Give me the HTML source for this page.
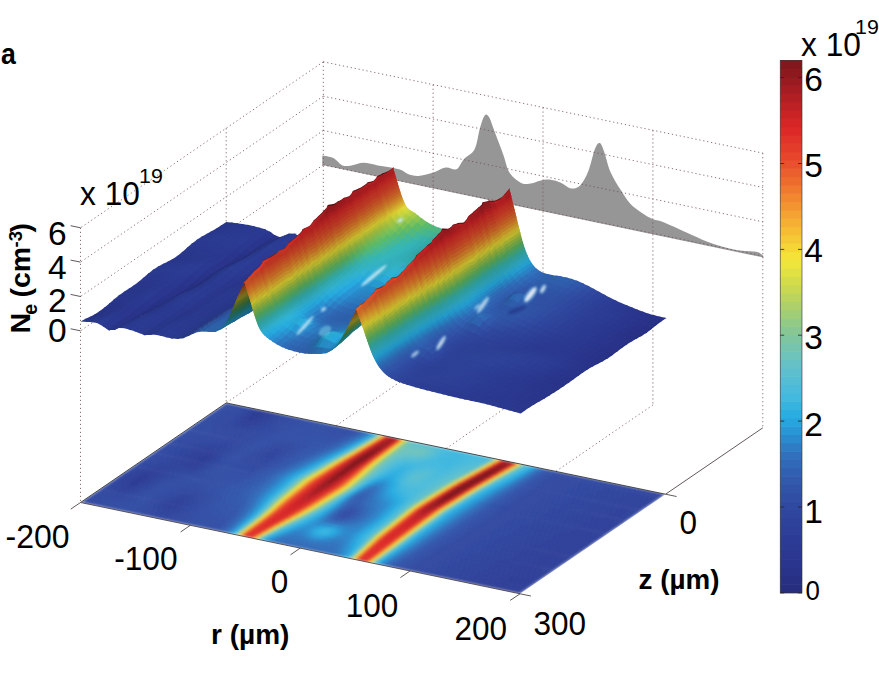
<!DOCTYPE html><html><head><meta charset="utf-8"><style>html,body{margin:0;padding:0;background:#fff;overflow:hidden}svg{display:block}text{font-family:"Liberation Sans",sans-serif}</style></head><body><svg width="879" height="673" viewBox="0 0 879 673"><rect width="879" height="673" fill="#fff"/><path d="M322.3 155.5C324.1 155.9 329.9 156.4 333.3 158.1C336.7 159.8 339.4 164.2 342.5 165.4C345.6 166.6 348.1 165.8 351.6 165.4C355.1 165.0 359.0 162.8 363.4 162.8C367.8 162.8 373.2 164.6 377.8 165.4C382.4 166.2 387.0 166.7 390.9 167.5C394.8 168.3 398.5 169.0 401.3 170.1C404.1 171.2 405.1 173.0 407.9 174.0C410.7 175.0 414.2 176.1 418.3 175.9C422.4 175.7 428.1 174.1 432.7 172.7C437.3 171.3 441.9 168.1 445.8 167.5C449.7 166.9 453.2 170.7 456.3 169.3C459.4 167.9 461.1 162.2 464.1 158.9C467.2 155.6 472.0 154.2 474.6 149.2C477.2 144.2 478.2 134.4 479.8 128.8C481.4 123.2 483.0 117.7 484.5 115.7C486.0 113.7 487.2 114.0 489.0 117.0C490.8 120.0 493.1 127.7 495.5 134.0C497.9 140.3 501.0 148.3 503.4 154.9C505.8 161.5 506.8 168.6 509.9 173.3C513.0 178.0 518.0 181.5 521.7 183.2C525.4 184.8 529.2 183.6 532.2 183.2C535.2 182.8 537.0 181.3 540.0 180.7C543.0 180.1 547.0 179.3 550.5 179.7C554.0 180.0 557.4 181.3 560.9 182.8C564.4 184.3 568.1 188.2 571.4 188.5C574.7 188.8 577.8 187.8 580.6 184.9C583.4 182.0 586.0 177.0 588.4 171.0C590.8 165.0 593.1 153.5 595.0 148.8C596.9 144.1 598.2 142.6 599.7 143.0C601.2 143.4 602.3 146.5 604.1 151.4C605.9 156.3 607.8 165.8 610.6 172.3C613.4 178.8 617.8 185.4 621.1 190.6C624.4 195.8 626.8 200.0 630.3 203.7C633.8 207.4 638.3 210.4 642.0 212.9C645.7 215.4 649.0 217.4 652.5 218.9C656.0 220.4 657.3 219.7 663.0 222.0C668.7 224.3 679.1 229.2 686.5 232.5C693.9 235.8 700.5 239.1 707.5 241.7C714.5 244.3 722.5 246.7 728.4 248.2C734.3 249.7 738.0 250.2 742.8 250.8C747.6 251.5 753.8 251.2 757.2 252.1C760.6 253.0 762.2 255.4 763.2 256.1L763.7 257.6L322.3 165.1Z" fill="#969696"/><path d="M323.3 61.8L323.3 336.6M433.1 84.7L433.1 359.4M543.0 107.5L543.0 382.2M652.9 130.3L652.9 405.0M762.8 153.1L762.8 427.8M323.3 164.9L762.8 256.1M323.3 130.5L762.8 221.8M323.3 96.2L762.8 187.4M323.3 61.8L762.8 153.1M80.5 227.8L80.5 502.5M226.2 128.2L226.2 402.9M323.3 164.9L80.5 330.8M323.3 130.5L80.5 296.5M323.3 96.2L80.5 262.1M323.3 61.8L80.5 227.8M323.3 336.6L226.2 402.9M433.1 359.4L336.0 425.8M543.0 382.2L445.9 448.6M652.9 405.0L555.8 471.4" fill="none" stroke="#6e4c4c" stroke-width="1" stroke-dasharray="1.2 2.8" opacity="0.8"/><defs><linearGradient id="f0" gradientUnits="userSpaceOnUse" x1="-200" x2="200"><stop offset="0" stop-color="#304ca3"/><stop offset="0.0462" stop-color="#304aa1"/><stop offset="0.0838" stop-color="#2c3a93"/><stop offset="0.1475" stop-color="#304aa1"/><stop offset="0.21" stop-color="#3150a6"/><stop offset="0.2875" stop-color="#304ca3"/><stop offset="0.31" stop-color="#3258ac"/><stop offset="0.325" stop-color="#2f74bf"/><stop offset="0.3362" stop-color="#28a0db"/><stop offset="0.3387" stop-color="#28ade2"/><stop offset="0.3425" stop-color="#43b9de"/><stop offset="0.3463" stop-color="#60c0cb"/><stop offset="0.3475" stop-color="#6cc3bf"/><stop offset="0.35" stop-color="#88c793"/><stop offset="0.3525" stop-color="#b8d360"/><stop offset="0.3538" stop-color="#d2db4c"/><stop offset="0.355" stop-color="#ece53d"/><stop offset="0.3563" stop-color="#f5d637"/><stop offset="0.36" stop-color="#f1872f"/><stop offset="0.3625" stop-color="#ea582d"/><stop offset="0.3638" stop-color="#e7452c"/><stop offset="0.3675" stop-color="#da2628"/><stop offset="0.3713" stop-color="#be2126"/><stop offset="0.3762" stop-color="#aa1e24"/><stop offset="0.3837" stop-color="#a01c22"/><stop offset="0.3875" stop-color="#a71d23"/><stop offset="0.3912" stop-color="#bc2125"/><stop offset="0.395" stop-color="#dd2928"/><stop offset="0.3975" stop-color="#e6412b"/><stop offset="0.3987" stop-color="#ea532c"/><stop offset="0.405" stop-color="#f5c935"/><stop offset="0.4062" stop-color="#f4df37"/><stop offset="0.4075" stop-color="#e8e33f"/><stop offset="0.41" stop-color="#c1d557"/><stop offset="0.4138" stop-color="#90c988"/><stop offset="0.4175" stop-color="#7bc5a7"/><stop offset="0.4225" stop-color="#6dc3bd"/><stop offset="0.43" stop-color="#65c1c7"/><stop offset="0.45" stop-color="#5cbfce"/><stop offset="0.475" stop-color="#59bed0"/><stop offset="0.51" stop-color="#42b8de"/><stop offset="0.55" stop-color="#40b7df"/><stop offset="0.5875" stop-color="#49bbdc"/><stop offset="0.6012" stop-color="#49bbdc"/><stop offset="0.6062" stop-color="#56bed2"/><stop offset="0.6088" stop-color="#64c1c8"/><stop offset="0.61" stop-color="#6dc3be"/><stop offset="0.6125" stop-color="#84c799"/><stop offset="0.6138" stop-color="#96ca82"/><stop offset="0.6162" stop-color="#c8d752"/><stop offset="0.6175" stop-color="#e0e143"/><stop offset="0.6188" stop-color="#f4e237"/><stop offset="0.6225" stop-color="#f29130"/><stop offset="0.6262" stop-color="#e8472c"/><stop offset="0.6288" stop-color="#de2c29"/><stop offset="0.63" stop-color="#d52527"/><stop offset="0.6338" stop-color="#b11f24"/><stop offset="0.6375" stop-color="#9c1b21"/><stop offset="0.6425" stop-color="#91191f"/><stop offset="0.6475" stop-color="#951a20"/><stop offset="0.6512" stop-color="#a41d23"/><stop offset="0.655" stop-color="#c02126"/><stop offset="0.6575" stop-color="#dc2628"/><stop offset="0.66" stop-color="#e5402b"/><stop offset="0.6613" stop-color="#e9522c"/><stop offset="0.6663" stop-color="#f6bb34"/><stop offset="0.6675" stop-color="#f5d436"/><stop offset="0.6687" stop-color="#eee63b"/><stop offset="0.6713" stop-color="#bfd559"/><stop offset="0.6737" stop-color="#92ca86"/><stop offset="0.6763" stop-color="#79c5ab"/><stop offset="0.6787" stop-color="#67c2c5"/><stop offset="0.685" stop-color="#4ebcd8"/><stop offset="0.6925" stop-color="#39b4e0"/><stop offset="0.6987" stop-color="#26abe1"/><stop offset="0.7163" stop-color="#306dba"/><stop offset="0.7312" stop-color="#3256aa"/><stop offset="0.76" stop-color="#304aa1"/><stop offset="0.9725" stop-color="#2e429c"/><stop offset="1" stop-color="#2f449c"/></linearGradient><linearGradient id="f1" gradientUnits="userSpaceOnUse" x1="-200" x2="200"><stop offset="0" stop-color="#314ca3"/><stop offset="0.045" stop-color="#304aa1"/><stop offset="0.0838" stop-color="#2b3992"/><stop offset="0.14" stop-color="#3049a1"/><stop offset="0.2062" stop-color="#3150a6"/><stop offset="0.285" stop-color="#314da4"/><stop offset="0.3075" stop-color="#3259ad"/><stop offset="0.3225" stop-color="#2f75bf"/><stop offset="0.3337" stop-color="#289eda"/><stop offset="0.3362" stop-color="#26abe1"/><stop offset="0.3412" stop-color="#47badd"/><stop offset="0.345" stop-color="#64c1c8"/><stop offset="0.3463" stop-color="#6fc3ba"/><stop offset="0.3488" stop-color="#8bc88e"/><stop offset="0.3513" stop-color="#bcd45c"/><stop offset="0.3538" stop-color="#ede53c"/><stop offset="0.355" stop-color="#f5d636"/><stop offset="0.3588" stop-color="#f1892f"/><stop offset="0.3625" stop-color="#e8472c"/><stop offset="0.3663" stop-color="#dc2628"/><stop offset="0.3713" stop-color="#b72025"/><stop offset="0.3762" stop-color="#a31c22"/><stop offset="0.3825" stop-color="#981b21"/><stop offset="0.3862" stop-color="#9d1c22"/><stop offset="0.39" stop-color="#ae1e24"/><stop offset="0.3937" stop-color="#cd2427"/><stop offset="0.395" stop-color="#db2628"/><stop offset="0.3987" stop-color="#e8492c"/><stop offset="0.405" stop-color="#f6ba34"/><stop offset="0.4075" stop-color="#f4e538"/><stop offset="0.4113" stop-color="#bfd559"/><stop offset="0.415" stop-color="#92c986"/><stop offset="0.4175" stop-color="#83c69b"/><stop offset="0.4225" stop-color="#74c4b3"/><stop offset="0.4313" stop-color="#6bc2c1"/><stop offset="0.4487" stop-color="#69c2c3"/><stop offset="0.4662" stop-color="#6cc2bf"/><stop offset="0.485" stop-color="#5bbfce"/><stop offset="0.5088" stop-color="#44b9de"/><stop offset="0.5363" stop-color="#3db6df"/><stop offset="0.565" stop-color="#45bade"/><stop offset="0.5887" stop-color="#4cbbda"/><stop offset="0.6" stop-color="#4ebcd8"/><stop offset="0.605" stop-color="#5dbfcd"/><stop offset="0.6075" stop-color="#6cc3bf"/><stop offset="0.6112" stop-color="#90c988"/><stop offset="0.6138" stop-color="#c0d558"/><stop offset="0.6162" stop-color="#f1e73a"/><stop offset="0.6188" stop-color="#f6b734"/><stop offset="0.6225" stop-color="#ec672d"/><stop offset="0.6238" stop-color="#e94f2c"/><stop offset="0.6262" stop-color="#e03129"/><stop offset="0.6275" stop-color="#da2628"/><stop offset="0.6312" stop-color="#b21f24"/><stop offset="0.635" stop-color="#991b21"/><stop offset="0.64" stop-color="#89181e"/><stop offset="0.645" stop-color="#8c191f"/><stop offset="0.6488" stop-color="#9b1b21"/><stop offset="0.6525" stop-color="#b62025"/><stop offset="0.6562" stop-color="#dd2928"/><stop offset="0.6587" stop-color="#e7442c"/><stop offset="0.6613" stop-color="#ee732e"/><stop offset="0.665" stop-color="#f6c335"/><stop offset="0.6663" stop-color="#f4dd37"/><stop offset="0.6675" stop-color="#e6e340"/><stop offset="0.6687" stop-color="#cfda4e"/><stop offset="0.6725" stop-color="#8bc88e"/><stop offset="0.6763" stop-color="#6bc2c0"/><stop offset="0.68" stop-color="#57bed1"/><stop offset="0.6875" stop-color="#41b8df"/><stop offset="0.6963" stop-color="#27ace2"/><stop offset="0.715" stop-color="#306eba"/><stop offset="0.7312" stop-color="#3255aa"/><stop offset="0.76" stop-color="#304aa1"/><stop offset="0.9712" stop-color="#2e429b"/><stop offset="1" stop-color="#2f439c"/></linearGradient><linearGradient id="f2" gradientUnits="userSpaceOnUse" x1="-200" x2="200"><stop offset="0" stop-color="#314ca3"/><stop offset="0.0462" stop-color="#3049a1"/><stop offset="0.0838" stop-color="#2c3a93"/><stop offset="0.155" stop-color="#314da4"/><stop offset="0.2213" stop-color="#3150a6"/><stop offset="0.285" stop-color="#314fa5"/><stop offset="0.305" stop-color="#325bae"/><stop offset="0.32" stop-color="#2f75bf"/><stop offset="0.3325" stop-color="#27a2dc"/><stop offset="0.335" stop-color="#29ade2"/><stop offset="0.34" stop-color="#4bbbdb"/><stop offset="0.3438" stop-color="#67c2c5"/><stop offset="0.3463" stop-color="#80c6a0"/><stop offset="0.3475" stop-color="#8ec98a"/><stop offset="0.35" stop-color="#bfd559"/><stop offset="0.3525" stop-color="#eee63b"/><stop offset="0.3538" stop-color="#f5d536"/><stop offset="0.3575" stop-color="#f18b2f"/><stop offset="0.3613" stop-color="#e8492c"/><stop offset="0.365" stop-color="#dd2828"/><stop offset="0.3713" stop-color="#b01f24"/><stop offset="0.3775" stop-color="#981b21"/><stop offset="0.3825" stop-color="#91191f"/><stop offset="0.3862" stop-color="#971b21"/><stop offset="0.39" stop-color="#a91e24"/><stop offset="0.3937" stop-color="#c82326"/><stop offset="0.3962" stop-color="#de2c29"/><stop offset="0.3987" stop-color="#e6432b"/><stop offset="0.4012" stop-color="#ed6a2d"/><stop offset="0.4062" stop-color="#f6c235"/><stop offset="0.4088" stop-color="#f1e73a"/><stop offset="0.4125" stop-color="#bdd45b"/><stop offset="0.4163" stop-color="#93ca85"/><stop offset="0.4188" stop-color="#84c799"/><stop offset="0.4238" stop-color="#76c4b0"/><stop offset="0.4325" stop-color="#6ec3bd"/><stop offset="0.4475" stop-color="#6dc3be"/><stop offset="0.465" stop-color="#6fc3ba"/><stop offset="0.4825" stop-color="#5fc0cb"/><stop offset="0.5075" stop-color="#44b9de"/><stop offset="0.5337" stop-color="#3cb5df"/><stop offset="0.56" stop-color="#42b8de"/><stop offset="0.5875" stop-color="#4fbcd7"/><stop offset="0.5988" stop-color="#53bdd4"/><stop offset="0.6038" stop-color="#64c1c8"/><stop offset="0.605" stop-color="#6cc2c0"/><stop offset="0.6088" stop-color="#8bc88d"/><stop offset="0.6125" stop-color="#d0db4d"/><stop offset="0.6138" stop-color="#e8e43f"/><stop offset="0.615" stop-color="#f5da37"/><stop offset="0.6188" stop-color="#f18a2f"/><stop offset="0.6212" stop-color="#ea572d"/><stop offset="0.6225" stop-color="#e6432b"/><stop offset="0.625" stop-color="#dd2828"/><stop offset="0.63" stop-color="#a81d23"/><stop offset="0.6338" stop-color="#8f191f"/><stop offset="0.6375" stop-color="#82171d"/><stop offset="0.6425" stop-color="#83171d"/><stop offset="0.6462" stop-color="#911a20"/><stop offset="0.65" stop-color="#ac1e24"/><stop offset="0.6538" stop-color="#d52527"/><stop offset="0.655" stop-color="#de2d29"/><stop offset="0.6575" stop-color="#e8492c"/><stop offset="0.6625" stop-color="#f5b133"/><stop offset="0.665" stop-color="#f4e538"/><stop offset="0.6675" stop-color="#c7d752"/><stop offset="0.67" stop-color="#98cb80"/><stop offset="0.6713" stop-color="#86c795"/><stop offset="0.6737" stop-color="#70c3b8"/><stop offset="0.675" stop-color="#68c2c5"/><stop offset="0.68" stop-color="#50bcd7"/><stop offset="0.6863" stop-color="#3eb6df"/><stop offset="0.695" stop-color="#26abe1"/><stop offset="0.7137" stop-color="#306ebb"/><stop offset="0.73" stop-color="#3256aa"/><stop offset="0.7588" stop-color="#304aa1"/><stop offset="0.97" stop-color="#2e429b"/><stop offset="1" stop-color="#2f439c"/></linearGradient><linearGradient id="f3" gradientUnits="userSpaceOnUse" x1="-200" x2="200"><stop offset="0" stop-color="#314ca3"/><stop offset="0.0488" stop-color="#3049a1"/><stop offset="0.0862" stop-color="#2d3d97"/><stop offset="0.1812" stop-color="#3150a6"/><stop offset="0.2838" stop-color="#3151a7"/><stop offset="0.3025" stop-color="#325caf"/><stop offset="0.3162" stop-color="#3072bd"/><stop offset="0.33" stop-color="#28a1db"/><stop offset="0.3325" stop-color="#27ace2"/><stop offset="0.3375" stop-color="#46bade"/><stop offset="0.3425" stop-color="#6ac2c2"/><stop offset="0.345" stop-color="#83c69b"/><stop offset="0.3463" stop-color="#93ca85"/><stop offset="0.3488" stop-color="#c2d656"/><stop offset="0.3513" stop-color="#f0e63a"/><stop offset="0.3525" stop-color="#f5d536"/><stop offset="0.3563" stop-color="#f18c2f"/><stop offset="0.36" stop-color="#e94c2c"/><stop offset="0.3638" stop-color="#dd2a28"/><stop offset="0.3675" stop-color="#c12126"/><stop offset="0.3738" stop-color="#9d1c22"/><stop offset="0.38" stop-color="#8a181e"/><stop offset="0.3837" stop-color="#8a181e"/><stop offset="0.3875" stop-color="#971a20"/><stop offset="0.3925" stop-color="#b92025"/><stop offset="0.3962" stop-color="#dd2828"/><stop offset="0.4" stop-color="#e94c2c"/><stop offset="0.4062" stop-color="#f6b634"/><stop offset="0.4088" stop-color="#f4de37"/><stop offset="0.41" stop-color="#ebe53d"/><stop offset="0.4125" stop-color="#cad851"/><stop offset="0.4163" stop-color="#9dcc7b"/><stop offset="0.4188" stop-color="#89c791"/><stop offset="0.4238" stop-color="#78c5ac"/><stop offset="0.4313" stop-color="#6dc3be"/><stop offset="0.4425" stop-color="#66c1c6"/><stop offset="0.4738" stop-color="#5cbfcd"/><stop offset="0.5062" stop-color="#43b9de"/><stop offset="0.5463" stop-color="#3db6df"/><stop offset="0.5713" stop-color="#4bbbda"/><stop offset="0.5962" stop-color="#57bed2"/><stop offset="0.6012" stop-color="#65c1c7"/><stop offset="0.6025" stop-color="#6cc3bf"/><stop offset="0.6062" stop-color="#89c791"/><stop offset="0.6088" stop-color="#b2d166"/><stop offset="0.61" stop-color="#cad851"/><stop offset="0.6112" stop-color="#e1e143"/><stop offset="0.6125" stop-color="#f4e338"/><stop offset="0.6162" stop-color="#f29430"/><stop offset="0.62" stop-color="#e8482c"/><stop offset="0.6225" stop-color="#de2c29"/><stop offset="0.6238" stop-color="#d32527"/><stop offset="0.6275" stop-color="#a91e24"/><stop offset="0.6312" stop-color="#8c191f"/><stop offset="0.635" stop-color="#7c161c"/><stop offset="0.6412" stop-color="#7d161c"/><stop offset="0.645" stop-color="#8f191f"/><stop offset="0.6488" stop-color="#ad1e24"/><stop offset="0.6525" stop-color="#d82528"/><stop offset="0.655" stop-color="#e53e2b"/><stop offset="0.6562" stop-color="#e9502c"/><stop offset="0.6613" stop-color="#f6b934"/><stop offset="0.6625" stop-color="#f5d336"/><stop offset="0.6637" stop-color="#efe63b"/><stop offset="0.6663" stop-color="#bfd559"/><stop offset="0.6687" stop-color="#90c988"/><stop offset="0.6725" stop-color="#6cc3be"/><stop offset="0.675" stop-color="#5dbfcd"/><stop offset="0.6813" stop-color="#46bade"/><stop offset="0.6925" stop-color="#26ace2"/><stop offset="0.7125" stop-color="#306ebb"/><stop offset="0.73" stop-color="#3255aa"/><stop offset="0.76" stop-color="#304aa1"/><stop offset="0.97" stop-color="#2e429b"/><stop offset="1" stop-color="#2f439c"/></linearGradient><linearGradient id="f4" gradientUnits="userSpaceOnUse" x1="-200" x2="200"><stop offset="0" stop-color="#314da3"/><stop offset="0.0525" stop-color="#3048a0"/><stop offset="0.0925" stop-color="#2e429b"/><stop offset="0.1837" stop-color="#3150a6"/><stop offset="0.2812" stop-color="#3152a8"/><stop offset="0.3" stop-color="#325eb0"/><stop offset="0.3137" stop-color="#2f73be"/><stop offset="0.3275" stop-color="#289fda"/><stop offset="0.33" stop-color="#26aae1"/><stop offset="0.3337" stop-color="#39b4e0"/><stop offset="0.3375" stop-color="#51bdd6"/><stop offset="0.34" stop-color="#63c1c8"/><stop offset="0.3412" stop-color="#6dc3bd"/><stop offset="0.3438" stop-color="#85c797"/><stop offset="0.345" stop-color="#97cb81"/><stop offset="0.3475" stop-color="#c5d653"/><stop offset="0.35" stop-color="#f1e73a"/><stop offset="0.3525" stop-color="#f6bd34"/><stop offset="0.3575" stop-color="#ec622d"/><stop offset="0.3588" stop-color="#e94f2c"/><stop offset="0.3613" stop-color="#e2362a"/><stop offset="0.3638" stop-color="#d82528"/><stop offset="0.3688" stop-color="#b11f24"/><stop offset="0.3762" stop-color="#8c191f"/><stop offset="0.3812" stop-color="#81171d"/><stop offset="0.385" stop-color="#87181e"/><stop offset="0.39" stop-color="#a11c22"/><stop offset="0.395" stop-color="#cd2327"/><stop offset="0.3962" stop-color="#da2628"/><stop offset="0.4" stop-color="#e7462c"/><stop offset="0.405" stop-color="#f29430"/><stop offset="0.4088" stop-color="#f5d236"/><stop offset="0.41" stop-color="#f4e538"/><stop offset="0.4125" stop-color="#d5dc4a"/><stop offset="0.4138" stop-color="#c5d753"/><stop offset="0.4175" stop-color="#9acc7e"/><stop offset="0.42" stop-color="#87c793"/><stop offset="0.425" stop-color="#76c4b0"/><stop offset="0.4325" stop-color="#68c2c5"/><stop offset="0.4562" stop-color="#53bdd4"/><stop offset="0.5012" stop-color="#44b9de"/><stop offset="0.5537" stop-color="#41b8df"/><stop offset="0.595" stop-color="#5cbfce"/><stop offset="0.5988" stop-color="#67c2c5"/><stop offset="0.6012" stop-color="#74c4b2"/><stop offset="0.6038" stop-color="#87c793"/><stop offset="0.6062" stop-color="#add06b"/><stop offset="0.6075" stop-color="#c4d654"/><stop offset="0.61" stop-color="#f2e739"/><stop offset="0.6125" stop-color="#f6b834"/><stop offset="0.6175" stop-color="#e9512c"/><stop offset="0.62" stop-color="#e03129"/><stop offset="0.6212" stop-color="#d92628"/><stop offset="0.625" stop-color="#ac1e24"/><stop offset="0.63" stop-color="#85181e"/><stop offset="0.6325" stop-color="#7c161c"/><stop offset="0.64" stop-color="#7c161c"/><stop offset="0.6425" stop-color="#87181e"/><stop offset="0.6462" stop-color="#a31d23"/><stop offset="0.65" stop-color="#cc2327"/><stop offset="0.6512" stop-color="#dc2728"/><stop offset="0.6538" stop-color="#e6422b"/><stop offset="0.6562" stop-color="#ee702d"/><stop offset="0.66" stop-color="#f6c135"/><stop offset="0.6613" stop-color="#f5db37"/><stop offset="0.6625" stop-color="#e7e33f"/><stop offset="0.6637" stop-color="#cfda4d"/><stop offset="0.6675" stop-color="#8ac88f"/><stop offset="0.6713" stop-color="#69c2c4"/><stop offset="0.6763" stop-color="#4ebcd8"/><stop offset="0.6813" stop-color="#3eb6df"/><stop offset="0.69" stop-color="#26ace2"/><stop offset="0.7125" stop-color="#306cb9"/><stop offset="0.73" stop-color="#3255a9"/><stop offset="0.7612" stop-color="#3049a1"/><stop offset="0.97" stop-color="#2e429b"/><stop offset="1" stop-color="#2e439c"/></linearGradient><linearGradient id="f5" gradientUnits="userSpaceOnUse" x1="-200" x2="200"><stop offset="0" stop-color="#314da3"/><stop offset="0.0663" stop-color="#30469f"/><stop offset="0.1163" stop-color="#3047a0"/><stop offset="0.1812" stop-color="#3150a6"/><stop offset="0.2313" stop-color="#314fa5"/><stop offset="0.285" stop-color="#3255aa"/><stop offset="0.3038" stop-color="#3167b6"/><stop offset="0.3125" stop-color="#2f78c1"/><stop offset="0.3262" stop-color="#27a3dd"/><stop offset="0.3287" stop-color="#28ade2"/><stop offset="0.3337" stop-color="#46bade"/><stop offset="0.3387" stop-color="#66c1c6"/><stop offset="0.3412" stop-color="#7cc5a6"/><stop offset="0.3425" stop-color="#88c792"/><stop offset="0.3463" stop-color="#c7d752"/><stop offset="0.3488" stop-color="#f2e739"/><stop offset="0.3525" stop-color="#f4a632"/><stop offset="0.3575" stop-color="#e9512c"/><stop offset="0.36" stop-color="#e2372a"/><stop offset="0.3625" stop-color="#da2628"/><stop offset="0.3688" stop-color="#ab1e24"/><stop offset="0.3762" stop-color="#84171d"/><stop offset="0.3787" stop-color="#7c161c"/><stop offset="0.3837" stop-color="#7d161c"/><stop offset="0.3887" stop-color="#951a20"/><stop offset="0.3937" stop-color="#bd2125"/><stop offset="0.3962" stop-color="#d62527"/><stop offset="0.3987" stop-color="#e2362a"/><stop offset="0.4012" stop-color="#e94f2c"/><stop offset="0.4088" stop-color="#f5c635"/><stop offset="0.4113" stop-color="#f1e73a"/><stop offset="0.415" stop-color="#c1d557"/><stop offset="0.4188" stop-color="#97cb81"/><stop offset="0.4213" stop-color="#86c796"/><stop offset="0.4263" stop-color="#73c4b3"/><stop offset="0.4313" stop-color="#68c2c4"/><stop offset="0.455" stop-color="#49bbdb"/><stop offset="0.4763" stop-color="#3db6df"/><stop offset="0.4988" stop-color="#44b9de"/><stop offset="0.5238" stop-color="#4bbbda"/><stop offset="0.555" stop-color="#44b9de"/><stop offset="0.5925" stop-color="#5fc0cc"/><stop offset="0.5962" stop-color="#69c2c4"/><stop offset="0.6" stop-color="#7dc5a4"/><stop offset="0.6025" stop-color="#94ca84"/><stop offset="0.605" stop-color="#bed55a"/><stop offset="0.6075" stop-color="#ebe53d"/><stop offset="0.6088" stop-color="#f5d937"/><stop offset="0.6125" stop-color="#f18b2f"/><stop offset="0.615" stop-color="#ea592d"/><stop offset="0.6162" stop-color="#e7442c"/><stop offset="0.6188" stop-color="#dd2828"/><stop offset="0.6238" stop-color="#a51d23"/><stop offset="0.6288" stop-color="#80171d"/><stop offset="0.6312" stop-color="#7c161c"/><stop offset="0.6388" stop-color="#7c161c"/><stop offset="0.6425" stop-color="#911a20"/><stop offset="0.6462" stop-color="#b31f25"/><stop offset="0.6488" stop-color="#d12427"/><stop offset="0.65" stop-color="#de2a29"/><stop offset="0.6525" stop-color="#e8472c"/><stop offset="0.6562" stop-color="#f29330"/><stop offset="0.66" stop-color="#f4e338"/><stop offset="0.6613" stop-color="#e0e144"/><stop offset="0.6625" stop-color="#c8d852"/><stop offset="0.665" stop-color="#97cb81"/><stop offset="0.6663" stop-color="#86c796"/><stop offset="0.6687" stop-color="#6ec3bb"/><stop offset="0.67" stop-color="#65c1c7"/><stop offset="0.675" stop-color="#4bbbda"/><stop offset="0.685" stop-color="#2dafe1"/><stop offset="0.6887" stop-color="#26a9e0"/><stop offset="0.7113" stop-color="#306cb9"/><stop offset="0.7288" stop-color="#3255aa"/><stop offset="0.7612" stop-color="#3049a1"/><stop offset="0.9688" stop-color="#2e419b"/><stop offset="1" stop-color="#2e439c"/></linearGradient><linearGradient id="f6" gradientUnits="userSpaceOnUse" x1="-200" x2="200"><stop offset="0" stop-color="#314da3"/><stop offset="0.1075" stop-color="#30479f"/><stop offset="0.1762" stop-color="#314fa6"/><stop offset="0.215" stop-color="#304aa2"/><stop offset="0.2838" stop-color="#3257ac"/><stop offset="0.3063" stop-color="#3071bc"/><stop offset="0.3225" stop-color="#289fda"/><stop offset="0.3262" stop-color="#28ade2"/><stop offset="0.3325" stop-color="#4bbbda"/><stop offset="0.3362" stop-color="#63c1c9"/><stop offset="0.3375" stop-color="#6cc3bf"/><stop offset="0.3412" stop-color="#90c988"/><stop offset="0.3438" stop-color="#bad35e"/><stop offset="0.3463" stop-color="#e3e242"/><stop offset="0.3475" stop-color="#f4e438"/><stop offset="0.3513" stop-color="#f4a332"/><stop offset="0.3563" stop-color="#e9522c"/><stop offset="0.3588" stop-color="#e3392a"/><stop offset="0.3613" stop-color="#dc2728"/><stop offset="0.3688" stop-color="#a81d23"/><stop offset="0.3762" stop-color="#81171d"/><stop offset="0.3787" stop-color="#7c161c"/><stop offset="0.3837" stop-color="#7c161c"/><stop offset="0.3887" stop-color="#951a20"/><stop offset="0.395" stop-color="#c72226"/><stop offset="0.3975" stop-color="#dd2828"/><stop offset="0.4012" stop-color="#e8472c"/><stop offset="0.4075" stop-color="#f4a332"/><stop offset="0.4113" stop-color="#f5db37"/><stop offset="0.4125" stop-color="#f0e63b"/><stop offset="0.4163" stop-color="#c1d557"/><stop offset="0.4213" stop-color="#8dc88b"/><stop offset="0.4263" stop-color="#77c4ad"/><stop offset="0.4325" stop-color="#67c2c5"/><stop offset="0.4562" stop-color="#43b9de"/><stop offset="0.4713" stop-color="#36b3e0"/><stop offset="0.4875" stop-color="#3bb5df"/><stop offset="0.51" stop-color="#50bcd7"/><stop offset="0.5275" stop-color="#52bdd5"/><stop offset="0.555" stop-color="#47badd"/><stop offset="0.5875" stop-color="#5dbfcd"/><stop offset="0.5938" stop-color="#6ac2c3"/><stop offset="0.5975" stop-color="#7cc5a5"/><stop offset="0.6" stop-color="#92c986"/><stop offset="0.6038" stop-color="#cfda4e"/><stop offset="0.605" stop-color="#e5e241"/><stop offset="0.6062" stop-color="#f4e037"/><stop offset="0.61" stop-color="#f29430"/><stop offset="0.6138" stop-color="#e84a2c"/><stop offset="0.6162" stop-color="#de2d29"/><stop offset="0.6175" stop-color="#d42527"/><stop offset="0.6212" stop-color="#a91d23"/><stop offset="0.6262" stop-color="#82171d"/><stop offset="0.6275" stop-color="#7c161c"/><stop offset="0.6375" stop-color="#7c161c"/><stop offset="0.6412" stop-color="#931a20"/><stop offset="0.645" stop-color="#b72025"/><stop offset="0.6475" stop-color="#d52527"/><stop offset="0.65" stop-color="#e43c2b"/><stop offset="0.6512" stop-color="#e94d2c"/><stop offset="0.6562" stop-color="#f6b634"/><stop offset="0.6587" stop-color="#f2e739"/><stop offset="0.6613" stop-color="#c1d557"/><stop offset="0.6637" stop-color="#90c988"/><stop offset="0.6675" stop-color="#6bc2c1"/><stop offset="0.6725" stop-color="#4dbcd9"/><stop offset="0.6775" stop-color="#3ab5e0"/><stop offset="0.685" stop-color="#26ace2"/><stop offset="0.71" stop-color="#306cb9"/><stop offset="0.7288" stop-color="#3254a9"/><stop offset="0.7625" stop-color="#3049a1"/><stop offset="0.9688" stop-color="#2e419b"/><stop offset="1" stop-color="#2e439c"/></linearGradient><linearGradient id="f7" gradientUnits="userSpaceOnUse" x1="-200" x2="200"><stop offset="0" stop-color="#314da3"/><stop offset="0.11" stop-color="#30479f"/><stop offset="0.1713" stop-color="#3150a6"/><stop offset="0.2112" stop-color="#30479f"/><stop offset="0.2812" stop-color="#3259ad"/><stop offset="0.3025" stop-color="#3072bd"/><stop offset="0.32" stop-color="#27a2dc"/><stop offset="0.3225" stop-color="#26ace2"/><stop offset="0.3287" stop-color="#46bade"/><stop offset="0.3337" stop-color="#63c1c9"/><stop offset="0.335" stop-color="#6cc2c0"/><stop offset="0.3387" stop-color="#8bc88d"/><stop offset="0.3425" stop-color="#c7d753"/><stop offset="0.345" stop-color="#ede63c"/><stop offset="0.3463" stop-color="#f5db37"/><stop offset="0.35" stop-color="#f39d31"/><stop offset="0.355" stop-color="#e9522c"/><stop offset="0.3575" stop-color="#e33b2a"/><stop offset="0.36" stop-color="#dd2a28"/><stop offset="0.365" stop-color="#be2125"/><stop offset="0.375" stop-color="#88181e"/><stop offset="0.3787" stop-color="#7c161c"/><stop offset="0.3837" stop-color="#80171d"/><stop offset="0.3887" stop-color="#991b21"/><stop offset="0.3962" stop-color="#d12427"/><stop offset="0.3975" stop-color="#dc2628"/><stop offset="0.4025" stop-color="#e94d2c"/><stop offset="0.4113" stop-color="#f5c735"/><stop offset="0.4138" stop-color="#f3e838"/><stop offset="0.4175" stop-color="#c7d752"/><stop offset="0.4225" stop-color="#93ca85"/><stop offset="0.4263" stop-color="#7fc6a2"/><stop offset="0.4325" stop-color="#6bc2c1"/><stop offset="0.4512" stop-color="#49bbdc"/><stop offset="0.4675" stop-color="#33b2e0"/><stop offset="0.4813" stop-color="#33b1e0"/><stop offset="0.5012" stop-color="#4bbbda"/><stop offset="0.5188" stop-color="#59bed0"/><stop offset="0.5363" stop-color="#52bdd5"/><stop offset="0.5563" stop-color="#49bbdc"/><stop offset="0.5825" stop-color="#5cbfce"/><stop offset="0.59" stop-color="#67c2c6"/><stop offset="0.5925" stop-color="#6fc3ba"/><stop offset="0.5962" stop-color="#84c798"/><stop offset="0.5975" stop-color="#8fc989"/><stop offset="0.6012" stop-color="#cad851"/><stop offset="0.6038" stop-color="#f4e738"/><stop offset="0.6075" stop-color="#f39c31"/><stop offset="0.6112" stop-color="#e9512c"/><stop offset="0.6138" stop-color="#e03129"/><stop offset="0.615" stop-color="#da2628"/><stop offset="0.6188" stop-color="#ad1e24"/><stop offset="0.6238" stop-color="#85171d"/><stop offset="0.625" stop-color="#7e161c"/><stop offset="0.6362" stop-color="#7d161c"/><stop offset="0.6412" stop-color="#a11c22"/><stop offset="0.645" stop-color="#c92326"/><stop offset="0.6462" stop-color="#da2628"/><stop offset="0.6488" stop-color="#e5402b"/><stop offset="0.65" stop-color="#ea532c"/><stop offset="0.655" stop-color="#f6bd34"/><stop offset="0.6562" stop-color="#f5d837"/><stop offset="0.6575" stop-color="#ebe53d"/><stop offset="0.66" stop-color="#b9d35f"/><stop offset="0.6625" stop-color="#8ac88f"/><stop offset="0.665" stop-color="#71c3b7"/><stop offset="0.6663" stop-color="#67c2c6"/><stop offset="0.6713" stop-color="#4abbdb"/><stop offset="0.6787" stop-color="#2fb0e1"/><stop offset="0.6825" stop-color="#26ace2"/><stop offset="0.7087" stop-color="#306cb9"/><stop offset="0.7275" stop-color="#3255aa"/><stop offset="0.7612" stop-color="#3049a1"/><stop offset="0.9675" stop-color="#2e419a"/><stop offset="1" stop-color="#2e429c"/></linearGradient><linearGradient id="f8" gradientUnits="userSpaceOnUse" x1="-200" x2="200"><stop offset="0" stop-color="#314da3"/><stop offset="0.1087" stop-color="#30479f"/><stop offset="0.1675" stop-color="#3150a6"/><stop offset="0.21" stop-color="#2f449d"/><stop offset="0.2775" stop-color="#325aad"/><stop offset="0.2988" stop-color="#3072bd"/><stop offset="0.3175" stop-color="#27a3dd"/><stop offset="0.32" stop-color="#27ace2"/><stop offset="0.3262" stop-color="#45bade"/><stop offset="0.3325" stop-color="#68c2c4"/><stop offset="0.3362" stop-color="#86c796"/><stop offset="0.3387" stop-color="#a6cf72"/><stop offset="0.3412" stop-color="#ccd94f"/><stop offset="0.3438" stop-color="#f1e73a"/><stop offset="0.3463" stop-color="#f5c535"/><stop offset="0.3525" stop-color="#ec672d"/><stop offset="0.355" stop-color="#e8482c"/><stop offset="0.36" stop-color="#dc2728"/><stop offset="0.3738" stop-color="#90191f"/><stop offset="0.3787" stop-color="#7f161c"/><stop offset="0.3825" stop-color="#7f171d"/><stop offset="0.3875" stop-color="#931a20"/><stop offset="0.3962" stop-color="#cc2327"/><stop offset="0.3987" stop-color="#dd2928"/><stop offset="0.4037" stop-color="#e94d2c"/><stop offset="0.4125" stop-color="#f6c135"/><stop offset="0.415" stop-color="#f4e137"/><stop offset="0.4163" stop-color="#ece53d"/><stop offset="0.42" stop-color="#c2d656"/><stop offset="0.425" stop-color="#91c987"/><stop offset="0.43" stop-color="#79c5ab"/><stop offset="0.435" stop-color="#69c2c4"/><stop offset="0.4537" stop-color="#45b9de"/><stop offset="0.4675" stop-color="#2eafe1"/><stop offset="0.48" stop-color="#2baee1"/><stop offset="0.495" stop-color="#3eb6df"/><stop offset="0.5138" stop-color="#56bed2"/><stop offset="0.5288" stop-color="#58bed1"/><stop offset="0.555" stop-color="#4abbdb"/><stop offset="0.575" stop-color="#56bed2"/><stop offset="0.5875" stop-color="#66c1c6"/><stop offset="0.59" stop-color="#6dc3be"/><stop offset="0.5938" stop-color="#7fc6a0"/><stop offset="0.5962" stop-color="#95ca83"/><stop offset="0.6" stop-color="#d0db4d"/><stop offset="0.6012" stop-color="#e5e241"/><stop offset="0.6025" stop-color="#f4e037"/><stop offset="0.6062" stop-color="#f29630"/><stop offset="0.61" stop-color="#e94d2c"/><stop offset="0.6125" stop-color="#df2f29"/><stop offset="0.6138" stop-color="#d82528"/><stop offset="0.6175" stop-color="#ac1e24"/><stop offset="0.6225" stop-color="#85181e"/><stop offset="0.625" stop-color="#7c161c"/><stop offset="0.635" stop-color="#7f161c"/><stop offset="0.64" stop-color="#a21c22"/><stop offset="0.6438" stop-color="#cb2327"/><stop offset="0.645" stop-color="#db2628"/><stop offset="0.6475" stop-color="#e5412b"/><stop offset="0.6488" stop-color="#ea542c"/><stop offset="0.6538" stop-color="#f6bd34"/><stop offset="0.655" stop-color="#f5d737"/><stop offset="0.6562" stop-color="#ebe53d"/><stop offset="0.6587" stop-color="#bad35e"/><stop offset="0.6613" stop-color="#8bc88e"/><stop offset="0.6637" stop-color="#71c3b7"/><stop offset="0.665" stop-color="#67c1c6"/><stop offset="0.67" stop-color="#49bbdc"/><stop offset="0.6763" stop-color="#30b0e1"/><stop offset="0.6813" stop-color="#26aae1"/><stop offset="0.7075" stop-color="#306cb9"/><stop offset="0.7275" stop-color="#3254a9"/><stop offset="0.7625" stop-color="#3049a1"/><stop offset="0.9675" stop-color="#2e419a"/><stop offset="1" stop-color="#2e429b"/></linearGradient><linearGradient id="f9" gradientUnits="userSpaceOnUse" x1="-200" x2="200"><stop offset="0" stop-color="#314ca3"/><stop offset="0.1075" stop-color="#2f459e"/><stop offset="0.1625" stop-color="#3150a6"/><stop offset="0.21" stop-color="#2f439c"/><stop offset="0.275" stop-color="#325aad"/><stop offset="0.2963" stop-color="#2f73be"/><stop offset="0.315" stop-color="#27a3dd"/><stop offset="0.3175" stop-color="#26ace2"/><stop offset="0.325" stop-color="#49bbdc"/><stop offset="0.33" stop-color="#64c1c8"/><stop offset="0.3312" stop-color="#6cc2c0"/><stop offset="0.335" stop-color="#88c792"/><stop offset="0.3387" stop-color="#bbd45d"/><stop offset="0.3412" stop-color="#dee045"/><stop offset="0.3425" stop-color="#f0e63a"/><stop offset="0.3438" stop-color="#f5da37"/><stop offset="0.3475" stop-color="#f4a332"/><stop offset="0.3525" stop-color="#eb5f2d"/><stop offset="0.355" stop-color="#e7452c"/><stop offset="0.36" stop-color="#dc2728"/><stop offset="0.3762" stop-color="#8a181e"/><stop offset="0.38" stop-color="#80171d"/><stop offset="0.3837" stop-color="#84171d"/><stop offset="0.39" stop-color="#a11c22"/><stop offset="0.3987" stop-color="#d82528"/><stop offset="0.4037" stop-color="#e5402b"/><stop offset="0.4062" stop-color="#ea572d"/><stop offset="0.415" stop-color="#f5c535"/><stop offset="0.4175" stop-color="#f4e438"/><stop offset="0.4188" stop-color="#eae43e"/><stop offset="0.4225" stop-color="#c1d557"/><stop offset="0.4275" stop-color="#90c988"/><stop offset="0.4338" stop-color="#73c4b4"/><stop offset="0.4375" stop-color="#67c2c5"/><stop offset="0.4537" stop-color="#41b8df"/><stop offset="0.4662" stop-color="#27ace2"/><stop offset="0.4775" stop-color="#27a6de"/><stop offset="0.4875" stop-color="#28ade2"/><stop offset="0.51" stop-color="#4bbbda"/><stop offset="0.5262" stop-color="#54bdd4"/><stop offset="0.5575" stop-color="#4bbbdb"/><stop offset="0.5813" stop-color="#5dbfcd"/><stop offset="0.5875" stop-color="#69c2c4"/><stop offset="0.5913" stop-color="#78c5ac"/><stop offset="0.5938" stop-color="#87c793"/><stop offset="0.5962" stop-color="#a6ce72"/><stop offset="0.5988" stop-color="#cdda4e"/><stop offset="0.6012" stop-color="#f4e438"/><stop offset="0.605" stop-color="#f39c31"/><stop offset="0.6088" stop-color="#ea542c"/><stop offset="0.6112" stop-color="#e1342a"/><stop offset="0.6125" stop-color="#dd2728"/><stop offset="0.6175" stop-color="#a71d23"/><stop offset="0.6225" stop-color="#84171d"/><stop offset="0.625" stop-color="#7c161c"/><stop offset="0.6325" stop-color="#7c161c"/><stop offset="0.6375" stop-color="#991b21"/><stop offset="0.6412" stop-color="#bc2125"/><stop offset="0.6438" stop-color="#da2628"/><stop offset="0.6462" stop-color="#e53e2b"/><stop offset="0.6475" stop-color="#e9502c"/><stop offset="0.6525" stop-color="#f6b634"/><stop offset="0.655" stop-color="#f3e839"/><stop offset="0.6575" stop-color="#c2d656"/><stop offset="0.66" stop-color="#91c987"/><stop offset="0.6625" stop-color="#75c4b1"/><stop offset="0.6637" stop-color="#6ac2c2"/><stop offset="0.6687" stop-color="#4abbdb"/><stop offset="0.675" stop-color="#30b0e1"/><stop offset="0.6787" stop-color="#26ace2"/><stop offset="0.7063" stop-color="#306cba"/><stop offset="0.7262" stop-color="#3255aa"/><stop offset="0.7612" stop-color="#3049a1"/><stop offset="0.9663" stop-color="#2e409a"/><stop offset="1" stop-color="#2e429b"/></linearGradient><linearGradient id="f10" gradientUnits="userSpaceOnUse" x1="-200" x2="200"><stop offset="0" stop-color="#314ca3"/><stop offset="0.1062" stop-color="#2e439c"/><stop offset="0.1575" stop-color="#3150a6"/><stop offset="0.1925" stop-color="#2f469e"/><stop offset="0.2188" stop-color="#2f459e"/><stop offset="0.2725" stop-color="#325bae"/><stop offset="0.2938" stop-color="#2f75bf"/><stop offset="0.3125" stop-color="#27a3dd"/><stop offset="0.315" stop-color="#26abe2"/><stop offset="0.3225" stop-color="#47badd"/><stop offset="0.3287" stop-color="#67c1c6"/><stop offset="0.3325" stop-color="#80c69e"/><stop offset="0.3337" stop-color="#8ac88f"/><stop offset="0.3375" stop-color="#bcd45c"/><stop offset="0.3412" stop-color="#eee63b"/><stop offset="0.3425" stop-color="#f4dd37"/><stop offset="0.3475" stop-color="#f39731"/><stop offset="0.3525" stop-color="#ea592d"/><stop offset="0.355" stop-color="#e6422b"/><stop offset="0.36" stop-color="#dd2828"/><stop offset="0.3775" stop-color="#8a181e"/><stop offset="0.3812" stop-color="#83171d"/><stop offset="0.385" stop-color="#8a181e"/><stop offset="0.395" stop-color="#bc2125"/><stop offset="0.4" stop-color="#da2628"/><stop offset="0.4062" stop-color="#e8472c"/><stop offset="0.4125" stop-color="#f18d2f"/><stop offset="0.4175" stop-color="#f5cb36"/><stop offset="0.42" stop-color="#f3e838"/><stop offset="0.425" stop-color="#bdd45b"/><stop offset="0.43" stop-color="#8cc88c"/><stop offset="0.4363" stop-color="#6fc3ba"/><stop offset="0.44" stop-color="#62c0c9"/><stop offset="0.4512" stop-color="#42b8df"/><stop offset="0.46" stop-color="#26ace2"/><stop offset="0.47" stop-color="#2999d7"/><stop offset="0.48" stop-color="#2997d6"/><stop offset="0.4963" stop-color="#27ace2"/><stop offset="0.5175" stop-color="#48badd"/><stop offset="0.5363" stop-color="#4cbbd9"/><stop offset="0.56" stop-color="#4bbbda"/><stop offset="0.5825" stop-color="#60c0cb"/><stop offset="0.5863" stop-color="#68c2c5"/><stop offset="0.59" stop-color="#77c4ae"/><stop offset="0.5925" stop-color="#86c795"/><stop offset="0.5938" stop-color="#92c986"/><stop offset="0.5975" stop-color="#cad850"/><stop offset="0.6" stop-color="#f4e838"/><stop offset="0.6038" stop-color="#f4a232"/><stop offset="0.6075" stop-color="#eb5a2d"/><stop offset="0.6088" stop-color="#e7462c"/><stop offset="0.6112" stop-color="#de2c29"/><stop offset="0.6125" stop-color="#d52527"/><stop offset="0.6162" stop-color="#ae1e24"/><stop offset="0.6212" stop-color="#8b181e"/><stop offset="0.625" stop-color="#7c161c"/><stop offset="0.63" stop-color="#7c161c"/><stop offset="0.6338" stop-color="#8b191f"/><stop offset="0.6388" stop-color="#b01f24"/><stop offset="0.6425" stop-color="#d92528"/><stop offset="0.645" stop-color="#e43c2b"/><stop offset="0.6462" stop-color="#e84b2c"/><stop offset="0.6512" stop-color="#f5af33"/><stop offset="0.6538" stop-color="#f4e237"/><stop offset="0.655" stop-color="#e2e143"/><stop offset="0.6562" stop-color="#cad851"/><stop offset="0.6587" stop-color="#99cb7f"/><stop offset="0.66" stop-color="#86c795"/><stop offset="0.6625" stop-color="#6ec3bd"/><stop offset="0.665" stop-color="#5abfcf"/><stop offset="0.6687" stop-color="#46bade"/><stop offset="0.675" stop-color="#2cafe1"/><stop offset="0.6787" stop-color="#27a8e0"/><stop offset="0.705" stop-color="#306dba"/><stop offset="0.7262" stop-color="#3254a9"/><stop offset="0.7612" stop-color="#3049a1"/><stop offset="0.965" stop-color="#2e409a"/><stop offset="1" stop-color="#2e429b"/></linearGradient><linearGradient id="f11" gradientUnits="userSpaceOnUse" x1="-200" x2="200"><stop offset="0" stop-color="#314ca3"/><stop offset="0.0838" stop-color="#2e419a"/><stop offset="0.1113" stop-color="#2e429b"/><stop offset="0.1537" stop-color="#3150a6"/><stop offset="0.1875" stop-color="#3048a0"/><stop offset="0.2175" stop-color="#2f469e"/><stop offset="0.2687" stop-color="#325aae"/><stop offset="0.2913" stop-color="#2f76c0"/><stop offset="0.3113" stop-color="#27a7df"/><stop offset="0.3137" stop-color="#29ade2"/><stop offset="0.3212" stop-color="#4abbdb"/><stop offset="0.3275" stop-color="#6ac2c3"/><stop offset="0.3325" stop-color="#8cc88c"/><stop offset="0.3362" stop-color="#bdd45b"/><stop offset="0.34" stop-color="#ede53c"/><stop offset="0.3412" stop-color="#f4df37"/><stop offset="0.3463" stop-color="#f39d31"/><stop offset="0.3525" stop-color="#ea542c"/><stop offset="0.355" stop-color="#e5402b"/><stop offset="0.36" stop-color="#dd2828"/><stop offset="0.3787" stop-color="#8a181e"/><stop offset="0.3825" stop-color="#86181e"/><stop offset="0.3875" stop-color="#951a20"/><stop offset="0.4012" stop-color="#dc2628"/><stop offset="0.4075" stop-color="#e7462c"/><stop offset="0.4125" stop-color="#ef792e"/><stop offset="0.4188" stop-color="#f5c535"/><stop offset="0.4213" stop-color="#f4e237"/><stop offset="0.4225" stop-color="#ece53d"/><stop offset="0.4263" stop-color="#c4d654"/><stop offset="0.4313" stop-color="#8fc989"/><stop offset="0.4375" stop-color="#6dc3bd"/><stop offset="0.44" stop-color="#63c1c9"/><stop offset="0.4487" stop-color="#43b8de"/><stop offset="0.455" stop-color="#28ade2"/><stop offset="0.465" stop-color="#2b8dcf"/><stop offset="0.4738" stop-color="#2d82c8"/><stop offset="0.485" stop-color="#2b89cd"/><stop offset="0.5062" stop-color="#28ade2"/><stop offset="0.5262" stop-color="#41b8df"/><stop offset="0.5637" stop-color="#4bbbda"/><stop offset="0.5825" stop-color="#60c0cb"/><stop offset="0.5863" stop-color="#6ac2c2"/><stop offset="0.59" stop-color="#7cc5a6"/><stop offset="0.5925" stop-color="#8ec98a"/><stop offset="0.5962" stop-color="#c6d753"/><stop offset="0.5988" stop-color="#efe63b"/><stop offset="0.6" stop-color="#f5d737"/><stop offset="0.6038" stop-color="#f29030"/><stop offset="0.6075" stop-color="#e94c2c"/><stop offset="0.6112" stop-color="#dc2628"/><stop offset="0.6162" stop-color="#aa1e24"/><stop offset="0.6212" stop-color="#8b181e"/><stop offset="0.625" stop-color="#7f171d"/><stop offset="0.6288" stop-color="#80171d"/><stop offset="0.6325" stop-color="#8e191f"/><stop offset="0.6375" stop-color="#b11f24"/><stop offset="0.6412" stop-color="#d82528"/><stop offset="0.6438" stop-color="#e33b2a"/><stop offset="0.645" stop-color="#e8482c"/><stop offset="0.6488" stop-color="#f18e2f"/><stop offset="0.6525" stop-color="#f5da37"/><stop offset="0.6538" stop-color="#e9e43e"/><stop offset="0.6562" stop-color="#b9d35f"/><stop offset="0.6587" stop-color="#8bc88e"/><stop offset="0.6613" stop-color="#72c3b6"/><stop offset="0.6625" stop-color="#67c2c6"/><stop offset="0.6675" stop-color="#48badd"/><stop offset="0.6737" stop-color="#2cafe1"/><stop offset="0.6775" stop-color="#27a8e0"/><stop offset="0.7037" stop-color="#306dba"/><stop offset="0.725" stop-color="#3255aa"/><stop offset="0.76" stop-color="#3049a1"/><stop offset="0.965" stop-color="#2e409a"/><stop offset="1" stop-color="#2e429b"/></linearGradient><linearGradient id="f12" gradientUnits="userSpaceOnUse" x1="-200" x2="200"><stop offset="0" stop-color="#304ca3"/><stop offset="0.0762" stop-color="#2e419a"/><stop offset="0.105" stop-color="#2d3d97"/><stop offset="0.1512" stop-color="#3150a6"/><stop offset="0.1925" stop-color="#3048a0"/><stop offset="0.2263" stop-color="#3049a1"/><stop offset="0.2662" stop-color="#325bae"/><stop offset="0.2875" stop-color="#2f75bf"/><stop offset="0.3088" stop-color="#27a7df"/><stop offset="0.3113" stop-color="#29ade2"/><stop offset="0.3187" stop-color="#48badd"/><stop offset="0.325" stop-color="#65c1c7"/><stop offset="0.3275" stop-color="#74c4b3"/><stop offset="0.3312" stop-color="#8fc989"/><stop offset="0.335" stop-color="#bed45a"/><stop offset="0.3387" stop-color="#ebe53d"/><stop offset="0.34" stop-color="#f4e137"/><stop offset="0.3463" stop-color="#f29330"/><stop offset="0.3525" stop-color="#e9502c"/><stop offset="0.3563" stop-color="#e3392a"/><stop offset="0.3613" stop-color="#da2628"/><stop offset="0.3787" stop-color="#8e191f"/><stop offset="0.3825" stop-color="#89181e"/><stop offset="0.3875" stop-color="#961a20"/><stop offset="0.4025" stop-color="#dd2828"/><stop offset="0.4088" stop-color="#e7462c"/><stop offset="0.4138" stop-color="#ef762e"/><stop offset="0.4213" stop-color="#f5ce36"/><stop offset="0.4238" stop-color="#f1e73a"/><stop offset="0.4275" stop-color="#c8d852"/><stop offset="0.4325" stop-color="#91c987"/><stop offset="0.4387" stop-color="#6bc2c1"/><stop offset="0.4462" stop-color="#48bbdc"/><stop offset="0.4525" stop-color="#27ace2"/><stop offset="0.4612" stop-color="#2c85ca"/><stop offset="0.4688" stop-color="#3072bd"/><stop offset="0.4788" stop-color="#3070bc"/><stop offset="0.515" stop-color="#26ace2"/><stop offset="0.5363" stop-color="#39b4e0"/><stop offset="0.5613" stop-color="#46bade"/><stop offset="0.58" stop-color="#5abfcf"/><stop offset="0.585" stop-color="#68c2c5"/><stop offset="0.5887" stop-color="#7ac5aa"/><stop offset="0.5913" stop-color="#8bc88e"/><stop offset="0.595" stop-color="#c2d556"/><stop offset="0.5975" stop-color="#eae43e"/><stop offset="0.5988" stop-color="#f4dc37"/><stop offset="0.6025" stop-color="#f29730"/><stop offset="0.6062" stop-color="#ea542c"/><stop offset="0.6088" stop-color="#e2362a"/><stop offset="0.61" stop-color="#de2b29"/><stop offset="0.6125" stop-color="#c82326"/><stop offset="0.6175" stop-color="#9f1c22"/><stop offset="0.6225" stop-color="#88181e"/><stop offset="0.6262" stop-color="#83171d"/><stop offset="0.63" stop-color="#8b191f"/><stop offset="0.635" stop-color="#a81d23"/><stop offset="0.64" stop-color="#d72528"/><stop offset="0.6425" stop-color="#e3392a"/><stop offset="0.6438" stop-color="#e7462c"/><stop offset="0.6475" stop-color="#f1882f"/><stop offset="0.6512" stop-color="#f5d336"/><stop offset="0.6525" stop-color="#f1e73a"/><stop offset="0.655" stop-color="#c2d556"/><stop offset="0.6575" stop-color="#92c986"/><stop offset="0.66" stop-color="#76c4b0"/><stop offset="0.6613" stop-color="#6ac2c2"/><stop offset="0.6663" stop-color="#4abbdb"/><stop offset="0.6725" stop-color="#2dafe1"/><stop offset="0.675" stop-color="#26ace2"/><stop offset="0.7037" stop-color="#306cb9"/><stop offset="0.725" stop-color="#3254a9"/><stop offset="0.7612" stop-color="#3049a1"/><stop offset="0.9637" stop-color="#2e4099"/><stop offset="1" stop-color="#2e429b"/></linearGradient><linearGradient id="f13" gradientUnits="userSpaceOnUse" x1="-200" x2="200"><stop offset="0" stop-color="#304ca3"/><stop offset="0.0737" stop-color="#2e419a"/><stop offset="0.1037" stop-color="#2c3b95"/><stop offset="0.1512" stop-color="#314fa6"/><stop offset="0.2162" stop-color="#3049a1"/><stop offset="0.2612" stop-color="#325bae"/><stop offset="0.2838" stop-color="#2f74bf"/><stop offset="0.3063" stop-color="#27a6df"/><stop offset="0.31" stop-color="#2cafe1"/><stop offset="0.3175" stop-color="#4bbbda"/><stop offset="0.3237" stop-color="#68c2c5"/><stop offset="0.3287" stop-color="#87c795"/><stop offset="0.3312" stop-color="#a0cd78"/><stop offset="0.3337" stop-color="#bed55a"/><stop offset="0.3375" stop-color="#eae43e"/><stop offset="0.3387" stop-color="#f4e438"/><stop offset="0.3438" stop-color="#f4a832"/><stop offset="0.35" stop-color="#ec632d"/><stop offset="0.3538" stop-color="#e7442c"/><stop offset="0.3613" stop-color="#dc2628"/><stop offset="0.3738" stop-color="#a71d23"/><stop offset="0.38" stop-color="#8f191f"/><stop offset="0.3837" stop-color="#8d191f"/><stop offset="0.3887" stop-color="#9d1b21"/><stop offset="0.4025" stop-color="#db2628"/><stop offset="0.41" stop-color="#e7462c"/><stop offset="0.415" stop-color="#ee752e"/><stop offset="0.4225" stop-color="#f5ca36"/><stop offset="0.425" stop-color="#f4e738"/><stop offset="0.43" stop-color="#bdd45b"/><stop offset="0.4338" stop-color="#92ca86"/><stop offset="0.44" stop-color="#68c2c5"/><stop offset="0.4462" stop-color="#47badd"/><stop offset="0.4512" stop-color="#26ace2"/><stop offset="0.46" stop-color="#2e7dc4"/><stop offset="0.465" stop-color="#306dba"/><stop offset="0.475" stop-color="#3165b5"/><stop offset="0.4888" stop-color="#3072be"/><stop offset="0.5088" stop-color="#2994d4"/><stop offset="0.535" stop-color="#27ade2"/><stop offset="0.5587" stop-color="#3ab5df"/><stop offset="0.5725" stop-color="#4dbcd9"/><stop offset="0.5825" stop-color="#60c0cb"/><stop offset="0.585" stop-color="#6ac2c3"/><stop offset="0.5887" stop-color="#7fc6a1"/><stop offset="0.5913" stop-color="#96ca82"/><stop offset="0.5938" stop-color="#bcd45c"/><stop offset="0.5962" stop-color="#e5e241"/><stop offset="0.5975" stop-color="#f4e238"/><stop offset="0.6012" stop-color="#f39e31"/><stop offset="0.6062" stop-color="#e8482c"/><stop offset="0.61" stop-color="#dc2628"/><stop offset="0.615" stop-color="#b01f24"/><stop offset="0.62" stop-color="#951a20"/><stop offset="0.6238" stop-color="#8d191f"/><stop offset="0.6288" stop-color="#931a20"/><stop offset="0.6338" stop-color="#ac1e24"/><stop offset="0.6388" stop-color="#d82528"/><stop offset="0.6412" stop-color="#e2382a"/><stop offset="0.6425" stop-color="#e7442c"/><stop offset="0.645" stop-color="#ed6c2d"/><stop offset="0.65" stop-color="#f5cc36"/><stop offset="0.6512" stop-color="#f4e438"/><stop offset="0.6525" stop-color="#e1e143"/><stop offset="0.6538" stop-color="#c9d851"/><stop offset="0.6562" stop-color="#9acb7e"/><stop offset="0.6575" stop-color="#87c794"/><stop offset="0.66" stop-color="#6ec3bb"/><stop offset="0.6613" stop-color="#64c1c8"/><stop offset="0.6663" stop-color="#45bade"/><stop offset="0.6713" stop-color="#2eafe1"/><stop offset="0.6737" stop-color="#26ace2"/><stop offset="0.7025" stop-color="#306dba"/><stop offset="0.725" stop-color="#3254a9"/><stop offset="0.7625" stop-color="#3049a1"/><stop offset="0.9637" stop-color="#2d4099"/><stop offset="1" stop-color="#2e419b"/></linearGradient><linearGradient id="f14" gradientUnits="userSpaceOnUse" x1="-200" x2="200"><stop offset="0" stop-color="#304ba3"/><stop offset="0.0737" stop-color="#2e419a"/><stop offset="0.1025" stop-color="#2c3b94"/><stop offset="0.1512" stop-color="#314fa5"/><stop offset="0.22" stop-color="#314ca3"/><stop offset="0.26" stop-color="#325cae"/><stop offset="0.2838" stop-color="#2f76c0"/><stop offset="0.3063" stop-color="#27a7df"/><stop offset="0.3088" stop-color="#29ade2"/><stop offset="0.3175" stop-color="#4bbbda"/><stop offset="0.3237" stop-color="#68c2c5"/><stop offset="0.3287" stop-color="#86c795"/><stop offset="0.3312" stop-color="#9fcd79"/><stop offset="0.335" stop-color="#cbd950"/><stop offset="0.3387" stop-color="#f4e638"/><stop offset="0.345" stop-color="#f39d31"/><stop offset="0.3513" stop-color="#eb5c2d"/><stop offset="0.3538" stop-color="#e8472c"/><stop offset="0.3613" stop-color="#dd2928"/><stop offset="0.3725" stop-color="#b41f25"/><stop offset="0.38" stop-color="#961a20"/><stop offset="0.3837" stop-color="#931a20"/><stop offset="0.3887" stop-color="#a11c22"/><stop offset="0.4025" stop-color="#dc2628"/><stop offset="0.41" stop-color="#e7462c"/><stop offset="0.415" stop-color="#ee742e"/><stop offset="0.4225" stop-color="#f5c935"/><stop offset="0.425" stop-color="#f4e638"/><stop offset="0.4288" stop-color="#ccd950"/><stop offset="0.4325" stop-color="#9fcd79"/><stop offset="0.435" stop-color="#86c795"/><stop offset="0.4387" stop-color="#6dc3bd"/><stop offset="0.4412" stop-color="#5ec0cc"/><stop offset="0.4462" stop-color="#41b8df"/><stop offset="0.45" stop-color="#26ace2"/><stop offset="0.4587" stop-color="#2f78c1"/><stop offset="0.4637" stop-color="#3168b7"/><stop offset="0.4725" stop-color="#315eb0"/><stop offset="0.485" stop-color="#3166b5"/><stop offset="0.5125" stop-color="#2b89cd"/><stop offset="0.55" stop-color="#26a9e0"/><stop offset="0.5575" stop-color="#2eafe1"/><stop offset="0.5737" stop-color="#4bbbda"/><stop offset="0.5825" stop-color="#61c0ca"/><stop offset="0.585" stop-color="#6cc3bf"/><stop offset="0.5887" stop-color="#84c798"/><stop offset="0.59" stop-color="#90c988"/><stop offset="0.5938" stop-color="#cbd850"/><stop offset="0.5962" stop-color="#f3e838"/><stop offset="0.6" stop-color="#f4a632"/><stop offset="0.605" stop-color="#e9502c"/><stop offset="0.6075" stop-color="#e2362a"/><stop offset="0.61" stop-color="#d82528"/><stop offset="0.615" stop-color="#b21f25"/><stop offset="0.62" stop-color="#9e1c22"/><stop offset="0.625" stop-color="#9a1b21"/><stop offset="0.63" stop-color="#a61d23"/><stop offset="0.635" stop-color="#c42226"/><stop offset="0.6375" stop-color="#da2628"/><stop offset="0.6412" stop-color="#e6432b"/><stop offset="0.6438" stop-color="#ed682d"/><stop offset="0.6488" stop-color="#f5c535"/><stop offset="0.65" stop-color="#f4dd37"/><stop offset="0.6512" stop-color="#e8e33f"/><stop offset="0.6538" stop-color="#b9d35f"/><stop offset="0.6562" stop-color="#8bc88d"/><stop offset="0.6587" stop-color="#72c4b5"/><stop offset="0.66" stop-color="#67c2c5"/><stop offset="0.665" stop-color="#47badd"/><stop offset="0.6713" stop-color="#2aaee1"/><stop offset="0.6737" stop-color="#27a9e0"/><stop offset="0.7013" stop-color="#306dba"/><stop offset="0.7238" stop-color="#3255a9"/><stop offset="0.76" stop-color="#3049a1"/><stop offset="0.9625" stop-color="#2d3f99"/><stop offset="1" stop-color="#2e419b"/></linearGradient><linearGradient id="f15" gradientUnits="userSpaceOnUse" x1="-200" x2="200"><stop offset="0" stop-color="#304ba2"/><stop offset="0.0775" stop-color="#2e409a"/><stop offset="0.105" stop-color="#2d3c96"/><stop offset="0.15" stop-color="#314fa5"/><stop offset="0.2225" stop-color="#314ea5"/><stop offset="0.2612" stop-color="#325caf"/><stop offset="0.285" stop-color="#2f74bf"/><stop offset="0.3075" stop-color="#27a5de"/><stop offset="0.31" stop-color="#27ace2"/><stop offset="0.3187" stop-color="#49bbdc"/><stop offset="0.325" stop-color="#65c1c7"/><stop offset="0.3275" stop-color="#74c4b3"/><stop offset="0.3312" stop-color="#8dc88b"/><stop offset="0.3362" stop-color="#c9d851"/><stop offset="0.34" stop-color="#f4e838"/><stop offset="0.3463" stop-color="#f39e31"/><stop offset="0.3525" stop-color="#eb5c2d"/><stop offset="0.355" stop-color="#e8472c"/><stop offset="0.3625" stop-color="#dd2928"/><stop offset="0.3688" stop-color="#ca2326"/><stop offset="0.38" stop-color="#a01c22"/><stop offset="0.385" stop-color="#9e1c22"/><stop offset="0.3912" stop-color="#b21f24"/><stop offset="0.4012" stop-color="#dc2628"/><stop offset="0.4088" stop-color="#e7452c"/><stop offset="0.4138" stop-color="#ee722d"/><stop offset="0.4213" stop-color="#f5c835"/><stop offset="0.4238" stop-color="#f4e538"/><stop offset="0.4263" stop-color="#dbde47"/><stop offset="0.4288" stop-color="#bed45a"/><stop offset="0.4325" stop-color="#91c987"/><stop offset="0.4375" stop-color="#6ec3bd"/><stop offset="0.44" stop-color="#5fc0cc"/><stop offset="0.445" stop-color="#42b8de"/><stop offset="0.4487" stop-color="#28ade2"/><stop offset="0.4587" stop-color="#2f73be"/><stop offset="0.4675" stop-color="#315fb1"/><stop offset="0.4775" stop-color="#325bae"/><stop offset="0.5238" stop-color="#2d83c8"/><stop offset="0.5475" stop-color="#2999d7"/><stop offset="0.5587" stop-color="#27ace2"/><stop offset="0.575" stop-color="#4abbdb"/><stop offset="0.5825" stop-color="#5fc0cb"/><stop offset="0.585" stop-color="#6bc2c1"/><stop offset="0.5887" stop-color="#84c799"/><stop offset="0.59" stop-color="#90c988"/><stop offset="0.5938" stop-color="#cbd950"/><stop offset="0.5962" stop-color="#f4e838"/><stop offset="0.6" stop-color="#f4a632"/><stop offset="0.605" stop-color="#e9522c"/><stop offset="0.6075" stop-color="#e3392a"/><stop offset="0.61" stop-color="#dc2728"/><stop offset="0.615" stop-color="#bb2025"/><stop offset="0.62" stop-color="#a91e24"/><stop offset="0.6262" stop-color="#a81d23"/><stop offset="0.6312" stop-color="#b62025"/><stop offset="0.6375" stop-color="#dd2928"/><stop offset="0.6412" stop-color="#e7462c"/><stop offset="0.645" stop-color="#f0802e"/><stop offset="0.6488" stop-color="#f5c635"/><stop offset="0.65" stop-color="#f4dd37"/><stop offset="0.6512" stop-color="#e8e33f"/><stop offset="0.6538" stop-color="#bad45e"/><stop offset="0.6562" stop-color="#8cc88c"/><stop offset="0.66" stop-color="#68c2c5"/><stop offset="0.665" stop-color="#48badd"/><stop offset="0.6713" stop-color="#2aaee1"/><stop offset="0.6737" stop-color="#27a9e0"/><stop offset="0.7013" stop-color="#306dba"/><stop offset="0.7238" stop-color="#3254a9"/><stop offset="0.7612" stop-color="#3049a1"/><stop offset="0.9625" stop-color="#2d3f99"/><stop offset="1" stop-color="#2e419b"/></linearGradient><linearGradient id="f16" gradientUnits="userSpaceOnUse" x1="-200" x2="200"><stop offset="0" stop-color="#304ba2"/><stop offset="0.105" stop-color="#2d3f99"/><stop offset="0.1487" stop-color="#314fa5"/><stop offset="0.2238" stop-color="#3150a6"/><stop offset="0.2625" stop-color="#325caf"/><stop offset="0.2863" stop-color="#2f73be"/><stop offset="0.3088" stop-color="#27a3dd"/><stop offset="0.3125" stop-color="#28ade2"/><stop offset="0.3212" stop-color="#4bbbda"/><stop offset="0.3275" stop-color="#6ac2c3"/><stop offset="0.3325" stop-color="#8ac88f"/><stop offset="0.3375" stop-color="#c6d753"/><stop offset="0.3412" stop-color="#f2e739"/><stop offset="0.3463" stop-color="#f5ad33"/><stop offset="0.3525" stop-color="#ed682d"/><stop offset="0.3563" stop-color="#e8472c"/><stop offset="0.3638" stop-color="#dd2a28"/><stop offset="0.3713" stop-color="#c72326"/><stop offset="0.38" stop-color="#aa1e24"/><stop offset="0.385" stop-color="#a71d23"/><stop offset="0.3912" stop-color="#b82025"/><stop offset="0.4012" stop-color="#dd2928"/><stop offset="0.4075" stop-color="#e6432b"/><stop offset="0.4113" stop-color="#ec622d"/><stop offset="0.4175" stop-color="#f4a632"/><stop offset="0.4225" stop-color="#f4e137"/><stop offset="0.4238" stop-color="#ece53d"/><stop offset="0.4275" stop-color="#c1d557"/><stop offset="0.4325" stop-color="#89c791"/><stop offset="0.4375" stop-color="#69c2c4"/><stop offset="0.445" stop-color="#40b7df"/><stop offset="0.4487" stop-color="#28ade2"/><stop offset="0.46" stop-color="#3072be"/><stop offset="0.47" stop-color="#315fb1"/><stop offset="0.4825" stop-color="#325cae"/><stop offset="0.5413" stop-color="#2c87cc"/><stop offset="0.5587" stop-color="#27a5de"/><stop offset="0.5625" stop-color="#28ade2"/><stop offset="0.5775" stop-color="#4bbbda"/><stop offset="0.5837" stop-color="#5fc0cc"/><stop offset="0.5863" stop-color="#6bc2c1"/><stop offset="0.59" stop-color="#85c797"/><stop offset="0.5913" stop-color="#92ca86"/><stop offset="0.595" stop-color="#ceda4e"/><stop offset="0.5975" stop-color="#f4e538"/><stop offset="0.6012" stop-color="#f4a332"/><stop offset="0.605" stop-color="#ec642d"/><stop offset="0.6075" stop-color="#e6442b"/><stop offset="0.6112" stop-color="#dd2928"/><stop offset="0.6175" stop-color="#be2125"/><stop offset="0.6238" stop-color="#b41f25"/><stop offset="0.63" stop-color="#ba2025"/><stop offset="0.635" stop-color="#cf2427"/><stop offset="0.6375" stop-color="#dd2828"/><stop offset="0.6412" stop-color="#e6422b"/><stop offset="0.6438" stop-color="#ec622d"/><stop offset="0.6488" stop-color="#f6ba34"/><stop offset="0.6512" stop-color="#f4e838"/><stop offset="0.6538" stop-color="#c7d752"/><stop offset="0.6562" stop-color="#99cb7f"/><stop offset="0.6575" stop-color="#87c795"/><stop offset="0.66" stop-color="#6ec3bb"/><stop offset="0.6613" stop-color="#64c1c8"/><stop offset="0.6663" stop-color="#45bade"/><stop offset="0.6713" stop-color="#2dafe1"/><stop offset="0.6737" stop-color="#26abe1"/><stop offset="0.7013" stop-color="#306dba"/><stop offset="0.7238" stop-color="#3254a9"/><stop offset="0.7612" stop-color="#3049a1"/><stop offset="0.9613" stop-color="#2d3f99"/><stop offset="1" stop-color="#2e419a"/></linearGradient><linearGradient id="f17" gradientUnits="userSpaceOnUse" x1="-200" x2="200"><stop offset="0" stop-color="#304aa1"/><stop offset="0.0575" stop-color="#2f439c"/><stop offset="0.1113" stop-color="#2f449d"/><stop offset="0.15" stop-color="#314fa5"/><stop offset="0.22" stop-color="#3150a6"/><stop offset="0.2637" stop-color="#325daf"/><stop offset="0.2888" stop-color="#2f74bf"/><stop offset="0.31" stop-color="#28a0db"/><stop offset="0.3137" stop-color="#26ace2"/><stop offset="0.3225" stop-color="#49bbdc"/><stop offset="0.3287" stop-color="#67c2c5"/><stop offset="0.3337" stop-color="#88c792"/><stop offset="0.3375" stop-color="#b4d264"/><stop offset="0.3387" stop-color="#c4d654"/><stop offset="0.3425" stop-color="#f1e73a"/><stop offset="0.345" stop-color="#f5cc36"/><stop offset="0.3525" stop-color="#ee742e"/><stop offset="0.3575" stop-color="#e8472c"/><stop offset="0.365" stop-color="#de2a29"/><stop offset="0.3725" stop-color="#c92326"/><stop offset="0.3812" stop-color="#b31f25"/><stop offset="0.3862" stop-color="#b21f25"/><stop offset="0.395" stop-color="#cb2327"/><stop offset="0.4" stop-color="#dd2828"/><stop offset="0.4075" stop-color="#e8482c"/><stop offset="0.4138" stop-color="#f0842e"/><stop offset="0.42" stop-color="#f5cf36"/><stop offset="0.4213" stop-color="#f4dd37"/><stop offset="0.4225" stop-color="#f0e63a"/><stop offset="0.4263" stop-color="#c5d653"/><stop offset="0.4313" stop-color="#8bc88e"/><stop offset="0.4363" stop-color="#6cc2c0"/><stop offset="0.4425" stop-color="#4dbbd9"/><stop offset="0.4487" stop-color="#2baee1"/><stop offset="0.45" stop-color="#26aae1"/><stop offset="0.4612" stop-color="#2f75c0"/><stop offset="0.47" stop-color="#3162b3"/><stop offset="0.4825" stop-color="#3258ac"/><stop offset="0.5012" stop-color="#315eb0"/><stop offset="0.5413" stop-color="#2d80c7"/><stop offset="0.5587" stop-color="#289eda"/><stop offset="0.565" stop-color="#27ace2"/><stop offset="0.5787" stop-color="#49bbdc"/><stop offset="0.585" stop-color="#5dbfcd"/><stop offset="0.5875" stop-color="#6ac2c3"/><stop offset="0.5913" stop-color="#84c798"/><stop offset="0.5925" stop-color="#91c987"/><stop offset="0.5962" stop-color="#ceda4e"/><stop offset="0.5988" stop-color="#f4e538"/><stop offset="0.6025" stop-color="#f4a332"/><stop offset="0.6062" stop-color="#ec652d"/><stop offset="0.6088" stop-color="#e7452c"/><stop offset="0.6138" stop-color="#dc2628"/><stop offset="0.6188" stop-color="#c72326"/><stop offset="0.625" stop-color="#c22226"/><stop offset="0.6312" stop-color="#c72326"/><stop offset="0.6362" stop-color="#d92628"/><stop offset="0.64" stop-color="#e2382a"/><stop offset="0.6425" stop-color="#e94c2c"/><stop offset="0.6462" stop-color="#f0842e"/><stop offset="0.65" stop-color="#f5c835"/><stop offset="0.6512" stop-color="#f4df37"/><stop offset="0.6525" stop-color="#e6e340"/><stop offset="0.655" stop-color="#b9d35f"/><stop offset="0.6575" stop-color="#8cc88c"/><stop offset="0.6613" stop-color="#68c2c5"/><stop offset="0.6663" stop-color="#48badd"/><stop offset="0.6725" stop-color="#29aee2"/><stop offset="0.675" stop-color="#27a8df"/><stop offset="0.7" stop-color="#306eba"/><stop offset="0.7225" stop-color="#3255a9"/><stop offset="0.7588" stop-color="#3049a1"/><stop offset="0.96" stop-color="#2d3f99"/><stop offset="1" stop-color="#2e419a"/></linearGradient><linearGradient id="f18" gradientUnits="userSpaceOnUse" x1="-200" x2="200"><stop offset="0" stop-color="#3049a1"/><stop offset="0.05" stop-color="#2e409a"/><stop offset="0.1237" stop-color="#304ca3"/><stop offset="0.17" stop-color="#314da4"/><stop offset="0.2487" stop-color="#3256ab"/><stop offset="0.2787" stop-color="#3166b5"/><stop offset="0.2925" stop-color="#2f76c0"/><stop offset="0.3125" stop-color="#28a1dc"/><stop offset="0.3162" stop-color="#27ace2"/><stop offset="0.3237" stop-color="#47badd"/><stop offset="0.33" stop-color="#65c1c7"/><stop offset="0.3325" stop-color="#74c4b2"/><stop offset="0.3362" stop-color="#91c987"/><stop offset="0.34" stop-color="#c1d557"/><stop offset="0.3438" stop-color="#efe63b"/><stop offset="0.345" stop-color="#f4dd37"/><stop offset="0.3513" stop-color="#f29030"/><stop offset="0.3563" stop-color="#eb5c2d"/><stop offset="0.3588" stop-color="#e8472c"/><stop offset="0.3663" stop-color="#de2b29"/><stop offset="0.3725" stop-color="#d02427"/><stop offset="0.3825" stop-color="#bc2125"/><stop offset="0.3887" stop-color="#bf2126"/><stop offset="0.3987" stop-color="#dc2728"/><stop offset="0.4062" stop-color="#e7452c"/><stop offset="0.4113" stop-color="#ee722e"/><stop offset="0.4188" stop-color="#f5cb36"/><stop offset="0.4213" stop-color="#f3e838"/><stop offset="0.425" stop-color="#c8d752"/><stop offset="0.43" stop-color="#8dc88b"/><stop offset="0.435" stop-color="#6ec3bc"/><stop offset="0.4375" stop-color="#61c0ca"/><stop offset="0.445" stop-color="#40b7df"/><stop offset="0.45" stop-color="#27ade2"/><stop offset="0.465" stop-color="#306ebb"/><stop offset="0.4788" stop-color="#3256ab"/><stop offset="0.495" stop-color="#3151a7"/><stop offset="0.5125" stop-color="#315eb0"/><stop offset="0.5463" stop-color="#2d81c7"/><stop offset="0.5637" stop-color="#27a3dd"/><stop offset="0.5687" stop-color="#2aaee2"/><stop offset="0.5813" stop-color="#4abbdb"/><stop offset="0.5875" stop-color="#61c0ca"/><stop offset="0.5887" stop-color="#68c2c4"/><stop offset="0.5925" stop-color="#84c799"/><stop offset="0.5938" stop-color="#91c987"/><stop offset="0.5975" stop-color="#ceda4e"/><stop offset="0.5988" stop-color="#e3e142"/><stop offset="0.6" stop-color="#f4e438"/><stop offset="0.6038" stop-color="#f4a232"/><stop offset="0.6075" stop-color="#ec652d"/><stop offset="0.61" stop-color="#e7452c"/><stop offset="0.615" stop-color="#dd2828"/><stop offset="0.6212" stop-color="#cc2327"/><stop offset="0.6312" stop-color="#cd2327"/><stop offset="0.6362" stop-color="#db2628"/><stop offset="0.64" stop-color="#e2362a"/><stop offset="0.6425" stop-color="#e8472c"/><stop offset="0.6462" stop-color="#ef7c2e"/><stop offset="0.6512" stop-color="#f5d636"/><stop offset="0.6525" stop-color="#f0e63b"/><stop offset="0.655" stop-color="#c3d655"/><stop offset="0.6575" stop-color="#94ca84"/><stop offset="0.66" stop-color="#77c4ad"/><stop offset="0.6613" stop-color="#6cc3bf"/><stop offset="0.6637" stop-color="#59bed0"/><stop offset="0.6675" stop-color="#43b9de"/><stop offset="0.6725" stop-color="#2baee1"/><stop offset="0.675" stop-color="#27a8e0"/><stop offset="0.7" stop-color="#306dba"/><stop offset="0.7225" stop-color="#3254a9"/><stop offset="0.76" stop-color="#3049a1"/><stop offset="0.96" stop-color="#2d3e98"/><stop offset="1" stop-color="#2e419a"/></linearGradient><linearGradient id="f19" gradientUnits="userSpaceOnUse" x1="-200" x2="200"><stop offset="0" stop-color="#3048a0"/><stop offset="0.0462" stop-color="#2d3d97"/><stop offset="0.1338" stop-color="#314fa5"/><stop offset="0.2037" stop-color="#314fa5"/><stop offset="0.2675" stop-color="#325daf"/><stop offset="0.2925" stop-color="#3071bd"/><stop offset="0.3137" stop-color="#289eda"/><stop offset="0.3187" stop-color="#28ade2"/><stop offset="0.3262" stop-color="#49bbdc"/><stop offset="0.3325" stop-color="#6ac2c3"/><stop offset="0.3375" stop-color="#8dc88b"/><stop offset="0.3412" stop-color="#bed55a"/><stop offset="0.345" stop-color="#eee63c"/><stop offset="0.3463" stop-color="#f4de37"/><stop offset="0.3525" stop-color="#f29030"/><stop offset="0.3575" stop-color="#eb5c2d"/><stop offset="0.36" stop-color="#e8472c"/><stop offset="0.3675" stop-color="#de2c29"/><stop offset="0.3725" stop-color="#d62528"/><stop offset="0.3837" stop-color="#c52226"/><stop offset="0.3912" stop-color="#cc2327"/><stop offset="0.3975" stop-color="#dc2728"/><stop offset="0.405" stop-color="#e6432b"/><stop offset="0.4075" stop-color="#ea562c"/><stop offset="0.4138" stop-color="#f39831"/><stop offset="0.4188" stop-color="#f5d636"/><stop offset="0.42" stop-color="#f4e538"/><stop offset="0.4225" stop-color="#d9de48"/><stop offset="0.425" stop-color="#bcd45c"/><stop offset="0.4288" stop-color="#8fc989"/><stop offset="0.435" stop-color="#68c2c4"/><stop offset="0.4437" stop-color="#44b9de"/><stop offset="0.45" stop-color="#28ade2"/><stop offset="0.46" stop-color="#2c85ca"/><stop offset="0.4675" stop-color="#306ab8"/><stop offset="0.4788" stop-color="#3154a9"/><stop offset="0.4938" stop-color="#304ba2"/><stop offset="0.5125" stop-color="#3258ac"/><stop offset="0.535" stop-color="#306fbb"/><stop offset="0.555" stop-color="#2b8ace"/><stop offset="0.57" stop-color="#27ace2"/><stop offset="0.5825" stop-color="#48bbdc"/><stop offset="0.5887" stop-color="#60c0cb"/><stop offset="0.59" stop-color="#67c2c5"/><stop offset="0.5925" stop-color="#79c5aa"/><stop offset="0.595" stop-color="#91c987"/><stop offset="0.5975" stop-color="#bad35e"/><stop offset="0.6" stop-color="#e4e241"/><stop offset="0.6012" stop-color="#f4e338"/><stop offset="0.605" stop-color="#f3a031"/><stop offset="0.6088" stop-color="#ec642d"/><stop offset="0.6112" stop-color="#e7452c"/><stop offset="0.6162" stop-color="#dd2928"/><stop offset="0.6225" stop-color="#ce2427"/><stop offset="0.6325" stop-color="#d02427"/><stop offset="0.6375" stop-color="#dd2928"/><stop offset="0.6425" stop-color="#e6442b"/><stop offset="0.645" stop-color="#ec612d"/><stop offset="0.6488" stop-color="#f39e31"/><stop offset="0.6525" stop-color="#f4e238"/><stop offset="0.6538" stop-color="#e3e242"/><stop offset="0.655" stop-color="#cdd94f"/><stop offset="0.6587" stop-color="#89c890"/><stop offset="0.6613" stop-color="#71c3b8"/><stop offset="0.6625" stop-color="#66c1c6"/><stop offset="0.6675" stop-color="#46bade"/><stop offset="0.6725" stop-color="#2cafe1"/><stop offset="0.675" stop-color="#26a9e0"/><stop offset="0.6987" stop-color="#306ebb"/><stop offset="0.7212" stop-color="#3255aa"/><stop offset="0.7588" stop-color="#3049a1"/><stop offset="0.9587" stop-color="#2d3e98"/><stop offset="1" stop-color="#2e409a"/></linearGradient><linearGradient id="f20" gradientUnits="userSpaceOnUse" x1="-200" x2="200"><stop offset="0" stop-color="#3048a0"/><stop offset="0.045" stop-color="#2c3b94"/><stop offset="0.1062" stop-color="#314da3"/><stop offset="0.1613" stop-color="#304ca3"/><stop offset="0.2512" stop-color="#3256ab"/><stop offset="0.28" stop-color="#3161b2"/><stop offset="0.2988" stop-color="#2f75bf"/><stop offset="0.3175" stop-color="#28a0db"/><stop offset="0.3212" stop-color="#26ace2"/><stop offset="0.3287" stop-color="#49bbdc"/><stop offset="0.335" stop-color="#6bc2c1"/><stop offset="0.34" stop-color="#92c986"/><stop offset="0.3438" stop-color="#c5d653"/><stop offset="0.3475" stop-color="#f4e638"/><stop offset="0.3525" stop-color="#f4a532"/><stop offset="0.3575" stop-color="#ed6b2d"/><stop offset="0.3613" stop-color="#e8492c"/><stop offset="0.3675" stop-color="#e03029"/><stop offset="0.3738" stop-color="#d92528"/><stop offset="0.385" stop-color="#cc2327"/><stop offset="0.3925" stop-color="#d32527"/><stop offset="0.3975" stop-color="#dd2a28"/><stop offset="0.4037" stop-color="#e6422b"/><stop offset="0.4062" stop-color="#ea542c"/><stop offset="0.4113" stop-color="#f1892f"/><stop offset="0.4163" stop-color="#f5c835"/><stop offset="0.4188" stop-color="#f4e738"/><stop offset="0.4225" stop-color="#c8d752"/><stop offset="0.4275" stop-color="#8cc88d"/><stop offset="0.4325" stop-color="#6dc3be"/><stop offset="0.435" stop-color="#60c0ca"/><stop offset="0.4425" stop-color="#44b9de"/><stop offset="0.45" stop-color="#27ace2"/><stop offset="0.4675" stop-color="#306dba"/><stop offset="0.48" stop-color="#3254a9"/><stop offset="0.4938" stop-color="#304ba3"/><stop offset="0.5125" stop-color="#3258ac"/><stop offset="0.535" stop-color="#306ebb"/><stop offset="0.555" stop-color="#2c88cc"/><stop offset="0.5713" stop-color="#27ace2"/><stop offset="0.5837" stop-color="#48badd"/><stop offset="0.59" stop-color="#60c0cb"/><stop offset="0.5913" stop-color="#67c2c5"/><stop offset="0.5938" stop-color="#79c5aa"/><stop offset="0.5962" stop-color="#92ca86"/><stop offset="0.5988" stop-color="#bcd45c"/><stop offset="0.6012" stop-color="#e7e340"/><stop offset="0.6025" stop-color="#f4e037"/><stop offset="0.6062" stop-color="#f39d31"/><stop offset="0.61" stop-color="#ec622d"/><stop offset="0.6125" stop-color="#e7442c"/><stop offset="0.6175" stop-color="#dd2928"/><stop offset="0.6238" stop-color="#d12427"/><stop offset="0.6338" stop-color="#d42527"/><stop offset="0.6375" stop-color="#dd2828"/><stop offset="0.6425" stop-color="#e5402b"/><stop offset="0.6438" stop-color="#e84a2c"/><stop offset="0.6475" stop-color="#f07f2e"/><stop offset="0.6525" stop-color="#f5d837"/><stop offset="0.6538" stop-color="#ede53c"/><stop offset="0.6562" stop-color="#c0d558"/><stop offset="0.6587" stop-color="#91c987"/><stop offset="0.6625" stop-color="#6ac2c2"/><stop offset="0.6675" stop-color="#48badc"/><stop offset="0.6737" stop-color="#28ade2"/><stop offset="0.6975" stop-color="#3070bc"/><stop offset="0.72" stop-color="#3255aa"/><stop offset="0.7562" stop-color="#3049a1"/><stop offset="0.9575" stop-color="#2d3e98"/><stop offset="1" stop-color="#2e409a"/></linearGradient><linearGradient id="f21" gradientUnits="userSpaceOnUse" x1="-200" x2="200"><stop offset="0" stop-color="#3047a0"/><stop offset="0.0437" stop-color="#2c3992"/><stop offset="0.1025" stop-color="#314ea4"/><stop offset="0.1512" stop-color="#304ba2"/><stop offset="0.1925" stop-color="#304ca3"/><stop offset="0.2787" stop-color="#325bae"/><stop offset="0.3025" stop-color="#3070bc"/><stop offset="0.3212" stop-color="#289eda"/><stop offset="0.325" stop-color="#26abe2"/><stop offset="0.3325" stop-color="#4abbdb"/><stop offset="0.3375" stop-color="#67c2c5"/><stop offset="0.3412" stop-color="#83c69a"/><stop offset="0.3425" stop-color="#8fc989"/><stop offset="0.3463" stop-color="#c5d654"/><stop offset="0.3488" stop-color="#e7e340"/><stop offset="0.35" stop-color="#f4e438"/><stop offset="0.355" stop-color="#f39f31"/><stop offset="0.36" stop-color="#ec642d"/><stop offset="0.3638" stop-color="#e7452c"/><stop offset="0.37" stop-color="#df2e29"/><stop offset="0.3762" stop-color="#d82528"/><stop offset="0.3862" stop-color="#cf2427"/><stop offset="0.3937" stop-color="#d92628"/><stop offset="0.4" stop-color="#e2372a"/><stop offset="0.4037" stop-color="#e84a2c"/><stop offset="0.4088" stop-color="#f07d2e"/><stop offset="0.415" stop-color="#f5ce36"/><stop offset="0.4163" stop-color="#f4df37"/><stop offset="0.4175" stop-color="#ede53c"/><stop offset="0.4213" stop-color="#bed45a"/><stop offset="0.425" stop-color="#8fc989"/><stop offset="0.43" stop-color="#6ec3bc"/><stop offset="0.4325" stop-color="#61c0ca"/><stop offset="0.4412" stop-color="#42b8df"/><stop offset="0.45" stop-color="#26aae1"/><stop offset="0.47" stop-color="#306dba"/><stop offset="0.485" stop-color="#3257ab"/><stop offset="0.5012" stop-color="#3257ab"/><stop offset="0.55" stop-color="#2d81c7"/><stop offset="0.5675" stop-color="#27a2dc"/><stop offset="0.5725" stop-color="#29ade2"/><stop offset="0.585" stop-color="#49bbdc"/><stop offset="0.5913" stop-color="#61c0ca"/><stop offset="0.5925" stop-color="#69c2c4"/><stop offset="0.5962" stop-color="#86c796"/><stop offset="0.5975" stop-color="#95ca83"/><stop offset="0.6" stop-color="#c0d558"/><stop offset="0.6025" stop-color="#eae43e"/><stop offset="0.6038" stop-color="#f4dc37"/><stop offset="0.6075" stop-color="#f39a31"/><stop offset="0.6112" stop-color="#eb5f2d"/><stop offset="0.6138" stop-color="#e6432b"/><stop offset="0.6188" stop-color="#dd2a28"/><stop offset="0.6238" stop-color="#d42527"/><stop offset="0.6338" stop-color="#d52527"/><stop offset="0.6388" stop-color="#de2b29"/><stop offset="0.6438" stop-color="#e7452c"/><stop offset="0.6462" stop-color="#ec642d"/><stop offset="0.65" stop-color="#f3a131"/><stop offset="0.6538" stop-color="#f4e538"/><stop offset="0.6562" stop-color="#cad851"/><stop offset="0.6587" stop-color="#9bcc7d"/><stop offset="0.66" stop-color="#87c794"/><stop offset="0.6625" stop-color="#6fc3bb"/><stop offset="0.6637" stop-color="#64c1c8"/><stop offset="0.6687" stop-color="#43b9de"/><stop offset="0.6737" stop-color="#29aee2"/><stop offset="0.6763" stop-color="#27a6df"/><stop offset="0.6987" stop-color="#306dba"/><stop offset="0.72" stop-color="#3255aa"/><stop offset="0.7575" stop-color="#3049a1"/><stop offset="0.9575" stop-color="#2d3e98"/><stop offset="1" stop-color="#2e409a"/></linearGradient><linearGradient id="f22" gradientUnits="userSpaceOnUse" x1="-200" x2="200"><stop offset="0" stop-color="#30479f"/><stop offset="0.0437" stop-color="#2c3992"/><stop offset="0.1013" stop-color="#314fa5"/><stop offset="0.1425" stop-color="#304aa1"/><stop offset="0.1787" stop-color="#30479f"/><stop offset="0.25" stop-color="#3154a9"/><stop offset="0.2863" stop-color="#325aad"/><stop offset="0.3088" stop-color="#3071bd"/><stop offset="0.325" stop-color="#289cd9"/><stop offset="0.3287" stop-color="#26aae1"/><stop offset="0.3337" stop-color="#3eb7df"/><stop offset="0.3375" stop-color="#53bdd4"/><stop offset="0.34" stop-color="#63c1c8"/><stop offset="0.3412" stop-color="#6dc3be"/><stop offset="0.345" stop-color="#8cc88c"/><stop offset="0.3488" stop-color="#c5d653"/><stop offset="0.3513" stop-color="#e9e43e"/><stop offset="0.3525" stop-color="#f4e137"/><stop offset="0.3575" stop-color="#f39931"/><stop offset="0.3625" stop-color="#eb5d2d"/><stop offset="0.365" stop-color="#e8472c"/><stop offset="0.3713" stop-color="#df2f29"/><stop offset="0.3775" stop-color="#d92628"/><stop offset="0.3875" stop-color="#d32427"/><stop offset="0.395" stop-color="#dd2928"/><stop offset="0.4012" stop-color="#e6422b"/><stop offset="0.4037" stop-color="#ea552c"/><stop offset="0.4088" stop-color="#f29030"/><stop offset="0.4138" stop-color="#f5d536"/><stop offset="0.415" stop-color="#f4e738"/><stop offset="0.4188" stop-color="#c3d655"/><stop offset="0.4225" stop-color="#92c986"/><stop offset="0.4263" stop-color="#76c4b0"/><stop offset="0.4288" stop-color="#67c2c5"/><stop offset="0.4363" stop-color="#4abbdb"/><stop offset="0.4475" stop-color="#27ace2"/><stop offset="0.4675" stop-color="#2e7dc5"/><stop offset="0.48" stop-color="#306dba"/><stop offset="0.4988" stop-color="#306bb9"/><stop offset="0.5475" stop-color="#2d80c7"/><stop offset="0.5637" stop-color="#2999d7"/><stop offset="0.5725" stop-color="#28ade2"/><stop offset="0.5863" stop-color="#49bbdb"/><stop offset="0.5925" stop-color="#62c0c9"/><stop offset="0.5938" stop-color="#6ac2c3"/><stop offset="0.5975" stop-color="#87c793"/><stop offset="0.6" stop-color="#add06b"/><stop offset="0.6012" stop-color="#c3d655"/><stop offset="0.6038" stop-color="#ede63c"/><stop offset="0.605" stop-color="#f5d937"/><stop offset="0.61" stop-color="#f0822e"/><stop offset="0.6138" stop-color="#e94d2c"/><stop offset="0.6175" stop-color="#e1342a"/><stop offset="0.6212" stop-color="#dc2728"/><stop offset="0.6275" stop-color="#d52527"/><stop offset="0.6362" stop-color="#da2628"/><stop offset="0.6412" stop-color="#e1342a"/><stop offset="0.645" stop-color="#e94d2c"/><stop offset="0.6488" stop-color="#f0822e"/><stop offset="0.6525" stop-color="#f5c435"/><stop offset="0.6538" stop-color="#f5db37"/><stop offset="0.655" stop-color="#eae43e"/><stop offset="0.6575" stop-color="#bcd45c"/><stop offset="0.66" stop-color="#8ec88a"/><stop offset="0.6637" stop-color="#68c2c5"/><stop offset="0.6687" stop-color="#46bade"/><stop offset="0.6737" stop-color="#2baee1"/><stop offset="0.675" stop-color="#26ace2"/><stop offset="0.695" stop-color="#2f74bf"/><stop offset="0.7163" stop-color="#3257ab"/><stop offset="0.7512" stop-color="#304aa1"/><stop offset="0.9537" stop-color="#2d3e98"/><stop offset="1" stop-color="#2e409a"/></linearGradient><linearGradient id="f23" gradientUnits="userSpaceOnUse" x1="-200" x2="200"><stop offset="0" stop-color="#3047a0"/><stop offset="0.045" stop-color="#2c3b95"/><stop offset="0.1013" stop-color="#314fa5"/><stop offset="0.1375" stop-color="#3049a1"/><stop offset="0.1713" stop-color="#2f439c"/><stop offset="0.2437" stop-color="#3153a8"/><stop offset="0.29" stop-color="#3257ab"/><stop offset="0.3113" stop-color="#306dba"/><stop offset="0.325" stop-color="#2a8fd1"/><stop offset="0.3325" stop-color="#26ace2"/><stop offset="0.3387" stop-color="#4bbbdb"/><stop offset="0.3425" stop-color="#63c1c9"/><stop offset="0.3438" stop-color="#6dc3be"/><stop offset="0.3475" stop-color="#8fc989"/><stop offset="0.3513" stop-color="#ccd94f"/><stop offset="0.3538" stop-color="#f3e739"/><stop offset="0.3575" stop-color="#f5b033"/><stop offset="0.3625" stop-color="#ed6b2d"/><stop offset="0.3663" stop-color="#e7462c"/><stop offset="0.3725" stop-color="#df2e29"/><stop offset="0.3787" stop-color="#da2628"/><stop offset="0.3875" stop-color="#d52527"/><stop offset="0.3937" stop-color="#dd2a28"/><stop offset="0.4" stop-color="#e6442b"/><stop offset="0.4025" stop-color="#eb5a2d"/><stop offset="0.4075" stop-color="#f39b31"/><stop offset="0.4125" stop-color="#f4e438"/><stop offset="0.415" stop-color="#d4dc4b"/><stop offset="0.4163" stop-color="#c3d655"/><stop offset="0.42" stop-color="#8ec98a"/><stop offset="0.425" stop-color="#6bc2c0"/><stop offset="0.4313" stop-color="#50bcd7"/><stop offset="0.4375" stop-color="#3bb5df"/><stop offset="0.445" stop-color="#26ace2"/><stop offset="0.4587" stop-color="#2a91d2"/><stop offset="0.4725" stop-color="#2c88cc"/><stop offset="0.505" stop-color="#2998d6"/><stop offset="0.5262" stop-color="#2b89cd"/><stop offset="0.5425" stop-color="#2d81c7"/><stop offset="0.5563" stop-color="#2b8cce"/><stop offset="0.5737" stop-color="#28ade2"/><stop offset="0.5875" stop-color="#49bbdc"/><stop offset="0.5938" stop-color="#60c0ca"/><stop offset="0.595" stop-color="#68c2c5"/><stop offset="0.5988" stop-color="#85c796"/><stop offset="0.6" stop-color="#95ca83"/><stop offset="0.6025" stop-color="#c0d558"/><stop offset="0.605" stop-color="#ebe43d"/><stop offset="0.6062" stop-color="#f5db37"/><stop offset="0.61" stop-color="#f39931"/><stop offset="0.6138" stop-color="#eb5f2d"/><stop offset="0.6162" stop-color="#e7442c"/><stop offset="0.6212" stop-color="#de2c29"/><stop offset="0.6262" stop-color="#d92528"/><stop offset="0.6362" stop-color="#db2628"/><stop offset="0.6412" stop-color="#e03129"/><stop offset="0.645" stop-color="#e7452c"/><stop offset="0.6475" stop-color="#ec622d"/><stop offset="0.6512" stop-color="#f39d31"/><stop offset="0.655" stop-color="#f4e237"/><stop offset="0.6562" stop-color="#e3e242"/><stop offset="0.6575" stop-color="#cdd94f"/><stop offset="0.6613" stop-color="#89c791"/><stop offset="0.6637" stop-color="#6fc3ba"/><stop offset="0.665" stop-color="#65c1c7"/><stop offset="0.67" stop-color="#43b9de"/><stop offset="0.675" stop-color="#28ade2"/><stop offset="0.6963" stop-color="#3071bd"/><stop offset="0.7175" stop-color="#3256aa"/><stop offset="0.7525" stop-color="#3049a1"/><stop offset="0.9537" stop-color="#2d3d97"/><stop offset="1" stop-color="#2e4099"/></linearGradient><linearGradient id="f24" gradientUnits="userSpaceOnUse" x1="-200" x2="200"><stop offset="0" stop-color="#3048a0"/><stop offset="0.0462" stop-color="#2d3e98"/><stop offset="0.1" stop-color="#314fa5"/><stop offset="0.1338" stop-color="#3049a1"/><stop offset="0.1675" stop-color="#2d4099"/><stop offset="0.2387" stop-color="#3151a7"/><stop offset="0.2925" stop-color="#3255aa"/><stop offset="0.3088" stop-color="#3162b3"/><stop offset="0.32" stop-color="#2f75c0"/><stop offset="0.3325" stop-color="#289eda"/><stop offset="0.335" stop-color="#26aae1"/><stop offset="0.3387" stop-color="#3ab5df"/><stop offset="0.3412" stop-color="#4bbbda"/><stop offset="0.345" stop-color="#66c1c6"/><stop offset="0.3475" stop-color="#7cc5a6"/><stop offset="0.3488" stop-color="#88c792"/><stop offset="0.3525" stop-color="#c7d752"/><stop offset="0.355" stop-color="#f0e73a"/><stop offset="0.3563" stop-color="#f5d737"/><stop offset="0.3613" stop-color="#f1872f"/><stop offset="0.365" stop-color="#ea582d"/><stop offset="0.3675" stop-color="#e6432b"/><stop offset="0.3725" stop-color="#df2f29"/><stop offset="0.38" stop-color="#db2628"/><stop offset="0.3875" stop-color="#d92528"/><stop offset="0.3925" stop-color="#de2c29"/><stop offset="0.3975" stop-color="#e6412b"/><stop offset="0.3987" stop-color="#e8492c"/><stop offset="0.4025" stop-color="#ef762e"/><stop offset="0.4075" stop-color="#f6c235"/><stop offset="0.41" stop-color="#f3e839"/><stop offset="0.4125" stop-color="#cdd94f"/><stop offset="0.4163" stop-color="#95ca83"/><stop offset="0.4188" stop-color="#7dc5a4"/><stop offset="0.4213" stop-color="#6cc3bf"/><stop offset="0.425" stop-color="#59bed0"/><stop offset="0.4313" stop-color="#43b9de"/><stop offset="0.4412" stop-color="#26abe2"/><stop offset="0.4537" stop-color="#2a94d4"/><stop offset="0.465" stop-color="#2a90d1"/><stop offset="0.4788" stop-color="#28a1dc"/><stop offset="0.4863" stop-color="#28ade2"/><stop offset="0.4988" stop-color="#35b3e0"/><stop offset="0.51" stop-color="#30b0e1"/><stop offset="0.5175" stop-color="#26aae1"/><stop offset="0.5363" stop-color="#2b8acd"/><stop offset="0.5487" stop-color="#2c85ca"/><stop offset="0.5625" stop-color="#2a93d3"/><stop offset="0.575" stop-color="#26ace2"/><stop offset="0.59" stop-color="#48badd"/><stop offset="0.595" stop-color="#5abecf"/><stop offset="0.5975" stop-color="#68c2c4"/><stop offset="0.6012" stop-color="#87c793"/><stop offset="0.6038" stop-color="#afd169"/><stop offset="0.605" stop-color="#c6d753"/><stop offset="0.6075" stop-color="#f1e739"/><stop offset="0.6112" stop-color="#f4a732"/><stop offset="0.615" stop-color="#ed692d"/><stop offset="0.6175" stop-color="#e84a2c"/><stop offset="0.6212" stop-color="#e1342a"/><stop offset="0.6262" stop-color="#dc2728"/><stop offset="0.6388" stop-color="#dd2928"/><stop offset="0.6438" stop-color="#e2382a"/><stop offset="0.6462" stop-color="#e8472c"/><stop offset="0.65" stop-color="#ef782e"/><stop offset="0.655" stop-color="#f5d136"/><stop offset="0.6562" stop-color="#f3e838"/><stop offset="0.6587" stop-color="#c5d653"/><stop offset="0.6613" stop-color="#95ca83"/><stop offset="0.6637" stop-color="#77c4ae"/><stop offset="0.665" stop-color="#6bc2c1"/><stop offset="0.67" stop-color="#47badd"/><stop offset="0.675" stop-color="#2aaee1"/><stop offset="0.6775" stop-color="#27a6de"/><stop offset="0.6963" stop-color="#3070bc"/><stop offset="0.7175" stop-color="#3255aa"/><stop offset="0.7538" stop-color="#3049a1"/><stop offset="0.9525" stop-color="#2d3d97"/><stop offset="1" stop-color="#2d4099"/></linearGradient><linearGradient id="f25" gradientUnits="userSpaceOnUse" x1="-200" x2="200"><stop offset="0" stop-color="#3048a0"/><stop offset="0.0488" stop-color="#2e429b"/><stop offset="0.1013" stop-color="#314fa5"/><stop offset="0.1363" stop-color="#30479f"/><stop offset="0.1675" stop-color="#2d3e98"/><stop offset="0.2362" stop-color="#3150a6"/><stop offset="0.2963" stop-color="#3153a9"/><stop offset="0.3113" stop-color="#3160b1"/><stop offset="0.3225" stop-color="#3073be"/><stop offset="0.335" stop-color="#289fda"/><stop offset="0.3375" stop-color="#26abe2"/><stop offset="0.3425" stop-color="#47badd"/><stop offset="0.3463" stop-color="#62c0c9"/><stop offset="0.3475" stop-color="#6dc3bd"/><stop offset="0.35" stop-color="#86c795"/><stop offset="0.3525" stop-color="#b0d168"/><stop offset="0.3538" stop-color="#c7d752"/><stop offset="0.3563" stop-color="#f3e839"/><stop offset="0.36" stop-color="#f4a832"/><stop offset="0.3638" stop-color="#ed6e2d"/><stop offset="0.3663" stop-color="#e9512c"/><stop offset="0.3688" stop-color="#e53f2b"/><stop offset="0.3738" stop-color="#df2e29"/><stop offset="0.3837" stop-color="#db2628"/><stop offset="0.39" stop-color="#de2a29"/><stop offset="0.395" stop-color="#e43d2b"/><stop offset="0.3975" stop-color="#e9502c"/><stop offset="0.4012" stop-color="#f0822e"/><stop offset="0.4062" stop-color="#f5d436"/><stop offset="0.4075" stop-color="#f3e839"/><stop offset="0.41" stop-color="#cad850"/><stop offset="0.4138" stop-color="#8ec88a"/><stop offset="0.4175" stop-color="#6fc3bb"/><stop offset="0.4188" stop-color="#66c1c6"/><stop offset="0.425" stop-color="#4abbdb"/><stop offset="0.4363" stop-color="#26abe2"/><stop offset="0.4487" stop-color="#2a90d2"/><stop offset="0.46" stop-color="#2b8acd"/><stop offset="0.4725" stop-color="#2996d5"/><stop offset="0.485" stop-color="#29ade2"/><stop offset="0.4975" stop-color="#38b4e0"/><stop offset="0.5088" stop-color="#33b2e0"/><stop offset="0.5175" stop-color="#26aae1"/><stop offset="0.5363" stop-color="#2c88cc"/><stop offset="0.55" stop-color="#2d81c7"/><stop offset="0.5637" stop-color="#2b8dcf"/><stop offset="0.5813" stop-color="#28ade2"/><stop offset="0.5925" stop-color="#42b8df"/><stop offset="0.5975" stop-color="#55bdd3"/><stop offset="0.6" stop-color="#64c1c8"/><stop offset="0.6012" stop-color="#6ec3bd"/><stop offset="0.6038" stop-color="#84c798"/><stop offset="0.605" stop-color="#95ca83"/><stop offset="0.6075" stop-color="#c4d654"/><stop offset="0.61" stop-color="#f2e739"/><stop offset="0.6125" stop-color="#f6bc34"/><stop offset="0.6162" stop-color="#ef792e"/><stop offset="0.62" stop-color="#e8472c"/><stop offset="0.6238" stop-color="#e1332a"/><stop offset="0.6288" stop-color="#dd2828"/><stop offset="0.6388" stop-color="#dd2928"/><stop offset="0.6438" stop-color="#e1352a"/><stop offset="0.6475" stop-color="#e94c2c"/><stop offset="0.6512" stop-color="#f0812e"/><stop offset="0.655" stop-color="#f5c635"/><stop offset="0.6562" stop-color="#f4de37"/><stop offset="0.6575" stop-color="#e6e340"/><stop offset="0.6587" stop-color="#ceda4e"/><stop offset="0.6613" stop-color="#9ccc7c"/><stop offset="0.6625" stop-color="#87c793"/><stop offset="0.665" stop-color="#6dc3bd"/><stop offset="0.6675" stop-color="#58bed1"/><stop offset="0.67" stop-color="#47badd"/><stop offset="0.675" stop-color="#29ade2"/><stop offset="0.6813" stop-color="#2997d6"/><stop offset="0.6963" stop-color="#306ebb"/><stop offset="0.7163" stop-color="#3255aa"/><stop offset="0.7538" stop-color="#3049a1"/><stop offset="0.9525" stop-color="#2d3d97"/><stop offset="1" stop-color="#2d3f99"/></linearGradient><linearGradient id="f26" gradientUnits="userSpaceOnUse" x1="-200" x2="200"><stop offset="0" stop-color="#3048a0"/><stop offset="0.0537" stop-color="#2f469e"/><stop offset="0.1025" stop-color="#314fa5"/><stop offset="0.1437" stop-color="#2f449d"/><stop offset="0.1713" stop-color="#2d3f99"/><stop offset="0.2387" stop-color="#3150a6"/><stop offset="0.2988" stop-color="#3152a8"/><stop offset="0.3137" stop-color="#315eb0"/><stop offset="0.325" stop-color="#3072be"/><stop offset="0.3362" stop-color="#289cd8"/><stop offset="0.3387" stop-color="#26a9e0"/><stop offset="0.3412" stop-color="#32b1e0"/><stop offset="0.3438" stop-color="#46bade"/><stop offset="0.3475" stop-color="#62c1c9"/><stop offset="0.3488" stop-color="#6ec3bc"/><stop offset="0.3513" stop-color="#89c791"/><stop offset="0.3538" stop-color="#b7d361"/><stop offset="0.355" stop-color="#ceda4e"/><stop offset="0.3563" stop-color="#e5e341"/><stop offset="0.3575" stop-color="#f4e037"/><stop offset="0.3613" stop-color="#f39c31"/><stop offset="0.365" stop-color="#ec632d"/><stop offset="0.3675" stop-color="#e8482c"/><stop offset="0.3725" stop-color="#e03229"/><stop offset="0.38" stop-color="#dd2828"/><stop offset="0.3875" stop-color="#dd2a28"/><stop offset="0.3925" stop-color="#e3392a"/><stop offset="0.395" stop-color="#e8482c"/><stop offset="0.3987" stop-color="#ef782e"/><stop offset="0.4037" stop-color="#f5cd36"/><stop offset="0.405" stop-color="#f4e338"/><stop offset="0.4062" stop-color="#e3e242"/><stop offset="0.4075" stop-color="#cdda4f"/><stop offset="0.4113" stop-color="#8cc88c"/><stop offset="0.415" stop-color="#6bc2c0"/><stop offset="0.4188" stop-color="#54bdd4"/><stop offset="0.4238" stop-color="#3eb7df"/><stop offset="0.4313" stop-color="#26aae1"/><stop offset="0.445" stop-color="#2b89cd"/><stop offset="0.4575" stop-color="#2d7ec6"/><stop offset="0.4725" stop-color="#2c87cb"/><stop offset="0.495" stop-color="#28a1dc"/><stop offset="0.5075" stop-color="#289fdb"/><stop offset="0.5387" stop-color="#2e7bc3"/><stop offset="0.555" stop-color="#2e7ac3"/><stop offset="0.5713" stop-color="#2b8dcf"/><stop offset="0.5875" stop-color="#26ace2"/><stop offset="0.5962" stop-color="#3eb6df"/><stop offset="0.6" stop-color="#4fbcd7"/><stop offset="0.6038" stop-color="#69c2c4"/><stop offset="0.6062" stop-color="#81c69d"/><stop offset="0.6075" stop-color="#91c987"/><stop offset="0.61" stop-color="#c3d655"/><stop offset="0.6125" stop-color="#f3e839"/><stop offset="0.615" stop-color="#f6b934"/><stop offset="0.6188" stop-color="#ee752e"/><stop offset="0.6212" stop-color="#e9522c"/><stop offset="0.6238" stop-color="#e43d2b"/><stop offset="0.6288" stop-color="#de2c29"/><stop offset="0.6388" stop-color="#dd2928"/><stop offset="0.6438" stop-color="#e03229"/><stop offset="0.6475" stop-color="#e7452c"/><stop offset="0.65" stop-color="#ec632d"/><stop offset="0.6538" stop-color="#f4a232"/><stop offset="0.6562" stop-color="#f5d336"/><stop offset="0.6575" stop-color="#f0e73a"/><stop offset="0.66" stop-color="#bfd559"/><stop offset="0.6625" stop-color="#8cc88c"/><stop offset="0.665" stop-color="#70c3b9"/><stop offset="0.6663" stop-color="#64c1c8"/><stop offset="0.67" stop-color="#47badd"/><stop offset="0.675" stop-color="#28ade2"/><stop offset="0.6887" stop-color="#2d7ec5"/><stop offset="0.6963" stop-color="#306cb9"/><stop offset="0.715" stop-color="#3255aa"/><stop offset="0.7525" stop-color="#3049a1"/><stop offset="0.9513" stop-color="#2d3d97"/><stop offset="1" stop-color="#2d3f99"/></linearGradient><linearGradient id="f27" gradientUnits="userSpaceOnUse" x1="-200" x2="200"><stop offset="0" stop-color="#3048a0"/><stop offset="0.0587" stop-color="#3049a1"/><stop offset="0.1062" stop-color="#314fa5"/><stop offset="0.1688" stop-color="#2e419a"/><stop offset="0.2462" stop-color="#314fa6"/><stop offset="0.3" stop-color="#3150a6"/><stop offset="0.3162" stop-color="#325daf"/><stop offset="0.3275" stop-color="#3072bd"/><stop offset="0.3387" stop-color="#289fda"/><stop offset="0.3412" stop-color="#28ade2"/><stop offset="0.345" stop-color="#45b9de"/><stop offset="0.3488" stop-color="#63c1c9"/><stop offset="0.35" stop-color="#6fc3ba"/><stop offset="0.3525" stop-color="#8bc88d"/><stop offset="0.355" stop-color="#bed45a"/><stop offset="0.3575" stop-color="#efe63b"/><stop offset="0.3588" stop-color="#f5d536"/><stop offset="0.3638" stop-color="#ef7b2e"/><stop offset="0.3675" stop-color="#e84a2c"/><stop offset="0.3713" stop-color="#e2372a"/><stop offset="0.3775" stop-color="#de2b29"/><stop offset="0.3862" stop-color="#de2c29"/><stop offset="0.3912" stop-color="#e33b2a"/><stop offset="0.3937" stop-color="#e94c2c"/><stop offset="0.3975" stop-color="#f0802e"/><stop offset="0.4025" stop-color="#f5db37"/><stop offset="0.4037" stop-color="#e9e43e"/><stop offset="0.4062" stop-color="#bbd45d"/><stop offset="0.4088" stop-color="#8cc88c"/><stop offset="0.4125" stop-color="#68c2c5"/><stop offset="0.4175" stop-color="#49bbdb"/><stop offset="0.425" stop-color="#28ade2"/><stop offset="0.44" stop-color="#2c85ca"/><stop offset="0.4537" stop-color="#2f75bf"/><stop offset="0.4725" stop-color="#2f76c0"/><stop offset="0.5012" stop-color="#2d82c8"/><stop offset="0.5463" stop-color="#3070bc"/><stop offset="0.565" stop-color="#2e79c2"/><stop offset="0.5837" stop-color="#2997d5"/><stop offset="0.5938" stop-color="#26ace2"/><stop offset="0.6" stop-color="#3cb6df"/><stop offset="0.6038" stop-color="#52bdd5"/><stop offset="0.6062" stop-color="#65c1c7"/><stop offset="0.6075" stop-color="#71c3b7"/><stop offset="0.61" stop-color="#8ec98a"/><stop offset="0.6125" stop-color="#c2d656"/><stop offset="0.615" stop-color="#f4e838"/><stop offset="0.6188" stop-color="#f39c31"/><stop offset="0.6225" stop-color="#eb5e2d"/><stop offset="0.6238" stop-color="#e94e2c"/><stop offset="0.6262" stop-color="#e43c2b"/><stop offset="0.6312" stop-color="#de2d29"/><stop offset="0.6412" stop-color="#de2c29"/><stop offset="0.6462" stop-color="#e33a2a"/><stop offset="0.6488" stop-color="#e8492c"/><stop offset="0.6512" stop-color="#ed6a2d"/><stop offset="0.655" stop-color="#f5ae33"/><stop offset="0.6575" stop-color="#f4e037"/><stop offset="0.6587" stop-color="#e2e143"/><stop offset="0.66" stop-color="#c9d851"/><stop offset="0.6625" stop-color="#93ca85"/><stop offset="0.665" stop-color="#73c4b4"/><stop offset="0.6663" stop-color="#66c1c6"/><stop offset="0.67" stop-color="#48badd"/><stop offset="0.675" stop-color="#26ace2"/><stop offset="0.6863" stop-color="#2d83c8"/><stop offset="0.695" stop-color="#306cb9"/><stop offset="0.7125" stop-color="#3256aa"/><stop offset="0.75" stop-color="#3049a1"/><stop offset="0.9487" stop-color="#2d3d96"/><stop offset="1" stop-color="#2d3f99"/></linearGradient><linearGradient id="f28" gradientUnits="userSpaceOnUse" x1="-200" x2="200"><stop offset="0" stop-color="#3049a0"/><stop offset="0.0638" stop-color="#314ca3"/><stop offset="0.115" stop-color="#314da4"/><stop offset="0.1713" stop-color="#2f439c"/><stop offset="0.2525" stop-color="#314fa5"/><stop offset="0.3025" stop-color="#314fa5"/><stop offset="0.3187" stop-color="#325cae"/><stop offset="0.33" stop-color="#3072be"/><stop offset="0.34" stop-color="#289cd9"/><stop offset="0.3425" stop-color="#26abe2"/><stop offset="0.3463" stop-color="#43b9de"/><stop offset="0.35" stop-color="#63c1c8"/><stop offset="0.3513" stop-color="#71c3b8"/><stop offset="0.3538" stop-color="#90c988"/><stop offset="0.3563" stop-color="#c6d753"/><stop offset="0.3575" stop-color="#dfe044"/><stop offset="0.3588" stop-color="#f4e338"/><stop offset="0.3625" stop-color="#f39931"/><stop offset="0.3663" stop-color="#eb5d2d"/><stop offset="0.3688" stop-color="#e6442b"/><stop offset="0.3725" stop-color="#e1342a"/><stop offset="0.38" stop-color="#de2c29"/><stop offset="0.3862" stop-color="#df2f29"/><stop offset="0.39" stop-color="#e43d2b"/><stop offset="0.3925" stop-color="#e9502c"/><stop offset="0.3962" stop-color="#f1882f"/><stop offset="0.4" stop-color="#f5d136"/><stop offset="0.4012" stop-color="#f2e739"/><stop offset="0.4037" stop-color="#c0d558"/><stop offset="0.4062" stop-color="#8dc88b"/><stop offset="0.4088" stop-color="#71c3b6"/><stop offset="0.41" stop-color="#66c1c6"/><stop offset="0.415" stop-color="#44b9de"/><stop offset="0.42" stop-color="#2aaee2"/><stop offset="0.4225" stop-color="#27a6de"/><stop offset="0.435" stop-color="#2d82c8"/><stop offset="0.4475" stop-color="#3070bc"/><stop offset="0.4825" stop-color="#306ebb"/><stop offset="0.5613" stop-color="#306fbb"/><stop offset="0.5763" stop-color="#2e7cc4"/><stop offset="0.5962" stop-color="#27a3dd"/><stop offset="0.6" stop-color="#29ade2"/><stop offset="0.6038" stop-color="#3cb6df"/><stop offset="0.6062" stop-color="#4ebcd8"/><stop offset="0.6088" stop-color="#62c0c9"/><stop offset="0.61" stop-color="#6ec3bb"/><stop offset="0.6125" stop-color="#8cc88c"/><stop offset="0.615" stop-color="#c3d655"/><stop offset="0.6175" stop-color="#f4e538"/><stop offset="0.6212" stop-color="#f39731"/><stop offset="0.6238" stop-color="#ed6b2d"/><stop offset="0.6262" stop-color="#e84a2c"/><stop offset="0.63" stop-color="#e1352a"/><stop offset="0.635" stop-color="#de2d29"/><stop offset="0.6438" stop-color="#df3029"/><stop offset="0.6475" stop-color="#e43c2b"/><stop offset="0.65" stop-color="#e94f2c"/><stop offset="0.6525" stop-color="#ee722e"/><stop offset="0.6562" stop-color="#f6bb34"/><stop offset="0.6575" stop-color="#f5d436"/><stop offset="0.6587" stop-color="#ede53c"/><stop offset="0.66" stop-color="#d3dc4b"/><stop offset="0.6613" stop-color="#b8d360"/><stop offset="0.6625" stop-color="#9ccc7c"/><stop offset="0.6637" stop-color="#85c797"/><stop offset="0.6663" stop-color="#68c2c4"/><stop offset="0.67" stop-color="#48bbdc"/><stop offset="0.6737" stop-color="#2cafe1"/><stop offset="0.675" stop-color="#26abe2"/><stop offset="0.685" stop-color="#2c84c9"/><stop offset="0.6937" stop-color="#306cb9"/><stop offset="0.7113" stop-color="#3256aa"/><stop offset="0.7512" stop-color="#3049a1"/><stop offset="0.95" stop-color="#2d3d96"/><stop offset="1" stop-color="#2d3f99"/></linearGradient><linearGradient id="f29" gradientUnits="userSpaceOnUse" x1="-200" x2="200"><stop offset="0" stop-color="#3049a0"/><stop offset="0.1062" stop-color="#314ea4"/><stop offset="0.1737" stop-color="#2f459e"/><stop offset="0.255" stop-color="#314fa5"/><stop offset="0.305" stop-color="#314ea5"/><stop offset="0.3212" stop-color="#325aae"/><stop offset="0.3325" stop-color="#3073be"/><stop offset="0.3425" stop-color="#28a1db"/><stop offset="0.3438" stop-color="#26a9e0"/><stop offset="0.3463" stop-color="#36b3e0"/><stop offset="0.3488" stop-color="#4cbbd9"/><stop offset="0.3513" stop-color="#64c1c8"/><stop offset="0.3525" stop-color="#72c4b6"/><stop offset="0.3538" stop-color="#82c69d"/><stop offset="0.355" stop-color="#96cb82"/><stop offset="0.3575" stop-color="#cfda4e"/><stop offset="0.3588" stop-color="#eae43e"/><stop offset="0.36" stop-color="#f5d737"/><stop offset="0.3638" stop-color="#f18b2f"/><stop offset="0.3663" stop-color="#ec612d"/><stop offset="0.3688" stop-color="#e7452c"/><stop offset="0.3725" stop-color="#e1352a"/><stop offset="0.38" stop-color="#df2e29"/><stop offset="0.3862" stop-color="#e1342a"/><stop offset="0.39" stop-color="#e7462c"/><stop offset="0.3925" stop-color="#ec652d"/><stop offset="0.395" stop-color="#f29130"/><stop offset="0.3987" stop-color="#f4df37"/><stop offset="0.4" stop-color="#e2e142"/><stop offset="0.4012" stop-color="#c8d752"/><stop offset="0.4037" stop-color="#91c987"/><stop offset="0.4062" stop-color="#71c3b8"/><stop offset="0.4075" stop-color="#64c1c8"/><stop offset="0.4113" stop-color="#47badd"/><stop offset="0.4163" stop-color="#27ace2"/><stop offset="0.4263" stop-color="#2b89cd"/><stop offset="0.4387" stop-color="#3070bc"/><stop offset="0.465" stop-color="#3169b8"/><stop offset="0.5675" stop-color="#306cb9"/><stop offset="0.5813" stop-color="#2f77c1"/><stop offset="0.5975" stop-color="#2997d6"/><stop offset="0.6038" stop-color="#27ade2"/><stop offset="0.6075" stop-color="#40b7df"/><stop offset="0.61" stop-color="#54bdd4"/><stop offset="0.6125" stop-color="#6cc3bf"/><stop offset="0.615" stop-color="#8bc88d"/><stop offset="0.6175" stop-color="#c4d654"/><stop offset="0.6188" stop-color="#dfe044"/><stop offset="0.62" stop-color="#f4e137"/><stop offset="0.6238" stop-color="#f29230"/><stop offset="0.6262" stop-color="#ec662d"/><stop offset="0.6288" stop-color="#e8472c"/><stop offset="0.6325" stop-color="#e1352a"/><stop offset="0.6388" stop-color="#df2f29"/><stop offset="0.645" stop-color="#e03229"/><stop offset="0.6488" stop-color="#e53f2b"/><stop offset="0.65" stop-color="#e8472c"/><stop offset="0.6525" stop-color="#ec662d"/><stop offset="0.655" stop-color="#f29330"/><stop offset="0.6587" stop-color="#f4e338"/><stop offset="0.66" stop-color="#dee045"/><stop offset="0.6613" stop-color="#c2d656"/><stop offset="0.6637" stop-color="#8ac88f"/><stop offset="0.6663" stop-color="#6bc2c1"/><stop offset="0.67" stop-color="#49bbdc"/><stop offset="0.6737" stop-color="#2baee1"/><stop offset="0.675" stop-color="#26aae1"/><stop offset="0.6837" stop-color="#2c85ca"/><stop offset="0.6913" stop-color="#306ebb"/><stop offset="0.7087" stop-color="#3256ab"/><stop offset="0.7475" stop-color="#3049a1"/><stop offset="0.9475" stop-color="#2d3c96"/><stop offset="1" stop-color="#2d3f99"/></linearGradient><clipPath id="fc"><path d="M226.2 402.9L665.6 494.2L520.0 593.8L80.5 502.5Z"/></clipPath><filter id="fb" x="-5%" y="-5%" width="110%" height="110%"><feGaussianBlur stdDeviation="1.6"/></filter></defs><g clip-path="url(#fc)"><g filter="url(#fb)"><g transform="matrix(1.0987 0.2281 -0.4856 0.3319 445.90 448.56)"><rect x="-200" y="-0.3" width="400" height="10.6" fill="url(#f0)"/><rect x="-200" y="9.7" width="400" height="10.6" fill="url(#f1)"/><rect x="-200" y="19.7" width="400" height="10.6" fill="url(#f2)"/><rect x="-200" y="29.7" width="400" height="10.6" fill="url(#f3)"/><rect x="-200" y="39.7" width="400" height="10.6" fill="url(#f4)"/><rect x="-200" y="49.7" width="400" height="10.6" fill="url(#f5)"/><rect x="-200" y="59.7" width="400" height="10.6" fill="url(#f6)"/><rect x="-200" y="69.7" width="400" height="10.6" fill="url(#f7)"/><rect x="-200" y="79.7" width="400" height="10.6" fill="url(#f8)"/><rect x="-200" y="89.7" width="400" height="10.6" fill="url(#f9)"/><rect x="-200" y="99.7" width="400" height="10.6" fill="url(#f10)"/><rect x="-200" y="109.7" width="400" height="10.6" fill="url(#f11)"/><rect x="-200" y="119.7" width="400" height="10.6" fill="url(#f12)"/><rect x="-200" y="129.7" width="400" height="10.6" fill="url(#f13)"/><rect x="-200" y="139.7" width="400" height="10.6" fill="url(#f14)"/><rect x="-200" y="149.7" width="400" height="10.6" fill="url(#f15)"/><rect x="-200" y="159.7" width="400" height="10.6" fill="url(#f16)"/><rect x="-200" y="169.7" width="400" height="10.6" fill="url(#f17)"/><rect x="-200" y="179.7" width="400" height="10.6" fill="url(#f18)"/><rect x="-200" y="189.7" width="400" height="10.6" fill="url(#f19)"/><rect x="-200" y="199.7" width="400" height="10.6" fill="url(#f20)"/><rect x="-200" y="209.7" width="400" height="10.6" fill="url(#f21)"/><rect x="-200" y="219.7" width="400" height="10.6" fill="url(#f22)"/><rect x="-200" y="229.7" width="400" height="10.6" fill="url(#f23)"/><rect x="-200" y="239.7" width="400" height="10.6" fill="url(#f24)"/><rect x="-200" y="249.7" width="400" height="10.6" fill="url(#f25)"/><rect x="-200" y="259.7" width="400" height="10.6" fill="url(#f26)"/><rect x="-200" y="269.7" width="400" height="10.6" fill="url(#f27)"/><rect x="-200" y="279.7" width="400" height="10.6" fill="url(#f28)"/><rect x="-200" y="289.7" width="400" height="10.6" fill="url(#f29)"/></g></g></g><path d="M226.2 402.9L665.6 494.2M226.2 402.9L80.5 502.5" stroke="#222" stroke-width="0.8" fill="none"/><path d="M665.6 494.2L762.8 427.8M80.5 502.5L520.0 593.8M80.5 502.5L70.8 509.1M190.3 525.3L180.6 532.0M300.2 548.1L290.5 554.8M410.1 570.9L400.4 577.6M520.0 593.8L510.2 600.4M665.6 494.2L676.6 496.5M520.0 593.8L530.9 596.0M80.5 330.8L70.6 328.8M80.5 296.5L70.6 294.4M80.5 262.1L70.6 260.1M80.5 227.8L70.6 225.7" stroke="#3a3030" stroke-width="0.8" fill="none"/><g><path d="M226.2 221.9l7 .9-6.1 4.2-7.1-.8z" fill="#29378a"/><path d="M221.7 225.1l7.1.8-6.6 4.2-7.1-.8z" fill="#29378a"/><path d="M216.8 228.2l7.1.8-6.6 3.8-7.1-.7z" fill="#29378b"/><path d="M212 231.1l7.1.7-6.7 3.6-7.1-.8z" fill="#29388c"/><path d="M207.1 233.7l7.1.7-6.6 3.9-7.1-1z" fill="#2a398d"/><path d="M202.3 236.3l7 .9-6.5 4.5-7.1-1.2z" fill="#2a3a8e"/><path d="M197.4 239.4l7 1.1-6.4 5.2-7.1-1.4z" fill="#2a3a8f"/><path d="M192.5 243l7.1 1.4-6.4 5.7-7.1-1.5z" fill="#2a398e"/><path d="M187.6 247.2l7.1 1.5-6.4 5.6-7-1.4z" fill="#2a388c"/><path d="M182.8 251.5l7.1 1.5-6.5 4.9-7-1.1z" fill="#29378b"/><path d="M178 255.5l7.1 1.2-6.6 4-7.1-.8z" fill="#29368a"/><path d="M173.1 258.8l7.1.8-6.7 3.3-7-.6z" fill="#293689"/><path d="M168.3 261.4l7.1.6-6.7 3.3-7.1-.7z" fill="#29378b"/><path d="M163.4 263.7l7.1.6-6.6 3.9-7.1-1z" fill="#2a398d"/><path d="M158.6 266.2l7 .9-6.5 4.7-7.1-1.3z" fill="#2a3a8e"/><path d="M153.7 269.3l7 1.3-6.4 5.4-7.1-1.6z" fill="#2a3a8f"/><path d="M148.8 273.1l7.1 1.6-6.4 5.6-7.1-1.6z" fill="#2a398e"/><path d="M144 277.3l7 1.7-6.4 5.3-7.1-1.6z" fill="#2a388d"/><path d="M139.1 281.4l7.1 1.6-6.5 4.7-7.1-1.4z" fill="#2a378b"/><path d="M134.3 285.1l7 1.5-6.5 4.2-7.1-1.3z" fill="#29378b"/><path d="M129.4 288.3l7.1 1.4-6.6 4.2-7.1-1.3z" fill="#29378b"/><path d="M124.6 291.5l7 1.3-6.5 4.7-7.1-1.5z" fill="#29378b"/><path d="M119.7 294.8l7 1.5-6.4 5.1-7.1-1.4z" fill="#29368b"/><path d="M114.8 298.7l7.1 1.4-6.4 5.4-7.1-1.3z" fill="#293589"/><path d="M110 302.9l7 1.3-6.4 5.2-7.1-1.1z" fill="#283487"/><path d="M105.1 307l7.1 1.1-6.5 4.5-7.1-.6z" fill="#283386"/><path d="M100.3 310.8l7.1.7-6.6 3.8-7.1-.3z" fill="#283385"/><path d="M95.4 313.9l7.1.4-6.6 3.3-7.1-.2z" fill="#283385"/><path d="M90.6 316.4l7.1.3-6.7 3.3-7.1-.4z" fill="#283486"/><path d="M85.7 318.7l7.1.4-5.2 2.9-7.1-.6z" fill="#283688"/><path d="M231.2 222.6l7.5.8-6.1 4.2-7.6-.8z" fill="#29378b"/><path d="M226.7 225.7l7.6.8-6.6 4.1-7.6-.7z" fill="#29378b"/><path d="M221.9 228.8l7.5.8-6.6 3.8-7.5-.8z" fill="#29388c"/><path d="M217 231.6l7.6.7-6.7 3.8-7.5-.9z" fill="#2a398d"/><path d="M212.2 234.2l7.5.8-6.6 4.1-7.6-1.1z" fill="#2a3a8e"/><path d="M207.3 236.9l7.5 1.1-6.5 4.7-7.6-1.3z" fill="#2a3a8f"/><path d="M202.4 240.2l7.5 1.3-6.4 5.4-7.5-1.6z" fill="#2a3a8f"/><path d="M197.6 244l7.5 1.6-6.4 5.6-7.5-1.5z" fill="#2a398e"/><path d="M192.7 248.3l7.5 1.6-6.4 5.3-7.5-1.3z" fill="#2a388c"/><path d="M187.9 252.6l7.5 1.3-6.5 4.6-7.5-.9z" fill="#29378b"/><path d="M183 256.3l7.6 1.1-6.7 3.7-7.5-.7z" fill="#29368a"/><path d="M178.2 259.4l7.5.7-6.7 3.2-7.5-.5z" fill="#29378a"/><path d="M173.3 261.8l7.6.6-6.7 3.4-7.6-.7z" fill="#29388c"/><path d="M168.5 264.1l7.5.7-6.6 4.2-7.6-1.1z" fill="#2a3a8e"/><path d="M163.6 266.8l7.5 1.1-6.5 5-7.5-1.4z" fill="#2a3a8f"/><path d="M158.7 270.2l7.5 1.4-6.4 5.6-7.5-1.6z" fill="#2a3a8f"/><path d="M153.9 274.3l7.5 1.5-6.4 5.6-7.5-1.5z" fill="#2a398e"/><path d="M149 278.5l7.5 1.6-6.4 5.1-7.5-1.3z" fill="#2a378c"/><path d="M144.2 282.6l7.5 1.4-6.5 4.5-7.5-1.2z" fill="#29378b"/><path d="M139.3 286.2l7.5 1.1-6.5 4.1-7.6-.9z" fill="#29378b"/><path d="M134.5 289.3l7.5 1.1-6.6 4.2-7.5-1z" fill="#29378b"/><path d="M129.6 292.5l7.5.9-6.5 4.7-7.5-1z" fill="#29378b"/><path d="M124.7 295.9l7.6 1-6.5 5.1-7.5-1z" fill="#29368a"/><path d="M119.9 299.7l7.5 1-6.4 5.2-7.6-.7z" fill="#293589"/><path d="M115 303.8l7.6.8-6.5 5-7.5-.5z" fill="#283487"/><path d="M110.2 307.8l7.5.5-6.5 4.3-7.6-.1z" fill="#283486"/><path d="M105.3 311.3l7.6.2-6.7 3.7-7.5 0z" fill="#283485"/><path d="M100.5 314.2l7.5 0-6.7 3.3-7.5.1z" fill="#283486"/><path d="M95.6 316.6l7.6 0-6.7 3.5-7.6-.2z" fill="#283688"/><path d="M90.8 319l7.5.1-5.2 3.1-7.6-.4z" fill="#29378a"/><path d="M236.7 223.2l7.5 1-6.1 4.2-7.6-1z" fill="#2a388c"/><path d="M232.2 226.3l7.6 1-6.6 4.1-7.6-1z" fill="#2a388d"/><path d="M227.4 229.3l7.5 1-6.6 3.9-7.6-1.1z" fill="#2a398d"/><path d="M222.5 232.1l7.5 1-6.6 3.9-7.5-1.2z" fill="#2a3a8e"/><path d="M217.7 234.8l7.5 1.1-6.6 4.3-7.5-1.4z" fill="#2b3b90"/><path d="M212.8 237.7l7.5 1.4-6.5 4.9-7.5-1.6z" fill="#2b3b90"/><path d="M207.9 241.1l7.5 1.7-6.4 5.4-7.5-1.7z" fill="#2b3a90"/><path d="M203.1 245.1l7.4 1.8-6.4 5.6-7.4-1.7z" fill="#2a398f"/><path d="M198.2 249.4l7.5 1.8-6.4 5.1-7.5-1.4z" fill="#2a388d"/><path d="M193.4 253.6l7.5 1.4-6.6 4.3-7.5-1z" fill="#29378c"/><path d="M188.5 257.1l7.6 1.1-6.7 3.5-7.5-.8z" fill="#29378b"/><path d="M183.7 259.9l7.5.8-6.7 3.2-7.5-.8z" fill="#29388c"/><path d="M178.8 262.2l7.6.8-6.7 3.6-7.6-1z" fill="#2a398e"/><path d="M174 264.6l7.5 1-6.6 4.5-7.5-1.4z" fill="#2a3b8f"/><path d="M169.1 267.6l7.5 1.3-6.5 5.2-7.5-1.6z" fill="#2b3b90"/><path d="M164.2 271.2l7.5 1.6-6.4 5.7-7.5-1.7z" fill="#2b3a8f"/><path d="M159.4 275.4l7.4 1.7-6.4 5.5-7.4-1.6z" fill="#2a398e"/><path d="M154.5 279.7l7.5 1.6-6.5 4.9-7.5-1.3z" fill="#2a388c"/><path d="M149.7 283.6l7.5 1.3-6.6 4.3-7.5-1z" fill="#29378b"/><path d="M144.8 287l7.5 1.1-6.6 4-7.5-.9z" fill="#29378b"/><path d="M140 290.1l7.5.9-6.6 4.2-7.5-.9z" fill="#29378b"/><path d="M135.1 293.2l7.5.9-6.5 4.7-7.5-1z" fill="#29378b"/><path d="M130.2 296.6l7.6.9-6.5 5.1-7.5-.9z" fill="#29378b"/><path d="M125.4 300.4l7.5.9-6.5 5.1-7.5-.7z" fill="#29368a"/><path d="M120.5 304.4l7.6.7-6.6 4.7-7.5-.4z" fill="#293589"/><path d="M115.7 308.2l7.5.5-6.6 4.1-7.5-.2z" fill="#293588"/><path d="M110.8 311.5l7.6.2-6.7 3.7-7.5-.2z" fill="#293688"/><path d="M106 314.2l7.5.2-6.6 3.5-7.6-.4z" fill="#29378a"/><path d="M101.1 316.6l7.6.4-6.7 3.8-7.5-.8z" fill="#2a388c"/><path d="M96.3 319l7.5.8-5.3 3.5-7.5-1.2z" fill="#2a398e"/><path d="M242.2 223.9l7.5 1.3-6.2 4.3-7.5-1.4z" fill="#2a398e"/><path d="M237.7 227l7.5 1.3-6.6 4.2-7.5-1.4z" fill="#2a398e"/><path d="M232.9 230l7.5 1.4-6.6 3.9-7.6-1.4z" fill="#2a3a8f"/><path d="M228 232.8l7.5 1.5-6.6 4-7.5-1.7z" fill="#2b3a90"/><path d="M223.2 235.6l7.4 1.6-6.5 4.5-7.5-1.9z" fill="#2b3b91"/><path d="M218.3 238.7l7.5 1.8-6.5 5.1-7.5-2z" fill="#2b3b91"/><path d="M213.4 242.3l7.5 2-6.4 5.5-7.5-2z" fill="#2b3a91"/><path d="M208.6 246.4l7.4 2.1-6.4 5.4-7.4-1.9z" fill="#2a398f"/><path d="M203.7 250.7l7.5 1.9-6.5 4.9-7.5-1.6z" fill="#2a388d"/><path d="M198.9 254.6l7.5 1.7-6.6 4-7.5-1.3z" fill="#2a388c"/><path d="M194 257.9l7.6 1.3-6.7 3.4-7.5-1.2z" fill="#2a388c"/><path d="M189.2 260.5l7.5 1.1-6.7 3.3-7.5-1.2z" fill="#2a398e"/><path d="M184.3 262.8l7.5 1.2-6.6 3.9-7.5-1.6z" fill="#2b3a90"/><path d="M179.4 265.3l7.5 1.5-6.5 4.8-7.5-1.9z" fill="#2b3b91"/><path d="M174.6 268.5l7.4 1.8-6.4 5.5-7.5-2.1z" fill="#2b3b92"/><path d="M169.7 272.4l7.5 2-6.4 5.7-7.5-2.1z" fill="#2b3a91"/><path d="M164.9 276.7l7.4 2-6.4 5.3-7.5-1.8z" fill="#2b398f"/><path d="M160 280.8l7.5 1.9-6.5 4.6-7.5-1.5z" fill="#2a388e"/><path d="M155.2 284.6l7.5 1.6-6.6 4-7.5-1.3z" fill="#2a388d"/><path d="M150.3 287.8l7.5 1.4-6.6 3.9-7.5-1.3z" fill="#2a388d"/><path d="M145.5 290.7l7.5 1.4-6.6 4.2-7.5-1.4z" fill="#2a398e"/><path d="M140.6 293.8l7.5 1.4-6.5 4.8-7.5-1.5z" fill="#2a398f"/><path d="M135.7 297.3l7.5 1.5-6.4 5.1-7.5-1.6z" fill="#2a398f"/><path d="M130.9 301.1l7.5 1.5-6.5 5.2-7.5-1.6z" fill="#2a388e"/><path d="M126 304.9l7.5 1.6-6.5 4.8-7.5-1.6z" fill="#2a378d"/><path d="M121.2 308.5l7.5 1.6-6.6 4.3-7.5-1.8z" fill="#2a378d"/><path d="M116.3 311.6l7.5 1.7-6.6 4.1-7.5-2.2z" fill="#2a388e"/><path d="M111.5 314.2l7.4 2.1-6.6 4.1-7.5-2.7z" fill="#2b3990"/><path d="M106.6 316.7l7.4 2.6-6.6 4.5-7.4-3.3z" fill="#2b3a92"/><path d="M101.8 319.4l7.3 3.3-5.2 4-7.3-3.9z" fill="#2c3b93"/><path d="M247.7 224.8l7.5 1.7-6.2 4.3-7.5-1.7z" fill="#2a398f"/><path d="M243.2 228l7.5 1.7-6.6 4.1-7.5-1.7z" fill="#2a3a8f"/><path d="M238.4 231l7.5 1.8-6.7 3.9-7.5-1.8z" fill="#2b3a90"/><path d="M233.5 233.9l7.5 1.8-6.6 4.1-7.5-2z" fill="#2b3b91"/><path d="M228.6 236.7l7.5 2-6.5 4.6-7.5-2.1z" fill="#2b3b92"/><path d="M223.8 240l7.4 2.1-6.4 5.3-7.5-2.4z" fill="#2b3b92"/><path d="M218.9 243.8l7.5 2.3-6.4 5.5-7.5-2.3z" fill="#2b3a91"/><path d="M214.1 247.9l7.4 2.3-6.4 5.3-7.5-2.1z" fill="#2b398f"/><path d="M209.2 252.1l7.5 2.1-6.5 4.6-7.5-1.8z" fill="#2a388e"/><path d="M204.4 255.8l7.5 1.8-6.7 3.8-7.4-1.5z" fill="#2a388d"/><path d="M199.5 258.9l7.5 1.5-6.7 3.3-7.5-1.5z" fill="#2a398e"/><path d="M194.7 261.3l7.5 1.5-6.7 3.5-7.5-1.7z" fill="#2b3a90"/><path d="M189.8 263.6l7.5 1.8-6.6 4.2-7.5-2.2z" fill="#2b3c92"/><path d="M184.9 266.4l7.5 2.1-6.5 5.1-7.5-2.6z" fill="#2c3c94"/><path d="M180.1 269.8l7.4 2.5-6.4 5.6-7.5-2.7z" fill="#2c3c94"/><path d="M175.2 273.9l7.4 2.7-6.4 5.7-7.4-2.8z" fill="#2b3a92"/><path d="M170.4 278.1l7.4 2.8-6.5 5.2-7.4-2.6z" fill="#2b3991"/><path d="M165.5 282.2l7.4 2.7-6.5 4.5-7.4-2.5z" fill="#2b3990"/><path d="M160.7 285.7l7.4 2.6-6.6 4.2-7.4-2.7z" fill="#2b3990"/><path d="M155.8 288.7l7.4 2.7-6.6 4.2-7.4-2.9z" fill="#2b3991"/><path d="M151 291.6l7.4 2.9-6.6 4.7-7.4-3.3z" fill="#2b3a92"/><path d="M146.1 294.7l7.4 3.3-6.5 5.2-7.4-3.7z" fill="#2b3a92"/><path d="M141.3 298.3l7.3 3.6-6.5 5.5-7.3-4z" fill="#2b3991"/><path d="M136.4 302.1l7.3 4-6.5 5.4-7.3-4.3z" fill="#2b3890"/><path d="M131.6 305.9l7.2 4.3-6.5 5-7.2-4.5z" fill="#2b378f"/><path d="M126.7 309.5l7.3 4.5-6.6 4.5-7.2-4.7z" fill="#2b378f"/><path d="M121.9 312.7l7.2 4.6-6.6 4.3-7.2-4.9z" fill="#2b378f"/><path d="M117 315.6l7.2 4.9-6.6 4.2-7.2-5.1z" fill="#2b3890"/><path d="M112.2 318.5l7.1 5.1-6.5 4.5-7.2-5.2z" fill="#2b3890"/><path d="M107.3 321.8l7.2 5.1-5.2 3.9-7.2-5.1z" fill="#2b3890"/><path d="M253.2 226.1l7.5 1.9-6.2 4.3-7.5-1.9z" fill="#2b3a90"/><path d="M248.7 229.2l7.5 2-6.6 4.1-7.5-1.9z" fill="#2b3a90"/><path d="M243.9 232.3l7.4 1.9-6.6 4.1-7.4-2.1z" fill="#2b3a91"/><path d="M239 235.2l7.5 2-6.6 4.3-7.5-2.2z" fill="#2b3b92"/><path d="M234.1 238.2l7.5 2.1-6.5 4.8-7.5-2.3z" fill="#2b3b92"/><path d="M229.3 241.6l7.4 2.3-6.4 5.3-7.5-2.5z" fill="#2b3b92"/><path d="M224.4 245.4l7.4 2.5-6.4 5.5-7.4-2.5z" fill="#2b3a91"/><path d="M219.6 249.6l7.4 2.5-6.4 5.1-7.5-2.3z" fill="#2b3990"/><path d="M214.7 253.7l7.5 2.3-6.6 4.4-7.4-2.1z" fill="#2b388f"/><path d="M209.9 257.1l7.4 2.2-6.6 3.8-7.5-2.1z" fill="#2b3990"/><path d="M205 260l7.5 2.1-6.7 3.6-7.4-2.4z" fill="#2b3a91"/><path d="M200.2 262.4l7.4 2.3-6.6 4.1-7.5-3z" fill="#2c3b93"/><path d="M195.3 264.8l7.4 2.9-6.6 4.9-7.4-3.6z" fill="#2c3c95"/><path d="M190.4 267.8l7.4 3.6-6.5 5.7-7.3-4.3z" fill="#2c3c94"/><path d="M185.6 271.6l7.3 4.1-6.4 6.1-7.3-4.6z" fill="#2c3a93"/><path d="M180.7 275.8l7.3 4.5-6.4 5.9-7.2-4.7z" fill="#2b3991"/><path d="M175.9 280.1l7.2 4.8-6.4 5.3-7.2-4.9z" fill="#2b3890"/><path d="M171.1 284.1l7.2 4.8-6.6 4.7-7.2-4.9z" fill="#2b378f"/><path d="M166.2 287.5l7.2 4.9-6.6 4.4-7.2-5.1z" fill="#2b378f"/><path d="M161.4 290.6l7.1 5.1-6.5 4.4-7.2-5.3z" fill="#2b378f"/><path d="M156.5 293.7l7.2 5.2-6.6 4.8-7.1-5.4z" fill="#2b378f"/><path d="M151.6 297.1l7.2 5.4-6.5 5.1-7.1-5.4z" fill="#2b378e"/><path d="M146.8 301l7.1 5.3-6.4 5.2-7.1-5.1z" fill="#2a368d"/><path d="M141.9 305.1l7.2 5.1-6.5 4.7-7.1-4.5z" fill="#2a348b"/><path d="M137.1 309.2l7.2 4.5-6.5 4.2-7.2-3.8z" fill="#29348a"/><path d="M132.2 312.9l7.3 3.9-6.6 3.7-7.3-3.1z" fill="#293389"/><path d="M127.3 316.3l7.4 3.2-6.6 3.3-7.4-2.3z" fill="#293388"/><path d="M122.5 319.4l7.4 2.5-6.6 3.3-7.4-1.5z" fill="#293488"/><path d="M117.6 322.6l7.5 1.7-6.6 3.6-7.5-.8z" fill="#283487"/><path d="M112.7 326l7.6.8-5.3 3.1-7.5 0z" fill="#283487"/><path d="M258.7 227.5l7.5 2.1-6.2 4.4-7.5-2.2z" fill="#2b3a91"/><path d="M254.2 230.6l7.5 2.2-6.6 4.3-7.5-2.3z" fill="#2b3a91"/><path d="M249.4 233.7l7.4 2.3-6.6 4.2-7.4-2.5z" fill="#2b3b92"/><path d="M244.5 236.6l7.4 2.5-6.5 4.6-7.5-2.8z" fill="#2c3b93"/><path d="M239.6 239.7l7.4 2.8-6.4 5.1-7.5-3.1z" fill="#2c3b93"/><path d="M234.8 243.2l7.3 3.2-6.4 5.6-7.4-3.5z" fill="#2c3a93"/><path d="M229.9 247.2l7.4 3.4-6.4 5.7-7.4-3.6z" fill="#2b3991"/><path d="M225.1 251.4l7.3 3.6-6.4 5.3-7.4-3.8z" fill="#2b3890"/><path d="M220.2 255.3l7.4 3.7-6.6 4.6-7.3-3.8z" fill="#2b3890"/><path d="M215.4 258.6l7.3 3.9-6.6 4.1-7.3-4.1z" fill="#2b3890"/><path d="M210.6 261.4l7.2 4.2-6.6 4.1-7.3-4.7z" fill="#2b3991"/><path d="M205.7 264l7.2 4.6-6.6 4.6-7.2-5.2z" fill="#2b3992"/><path d="M200.8 266.9l7.2 5.1-6.5 5.4-7.1-5.8z" fill="#2b3992"/><path d="M196 270.4l7.1 5.7-6.4 5.8-7.1-5.9z" fill="#2b3890"/><path d="M191.1 274.6l7.1 6-6.4 5.9-7-5.9z" fill="#2a368e"/><path d="M186.3 279.2l7 5.9-6.3 5.4-7.1-5.4z" fill="#2a358c"/><path d="M181.4 283.7l7.2 5.5-6.5 4.6-7.1-4.7z" fill="#2a338a"/><path d="M176.6 287.8l7.2 4.8-6.6 3.9-7.2-4z" fill="#293389"/><path d="M171.7 291.3l7.3 4.1-6.6 3.5-7.3-3.2z" fill="#293388"/><path d="M166.8 294.5l7.4 3.4-6.6 3.6-7.4-2.5z" fill="#293388"/><path d="M161.9 297.8l7.5 2.7-6.6 3.8-7.4-1.6z" fill="#283387"/><path d="M157.1 301.4l7.5 1.9-6.6 4.1-7.4-.8z" fill="#283285"/><path d="M152.2 305.3l7.5.9-6.5 4.1-7.5.2z" fill="#273184"/><path d="M147.3 309.3l7.6-.1-6.6 3.8-7.5 1.2z" fill="#273082"/><path d="M142.5 313l7.6-1.1-6.7 3.4-7.5 2z" fill="#263080"/><path d="M137.7 316.2l7.5-1.8-6.8 3.1-7.4 2.5z" fill="#26307f"/><path d="M132.8 319l7.5-2.4-6.7 3.2-7.4 2.7z" fill="#26317f"/><path d="M128 321.5l7.4-2.6-6.7 3.4-7.4 2.7z" fill="#263280"/><path d="M123.1 324.1l7.4-2.7-6.6 3.8-7.4 2.6z" fill="#263281"/><path d="M118.3 326.8l7.4-2.6-5.2 3.3-7.5 2.5z" fill="#273381"/><path d="M264.2 229l7.4 3.4-6.2 4.6-7.4-3.6z" fill="#2b3992"/><path d="M259.7 232.2l7.4 3.6-6.6 4.6-7.3-4z" fill="#2b3992"/><path d="M254.9 235.3l7.3 4-6.6 4.6-7.3-4.4z" fill="#2b3992"/><path d="M250 238.4l7.3 4.3-6.6 5-7.2-4.8z" fill="#2b3992"/><path d="M245.2 241.7l7.2 4.7-6.5 5.5-7.2-5.1z" fill="#2b3991"/><path d="M240.3 245.5l7.2 5-6.4 5.8-7.2-5.3z" fill="#2b3890"/><path d="M235.5 249.7l7.1 5.2-6.4 5.6-7.1-5.2z" fill="#2a368e"/><path d="M230.6 254l7.2 5.2-6.5 5-7.1-4.9z" fill="#2a358c"/><path d="M225.8 258l7.2 4.9-6.6 4.3-7.2-4.5z" fill="#2a348b"/><path d="M220.9 261.5l7.2 4.6-6.6 3.7-7.2-4.2z" fill="#2a348b"/><path d="M216 264.5l7.3 4.3-6.6 3.7-7.3-3.9z" fill="#2a358b"/><path d="M211.2 267.5l7.3 3.9-6.6 4.2-7.3-3.5z" fill="#2a358b"/><path d="M206.3 270.9l7.3 3.5-6.4 4.7-7.4-2.9z" fill="#29348a"/><path d="M201.4 274.9l7.4 3-6.4 5-7.4-2.1z" fill="#293388"/><path d="M196.5 279.4l7.5 2.2-6.4 4.8-7.4-1z" fill="#283185"/><path d="M191.7 284l7.5 1.1-6.5 4.2-7.5.2z" fill="#273081"/><path d="M186.8 288.2l7.6 0-6.7 3.3-7.4 1.5z" fill="#262f7f"/><path d="M182 291.8l7.5-1.2-6.7 2.9-7.4 2.3z" fill="#262f7d"/><path d="M177.2 294.8l7.4-2.2-6.7 3-7.4 2.8z" fill="#252f7d"/><path d="M172.3 297.4l7.4-2.7-6.6 3.4-7.4 3z" fill="#25307d"/><path d="M167.5 300.1l7.4-2.9-6.7 3.9-7.3 3z" fill="#25307e"/><path d="M162.6 303.1l7.4-3.1-6.6 4.3-7.4 3z" fill="#26307e"/><path d="M157.7 306.2l7.4-3-6.5 4.3-7.4 3z" fill="#25307d"/><path d="M152.9 309.4l7.4-3-6.6 4.1-7.4 2.9z" fill="#25317d"/><path d="M148 312.3l7.4-2.8-6.6 3.8-7.4 2.5z" fill="#26317e"/><path d="M143.2 314.9l7.4-2.6-6.6 3.8-7.5 2z" fill="#263280"/><path d="M138.3 317.2l7.5-2.1-6.6 3.9-7.6 1.4z" fill="#273482"/><path d="M133.5 319.5l7.4-1.5-6.5 4.1-7.6.8z" fill="#273585"/><path d="M128.6 322l7.5-.9-6.5 4.5-7.6.2z" fill="#283787"/><path d="M123.7 324.7l7.5-.3-5.2 3.8-7.5-.2z" fill="#293789"/><path d="M269.7 231.4l6.6 4.8-6.1 4.6-6.6-4.7z" fill="#2b378f"/><path d="M265.3 234.8l6.6 4.8-6.6 4.4-6.6-4.6z" fill="#2a368e"/><path d="M260.4 238.2l6.6 4.6-6.5 4.3-6.6-4.3z" fill="#2a368e"/><path d="M255.5 241.6l6.7 4.4-6.5 4.5-6.7-4z" fill="#2a368d"/><path d="M250.6 245.3l6.8 4-6.5 4.8-6.7-3.4z" fill="#2a358b"/><path d="M245.8 249.4l6.8 3.5-6.5 4.8-6.7-2.5z" fill="#293389"/><path d="M240.9 253.8l6.9 2.7-6.5 4.5-6.8-1.5z" fill="#283285"/><path d="M236 258.1l7 1.7-6.6 3.8-6.9-.4z" fill="#273082"/><path d="M231.2 262l7 .6-6.7 3.1-6.9.6z" fill="#273080"/><path d="M226.3 265.3l7.1-.5-6.8 2.8-6.9 1.5z" fill="#26307f"/><path d="M221.5 268.1l7-1.4-6.8 3.2-6.8 1.9z" fill="#26307f"/><path d="M216.6 270.8l7-1.9-6.7 3.8-6.8 2.3z" fill="#26317f"/><path d="M211.8 273.9l6.9-2.2-6.6 4.4-6.8 2.6z" fill="#26307e"/><path d="M206.9 277.5l6.9-2.5-6.5 4.7-6.8 2.9z" fill="#25307d"/><path d="M202.1 281.3l6.8-2.8-6.5 4.6-6.8 3.2z" fill="#252f7b"/><path d="M197.2 285.1l6.8-3.1-6.6 4-6.7 3.5z" fill="#242e79"/><path d="M192.4 288.4l6.8-3.4-6.7 3.6-6.8 3.4z" fill="#242e78"/><path d="M187.6 291l6.7-3.4-6.6 3.4-6.9 3.1z" fill="#242f79"/><path d="M182.7 293.3l6.8-3.3-6.6 3.6-6.9 2.7z" fill="#25307b"/><path d="M177.8 295.4l6.9-2.7-6.6 4.1-7 2.1z" fill="#25327e"/><path d="M172.9 297.9l6.9-2.2-6.5 4.7-7 1.4z" fill="#263381"/><path d="M168.1 300.7l6.9-1.5-6.5 4.9-7 .9z" fill="#273483"/><path d="M163.2 303.9l7-1-6.5 4.8-7.1.5z" fill="#273585"/><path d="M158.4 307l6.9-.5-6.5 4.6-7 0z" fill="#283686"/><path d="M153.5 310l7 0-6.6 4.3-7-.5z" fill="#283688"/><path d="M148.7 312.8l6.9.4-6.6 4.2-7-.9z" fill="#29388a"/><path d="M143.8 315.5l7 .8-6.6 4.3-7-1.4z" fill="#2a398c"/><path d="M138.9 318.2l7 1.3-6.6 4.5-7-1.8z" fill="#2a3a8e"/><path d="M134.1 321.1l6.9 1.7-6.5 4.7-7-2z" fill="#2a3a8f"/><path d="M129.2 324.3l6.9 2-5.2 3.9-6.9-2.1z" fill="#2b3a90"/><path d="M274.6 235.1l6.7 2.7-6.2 3.5-6.6-1.5z" fill="#283287"/><path d="M270.1 238.6l6.8 1.7-6.7 3.3-6.6-.6z" fill="#283285"/><path d="M265.3 241.9l6.7.8-6.6 3.3-6.7.3z" fill="#273283"/><path d="M260.4 245.1l6.8-.1-6.7 3.6-6.6 1.1z" fill="#273182"/><path d="M255.5 248.6l6.8-1-6.6 4-6.6 1.9z" fill="#263180"/><path d="M250.7 252.3l6.7-1.8-6.6 4.2-6.6 2.6z" fill="#252f7d"/><path d="M245.9 256.1l6.6-2.5-6.6 4-6.5 3.2z" fill="#242e7a"/><path d="M241 259.6l6.6-3.1-6.7 3.6-6.5 3.6z" fill="#242e78"/><path d="M236.2 262.7l6.5-3.6-6.7 3.1-6.5 3.8z" fill="#232e77"/><path d="M231.4 265.1l6.5-3.7-6.8 3.1-6.5 3.6z" fill="#242f78"/><path d="M226.5 267.3l6.5-3.7-6.6 3.7-6.6 3.2z" fill="#24307a"/><path d="M221.6 269.6l6.6-3.3-6.6 4.4-6.6 2.7z" fill="#25327c"/><path d="M216.7 272.3l6.6-2.8-6.4 5-6.7 2.3z" fill="#25327e"/><path d="M211.9 275.7l6.6-2.4-6.4 5.1-6.7 2.1z" fill="#26327f"/><path d="M207 279.3l6.7-2.1-6.5 4.9-6.7 1.8z" fill="#26327f"/><path d="M202.2 282.7l6.6-1.8-6.5 4.4-6.7 1.6z" fill="#26327f"/><path d="M197.3 285.8l6.7-1.6-6.6 3.9-6.7 1.3z" fill="#263380"/><path d="M192.5 288.4l6.7-1.3-6.6 3.9-6.8.7z" fill="#273583"/><path d="M187.6 290.8l6.7-.8-6.6 4.2-6.8 0z" fill="#283686"/><path d="M182.7 293.3l6.8-.2-6.6 4.7-6.8-.6z" fill="#29388a"/><path d="M177.9 296.2l6.7.4-6.5 5.1-6.8-1.1z" fill="#29398c"/><path d="M173 299.5l6.7 1-6.5 5.1-6.7-1.4z" fill="#2a398d"/><path d="M168.1 303l6.8 1.4-6.5 5-6.8-1.7z" fill="#2a398d"/><path d="M163.3 306.5l6.7 1.6-6.5 4.7-6.7-1.8z" fill="#2a398e"/><path d="M158.5 309.9l6.6 1.7-6.5 4.4-6.7-1.9z" fill="#2a398f"/><path d="M153.6 313l6.7 1.8-6.6 4.3-6.7-2z" fill="#2b3a90"/><path d="M148.7 316l6.7 2-6.6 4.3-6.6-2.1z" fill="#2b3b91"/><path d="M143.9 319.1l6.7 2.1-6.6 4.4-6.7-2.1z" fill="#2b3b92"/><path d="M139 322.3l6.7 2.1-6.5 4.6-6.7-2.1z" fill="#2b3b92"/><path d="M134.2 325.7l6.6 2.1-5.2 3.8-6.7-2z" fill="#2b3b92"/><path d="M279.3 237.3l6.7-2.2-6.4 3.1-6.5 2.9z" fill="#252f7c"/><path d="M274.9 240.1l6.6-2.8-6.8 3.1-6.5 3.2z" fill="#252f7a"/><path d="M270 242.7l6.6-3.2-6.7 3.3-6.5 3.4z" fill="#24307a"/><path d="M265.2 245.2l6.5-3.3-6.6 3.8-6.5 3.4z" fill="#24307a"/><path d="M260.3 248l6.5-3.3-6.5 4.3-6.6 3.2z" fill="#24307b"/><path d="M255.5 251.1l6.5-3.2-6.6 4.5-6.5 3.1z" fill="#24307b"/><path d="M250.6 254.4l6.5-3.2-6.5 4.4-6.6 2.9z" fill="#25317b"/><path d="M245.8 257.4l6.5-2.9-6.6 3.9-6.6 2.6z" fill="#25317c"/><path d="M240.9 260l6.6-2.6-6.7 3.6-6.6 2.2z" fill="#25327e"/><path d="M236 262.3l6.6-2.2-6.6 3.8-6.7 1.5z" fill="#263481"/><path d="M231.2 264.5l6.6-1.6-6.5 4.4-6.8.7z" fill="#273785"/><path d="M226.3 267l6.7-.9-6.5 5.1-6.8.1z" fill="#283889"/><path d="M221.4 270.1l6.7-.2-6.4 5.4-6.8-.3z" fill="#29398a"/><path d="M216.5 273.8l6.8.2-6.5 5.4-6.7-.5z" fill="#29388b"/><path d="M211.7 277.6l6.7.5-6.5 5-6.7-.6z" fill="#29388b"/><path d="M206.9 281.3l6.7.6-6.6 4.5-6.7-.8z" fill="#29388b"/><path d="M202 284.5l6.7.7-6.6 4.2-6.7-1z" fill="#29388c"/><path d="M197.2 287.3l6.7 1-6.7 4.1-6.7-1.3z" fill="#2a398e"/><path d="M192.3 290.1l6.7 1.2-6.6 4.5-6.7-1.7z" fill="#2a3a8f"/><path d="M187.4 293l6.7 1.7-6.5 4.9-6.7-2z" fill="#2b3b91"/><path d="M182.6 296.4l6.6 2-6.5 5.1-6.6-2.1z" fill="#2b3b92"/><path d="M177.7 300.1l6.6 2.1-6.4 5.2-6.7-2.2z" fill="#2b3b92"/><path d="M172.9 303.9l6.6 2.2-6.5 4.9-6.6-2.2z" fill="#2b3a91"/><path d="M168 307.6l6.6 2.2-6.5 4.5-6.6-2.1z" fill="#2b3a91"/><path d="M163.2 311.1l6.6 2.1-6.6 4.3-6.6-2.1z" fill="#2b3a91"/><path d="M158.3 314.3l6.6 2.1-6.5 4.3-6.7-2.2z" fill="#2b3a92"/><path d="M153.5 317.4l6.6 2.1-6.6 4.4-6.6-2.2z" fill="#2b3b92"/><path d="M148.6 320.5l6.6 2.3-6.5 4.5-6.7-2.3z" fill="#2b3b92"/><path d="M143.7 323.8l6.6 2.3-6.5 4.6-6.6-2.3z" fill="#2b3b92"/><path d="M138.9 327.2l6.6 2.4-5.2 3.8-6.6-2.4z" fill="#2b3a92"/><path d="M284 235.8l6.8-3-6.2 3.4-6.9 2.8z" fill="#25317d"/><path d="M279.6 238.1l6.8-2.8-6.7 3.6-6.8 2.3z" fill="#26337f"/><path d="M274.7 240.3l6.8-2.4-6.6 3.9-6.9 1.9z" fill="#263481"/><path d="M269.8 242.7l6.9-1.9-6.5 4.5-7 1.2z" fill="#273684"/><path d="M264.9 245.5l7-1.4-6.5 4.9-7 .8z" fill="#283786"/><path d="M260.1 248.6l6.9-.8-6.5 5-7 .3z" fill="#283788"/><path d="M255.2 252l7-.4-6.5 4.7-7-.1z" fill="#293889"/><path d="M250.4 255.1l6.9 0-6.5 4.3-7-.4z" fill="#29398b"/><path d="M245.5 257.9l7 .4-6.6 4.2-7-1z" fill="#2a3a8d"/><path d="M240.7 260.5l6.9.9-6.6 4.3-7-1.5z" fill="#2b3c90"/><path d="M235.8 263.2l6.9 1.4-6.5 4.8-7-2z" fill="#2b3d92"/><path d="M230.9 266.2l6.9 2-6.4 5.3-6.9-2.4z" fill="#2c3d93"/><path d="M226.1 269.8l6.8 2.4-6.4 5.4-6.8-2.5z" fill="#2c3c93"/><path d="M221.2 273.8l6.9 2.5-6.5 5.3-6.8-2.4z" fill="#2b3b93"/><path d="M216.4 277.9l6.8 2.4-6.5 4.8-6.8-2.3z" fill="#2b3b92"/><path d="M211.5 281.6l6.9 2.3-6.6 4.3-6.8-2.1z" fill="#2b3a91"/><path d="M206.7 284.9l6.9 2.2-6.6 4.1-6.9-2.2z" fill="#2b3b92"/><path d="M201.8 287.9l6.9 2.2-6.6 4.3-6.9-2.4z" fill="#2b3b93"/><path d="M197 290.9l6.8 2.4-6.5 4.7-6.9-2.7z" fill="#2c3c93"/><path d="M192.1 294.1l6.8 2.7-6.5 5.1-6.8-2.9z" fill="#2c3c94"/><path d="M187.3 297.7l6.8 2.9-6.5 5.3-6.8-3.1z" fill="#2c3b93"/><path d="M182.4 301.6l6.8 3-6.5 5.1-6.8-3z" fill="#2b3a92"/><path d="M177.6 305.4l6.7 3.1-6.5 4.8-6.7-3z" fill="#2b3a91"/><path d="M172.7 309.1l6.8 3-6.5 4.5-6.8-2.9z" fill="#2b3991"/><path d="M167.9 312.5l6.7 3-6.5 4.4-6.8-3.1z" fill="#2b3990"/><path d="M163 315.7l6.8 3-6.6 4.4-6.8-3.1z" fill="#2b3990"/><path d="M158.1 318.9l6.8 3.1-6.5 4.4-6.8-3.2z" fill="#2b3990"/><path d="M153.3 322.1l6.8 3.1-6.6 4.5-6.8-3.1z" fill="#2b3990"/><path d="M148.4 325.4l6.8 3.1-6.5 4.5-6.8-3z" fill="#2b3990"/><path d="M143.6 328.8l6.8 3.1-5.3 3.7-6.8-3z" fill="#2b398f"/><path d="M288.9 233.4l7.5.3-6.2 3.9-7.6-.8z" fill="#29398c"/><path d="M284.4 235.8l7.6.7-6.7 4.1-7.5-1.3z" fill="#2a3a8e"/><path d="M279.6 238.4l7.5 1.2-6.6 4.4-7.5-1.9z" fill="#2b3c90"/><path d="M274.7 241.1l7.5 1.8-6.5 4.9-7.5-2.4z" fill="#2b3c92"/><path d="M269.9 244.3l7.4 2.3-6.5 5.2-7.4-2.8z" fill="#2c3d93"/><path d="M265 247.8l7.4 2.7-6.5 5.2-7.4-3z" fill="#2c3c94"/><path d="M260.2 251.5l7.4 2.9-6.6 4.9-7.4-3.2z" fill="#2c3c94"/><path d="M255.3 254.9l7.4 3.2-6.6 4.5-7.3-3.5z" fill="#2c3c94"/><path d="M250.5 258l7.3 3.4-6.6 4.4-7.3-3.7z" fill="#2c3d95"/><path d="M245.6 261l7.3 3.7-6.5 4.6-7.3-4.1z" fill="#2c3d96"/><path d="M240.8 264.1l7.2 4-6.5 5-7.2-4.4z" fill="#2c3d96"/><path d="M235.9 267.5l7.3 4.3-6.5 5.3-7.2-4.4z" fill="#2c3d96"/><path d="M231 271.4l7.3 4.4-6.4 5.4-7.3-4.3z" fill="#2c3c94"/><path d="M226.2 275.5l7.3 4.4-6.5 5-7.3-4.1z" fill="#2c3a93"/><path d="M221.3 279.6l7.3 4-6.5 4.6-7.3-3.8z" fill="#2b3a92"/><path d="M216.5 283.2l7.3 3.8-6.6 4.2-7.3-3.7z" fill="#2b3a91"/><path d="M211.6 286.4l7.4 3.7-6.6 4.1-7.4-3.7z" fill="#2b3a91"/><path d="M206.8 289.5l7.3 3.6-6.6 4.4-7.3-3.8z" fill="#2b3a91"/><path d="M201.9 292.6l7.3 3.7-6.5 4.8-7.3-3.9z" fill="#2b3a92"/><path d="M197 296l7.4 3.8-6.5 5-7.3-3.7z" fill="#2b3a91"/><path d="M192.2 299.8l7.3 3.8-6.5 4.9-7.3-3.5z" fill="#2b3990"/><path d="M187.3 303.7l7.4 3.6-6.5 4.7-7.3-3.1z" fill="#2a388e"/><path d="M182.5 307.6l7.4 3.2-6.6 4.3-7.3-2.6z" fill="#2a378d"/><path d="M177.6 311.3l7.4 2.7-6.5 4.1-7.4-2.2z" fill="#2a378c"/><path d="M172.8 314.7l7.4 2.3-6.6 3.9-7.4-1.8z" fill="#29378b"/><path d="M167.9 318l7.5 1.9-6.6 3.9-7.5-1.5z" fill="#29378b"/><path d="M163 321.2l7.5 1.5-6.5 4-7.5-1.1z" fill="#29378b"/><path d="M158.2 324.5l7.5 1.1-6.6 4-7.5-.6z" fill="#29378b"/><path d="M153.3 327.8l7.6.7-6.6 4.1-7.5-.2z" fill="#29378b"/><path d="M148.4 331.2l7.6.3-5.2 3.4-7.6 0z" fill="#29378a"/><path d="M294.5 233.4l7.2 4-6.2 4-7.3-4.2z" fill="#2c3c94"/><path d="M290 236.1l7.2 4.2-6.5 4.3-7.3-4.5z" fill="#2c3c95"/><path d="M285.1 239.1l7.3 4.4-6.6 4.6-7.2-4.7z" fill="#2c3d95"/><path d="M280.3 242.3l7.2 4.6-6.5 5-7.2-4.8z" fill="#2c3c95"/><path d="M275.4 245.8l7.2 4.9-6.5 5.2-7.2-4.9z" fill="#2c3c94"/><path d="M270.5 249.7l7.2 4.9-6.4 5.1-7.2-4.8z" fill="#2c3b94"/><path d="M265.7 253.6l7.2 4.8-6.5 4.7-7.2-4.7z" fill="#2c3a93"/><path d="M260.9 257.2l7.2 4.7-6.6 4.4-7.2-4.6z" fill="#2c3a93"/><path d="M256 260.5l7.2 4.7-6.6 4.3-7.2-4.7z" fill="#2c3a93"/><path d="M251.1 263.7l7.3 4.7-6.6 4.5-7.2-4.7z" fill="#2c3a93"/><path d="M246.3 267.1l7.2 4.6-6.5 4.8-7.2-4.5z" fill="#2c3a92"/><path d="M241.4 270.8l7.2 4.4-6.4 4.9-7.3-4z" fill="#2b3991"/><path d="M236.5 274.8l7.3 4.1-6.4 4.7-7.3-3.4z" fill="#2b3890"/><path d="M231.7 278.9l7.3 3.5-6.5 4.4-7.3-2.9z" fill="#2a378e"/><path d="M226.8 282.7l7.4 2.9-6.5 3.9-7.4-2.2z" fill="#2a378d"/><path d="M222 286.2l7.4 2.2-6.6 3.7-7.4-1.7z" fill="#2a378c"/><path d="M217.1 289.3l7.5 1.8-6.6 3.7-7.5-1.4z" fill="#2a378c"/><path d="M212.2 292.3l7.5 1.5-6.5 4.1-7.5-1.2z" fill="#2a378c"/><path d="M207.4 295.5l7.5 1.3-6.6 4.4-7.5-.9z" fill="#2a378c"/><path d="M202.5 299l7.5 1-6.5 4.6-7.5-.5z" fill="#2a378c"/><path d="M197.6 302.8l7.6.7-6.5 4.5-7.5-.2z" fill="#29368b"/><path d="M192.8 306.6l7.5.2-6.5 4.2-7.5.4z" fill="#293689"/><path d="M187.9 310.2l7.6-.3-6.6 4-7.5.7z" fill="#293588"/><path d="M183.1 313.5l7.5-.6-6.6 3.8-7.5 1z" fill="#283588"/><path d="M178.2 316.6l7.6-.9-6.6 3.9-7.6 1z" fill="#283688"/><path d="M173.4 319.5l7.5-.9-6.6 4-7.5.9z" fill="#283688"/><path d="M168.5 322.5l7.6-1-6.6 4.1-7.6.9z" fill="#293789"/><path d="M163.7 325.4l7.5-.9-6.6 4.2-7.5.8z" fill="#293789"/><path d="M158.8 328.4l7.5-.8-6.5 4.3-7.6.7z" fill="#293789"/><path d="M154 331.5l7.5-.7-5.2 3.7-7.6.4z" fill="#29378a"/><path d="M290.6 242.4l7.3 3.9-6.5 4.3-7.3-3.6z" fill="#2b3991"/><path d="M285.7 245.8l7.4 3.6-6.5 4.7-7.4-3.2z" fill="#2b3990"/><path d="M280.9 249.6l7.3 3.3-6.4 4.7-7.4-2.8z" fill="#2b388f"/><path d="M261.4 264.2l7.5 1.6-6.6 4-7.4-1.3z" fill="#2a378d"/><path d="M256.6 267.4l7.5 1.3-6.6 4.3-7.5-1.1z" fill="#2a378d"/><path d="M251.7 270.8l7.5 1.1-6.5 4.5-7.5-.8z" fill="#2a378c"/><path d="M246.8 274.3l7.6.9-6.5 4.6-7.5-.5z" fill="#29368b"/><path d="M242 278.1l7.5.5-6.5 4.3-7.5 0z" fill="#29368a"/><path d="M237.1 281.7l7.6.1-6.6 4-7.5.4z" fill="#293589"/><path d="M232.3 285.1l7.5-.3-6.6 3.7-7.5.5z" fill="#293589"/><path d="M227.4 288l7.6-.5-6.7 3.8-7.5.4z" fill="#293689"/><path d="M222.6 290.7l7.5-.4-6.6 4-7.5.2z" fill="#29378a"/><path d="M217.7 293.5l7.6-.3-6.6 4.5-7.6-.1z" fill="#29378b"/><path d="M212.9 296.5l7.5.1-6.5 4.7-7.6-.3z" fill="#29388b"/><path d="M208 299.8l7.5.3-6.5 4.8-7.5-.4z" fill="#29378b"/><path d="M203.1 303.3l7.6.4-6.6 4.6-7.5-.4z" fill="#29378b"/><path d="M198.3 306.7l7.5.4-6.5 4.3-7.6-.3z" fill="#29378a"/><path d="M193.4 310l7.6.3-6.6 4.1-7.6-.4z" fill="#29378a"/><path d="M188.6 313l7.5.3-6.6 4.1-7.5-.5z" fill="#29378a"/><path d="M183.7 315.9l7.6.4-6.6 4.2-7.6-.7z" fill="#29388b"/><path d="M178.9 318.7l7.5.7-6.6 4.2-7.5-.9z" fill="#29388c"/><path d="M174 321.6l7.5.9-6.5 4.3-7.6-1.1z" fill="#2a398d"/><path d="M169.2 324.6l7.5 1.1-6.6 4.3-7.5-1.2z" fill="#2a398d"/><path d="M164.3 327.7l7.5 1.2-6.5 4.5-7.6-1.4z" fill="#2a3a8e"/><path d="M159.4 330.9l7.6 1.3-5.3 3.8-7.5-1.5z" fill="#2a3a8e"/><path d="M252.3 275l7.6.7-6.6 4.7-7.5-.8z" fill="#29368a"/><path d="M247.5 278.4l7.5.8-6.5 4.4-7.6-.7z" fill="#29368a"/><path d="M242.6 281.7l7.6.8-6.6 4.1-7.6-.8z" fill="#293689"/><path d="M237.8 284.8l7.5.7-6.6 4-7.5-.9z" fill="#29378a"/><path d="M232.9 287.5l7.6 1-6.7 4.1-7.5-1.3z" fill="#29388b"/><path d="M228.1 290.3l7.5 1.2-6.6 4.5-7.5-1.7z" fill="#2a388d"/><path d="M223.2 293.2l7.5 1.6-6.5 4.8-7.5-2z" fill="#2a398e"/><path d="M218.4 296.4l7.4 2-6.5 4.8-7.5-2.1z" fill="#2a398e"/><path d="M213.5 299.9l7.5 2.1-6.5 4.7-7.5-2z" fill="#2a388e"/><path d="M208.6 303.5l7.5 2-6.5 4.5-7.5-1.9z" fill="#2a388d"/><path d="M203.8 306.9l7.5 1.9-6.6 4.2-7.5-1.7z" fill="#2a388d"/><path d="M198.9 310.1l7.5 1.8-6.6 4-7.5-1.7z" fill="#2a388d"/><path d="M194.1 313.2l7.5 1.6-6.6 4-7.5-1.6z" fill="#2a398d"/><path d="M189.2 316.1l7.5 1.7-6.6 4.1-7.5-1.7z" fill="#2a398e"/><path d="M184.4 319.1l7.5 1.7-6.6 4.3-7.5-1.8z" fill="#2a3a8f"/><path d="M179.5 322.2l7.5 1.8-6.6 4.3-7.5-1.8z" fill="#2a3a8f"/><path d="M174.7 325.4l7.4 1.8-6.5 4.3-7.5-1.8z" fill="#2b3a90"/><path d="M169.8 328.5l7.5 1.9-6.6 4.5-7.4-1.9z" fill="#2b3b90"/><path d="M164.9 331.8l7.5 1.9-5.2 3.9-7.5-2z" fill="#2b3b90"/><path d="M243.3 285.3l7.5 1.4-6.6 4.1-7.5-1.6z" fill="#2a388c"/><path d="M238.4 288.2l7.5 1.5-6.6 4.4-7.5-1.9z" fill="#2a388d"/><path d="M233.6 291.2l7.5 1.7-6.6 4.7-7.5-2.1z" fill="#2a398e"/><path d="M228.7 294.4l7.5 2-6.5 4.9-7.5-2.2z" fill="#2a398f"/><path d="M223.9 297.8l7.4 2.2-6.5 4.8-7.5-2.1z" fill="#2a398e"/><path d="M219 301.5l7.5 2.1-6.6 4.5-7.4-1.9z" fill="#2a388e"/><path d="M214.1 305l7.5 2-6.5 4.1-7.5-1.6z" fill="#2a388d"/><path d="M209.3 308.3l7.5 1.7-6.6 4-7.5-1.5z" fill="#2a388d"/><path d="M204.4 311.4l7.5 1.5-6.6 4-7.5-1.5z" fill="#2a388d"/><path d="M199.6 314.4l7.5 1.4-6.6 4.1-7.5-1.5z" fill="#2a398e"/><path d="M194.7 317.3l7.5 1.5-6.6 4.2-7.5-1.5z" fill="#2a398e"/><path d="M189.9 320.4l7.5 1.5-6.6 4.3-7.5-1.6z" fill="#2a3a8f"/><path d="M185 323.5l7.5 1.6-6.6 4.3-7.5-1.6z" fill="#2a3a8f"/><path d="M180.2 326.7l7.5 1.5-6.6 4.4-7.5-1.6z" fill="#2a3a8f"/><path d="M175.3 329.9l7.5 1.6-6.6 4.5-7.5-1.6z" fill="#2a3a8f"/><path d="M170.4 333.2l7.5 1.6-5.2 3.9-7.5-1.7z" fill="#2a3a8f"/><path d="M243.9 289.3l7.5 1-6.5 4.5-7.6-1.2z" fill="#2a388c"/><path d="M239 292.5l7.6 1.2-6.6 4.8-7.5-1.4z" fill="#2a388c"/><path d="M234.2 295.9l7.5 1.4-6.5 4.8-7.5-1.4z" fill="#2a388c"/><path d="M229.3 299.5l7.5 1.4-6.5 4.7-7.5-1.3z" fill="#2a388c"/><path d="M224.5 303.1l7.5 1.3-6.6 4.2-7.5-.9z" fill="#29378b"/><path d="M219.6 306.5l7.6 1-6.6 4-7.5-.8z" fill="#29378a"/><path d="M214.8 309.6l7.5.8-6.6 3.8-7.5-.6z" fill="#29378a"/><path d="M209.9 312.6l7.6.6-6.7 3.9-7.5-.6z" fill="#29388b"/><path d="M205.1 315.5l7.5.5-6.6 4.1-7.5-.6z" fill="#29388b"/><path d="M200.2 318.4l7.5.7-6.5 4.2-7.6-.7z" fill="#29398c"/><path d="M195.4 321.5l7.5.7-6.6 4.3-7.5-.7z" fill="#2a398c"/><path d="M190.5 324.7l7.5.7-6.5 4.3-7.6-.7z" fill="#2a398d"/><path d="M185.6 327.9l7.6.7-6.6 4.4-7.5-.8z" fill="#2a398d"/><path d="M180.8 331.1l7.5.7-6.5 4.6-7.6-.8z" fill="#2a398d"/><path d="M175.9 334.5l7.5.7-5.2 3.9-7.5-.8z" fill="#2a398d"/><path d="M239.7 297l7.5.1-6.5 4.8-7.5-.1z" fill="#293789"/><path d="M234.8 300.6l7.6.1-6.6 4.4-7.5.2z" fill="#283688"/><path d="M230 304.1l7.5-.2-6.6 4-7.5.6z" fill="#283687"/><path d="M225.1 307.4l7.6-.6-6.7 3.7-7.5.8z" fill="#283686"/><path d="M220.3 310.3l7.5-.8-6.6 3.7-7.5.9z" fill="#283686"/><path d="M215.4 313.1l7.6-.9-6.7 3.9-7.5.9z" fill="#283787"/><path d="M210.6 316l7.5-.9-6.6 4.2-7.5.8z" fill="#283887"/><path d="M205.7 319l7.5-.8-6.5 4.3-7.6.7z" fill="#283888"/><path d="M200.8 322.1l7.6-.7-6.6 4.3-7.5.7z" fill="#283888"/><path d="M196 325.3l7.5-.7-6.5 4.3-7.6.7z" fill="#283988"/><path d="M191.1 328.5l7.6-.8-6.6 4.4-7.5.7z" fill="#283988"/><path d="M186.3 331.7l7.5-.8-6.5 4.6-7.6.8z" fill="#283988"/><path d="M181.4 335.1l7.5-.8-5.2 3.9-7.5.8z" fill="#283888"/><path d="M235.5 304.1l7.5-1.9-6.7 3.7-7.4 2.2z" fill="#273682"/><path d="M230.7 307.1l7.4-2.2-6.7 3.4-7.4 2.5z" fill="#273682"/><path d="M225.8 309.8l7.4-2.4-6.6 3.6-7.4 2.6z" fill="#273782"/><path d="M220.9 312.6l7.5-2.6-6.6 4-7.5 2.5z" fill="#273882"/><path d="M216.1 315.4l7.4-2.5-6.6 4.3-7.4 2.4z" fill="#273983"/><path d="M211.2 318.5l7.5-2.4-6.6 4.3-7.5 2.4z" fill="#273984"/><path d="M206.4 321.7l7.4-2.4-6.6 4.2-7.4 2.5z" fill="#273984"/><path d="M201.5 324.9l7.4-2.5-6.5 4.3-7.5 2.5z" fill="#273984"/><path d="M196.6 328l7.5-2.4-6.6 4.2-7.4 2.6z" fill="#273984"/><path d="M191.8 331.2l7.4-2.5-6.5 4.5-7.5 2.6z" fill="#273983"/><path d="M186.9 334.6l7.5-2.6-5.3 3.8-7.4 2.7z" fill="#273983"/><path d="M236.2 305.5l6.9-2.8-6.7 3.3-6.9 3z" fill="#273a82"/><path d="M231.3 308.1l6.9-3-6.7 3.6-6.8 3z" fill="#273b83"/><path d="M226.4 310.7l6.9-3-6.6 4-6.9 3z" fill="#273d84"/><path d="M221.6 313.6l6.9-2.9-6.6 4.3-6.9 2.8z" fill="#283d85"/><path d="M216.7 316.7l6.9-2.9-6.6 4.4-6.8 2.9z" fill="#283e85"/><path d="M211.9 319.9l6.9-2.9-6.6 4.2-6.9 3z" fill="#283e85"/><path d="M207 323.1l6.9-3-6.6 4.2-6.9 3.1z" fill="#283f85"/><path d="M202.2 326.2l6.8-3-6.6 4.2-6.8 3.1z" fill="#283f85"/><path d="M197.3 329.4l6.9-3.1-6.6 4.4-6.8 3.2z" fill="#273f85"/><path d="M192.4 332.8l6.9-3.3-5.2 3.8-6.9 3.3z" fill="#273e84"/><path d="M236.3 305.8l6.9-2.2-6.7 3.8-6.9 2.1z" fill="#2a458d"/><path d="M231.4 308.5l6.9-2.2-6.6 4.1-6.9 2.1z" fill="#2a478f"/><path d="M226.6 311.4l6.8-2.1-6.5 4.4-6.9 2z" fill="#2a4890"/><path d="M221.7 314.6l6.9-2.1-6.6 4.3-6.9 2.1z" fill="#2a4890"/><path d="M216.8 317.8l6.9-2.1-6.6 4.1-6.8 2.2z" fill="#2a4890"/><path d="M212 320.9l6.9-2.2-6.6 4.1-6.9 2.3z" fill="#2a4990"/><path d="M207.1 324l6.9-2.3-6.6 4.1-6.8 2.4z" fill="#2a4990"/><path d="M202.3 327.1l6.8-2.4-6.5 4.4-6.9 2.4z" fill="#2a4a90"/><path d="M197.4 330.4l6.9-2.5-5.3 3.7-6.8 2.5z" fill="#2a498f"/><path d="M236.3 306.8l7.6-.3-6.6 4.1-7.6.3z" fill="#2d539d"/><path d="M231.5 309.8l7.5-.3-6.6 4.4-7.5.2z" fill="#2d549e"/><path d="M226.6 313l7.5-.2-6.5 4.2-7.6.3z" fill="#2d549e"/><path d="M221.7 316.2l7.6-.3-6.6 4-7.5.4z" fill="#2c559e"/><path d="M216.9 319.2l7.5-.4-6.6 4.1-7.5.5z" fill="#2c569f"/><path d="M212 322.3l7.6-.5-6.6 4-7.6.6z" fill="#2c589f"/><path d="M207.2 325.3l7.5-.6-6.6 4.3-7.5.7z" fill="#2c58a0"/><path d="M202.3 328.5l7.5-.7-5.2 3.5-7.5.9z" fill="#2b589f"/><path d="M232.1 312.8l7.5 1.2-6.6 4.1-7.5-1.1z" fill="#2e5ba6"/><path d="M227.2 315.9l7.6 1.1-6.7 3.8-7.5-.9z" fill="#2d5ca7"/><path d="M222.4 318.8l7.5 1-6.6 4.1-7.5-1z" fill="#2d5ea8"/><path d="M217.5 321.8l7.6 1-6.7 3.9-7.5-.8z" fill="#2d60a8"/><path d="M212.7 324.8l7.5.8-6.6 4.2-7.5-.7z" fill="#2d61a9"/><path d="M207.8 327.9l7.5.8-5.2 3.4-7.5-.6z" fill="#2d61a9"/><path d="M227.9 319.6l7.5.3-6.6 4.2-7.5-.5z" fill="#2c5fa6"/><path d="M223 322.6l7.6.4-6.7 3.7-7.5-.2z" fill="#2c61a7"/><path d="M218.2 325.4l7.5.3-6.6 4.1-7.5-.2z" fill="#2c63a8"/><path d="M213.3 328.5l7.5.2-5.2 3.4-7.5-.1z" fill="#2b63a8"/><path d="M247.9 311.2l7.5-1.9-6.6 4.1-7.4 2.1z" fill="#285999"/><path d="M243.1 314.4l7.5-2.1-6.7 3.8-7.4 2.3z" fill="#285a99"/><path d="M238.3 317.4l7.4-2.3-6.7 3.3-7.4 2.6z" fill="#275b99"/><path d="M233.4 320l7.4-2.6-6.5 4.3-7.5 2.4z" fill="#265f9b"/><path d="M228.5 323l7.5-2.4-6.7 3.6-7.4 2.6z" fill="#25629d"/><path d="M223.7 325.8l7.4-2.6-6.6 4-7.4 2.7z" fill="#25659e"/><path d="M218.8 328.8l7.4-2.7-5.2 3.4-7.4 2.7z" fill="#24669f"/><path d="M253.5 310l4.7-3.5-6.6 3.9-4.7 3.7z" fill="#205c8e"/><path d="M248.7 313l4.6-3.6-6.7 3.6-4.5 3.8z" fill="#1f5d8e"/><path d="M243.8 315.8l4.7-3.8-6.8 3.1-4.5 4.1z" fill="#1e618f"/><path d="M239 318.2l4.5-4-6.5 4.4-4.6 3.9z" fill="#1d6491"/><path d="M234.1 321.4l4.6-3.9-6.7 3.5-4.5 4z" fill="#1d6793"/><path d="M229.3 324l4.5-4-6.6 4-4.5 4.1z" fill="#1c6a95"/><path d="M224.4 327l4.6-4-5.3 3.3-4.5 4z" fill="#1c6c96"/><path d="M256.6 307.8l3.5-4-6.7 3.8-3.4 4.2z" fill="#1a6289"/><path d="M251.8 310.7l3.4-4.1-6.7 3.5-3.4 4.2z" fill="#196589"/><path d="M246.9 313.4l3.4-4.3-6.7 3-3.4 4.4z" fill="#18698b"/><path d="M242.1 315.6l3.3-4.4-6.5 4.6-3.4 4.2z" fill="#186b8c"/><path d="M237.2 318.9l3.4-4.2-6.7 3.4-3.3 4.3z" fill="#196c8c"/><path d="M232.4 321.4l3.3-4.3-6.6 4-3.4 4.3z" fill="#1a6d8a"/><path d="M227.5 324.4l3.4-4.3-5.3 3.4-3.3 4.2z" fill="#1b6e8a"/><path d="M253.9 308.2l2.8-4.3-6.7 3.4-2.7 4.4z" fill="#196680"/><path d="M249.1 310.8l2.8-4.5-6.8 3-2.7 4.5z" fill="#1b677d"/><path d="M244.2 312.9l2.8-4.5-6.5 4.7-2.8 4.3z" fill="#1c687d"/><path d="M239.4 316.3l2.8-4.4-6.7 3.4-2.8 4.4z" fill="#1d697d"/><path d="M234.5 318.8l2.8-4.4-6.6 4-2.8 4.4z" fill="#1d697b"/><path d="M229.6 321.7l2.8-4.4-5.2 3.5-2.8 4.3z" fill="#1d6a7a"/><path d="M255.7 305.6l2.4-4.5-6.7 3.3-2.4 4.6z" fill="#1c6372"/><path d="M250.8 308.1l2.5-4.6-6.8 2.8-2.4 4.7z" fill="#1c636e"/><path d="M245.9 310.1l2.4-4.7-6.4 4.9-2.5 4.5z" fill="#1c646d"/><path d="M241.1 313.7l2.5-4.6-6.7 3.4-2.5 4.6z" fill="#1d646c"/><path d="M236.2 316.1l2.5-4.5-6.6 4-2.5 4.5z" fill="#1d656b"/><path d="M231.4 319.1l2.4-4.6-5.2 3.6-2.5 4.4z" fill="#1d656b"/><path d="M257.2 302.9l2.1-4.6-6.7 3.2-2.1 4.7z" fill="#1c6064"/><path d="M252.3 305.3l2.2-4.6-6.8 2.8-2.1 4.7z" fill="#1c5f60"/><path d="M247.4 307.3l2.2-4.7-6.5 5-2.2 4.5z" fill="#1d6060"/><path d="M242.6 310.9l2.2-4.5-6.7 3.4-2.2 4.5z" fill="#1d6160"/><path d="M237.7 313.4l2.2-4.5-6.6 4.1-2.2 4.4z" fill="#1e615e"/><path d="M232.9 316.4l2.1-4.5-5.2 3.5-2.2 4.5z" fill="#1f625e"/><path d="M253.6 302.5l2-4.6-6.8 2.7-1.9 4.7z" fill="#225d4f"/><path d="M248.7 304.4l2-4.7-6.4 5.3-2.1 4.5z" fill="#235e4e"/><path d="M243.9 308.3l2-4.6-6.7 3.5-2 4.5z" fill="#245f4e"/><path d="M239 310.7l2-4.5-6.5 4.2-2.1 4.4z" fill="#26604b"/><path d="M234.2 313.7l2-4.4-5.2 3.6-2.1 4.4z" fill="#26614b"/><path d="M254.8 299.8l1.9-4.8-6.8 2.8-1.8 4.7z" fill="#2a5c3d"/><path d="M249.9 301.6l1.8-4.7-6.4 5.4-1.9 4.5z" fill="#2b5d3c"/><path d="M245.1 305.6l1.9-4.5-6.7 3.4-1.9 4.5z" fill="#2c5f3c"/><path d="M240.2 308.1l1.9-4.6-6.6 4.3-1.9 4.4z" fill="#2d5f3a"/><path d="M235.3 311.1l1.9-4.4-5.2 3.7-1.9 4.4z" fill="#2e603a"/><path d="M251 298.8l1.7-4.7-6.4 5.6-1.7 4.5z" fill="#365e2f"/><path d="M246.2 303l1.7-4.5-6.6 3.5-1.8 4.4z" fill="#375f30"/><path d="M241.3 305.4l1.8-4.4-6.6 4.3-1.8 4.4z" fill="#3a602f"/><path d="M236.4 308.6l1.8-4.4-5.2 3.8-1.8 4.3z" fill="#3a6130"/><path d="M252 296l1.7-4.7-6.4 5.9-1.7 4.4z" fill="#456027"/><path d="M247.2 300.4l1.7-4.5-6.7 3.5-1.7 4.5z" fill="#456128"/><path d="M242.3 302.9l1.7-4.5-6.5 4.5-1.7 4.3z" fill="#486228"/><path d="M237.5 306.1l1.7-4.4-5.2 4-1.8 4.2z" fill="#486428"/><path d="M253 293.3l1.5-4.6-6.3 6-1.6 4.4z" fill="#546321"/><path d="M248.2 297.8l1.6-4.4-6.6 3.6-1.7 4.4z" fill="#546422"/><path d="M243.3 300.3l1.6-4.3-6.5 4.6-1.7 4.2z" fill="#576621"/><path d="M238.4 303.6l1.7-4.2-5.2 4-1.7 4.2z" fill="#576622"/><path d="M253.9 290.6l1.5-4.4-6.3 6.3-1.6 4.1z" fill="#63681e"/><path d="M249.1 295.3l1.5-4.2-6.6 3.7-1.6 4.2z" fill="#63691f"/><path d="M244.2 297.9l1.5-4.1-6.5 4.6-1.5 4.1z" fill="#666b1f"/><path d="M239.3 301.3l1.6-4.1-5.2 4.2-1.6 3.9z" fill="#656c1f"/><path d="M249.9 293l1.5-4-6.6 3.8-1.5 4z" fill="#716e1c"/><path d="M245 295.7l1.5-3.9-6.5 4.7-1.5 3.9z" fill="#74701c"/><path d="M240.2 299.1l1.5-3.8-5.2 4.3-1.6 3.7z" fill="#73711d"/><path d="M250.7 290.9l1.4-3.9-6.6 3.9-1.5 3.8z" fill="#766a1b"/><path d="M245.8 293.7l1.4-3.9-6.4 4.9-1.5 3.7z" fill="#786b1b"/><path d="M240.9 297.2l1.5-3.7-5.2 4.3-1.5 3.7z" fill="#7a6f1c"/><path d="M251.4 288.9l1.4-3.8-6.6 4-1.4 3.7z" fill="#77621a"/><path d="M246.5 291.8l1.5-3.8-6.5 5-1.5 3.6z" fill="#79631a"/><path d="M241.6 295.4l1.5-3.7-5.1 4.5-1.6 3.5z" fill="#7b671b"/><path d="M252.1 287l1.4-3.7-6.6 4.1-1.4 3.6z" fill="#795a19"/><path d="M247.2 289.9l1.5-3.6-6.5 5.1-1.5 3.5z" fill="#7a5b1a"/><path d="M242.3 293.6l1.5-3.5-5.2 4.5-1.5 3.5z" fill="#7d601b"/><path d="M247.9 288.2l1.4-3.5-6.4 5.2-1.5 3.3z" fill="#7b5419"/><path d="M243 292l1.5-3.4-5.2 4.6-1.5 3.3z" fill="#7d591a"/><path d="M248.5 286.6l1.5-3.4-6.4 5.2-1.5 3.4z" fill="#7b4e19"/><path d="M243.7 290.5l1.4-3.4-5.1 4.8-1.5 3.2z" fill="#7e531a"/><path d="M249.2 285.1l1.4-3.4-6.4 5.4-1.5 3.2z" fill="#7b4818"/><path d="M244.3 289l1.5-3.3-5.2 4.9-1.5 3.1z" fill="#7e4d19"/><path d="M249.8 283.6l1.5-3.3-6.4 5.4-1.5 3.2z" fill="#7c4218"/><path d="M244.9 287.6l1.5-3.2-5.1 4.9-1.6 3.1z" fill="#7e4719"/><path d="M245.6 286.2l1.5-3.2-5.2 5-1.5 3.1z" fill="#7d4118"/><path d="M246.2 284.9l1.5-3.3-5.2 5-1.5 3.2z" fill="#7b3b18"/><path d="M246.8 283.5l1.5-3.4-5.2 5-1.4 3.4z" fill="#783517"/><path d="M247.5 282l1.4-3.6-5.2 5.1-1.4 3.5z" fill="#732e16"/><path d="M248.1 280.3l1.4-4-5.2 5.1-1.3 4z" fill="#792c17"/><path d="M282.9 254.9l1.5-4.3-6.9 1.1-1.4 4.6z" fill="#6e1f15"/><path d="M278 255.7l1.4-4.5-6.6 3.8-1.4 4.7z" fill="#701d15"/><path d="M273.2 258.6l1.4-4.6-6.7 4-1.3 4.8z" fill="#751d16"/><path d="M268.3 261.7l1.4-4.7-6.7 3.5-1.3 4.8z" fill="#7a1e17"/><path d="M263.4 264.2l1.3-4.8-6.1 8.2-1.3 4.8z" fill="#812218"/><path d="M258.6 270.9l1.3-4.9-6.2 5.5-1.7 3.8z" fill="#8d291b"/><path d="M253.7 274.1l1.5-3.9-5.8 7.1-2.3 2.2z" fill="#a5321f"/><path d="M248.7 278.2l2.1-2.5-4.6 7.7-2.8-.6z" fill="#c94326"/><path d="M308 232.6l1.4-4.8-6.9 1.1-1.3 4.9z" fill="#691313"/><path d="M303 233.2l1.4-4.9-6.2 6.7-1.4 4.8z" fill="#6e1314"/><path d="M298.2 238.3l1.4-4.8-6.4 5.9-1.3 4.9z" fill="#761816"/><path d="M293.4 242.9l1.4-4.9-6.5 5.1-1.4 5.1z" fill="#7f1b17"/><path d="M288.5 246.8l1.3-5-6.1 7.5-1.5 4.5z" fill="#892119"/><path d="M283.7 252.5l1.5-4.6-6.5 2.7-1.9 3z" fill="#9b251d"/><path d="M278.8 253.1l1.7-3.4-5.7 6.1-2.9.9z" fill="#b82922"/><path d="M273.7 255.7l2.7-1.2-6.8 7.2-2.4-2.4z" fill="#d73128"/><path d="M268.9 258.2l2.3 2.1-7 5.3-1.8-4z" fill="#de3329"/><path d="M264.1 260.5l1.6 3.8-6.1 9.4-1.5-5z" fill="#d53728"/><path d="M259.4 267.1l1.4 5-6.5 5.6-1.3-5.1z" fill="#d13d27"/><path d="M254.5 271.2l1.3 5.1-6.2 6.7-1.4-5z" fill="#ce4027"/><path d="M249.6 276.5l1.4 5-5.1 5.9-1.4-4.8z" fill="#cb4827"/><path d="M347.7 202.9l1.3-5-6.9 1.2-1.3 5.1z" fill="#5b1011"/><path d="M342.8 203.7l1.3-5.1-6.7 3.1-1.3 5.1z" fill="#570f11"/><path d="M338 205.9l1.2-5.1-6.6 3.9-1.3 5.1z" fill="#560f11"/><path d="M333.2 208.9l1.2-5.1-6.8 1.3-1.3 5.3z" fill="#530e11"/><path d="M328.2 209.7l1.2-5.2-6.2 7.1-1.3 5.2z" fill="#540f12"/><path d="M323.3 215.3l1.3-5.3-6.3 6.3-1.3 5.2z" fill="#5e1013"/><path d="M318.5 220.1l1.3-5.2-6.4 5.9-1.3 5.2z" fill="#6a1215"/><path d="M313.6 224.6l1.2-5.3-5.9 7.7-1.6 4z" fill="#791517"/><path d="M308.8 229.8l1.5-4.3-6.3 3.1-2.2 2.2z" fill="#951a1c"/><path d="M303.7 230.2l2.1-2.6-5.6 9.9-2.9-1.2z" fill="#bc2023"/><path d="M298.7 234.9l2.7.9-6.9 8.2-1.9-3.5z" fill="#da2728"/><path d="M294.1 239.2l1.7 3.2-6.6 6.7-1.5-4.8z" fill="#d02a26"/><path d="M289.3 242.9l1.3 4.7-6.1 8.1-1.4-5.3z" fill="#c93025"/><path d="M284.6 249l1.2 5.3-6.7 2.5-1.3-5.2z" fill="#c53125"/><path d="M279.7 250.7l1.2 5.2-6.4 5.1-1.3-5z" fill="#c12e24"/><path d="M274.8 254.7l1.3 5.1-6.4 5.2-1.3-4.9z" fill="#bf3023"/><path d="M269.9 258.8l1.4 5-6.5 4.8-1.4-4.9z" fill="#bc3123"/><path d="M265 262.4l1.3 4.9-6 9.1-1.3-4.7z" fill="#bc3723"/><path d="M260.2 270.1l1.4 4.7-6.4 5.5-1.4-4.6z" fill="#bc4024"/><path d="M255.3 274.4l1.4 4.6-6.3 6.5-1.4-4.5z" fill="#bd4624"/><path d="M250.4 279.5l1.4 4.5-5.1 5.9-1.4-4.4z" fill="#c04f25"/><path d="M391.8 173.7l1.2-5.4-6.2 3.7-1.3 5.2z" fill="#5c1011"/><path d="M387.3 176.3l1.3-5.3-6.8 2.8-1.2 5.1z" fill="#5c1012"/><path d="M382.5 178.1l1.2-5.1-6.7 3.3-1.2 5.2z" fill="#5b1012"/><path d="M377.5 180.4l1.2-5.1-6.2 6.8-1.2 5.1z" fill="#601112"/><path d="M372.8 185.9l1.2-5.1-6.8 1.6-1.3 5.2z" fill="#631113"/><path d="M367.9 187l1.2-5.2-6.5 4.8-1.2 5.2z" fill="#621113"/><path d="M363 190.6l1.3-5.2-6.7 3.9-1.2 5.2z" fill="#651114"/><path d="M358.2 193.6l1.2-5.3-6.7 2.7-1.3 4.7z" fill="#641114"/><path d="M353.2 194.9l1.3-4.8-6.1 7.1-1.5 3.9z" fill="#6c1316"/><path d="M348.5 199.9l1.4-4-6.6 2.1-1.8 3z" fill="#791519"/><path d="M343.5 200.6l1.7-3.3-6.2 4.2-2.3 2.1z" fill="#82171b"/><path d="M333.6 205.4l2.8-.4-7.2 3.5-2.4-2.1z" fill="#9c1b21"/><path d="M328.7 205.8l2.3 1.8-6.5 8.2-1.9-3.1z" fill="#a11c22"/><path d="M324 211.2l1.8 3-6.5 7-1.6-3.8z" fill="#ac1e23"/><path d="M319.2 216l1.5 3.7-6.4 7.4-1.4-5.2z" fill="#af1e22"/><path d="M314.4 220.4l1.2 5.1-6.1 7.7-1.3-5.2z" fill="#b72022"/><path d="M309.6 226.6l1.3 5.2-6.8 2.8-1.2-5.2z" fill="#b51f22"/><path d="M304.6 228.4l1.3 5.2-6.1 7.9-1.3-5z" fill="#b51f21"/><path d="M299.8 234.8l1.2 5.1-6.1 7.2-1.3-5z" fill="#b72622"/><path d="M295 240.6l1.2 4.9-6.3 6.5-1.2-4.9z" fill="#b72c22"/><path d="M290.1 245.6l1.2 4.9-6.1 7.9-1.2-4.7z" fill="#b73322"/><path d="M285.4 252.3l1.2 4.7-6.7 2.5-1.3-4.7z" fill="#b73523"/><path d="M280.4 253.9l1.3 4.8-6.4 5-1.3-4.7z" fill="#b73422"/><path d="M275.6 257.8l1.3 4.6-6.5 5.2-1.3-4.5z" fill="#b93623"/><path d="M270.7 261.8l1.3 4.6-6.5 4.7-1.3-4.5z" fill="#ba3723"/><path d="M265.7 265.3l1.4 4.5-6 9-1.3-4.4z" fill="#bc3f24"/><path d="M261 272.8l1.3 4.4-6.4 5.5-1.3-4.3z" fill="#bf4a24"/><path d="M256.1 277l1.4 4.3-6.3 6.5-1.4-4.3z" fill="#c15125"/><path d="M251.2 282.1l1.4 4.2-5.1 5.8-1.4-4.2z" fill="#c35a25"/><path d="M392.4 170.3l1.7-3.5-5.8 4.9-2.2 2.2z" fill="#811619"/><path d="M382.9 174.6l2.7-.5-6.9 5.4-2.4-1.9z" fill="#a91d22"/><path d="M378 176.5l2.4 1.8-6.6 8-1.9-3z" fill="#bb2025"/><path d="M373.4 182l1.8 2.9-7 2.7-1.6-4z" fill="#bb2025"/><path d="M368.6 182.9l1.4 3.8-6.5 5.7-1.4-4.7z" fill="#af1e23"/><path d="M363.8 186.6l1.3 4.5-6.6 4.6-1.3-5.3z" fill="#a91d22"/><path d="M359 189.4l1.2 5.2-6.8 2.9-1.2-5.4z" fill="#a11c21"/><path d="M354 191.2l1.2 5.3-6.2 7-1.2-5.2z" fill="#a21c20"/><path d="M349.3 197l1.2 5.2-6.8 2-1.3-5.2z" fill="#a01c20"/><path d="M344.4 198.3l1.2 5.2-6.6 4-1.3-5.3z" fill="#961a1f"/><path d="M339.5 201.1l1.2 5.3-6.5 4.8-1.2-5.3z" fill="#931a1e"/><path d="M334.7 204.8l1.2 5.3-6.8 2.3-1.2-5.4z" fill="#8d191d"/><path d="M329.7 206.2l1.2 5.3-6.1 7.7-1.2-5.2z" fill="#8e191d"/><path d="M324.8 212.4l1.3 5.2-6.3 6.8-1.2-5.1z" fill="#9c1b1e"/><path d="M320 217.8l1.2 5.1-6.2 7.1-1.2-4.9z" fill="#a71d1f"/><path d="M315.1 223.5l1.3 5-6.2 7.5-1.2-4.8z" fill="#af2020"/><path d="M310.4 229.8l1.3 4.8-6.8 2.8-1.3-4.8z" fill="#b02320"/><path d="M305.4 231.6l1.3 4.9-6.2 7.8-1.2-4.8z" fill="#b12521"/><path d="M300.5 237.9l1.3 4.8-6.2 7.1-1.2-4.7z" fill="#b42e22"/><path d="M295.7 243.6l1.3 4.7-6.3 6.4-1.3-4.7z" fill="#b73422"/><path d="M290.8 248.5l1.3 4.7-6.1 7.8-1.3-4.5z" fill="#ba3b23"/><path d="M286.1 255l1.3 4.6-6.8 2.6-1.3-4.7z" fill="#bb3e24"/><path d="M281.2 256.7l1.3 4.6-6.5 5-1.3-4.6z" fill="#bb3c23"/><path d="M276.3 260.5l1.3 4.5-6.4 5.1-1.3-4.4z" fill="#bc3e24"/><path d="M271.5 264.4l1.3 4.5-6.5 4.7-1.3-4.4z" fill="#bd4024"/><path d="M266.5 267.8l1.3 4.5-5.9 8.8-1.4-4.3z" fill="#bf4924"/><path d="M261.7 275.2l1.4 4.3-6.4 5.6-1.4-4.4z" fill="#c15525"/><path d="M256.8 279.4l1.4 4.3-6.3 6.4-1.3-4.2z" fill="#c35c25"/><path d="M252 284.4l1.4 4.3-5.2 5.7-1.4-4.2z" fill="#c56626"/><path d="M393.3 167.8l1.2 4.9-6.1 4.6-1.3-4.8z" fill="#ab1e21"/><path d="M388.8 171.3l1.3 4.8-6.7 3.8-1.2-5z" fill="#a61d20"/><path d="M383.9 173.9l1.3 4.9-6.6 4.3-1.2-5z" fill="#a11c20"/><path d="M379 176.9l1.2 5-6.1 7.5-1.3-4.9z" fill="#a61d20"/><path d="M374.3 183.1l1.2 4.9-6.7 2.6-1.3-4.9z" fill="#a71d20"/><path d="M369.3 184.8l1.3 4.9-6.4 5.6-1.3-4.9z" fill="#a41c1f"/><path d="M364.5 189.1l1.3 4.9-6.6 4.6-1.2-4.9z" fill="#a51d1f"/><path d="M359.7 192.6l1.3 4.9-6.8 2.9-1.2-4.9z" fill="#a11c1f"/><path d="M354.7 194.5l1.3 4.9-6.2 6.9-1.3-4.8z" fill="#a31c1f"/><path d="M350 200.2l1.3 4.8-6.8 2.1-1.3-4.9z" fill="#a41c1f"/><path d="M345.1 201.5l1.3 4.9-6.7 4-1.2-4.9z" fill="#9d1b1e"/><path d="M340.2 204.4l1.3 4.9-6.5 4.8-1.3-4.9z" fill="#9d1b1e"/><path d="M335.4 208.1l1.3 4.9-6.8 2.5-1.3-5.1z" fill="#981a1e"/><path d="M330.4 209.5l1.3 5.1-6.2 7.6-1.2-5z" fill="#9b1b1e"/><path d="M325.6 215.6l1.2 5-6.2 6.7-1.2-4.9z" fill="#a81d1f"/><path d="M320.7 220.9l1.3 4.9-6.2 7-1.3-4.8z" fill="#af2120"/><path d="M315.9 226.5l1.2 4.8-6.1 7.4-1.3-4.6z" fill="#b32921"/><path d="M311.1 232.6l1.3 4.7-6.7 2.9-1.3-4.8z" fill="#b42c21"/><path d="M306.1 234.5l1.3 4.7-6.1 7.8-1.3-4.7z" fill="#b52e22"/><path d="M301.3 240.7l1.3 4.7-6.2 7.1-1.3-4.6z" fill="#b83623"/><path d="M296.5 246.3l1.3 4.7-6.3 6.4-1.3-4.7z" fill="#ba3c23"/><path d="M291.6 251.2l1.3 4.7-6.1 7.7-1.4-4.5z" fill="#bc4624"/><path d="M286.8 257.7l1.4 4.5-6.8 2.6-1.3-4.6z" fill="#bd4924"/><path d="M281.9 259.4l1.3 4.6-6.4 4.8-1.4-4.5z" fill="#bd4724"/><path d="M277.1 263l1.3 4.6-6.5 5.1-1.3-4.5z" fill="#bd4924"/><path d="M272.2 266.9l1.4 4.5-6.6 4.8-1.3-4.5z" fill="#be4a24"/><path d="M267.3 270.3l1.3 4.5-6 8.8-1.4-4.4z" fill="#c05425"/><path d="M262.5 277.6l1.3 4.4-6.4 5.5-1.3-4.4z" fill="#c26025"/><path d="M257.6 281.7l1.4 4.4-6.3 6.4-1.4-4.3z" fill="#c46726"/><path d="M252.7 286.7l1.4 4.3-5.2 5.7-1.3-4.3z" fill="#c67327"/><path d="M394 170.7l1.3 4.6-6.1 4.6-1.3-4.5z" fill="#ac1e20"/><path d="M389.5 174.2l1.4 4.5-6.7 3.8-1.3-4.6z" fill="#ac1e20"/><path d="M384.7 176.9l1.3 4.5-6.6 4.3-1.3-4.6z" fill="#a91d20"/><path d="M379.7 179.9l1.3 4.6-6.1 7.4-1.3-4.5z" fill="#af1e20"/><path d="M375 186l1.3 4.5-6.7 2.8-1.4-4.7z" fill="#b11f20"/><path d="M370.1 187.8l1.3 4.6-6.4 5.6-1.3-4.7z" fill="#b01f20"/><path d="M365.2 192l1.3 4.7-6.5 4.6-1.3-4.7z" fill="#b12020"/><path d="M360.4 195.5l1.3 4.7-6.7 2.9-1.3-4.7z" fill="#b01e20"/><path d="M355.5 197.5l1.3 4.7-6.3 6.7-1.3-4.6z" fill="#b12020"/><path d="M350.7 203l1.3 4.6-6.8 2.3-1.3-4.7z" fill="#b12020"/><path d="M345.8 204.4l1.3 4.8-6.6 4.1-1.3-4.8z" fill="#ad1e20"/><path d="M341 207.4l1.2 4.8-6.5 4.8-1.2-4.8z" fill="#ac1e20"/><path d="M336.2 211.1l1.2 4.8-6.7 2.6-1.3-5z" fill="#a81d1f"/><path d="M331.2 212.6l1.2 5-6.1 7.5-1.3-4.9z" fill="#ab1e1f"/><path d="M326.3 218.6l1.3 4.9-6.2 6.7-1.3-4.8z" fill="#b02420"/><path d="M321.5 223.9l1.3 4.8-6.3 6.9-1.2-4.8z" fill="#b32a21"/><path d="M316.6 229.3l1.3 4.8-6.2 7.3-1.3-4.6z" fill="#b63122"/><path d="M311.9 235.3l1.3 4.7-6.8 3-1.3-4.8z" fill="#b73322"/><path d="M306.9 237.3l1.3 4.7-6.2 7.8-1.2-4.8z" fill="#b83623"/><path d="M302 243.4l1.3 4.8-6.2 7.1-1.3-4.7z" fill="#ba3f23"/><path d="M297.2 249l1.3 4.8-6.3 6.3-1.3-4.7z" fill="#bb4724"/><path d="M292.3 253.9l1.3 4.7-6.1 7.7-1.3-4.6z" fill="#bd5124"/><path d="M287.6 260.3l1.3 4.6-6.8 2.6-1.3-4.7z" fill="#be5424"/><path d="M282.7 262l1.3 4.7-6.5 4.8-1.3-4.6z" fill="#be5224"/><path d="M277.8 265.6l1.3 4.7-6.4 5-1.3-4.6z" fill="#be5424"/><path d="M273 269.5l1.3 4.6-6.5 4.7-1.3-4.6z" fill="#bf5524"/><path d="M268 272.9l1.3 4.6-6 8.6-1.3-4.5z" fill="#c16025"/><path d="M263.2 280l1.4 4.5-6.4 5.5-1.4-4.5z" fill="#c36d26"/><path d="M258.4 284.2l1.3 4.4-6.3 6.4-1.3-4.4z" fill="#c47527"/><path d="M253.5 289.1l1.3 4.4-5.1 5.6-1.4-4.3z" fill="#c68228"/><path d="M394.8 173.3l1.5 5-6.2 4.5-1.5-4.9z" fill="#b52421"/><path d="M390.3 176.7l1.5 4.9-6.6 3.8-1.6-4.9z" fill="#b52421"/><path d="M385.4 179.5l1.5 4.8-6.5 4.4-1.6-5z" fill="#b42321"/><path d="M380.5 182.5l1.5 5-6.2 7.4-1.5-4.9z" fill="#b52721"/><path d="M375.7 188.6l1.5 4.9-6.7 3-1.5-5.1z" fill="#b52922"/><path d="M370.8 190.5l1.5 5-6.4 5.6-1.5-5.1z" fill="#b52821"/><path d="M366 194.7l1.5 5.1-6.6 4.6-1.4-5.1z" fill="#b52a21"/><path d="M361.2 198.2l1.5 5.1-6.8 3.1-1.4-5.2z" fill="#b42821"/><path d="M356.2 200.2l1.5 5.2-6.3 6.7-1.4-5.2z" fill="#b42921"/><path d="M351.5 205.6l1.5 5.2-6.8 2.5-1.5-5.4z" fill="#b42921"/><path d="M346.6 207.2l1.4 5.3-6.6 4.2-1.4-5.4z" fill="#b22621"/><path d="M341.7 210.2l1.4 5.4-6.4 5-1.5-5.5z" fill="#b12621"/><path d="M336.9 213.9l1.4 5.5-6.7 2.8-1.4-5.7z" fill="#b02520"/><path d="M331.9 215.6l1.4 5.7-6.1 7.4-1.4-5.6z" fill="#b02620"/><path d="M327.1 221.6l1.4 5.6-6.3 6.6-1.4-5.6z" fill="#b32d21"/><path d="M322.2 226.7l1.5 5.6-6.3 6.8-1.4-5.5z" fill="#b63322"/><path d="M317.4 232.1l1.4 5.4-6.2 7.3-1.4-5.3z" fill="#b93a23"/><path d="M312.6 238l1.5 5.4-6.8 3.1-1.4-5.4z" fill="#b93d23"/><path d="M307.6 240l1.5 5.5-6.2 7.7-1.4-5.4z" fill="#b94023"/><path d="M302.8 246.2l1.4 5.4-6.2 7.1-1.4-5.4z" fill="#bb4b24"/><path d="M298 251.8l1.4 5.4-6.3 6.4-1.4-5.4z" fill="#bc5424"/><path d="M293.1 256.7l1.4 5.4-6.1 7.5-1.5-5.3z" fill="#be5f24"/><path d="M288.4 262.9l1.4 5.3-6.8 2.7-1.4-5.4z" fill="#bf6325"/><path d="M283.4 264.7l1.5 5.3-6.5 4.8-1.5-5.3z" fill="#bf5f24"/><path d="M278.6 268.3l1.4 5.3-6.4 5-1.5-5.3z" fill="#bf6225"/><path d="M273.7 272.1l1.5 5.2-6.5 4.8-1.5-5.3z" fill="#c06325"/><path d="M268.8 275.5l1.4 5.2-6 8.5-1.5-5.1z" fill="#c26f26"/><path d="M264 282.5l1.5 5.1-6.4 5.5-1.5-5.1z" fill="#c47e28"/><path d="M259.1 286.6l1.5 5.1-6.3 6.4-1.5-5.1z" fill="#c58729"/><path d="M254.2 291.6l1.5 5-5.1 5.5-1.5-4.9z" fill="#c7942a"/><path d="M395.7 176.3l1.4 5-6.1 4.2-1.5-4.7z" fill="#b82d22"/><path d="M391.2 179.6l1.5 4.8-6.6 3.8-1.5-4.8z" fill="#b92d22"/><path d="M386.3 182.4l1.5 4.7-6.5 4.5-1.5-4.8z" fill="#b82c22"/><path d="M381.4 185.5l1.5 4.9-6.2 7.4-1.5-4.8z" fill="#b93022"/><path d="M376.7 191.5l1.4 4.9-6.7 3.1-1.5-5z" fill="#b93223"/><path d="M371.7 193.6l1.5 5-6.4 5.6-1.5-5.1z" fill="#b83122"/><path d="M366.9 197.8l1.4 5.1-6.5 4.6-1.4-5z" fill="#b83323"/><path d="M362.1 201.4l1.4 5-6.7 3.2-1.4-5.2z" fill="#b73122"/><path d="M357.1 203.4l1.5 5.2-6.3 6.6-1.4-5.1z" fill="#b73222"/><path d="M352.4 208.8l1.4 5.1-6.8 2.7-1.4-5.3z" fill="#b73322"/><path d="M347.5 210.5l1.4 5.2-6.6 4.4-1.4-5.4z" fill="#b53022"/><path d="M342.6 213.6l1.4 5.4-6.5 5.1-1.4-5.5z" fill="#b43022"/><path d="M337.8 217.4l1.4 5.5-6.7 3.1-1.4-5.7z" fill="#b32f21"/><path d="M332.8 219.3l1.4 5.7-6.2 7.3-1.3-5.6z" fill="#b33122"/><path d="M328 225.2l1.4 5.6-6.3 6.6-1.4-5.6z" fill="#b63722"/><path d="M323.2 230.3l1.3 5.6-6.2 6.6-1.4-5.4z" fill="#b73e23"/><path d="M318.3 235.6l1.4 5.4-6.2 7.2-1.4-5.4z" fill="#ba4723"/><path d="M313.5 241.4l1.4 5.4-6.7 3.3-1.4-5.5z" fill="#ba4a23"/><path d="M308.6 243.5l1.3 5.5-6.1 7.7-1.4-5.5z" fill="#ba4e23"/><path d="M303.7 249.6l1.4 5.5-6.2 7.1-1.4-5.5z" fill="#bc5a24"/><path d="M298.9 255.2l1.4 5.4-6.3 6.4-1.4-5.4z" fill="#be6424"/><path d="M294 260.1l1.4 5.4-6.2 7.4-1.4-5.3z" fill="#c07126"/><path d="M289.3 266.2l1.4 5.3-6.8 2.8-1.4-5.4z" fill="#c07526"/><path d="M284.4 268.1l1.4 5.3-6.6 4.8-1.4-5.4z" fill="#c07226"/><path d="M279.5 271.6l1.4 5.4-6.5 4.9-1.4-5.3z" fill="#c17426"/><path d="M274.6 275.4l1.5 5.2-6.6 4.7-1.4-5.2z" fill="#c17626"/><path d="M269.7 278.8l1.4 5.2-6 8.3-1.5-5.1z" fill="#c38228"/><path d="M264.9 285.6l1.4 5.1-6.4 5.5-1.4-5.1z" fill="#c5932a"/><path d="M260 289.8l1.5 5.1-6.3 6.2-1.5-5z" fill="#c69b2a"/><path d="M255.2 294.6l1.4 5.1-5.2 5.4-1.4-4.9z" fill="#c6a82c"/><path d="M396.5 179.3l1.5 4.8-6.2 4.1-1.4-4.6z" fill="#bb3523"/><path d="M392.1 182.5l1.4 4.6-6.6 3.8-1.5-4.7z" fill="#bb3523"/><path d="M387.2 185.2l1.4 4.6-6.5 4.6-1.4-4.7z" fill="#ba3423"/><path d="M382.3 188.4l1.4 4.8-6.2 7.4-1.4-4.8z" fill="#bb3723"/><path d="M377.5 194.4l1.5 4.8-6.8 3.3-1.4-4.9z" fill="#bb3923"/><path d="M372.6 196.6l1.4 4.9-6.4 5.7-1.4-5z" fill="#ba3923"/><path d="M367.8 200.9l1.4 5-6.5 4.7-1.4-5z" fill="#ba3b23"/><path d="M363 204.4l1.4 5-6.8 3.3-1.3-5.1z" fill="#b93923"/><path d="M358 206.6l1.4 5.1-6.3 6.6-1.3-5z" fill="#b93b23"/><path d="M353.3 211.9l1.3 5.1-6.7 2.9-1.4-5.3z" fill="#b93c23"/><path d="M348.4 213.8l1.3 5.2-6.5 4.5-1.4-5.3z" fill="#b73923"/><path d="M343.5 217l1.3 5.3-6.4 5.3-1.4-5.5z" fill="#b73a23"/><path d="M338.7 220.9l1.3 5.5-6.7 3.3-1.3-5.7z" fill="#b63822"/><path d="M333.7 223l1.3 5.6-6.1 7.3-1.3-5.5z" fill="#b53b22"/><path d="M328.9 228.8l1.3 5.6-6.3 6.5-1.3-5.5z" fill="#b74423"/><path d="M324 233.9l1.4 5.5-6.3 6.6-1.3-5.4z" fill="#b94c23"/><path d="M319.2 239l1.3 5.5-6.2 7-1.3-5.3z" fill="#bb5624"/><path d="M314.4 244.8l1.4 5.3-6.7 3.5-1.4-5.5z" fill="#bb5924"/><path d="M309.4 247l1.4 5.5-6.2 7.6-1.3-5.4z" fill="#bc5e24"/><path d="M304.6 253.1l1.3 5.4-6.2 7.1-1.3-5.4z" fill="#be6c25"/><path d="M299.8 258.7l1.3 5.3-6.3 6.4-1.3-5.4z" fill="#bf7826"/><path d="M294.9 263.5l1.3 5.4-6.2 7.3-1.3-5.3z" fill="#c18628"/><path d="M290.1 269.5l1.4 5.3-6.8 2.8-1.3-5.3z" fill="#c28b28"/><path d="M285.2 271.5l1.4 5.3-6.5 4.6-1.4-5.2z" fill="#c28728"/><path d="M280.4 275l1.3 5.2-6.5 4.9-1.3-5.2z" fill="#c28928"/><path d="M275.5 278.7l1.4 5.2-6.5 4.6-1.4-5.1z" fill="#c38b29"/><path d="M270.6 282.1l1.3 5.1-6 8.1-1.4-5z" fill="#c4982a"/><path d="M265.8 288.7l1.4 5-6.4 5.6-1.4-5z" fill="#c4a72b"/><path d="M260.9 292.9l1.4 5-6.3 6.2-1.4-4.9z" fill="#c4b02c"/><path d="M256 297.7l1.4 5-5.1 5.3-1.4-4.8z" fill="#c3ba2d"/><path d="M397.4 182.1l1.4 4.7-6.2 4.1-1.4-4.6z" fill="#bd3e24"/><path d="M392.9 185.1l1.4 4.7-6.6 3.8-1.4-4.7z" fill="#bd3c24"/><path d="M388 187.8l1.5 4.7-6.6 4.8-1.4-4.8z" fill="#bc3b24"/><path d="M383.1 191.2l1.4 4.8-6.2 7.4-1.4-4.7z" fill="#bc4124"/><path d="M378.4 197.2l1.4 4.8-6.7 3.5-1.4-4.9z" fill="#bc4424"/><path d="M373.5 199.6l1.3 4.9-6.4 5.7-1.3-5z" fill="#bb4524"/><path d="M368.6 203.9l1.4 5-6.5 4.7-1.4-5z" fill="#bb4724"/><path d="M363.8 207.5l1.4 5-6.7 3.4-1.4-5.2z" fill="#ba4523"/><path d="M358.9 209.7l1.3 5.1-6.3 6.6-1.3-5.1z" fill="#bb4723"/><path d="M354.1 215l1.4 5.1-6.8 3.1-1.3-5.3z" fill="#ba4823"/><path d="M349.2 217l1.3 5.2-6.5 4.7-1.3-5.4z" fill="#b94623"/><path d="M344.3 220.3l1.3 5.4-6.4 5.4-1.3-5.5z" fill="#b84723"/><path d="M339.5 224.4l1.3 5.4-6.7 3.5-1.2-5.6z" fill="#b74623"/><path d="M334.6 226.6l1.3 5.7-6.2 7.2-1.3-5.6z" fill="#b74923"/><path d="M329.7 232.4l1.3 5.6-6.3 6.4-1.2-5.5z" fill="#b95323"/><path d="M324.9 237.4l1.3 5.6-6.3 6.4-1.3-5.4z" fill="#ba5b24"/><path d="M320 242.5l1.3 5.4-6.2 7-1.3-5.4z" fill="#bd6624"/><path d="M315.3 248.1l1.3 5.4-6.7 3.5-1.3-5.4z" fill="#bd6a25"/><path d="M310.3 250.5l1.3 5.4-6.2 7.6-1.3-5.4z" fill="#bd7025"/><path d="M305.4 256.5l1.3 5.4-6.2 7-1.3-5.3z" fill="#bf8027"/><path d="M300.6 262l1.3 5.4-6.3 6.3-1.3-5.3z" fill="#c18e29"/><path d="M295.7 266.9l1.3 5.3-6.1 7.2-1.4-5.2z" fill="#c29c2a"/><path d="M291 272.8l1.3 5.2-6.7 2.9-1.4-5.2z" fill="#c2a02a"/><path d="M286.1 274.8l1.3 5.2-6.5 4.6-1.3-5.2z" fill="#c29d2a"/><path d="M281.2 278.2l1.4 5.2-6.5 4.8-1.4-5.1z" fill="#c39e2a"/><path d="M276.4 281.9l1.3 5.1-6.5 4.6-1.4-5.1z" fill="#c3a02a"/><path d="M271.4 285.2l1.4 5.2-6.1 7.9-1.4-5z" fill="#c3ac2c"/><path d="M266.6 291.8l1.4 4.9-6.4 5.5-1.4-4.9z" fill="#c2b92d"/><path d="M261.7 295.9l1.4 5-6.3 6.1-1.4-4.9z" fill="#b6b530"/><path d="M256.9 300.7l1.4 4.9-5.2 5.3-1.4-4.8z" fill="#a7b033"/><path d="M398.2 184.9l1.4 4.6-6.2 4-1.4-4.6z" fill="#bf4924"/><path d="M393.7 187.8l1.5 4.6-6.7 3.9-1.4-4.7z" fill="#be4724"/><path d="M388.9 190.5l1.4 4.7-6.5 4.9-1.4-4.8z" fill="#bd4624"/><path d="M383.9 194l1.4 4.8-6.1 7.5-1.4-4.8z" fill="#be4c24"/><path d="M379.2 200l1.4 4.8-6.7 3.8-1.4-5z" fill="#bd5024"/><path d="M374.3 202.5l1.3 5-6.4 5.7-1.3-5z" fill="#bd5124"/><path d="M369.4 206.9l1.4 5-6.5 4.8-1.4-5z" fill="#bd5424"/><path d="M364.6 210.5l1.4 5-6.7 3.5-1.4-5.1z" fill="#bc5224"/><path d="M359.7 212.8l1.3 5.2-6.2 6.5-1.4-5.1z" fill="#bc5424"/><path d="M354.9 218.1l1.4 5.1-6.8 3.3-1.3-5.3z" fill="#bc5624"/><path d="M350 220.2l1.3 5.3-6.5 4.8-1.3-5.4z" fill="#ba5424"/><path d="M345.2 223.7l1.3 5.4-6.5 5.5-1.3-5.5z" fill="#ba5623"/><path d="M340.4 227.8l1.2 5.5-6.6 3.7-1.3-5.7z" fill="#b95523"/><path d="M335.4 230.3l1.3 5.6-6.2 7.2-1.3-5.6z" fill="#b95923"/><path d="M330.6 236l1.2 5.6-6.2 6.4-1.3-5.6z" fill="#bb6424"/><path d="M325.7 241l1.3 5.5-6.3 6.4-1.3-5.5z" fill="#bc6e25"/><path d="M320.8 245.9l1.3 5.5-6.2 6.8-1.3-5.3z" fill="#bf7b26"/><path d="M316.1 251.5l1.3 5.3-6.7 3.7-1.3-5.5z" fill="#bf7f27"/><path d="M311.1 253.9l1.3 5.5-6.2 7.4-1.2-5.3z" fill="#c08628"/><path d="M306.3 259.9l1.3 5.4-6.2 7-1.3-5.4z" fill="#c19729"/><path d="M301.4 265.4l1.3 5.4-6.3 6.2-1.3-5.3z" fill="#c1a42b"/><path d="M296.6 270.2l1.3 5.3-6.2 7.1-1.4-5.2z" fill="#c1b22c"/><path d="M291.8 276l1.3 5.2-6.7 2.9-1.3-5.2z" fill="#c1b62c"/><path d="M286.9 278l1.3 5.2-6.5 4.6-1.3-5.2z" fill="#c1b22c"/><path d="M282 281.4l1.4 5.2-6.5 4.7-1.4-5.1z" fill="#c2b42c"/><path d="M277.2 285l1.3 5.1-6.5 4.6-1.3-5z" fill="#c2b52c"/><path d="M272.2 288.4l1.4 5-6.1 7.8-1.4-4.9z" fill="#b8b52f"/><path d="M267.4 294.7l1.4 4.9-6.4 5.5-1.4-4.9z" fill="#a6af33"/><path d="M262.6 298.9l1.3 4.8-6.3 6.1-1.4-4.8z" fill="#9bac35"/><path d="M257.7 303.6l1.4 4.8-5.2 5.2-1.4-4.7z" fill="#8da738"/><path d="M399 187.6l1.4 4.5-6.2 4-1.4-4.6z" fill="#c15425"/><path d="M394.6 190.4l1.4 4.6-6.7 4-1.4-4.7z" fill="#c05225"/><path d="M389.7 193.2l1.4 4.7-6.5 5-1.4-4.8z" fill="#bf5224"/><path d="M384.7 196.8l1.4 4.8-6.1 7.5-1.4-4.8z" fill="#bf5925"/><path d="M380 202.9l1.4 4.7-6.7 3.9-1.3-4.9z" fill="#bf5e25"/><path d="M375.1 205.5l1.3 4.9-6.4 5.8-1.3-5z" fill="#bf5f24"/><path d="M370.3 209.9l1.3 4.9-6.5 4.9-1.3-5z" fill="#bf6225"/><path d="M365.4 213.6l1.4 4.9-6.7 3.6-1.3-5.1z" fill="#be6124"/><path d="M360.5 216l1.3 5.1-6.3 6.5-1.3-5z" fill="#be6424"/><path d="M355.7 221.2l1.4 5-6.7 3.5-1.4-5.2z" fill="#be6624"/><path d="M350.8 223.5l1.3 5.2-6.5 5-1.2-5.4z" fill="#bd6424"/><path d="M346 227.1l1.2 5.3-6.4 5.6-1.2-5.4z" fill="#bc6724"/><path d="M341.2 231.3l1.2 5.4-6.6 4-1.3-5.7z" fill="#bb6724"/><path d="M336.2 233.9l1.3 5.6-6.2 7.1-1.3-5.5z" fill="#bb6c25"/><path d="M331.4 239.6l1.2 5.5-6.3 6.3-1.2-5.4z" fill="#bd7926"/><path d="M326.5 244.5l1.3 5.5-6.3 6.2-1.3-5.3z" fill="#bf8427"/><path d="M321.7 249.4l1.2 5.3-6.2 6.7-1.3-5.2z" fill="#c19129"/><path d="M316.9 254.8l1.3 5.2-6.7 3.8-1.3-5.3z" fill="#c19629"/><path d="M311.9 257.4l1.3 5.3-6.2 7.4-1.2-5.3z" fill="#c19d2a"/><path d="M307.1 263.3l1.3 5.2-6.3 7-1.2-5.2z" fill="#c0ad2b"/><path d="M302.2 268.8l1.3 5.2-6.3 6.2-1.3-5.2z" fill="#bbb52d"/><path d="M297.4 273.6l1.3 5.1-6.3 6.9-1.3-5z" fill="#aaaf31"/><path d="M292.6 279.2l1.3 5-6.7 3-1.3-5z" fill="#a5ae32"/><path d="M287.7 281.3l1.3 5-6.5 4.5-1.3-5z" fill="#abb031"/><path d="M282.9 284.6l1.3 5-6.5 4.7-1.4-5z" fill="#abb031"/><path d="M278 288.1l1.3 5-6.5 4.5-1.3-4.9z" fill="#aab031"/><path d="M273.1 291.5l1.3 4.9-6.1 7.5-1.4-4.7z" fill="#9dac34"/><path d="M268.3 297.7l1.3 4.7-6.4 5.4-1.4-4.7z" fill="#8ca638"/><path d="M263.4 301.8l1.4 4.7-6.4 6-1.4-4.6z" fill="#82a43c"/><path d="M258.5 306.4l1.4 4.7-5.2 5.1-1.4-4.6z" fill="#75a242"/><path d="M399.8 190.1l1.4 4.5-6.2 4-1.4-4.5z" fill="#c36125"/><path d="M395.3 193l1.5 4.5-6.7 4.1-1.4-4.6z" fill="#c25f25"/><path d="M390.5 195.9l1.4 4.6-6.5 5.1-1.4-4.7z" fill="#c15f25"/><path d="M385.5 199.6l1.4 4.7-6.1 7.5-1.4-4.7z" fill="#c26725"/><path d="M380.8 205.6l1.4 4.7-6.7 4.1-1.3-4.9z" fill="#c26d26"/><path d="M375.9 208.4l1.3 4.9-6.4 5.8-1.3-4.9z" fill="#c16f26"/><path d="M371.1 212.8l1.3 4.9-6.5 5-1.3-5z" fill="#c17326"/><path d="M366.2 216.6l1.4 4.9-6.7 3.7-1.3-5z" fill="#c07226"/><path d="M361.3 219.1l1.3 5-6.3 6.5-1.3-5z" fill="#c17526"/><path d="M356.5 224.2l1.3 5-6.6 3.7-1.3-5.2z" fill="#c07827"/><path d="M351.6 226.7l1.3 5.1-6.4 5.2-1.3-5.3z" fill="#bf7726"/><path d="M346.8 230.4l1.2 5.3-6.3 5.7-1.3-5.4z" fill="#bf7b27"/><path d="M342 234.7l1.2 5.4-6.6 4.1-1.3-5.5z" fill="#be7d27"/><path d="M337 237.5l1.3 5.5-6.2 7.1-1.3-5.5z" fill="#be8327"/><path d="M332.2 243.1l1.2 5.5-6.3 6.2-1.2-5.4z" fill="#c09129"/><path d="M327.3 248l1.3 5.4-6.3 6.1-1.3-5.3z" fill="#c09b2a"/><path d="M322.5 252.8l1.2 5.2-6.2 6.6-1.3-5.2z" fill="#c1a72b"/><path d="M317.7 258l1.3 5.2-6.7 3.9-1.3-5.3z" fill="#c1ac2b"/><path d="M312.7 260.7l1.3 5.3-6.2 7.3-1.2-5.2z" fill="#c0b32c"/><path d="M307.9 266.5l1.3 5.2-6.2 6.9-1.3-5.1z" fill="#afb130"/><path d="M303 272l1.3 5.1-6.3 6.2-1.3-5.1z" fill="#9daa33"/><path d="M298.2 276.7l1.3 5.1-6.3 6.7-1.3-4.9z" fill="#8da536"/><path d="M293.4 282.2l1.3 5-6.7 3-1.3-4.9z" fill="#8aa437"/><path d="M288.5 284.3l1.3 5-6.5 4.4-1.3-4.9z" fill="#90a736"/><path d="M283.7 287.6l1.3 4.9-6.5 4.6-1.4-4.8z" fill="#90a737"/><path d="M278.8 291.1l1.3 4.8-6.5 4.6-1.3-4.8z" fill="#90a737"/><path d="M273.9 294.4l1.3 4.8-6.1 7.4-1.4-4.6z" fill="#84a43b"/><path d="M269.1 300.4l1.3 4.7-6.4 5.4-1.4-4.6z" fill="#75a243"/><path d="M264.2 304.5l1.4 4.6-6.4 6-1.4-4.5z" fill="#6ca147"/><path d="M259.3 309.1l1.4 4.6-5.1 5-1.5-4.4z" fill="#609f4d"/><path d="M400.6 192.6l1.4 4.4-6.1 4.1-1.5-4.4z" fill="#c66f26"/><path d="M396.1 195.5l1.5 4.4-6.6 4.3-1.5-4.5z" fill="#c56d26"/><path d="M391.3 198.5l1.4 4.5-6.5 5.3-1.4-4.6z" fill="#c46e26"/><path d="M386.3 202.3l1.4 4.7-6.1 7.5-1.4-4.7z" fill="#c47827"/><path d="M381.6 208.4l1.4 4.6-6.6 4.3-1.4-4.8z" fill="#c47f28"/><path d="M376.7 211.3l1.3 4.8-6.3 5.8-1.4-4.8z" fill="#c48228"/><path d="M371.8 215.8l1.4 4.8-6.5 5-1.3-4.9z" fill="#c48728"/><path d="M367 219.5l1.4 4.9-6.7 3.8-1.3-5z" fill="#c38628"/><path d="M362.1 222.1l1.3 4.9-6.3 6.5-1.3-4.9z" fill="#c48a29"/><path d="M357.3 227.2l1.4 4.9-6.7 3.9-1.3-5.1z" fill="#c38d29"/><path d="M352.4 229.9l1.3 5-6.4 5.3-1.3-5.2z" fill="#c28c29"/><path d="M347.6 233.7l1.3 5.1-6.4 5.9-1.3-5.3z" fill="#c29229"/><path d="M342.8 238.1l1.2 5.3-6.6 4.3-1.2-5.5z" fill="#c09429"/><path d="M337.8 241l1.3 5.5-6.2 6.9-1.3-5.3z" fill="#c09a2a"/><path d="M333 246.6l1.3 5.3-6.4 6.2-1.2-5.3z" fill="#c0a82b"/><path d="M328.1 251.4l1.3 5.3-6.3 5.9-1.3-5.1z" fill="#c0b22c"/><path d="M323.3 256l1.3 5.2-6.3 6.4-1.3-5z" fill="#b9b42e"/><path d="M318.5 261.2l1.3 5.1-6.6 4-1.3-5.2z" fill="#b2b22f"/><path d="M313.5 264l1.3 5.1-6.2 7.2-1.3-5z" fill="#a8ae31"/><path d="M308.7 269.7l1.3 5.1-6.2 6.9-1.4-5.1z" fill="#92a735"/><path d="M303.8 275.1l1.4 5.1-6.4 6.1-1.3-5z" fill="#82a23a"/><path d="M299 279.9l1.3 4.9-6.3 6.6-1.3-4.8z" fill="#74a041"/><path d="M294.2 285.2l1.4 4.8-6.8 3.1-1.3-4.8z" fill="#71a043"/><path d="M289.3 287.3l1.4 4.9-6.6 4.3-1.4-4.8z" fill="#77a140"/><path d="M284.5 290.6l1.3 4.7-6.5 4.5-1.4-4.7z" fill="#78a240"/><path d="M279.6 294l1.4 4.7-6.6 4.4-1.4-4.6z" fill="#78a241"/><path d="M274.7 297.2l1.3 4.7-6.1 7.2-1.4-4.5z" fill="#6da146"/><path d="M269.8 303.1l1.5 4.5-6.5 5.4-1.4-4.5z" fill="#5f9f4e"/><path d="M265 307.2l1.4 4.5-6.4 5.9-1.4-4.5z" fill="#579e52"/><path d="M260.1 311.7l1.4 4.5-5.1 4.9-1.5-4.3z" fill="#4d9c59"/><path d="M401.4 195l1.5 4.2-6.2 4.2-1.5-4.3z" fill="#ca7f28"/><path d="M396.9 198l1.5 4.3-6.6 4.4-1.5-4.5z" fill="#c87d28"/><path d="M392 201.1l1.5 4.4-6.5 5.4-1.4-4.5z" fill="#c77e28"/><path d="M387.1 205l1.4 4.5-6.1 7.5-1.4-4.5z" fill="#c88a29"/><path d="M382.4 211l1.4 4.5-6.6 4.5-1.4-4.7z" fill="#c8932a"/><path d="M377.5 214.1l1.3 4.7-6.3 5.8-1.4-4.7z" fill="#c7962a"/><path d="M372.6 218.6l1.4 4.7-6.5 5-1.3-4.7z" fill="#c79b2b"/><path d="M367.8 222.4l1.4 4.7-6.6 3.9-1.4-4.8z" fill="#c69a2a"/><path d="M362.9 225.1l1.3 4.8-6.2 6.4-1.4-4.8z" fill="#c59e2b"/><path d="M358.1 230.2l1.4 4.7-6.7 4-1.3-4.9z" fill="#c5a22b"/><path d="M353.2 232.9l1.3 4.9-6.4 5.4-1.3-5z" fill="#c3a22b"/><path d="M348.3 236.9l1.4 5-6.4 5.9-1.3-5.1z" fill="#c2a82b"/><path d="M343.5 241.4l1.3 5.1-6.5 4.5-1.3-5.3z" fill="#c1ab2b"/><path d="M338.6 244.5l1.3 5.2-6.2 6.9-1.3-5.2z" fill="#c0b22c"/><path d="M333.8 249.9l1.3 5.2-6.4 6.1-1.2-5.1z" fill="#b6b32e"/><path d="M328.9 254.7l1.3 5.1-6.3 5.8-1.3-5z" fill="#aaaf31"/><path d="M324 259.2l1.4 5-6.3 6.3-1.3-4.8z" fill="#9dab34"/><path d="M319.3 264.3l1.3 4.9-6.6 4.1-1.3-5z" fill="#96a935"/><path d="M314.3 267.1l1.3 5-6.2 7.1-1.3-4.9z" fill="#8da537"/><path d="M309.5 272.8l1.3 4.9-6.2 6.8-1.4-4.8z" fill="#79a13f"/><path d="M304.6 278.2l1.4 4.8-6.4 6.1-1.3-4.8z" fill="#6a9e46"/><path d="M299.8 282.8l1.3 4.8-6.3 6.4-1.3-4.6z" fill="#5d9c4d"/><path d="M295 288.1l1.4 4.6-6.7 3.1-1.4-4.7z" fill="#5b9d4f"/><path d="M290.1 290.2l1.4 4.7-6.6 4.2-1.4-4.6z" fill="#619e4c"/><path d="M285.2 293.4l1.4 4.6-6.5 4.4-1.4-4.6z" fill="#629f4c"/><path d="M280.4 296.7l1.4 4.5-6.6 4.5-1.4-4.5z" fill="#639f4c"/><path d="M275.4 299.9l1.5 4.5-6.2 7.1-1.4-4.3z" fill="#599e51"/><path d="M270.6 305.6l1.5 4.4-6.4 5.3-1.5-4.3z" fill="#4d9d5a"/><path d="M265.8 309.7l1.4 4.3-6.3 5.9-1.5-4.3z" fill="#489d63"/><path d="M260.9 314.2l1.5 4.3-5.2 4.8-1.5-4.1z" fill="#439c6e"/><path d="M402.2 197.3l1.5 4.1-6.2 4.2-1.5-4.1z" fill="#ce902b"/><path d="M397.7 200.3l1.5 4.1-6.6 4.6-1.4-4.3z" fill="#cc8e2a"/><path d="M392.8 203.5l1.5 4.3-6.4 5.5-1.5-4.4z" fill="#cb902a"/><path d="M387.9 207.6l1.5 4.3-6.2 7.5-1.4-4.3z" fill="#cb9d2b"/><path d="M383.1 213.6l1.5 4.3-6.6 4.6-1.4-4.5z" fill="#caa62c"/><path d="M378.3 216.8l1.4 4.5-6.4 5.9-1.4-4.5z" fill="#c9a92c"/><path d="M373.4 221.3l1.4 4.5-6.4 5.1-1.4-4.6z" fill="#c8af2d"/><path d="M368.6 225.1l1.4 4.6-6.6 4-1.4-4.7z" fill="#c7ae2c"/><path d="M363.7 227.9l1.4 4.6-6.3 6.4-1.4-4.6z" fill="#c7b22d"/><path d="M358.9 232.9l1.4 4.6-6.6 4.2-1.4-4.7z" fill="#c6b72d"/><path d="M354 235.8l1.4 4.8-6.5 5.5-1.3-4.9z" fill="#c4b72d"/><path d="M349.1 239.9l1.4 4.9-6.4 6-1.3-5z" fill="#bdb72e"/><path d="M344.3 244.5l1.4 4.9-6.6 4.7-1.3-5.1z" fill="#b5b42f"/><path d="M339.4 247.7l1.3 5.2-6.2 6.8-1.3-5.1z" fill="#aaaf31"/><path d="M334.6 253.1l1.3 5.1-6.3 6-1.4-5z" fill="#9aaa34"/><path d="M329.7 257.8l1.4 5-6.4 5.7-1.4-4.8z" fill="#8fa637"/><path d="M324.8 262.3l1.4 4.8-6.3 6.2-1.4-4.7z" fill="#83a43b"/><path d="M320 267.2l1.4 4.7-6.6 4.2-1.3-4.8z" fill="#7ea33e"/><path d="M315.1 270.1l1.4 4.8-6.2 7.1-1.4-4.7z" fill="#74a142"/><path d="M310.3 275.7l1.3 4.8-6.2 6.8-1.4-4.7z" fill="#629d4b"/><path d="M305.4 281.1l1.4 4.7-6.3 5.9-1.4-4.6z" fill="#539b52"/><path d="M300.6 285.7l1.3 4.6-6.2 6.3-1.4-4.5z" fill="#4a9a5c"/><path d="M295.8 290.8l1.4 4.4-6.7 3.1-1.4-4.5z" fill="#499b5e"/><path d="M290.9 292.9l1.4 4.5-6.6 4.1-1.4-4.4z" fill="#4d9c58"/><path d="M286 296l1.5 4.4-6.6 4.3-1.4-4.3z" fill="#4e9d57"/><path d="M281.2 299.3l1.4 4.3-6.5 4.4-1.5-4.3z" fill="#4f9d57"/><path d="M276.2 302.5l1.5 4.3-6.2 6.9-1.5-4.2z" fill="#4a9d61"/><path d="M271.4 308l1.5 4.2-6.4 5.3-1.5-4.1z" fill="#439d6f"/><path d="M266.6 312.1l1.5 4.1-6.4 5.8-1.5-4.1z" fill="#3f9d77"/><path d="M261.7 316.5l1.5 4.1-5.2 4.8-1.5-4z" fill="#3a9d83"/><path d="M403 199.4l1.6 3.9-6.2 4.3-1.6-3.9z" fill="#d2a12d"/><path d="M398.5 202.5l1.6 4-6.6 4.6-1.5-4.1z" fill="#d1a02c"/><path d="M393.6 205.8l1.5 4.1-6.4 5.7-1.5-4.2z" fill="#cea22c"/><path d="M388.7 210l1.5 4.2-6.1 7.5-1.5-4.2z" fill="#cdaf2d"/><path d="M383.9 216l1.5 4.2-6.5 4.7-1.5-4.3z" fill="#ccb82e"/><path d="M379 219.4l1.5 4.3-6.3 5.8-1.5-4.3z" fill="#cbbc2e"/><path d="M374.2 223.8l1.5 4.4-6.5 5.1-1.4-4.4z" fill="#c7bf2f"/><path d="M369.4 227.7l1.5 4.4-6.7 4.1-1.4-4.5z" fill="#c5be2f"/><path d="M364.5 230.6l1.4 4.4-6.3 6.4-1.4-4.4z" fill="#bebb30"/><path d="M359.7 235.6l1.4 4.4-6.6 4.4-1.4-4.6z" fill="#b6b831"/><path d="M354.8 238.6l1.4 4.6-6.4 5.7-1.4-4.8z" fill="#b0b532"/><path d="M349.9 242.8l1.4 4.7-6.3 6.1-1.4-4.8z" fill="#a3af34"/><path d="M345.1 247.5l1.4 4.7-6.5 4.9-1.4-5z" fill="#9aab35"/><path d="M340.2 250.9l1.4 4.9-6.3 6.7-1.3-4.8z" fill="#8fa737"/><path d="M335.4 256.2l1.3 4.8-6.3 6-1.4-4.8z" fill="#81a33c"/><path d="M330.5 260.8l1.4 4.8-6.4 5.6-1.4-4.7z" fill="#77a241"/><path d="M325.6 265.1l1.4 4.7-6.3 6.1-1.4-4.6z" fill="#6da147"/><path d="M320.8 270l1.5 4.5-6.6 4.3-1.4-4.6z" fill="#68a049"/><path d="M315.9 273l1.4 4.6-6.2 7-1.4-4.6z" fill="#5e9e4d"/><path d="M311.1 278.5l1.4 4.6-6.3 6.7-1.4-4.5z" fill="#4d9b57"/><path d="M306.2 283.8l1.4 4.6-6.3 5.8-1.4-4.4z" fill="#459a66"/><path d="M301.3 288.4l1.5 4.4-6.3 6.1-1.5-4.3z" fill="#409b72"/><path d="M296.6 293.3l1.5 4.3-6.8 3.1-1.4-4.3z" fill="#3f9b74"/><path d="M291.7 295.5l1.5 4.3-6.6 4-1.5-4.2z" fill="#439c6e"/><path d="M286.8 298.5l1.5 4.2-6.5 4.3-1.5-4.2z" fill="#449d6d"/><path d="M282 301.7l1.5 4.2-6.6 4.3-1.5-4.1z" fill="#459e6c"/><path d="M277 304.8l1.6 4.2-6.3 6.7-1.5-3.9z" fill="#419e75"/><path d="M272.2 310.3l1.6 4-6.5 5.3-1.5-4z" fill="#3b9e83"/><path d="M267.3 314.3l1.6 4-6.4 5.7-1.5-3.9z" fill="#369e8c"/><path d="M262.5 318.7l1.6 3.9-5.2 4.8-1.6-3.9z" fill="#319e97"/><path d="M403.8 201.4l1.7 3.7-6.2 4.4-1.7-3.8z" fill="#d6b22f"/><path d="M399.3 204.6l1.7 3.7-6.6 4.9-1.6-4z" fill="#d4b22f"/><path d="M394.4 208l1.7 3.9-6.4 5.8-1.7-4.1z" fill="#d2b52e"/><path d="M389.5 212.2l1.6 4.1-6.1 7.5-1.6-4.1z" fill="#d0c12f"/><path d="M384.7 218.2l1.6 4.1-6.5 4.9-1.6-4.2z" fill="#c5c131"/><path d="M379.8 221.7l1.6 4.2-6.3 5.9-1.6-4.2z" fill="#bcbd33"/><path d="M375 226.2l1.6 4.2-6.5 5.2-1.5-4.2z" fill="#b3ba34"/><path d="M370.2 230.1l1.6 4.3-6.6 4.2-1.6-4.4z" fill="#b0b834"/><path d="M365.3 233.1l1.5 4.3-6.3 6.3-1.5-4.3z" fill="#a9b536"/><path d="M360.5 238l1.5 4.3-6.5 4.6-1.6-4.5z" fill="#a0b237"/><path d="M355.6 241.2l1.5 4.5-6.4 5.8-1.5-4.6z" fill="#99ae37"/><path d="M350.7 245.5l1.5 4.6-6.3 6.3-1.5-4.7z" fill="#8ca839"/><path d="M345.9 250.3l1.5 4.7-6.5 5-1.5-4.9z" fill="#82a53d"/><path d="M341 253.8l1.5 4.9-6.3 6.6-1.5-4.7z" fill="#78a342"/><path d="M336.2 259.1l1.4 4.7-6.3 5.9-1.5-4.7z" fill="#6aa148"/><path d="M331.3 263.6l1.5 4.7-6.4 5.5-1.5-4.6z" fill="#61a04d"/><path d="M326.4 267.8l1.5 4.6-6.3 6-1.5-4.5z" fill="#589f52"/><path d="M321.6 272.6l1.6 4.4-6.6 4.5-1.5-4.6z" fill="#539e55"/><path d="M316.7 275.7l1.5 4.5-6.2 7-1.5-4.5z" fill="#4c9c5c"/><path d="M311.9 281.1l1.5 4.5-6.3 6.7-1.5-4.4z" fill="#429b6e"/><path d="M307 286.4l1.5 4.5-6.3 5.7-1.5-4.3z" fill="#3b9b7d"/><path d="M302.2 290.9l1.5 4.4-6.3 5.9-1.6-4.2z" fill="#369b89"/><path d="M297.4 295.7l1.6 4.2-6.8 3.1-1.5-4.2z" fill="#359c8b"/><path d="M292.5 297.9l1.6 4.2-6.6 3.9-1.6-4.1z" fill="#399d84"/><path d="M287.6 300.8l1.6 4.2-6.5 4.1-1.7-4.1z" fill="#3b9e82"/><path d="M282.8 303.9l1.6 4.1-6.6 4.3-1.6-4z" fill="#3c9f81"/><path d="M277.8 307.1l1.7 4-6.3 6.6-1.6-3.9z" fill="#38a08a"/><path d="M273 312.4l1.7 3.8-6.4 5.3-1.7-3.8z" fill="#32a097"/><path d="M268.1 316.4l1.7 3.8-6.4 5.7-1.6-3.8z" fill="#2fa09e"/><path d="M263.3 320.7l1.7 3.8-5.2 4.7-1.7-3.7z" fill="#2fa0a3"/><path d="M404.6 203.3l1.9 3.6-6.1 4.5-1.9-3.7z" fill="#dbc431"/><path d="M400.1 206.5l1.9 3.6-6.5 5-1.9-3.8z" fill="#d9c431"/><path d="M395.2 210l1.9 3.9-6.4 5.9-1.8-4z" fill="#d6c831"/><path d="M390.3 214.4l1.9 4-6.2 7.5-1.8-4z" fill="#c5c534"/><path d="M385.6 220.4l1.8 3.9-6.5 5.1-1.8-4.1z" fill="#b4be37"/><path d="M380.7 224l1.8 4.1-6.4 5.9-1.8-4.1z" fill="#aaba38"/><path d="M375.9 228.5l1.7 4.1-6.4 5.3-1.8-4.2z" fill="#a0b63a"/><path d="M371 232.5l1.8 4.1-6.6 4.4-1.7-4.3z" fill="#9db43a"/><path d="M366.1 235.5l1.8 4.3-6.4 6.3-1.7-4.3z" fill="#95b13b"/><path d="M361.3 240.4l1.7 4.3-6.5 4.8-1.7-4.5z" fill="#8cad3e"/><path d="M356.4 243.8l1.7 4.4-6.4 6-1.6-4.6z" fill="#84aa40"/><path d="M351.6 248.2l1.6 4.5-6.3 6.4-1.6-4.7z" fill="#76a645"/><path d="M346.8 253l1.6 4.7-6.5 5.2-1.6-4.9z" fill="#6ca349"/><path d="M341.9 256.7l1.6 4.9-6.3 6.5-1.6-4.7z" fill="#61a14e"/><path d="M337 261.9l1.6 4.7-6.3 5.8-1.7-4.7z" fill="#549f55"/><path d="M332.2 266.4l1.6 4.6-6.4 5.4-1.7-4.6z" fill="#4e9e5b"/><path d="M327.3 270.5l1.7 4.6-6.4 5.8-1.7-4.4z" fill="#499f65"/><path d="M322.5 275.1l1.7 4.5-6.6 4.5-1.7-4.6z" fill="#469e6a"/><path d="M317.6 278.3l1.6 4.6-6.2 6.8-1.7-4.5z" fill="#419d74"/><path d="M312.7 283.7l1.7 4.5-6.3 6.6-1.7-4.4z" fill="#389c86"/><path d="M307.9 288.9l1.7 4.5-6.4 5.7-1.7-4.4z" fill="#319c95"/><path d="M303 293.3l1.7 4.4-6.3 5.7-1.8-4.2z" fill="#2f9d9d"/><path d="M298.2 298l1.8 4.2-6.7 3.1-1.8-4.2z" fill="#2f9e9e"/><path d="M293.3 300.2l1.8 4.2-6.6 3.8-1.8-4.1z" fill="#309f9b"/><path d="M288.5 303l1.8 4.1-6.6 4.1-1.8-4z" fill="#32a098"/><path d="M283.6 306.1l1.8 4-6.6 4.2-1.8-3.9z" fill="#34a196"/><path d="M278.7 309.2l1.8 3.9-6.2 6.5-1.9-3.8z" fill="#30a29e"/><path d="M273.9 314.4l1.8 3.8-6.4 5.3-1.9-3.8z" fill="#30a2a5"/><path d="M269 318.3l1.9 3.8-6.4 5.7-1.9-3.8z" fill="#2fa3a9"/><path d="M264.1 322.7l1.9 3.7-5.2 4.6-1.9-3.7z" fill="#2fa3af"/><path d="M405.5 205.1l2.3 3.4-6.2 4.6-2.2-3.5z" fill="#e2d734"/><path d="M401 208.3l2.3 3.5-6.6 5.2-2.1-3.7z" fill="#dbd334"/><path d="M396.2 212l2.1 3.7-6.4 6.1-2.1-3.9z" fill="#cecc36"/><path d="M391.3 216.5l2.1 3.9-6.2 7.5-2.1-3.9z" fill="#b6c339"/><path d="M386.5 222.5l2.1 3.8-6.5 5.3-2.1-4z" fill="#a4bc3c"/><path d="M381.6 226.3l2.1 4-6.4 5.9-2-4.1z" fill="#99b73e"/><path d="M376.8 230.8l2 4-6.4 5.3-2.1-4.1z" fill="#90b542"/><path d="M372 234.7l2 4.1-6.6 4.5-2-4.2z" fill="#8cb343"/><path d="M367.1 237.9l2 4.2-6.3 6.3-2.1-4.2z" fill="#84b146"/><path d="M362.2 242.8l2 4.2-6.5 5-2-4.4z" fill="#7aae4a"/><path d="M357.4 246.3l1.9 4.4-6.4 6.1-1.9-4.6z" fill="#70aa4c"/><path d="M352.5 250.8l1.9 4.6-6.3 6.5-1.9-4.7z" fill="#61a652"/><path d="M347.7 255.8l1.9 4.7-6.5 5.4-1.9-4.9z" fill="#55a257"/><path d="M342.8 259.7l1.9 4.9-6.3 6.3-1.9-4.7z" fill="#4da05f"/><path d="M338 264.7l1.8 4.8-6.3 5.6-1.9-4.6z" fill="#47a06c"/><path d="M333.1 269.1l1.9 4.7-6.4 5.2-1.9-4.5z" fill="#43a075"/><path d="M328.2 273.1l2 4.6-6.4 5.8-1.9-4.5z" fill="#3fa17e"/><path d="M323.4 277.7l1.9 4.4-6.5 4.7-1.9-4.6z" fill="#3ca084"/><path d="M318.5 280.9l1.9 4.6-6.2 6.8-1.9-4.5z" fill="#369f8d"/><path d="M313.6 286.3l2 4.5-6.3 6.6-1.9-4.5z" fill="#2f9e9d"/><path d="M308.8 291.5l2 4.5-6.4 5.5-2-4.3z" fill="#2e9fa4"/><path d="M304 295.8l1.9 4.4-6.4 5.5-1.9-4.2z" fill="#2ea0ab"/><path d="M299.2 300.3l2 4.1-6.7 3.1-2.1-4.1z" fill="#2fa2ac"/><path d="M294.3 302.5l2 4.1-6.6 3.7-2.1-4z" fill="#2fa2a8"/><path d="M289.4 305.3l2.1 4-6.6 3.9-2.1-3.9z" fill="#30a4a7"/><path d="M284.5 308.2l2.1 4-6.6 4.2-2-3.9z" fill="#31a5a7"/><path d="M279.6 311.3l2.1 3.9-6.2 6.3-2.2-3.7z" fill="#30a6ab"/><path d="M274.8 316.3l2.1 3.8-6.4 5.3-2.1-3.8z" fill="#30a6b2"/><path d="M269.9 320.3l2.2 3.8-6.4 5.5-2.2-3.7z" fill="#2fa6b6"/><path d="M265.1 324.6l2.1 3.7-5.2 4.5-2.1-3.6z" fill="#2fa7bc"/><path d="M406.6 206.8l2.7 3-6.2 4.8-2.6-3.2z" fill="#d9d939"/><path d="M402.1 210.1l2.6 3.2-6.5 5.4-2.5-3.4z" fill="#d0d43a"/><path d="M397.2 214l2.6 3.4-6.4 6.3-2.5-3.7z" fill="#c1cc3b"/><path d="M392.4 218.6l2.4 3.6-6.1 7.5-2.5-3.6z" fill="#a8c23f"/><path d="M387.6 224.6l2.4 3.6-6.4 5.5-2.5-3.9z" fill="#95bc45"/><path d="M382.7 228.5l2.4 3.8-6.3 5.9-2.5-3.8z" fill="#8bb949"/><path d="M377.9 233l2.4 3.8-6.5 5.4-2.4-3.9z" fill="#81b74d"/><path d="M373 237l2.4 3.9-6.5 4.6-2.4-4z" fill="#7cb54f"/><path d="M368.1 240.3l2.4 4-6.3 6.3-2.4-4.1z" fill="#73b352"/><path d="M363.3 245.1l2.4 4.1-6.5 5.3-2.3-4.4z" fill="#68af56"/><path d="M358.5 248.8l2.2 4.3-6.3 6.4-2.3-4.6z" fill="#5dab5a"/><path d="M353.6 253.5l2.2 4.5-6.3 6.7-2.2-4.7z" fill="#50a764"/><path d="M348.8 258.6l2.2 4.6-6.5 5.7-2.1-4.9z" fill="#48a470"/><path d="M343.9 262.6l2.2 4.9-6.3 6.3-2.2-4.8z" fill="#42a37b"/><path d="M339.1 267.6l2.1 4.7-6.3 5.6-2.2-4.7z" fill="#3ca388"/><path d="M334.2 271.9l2.2 4.6-6.4 5.2-2.2-4.6z" fill="#38a390"/><path d="M329.3 275.8l2.3 4.6-6.4 5.6-2.2-4.4z" fill="#34a499"/><path d="M324.5 280.3l2.3 4.4-6.6 4.8-2.2-4.6z" fill="#31a39f"/><path d="M319.6 283.6l2.2 4.6-6.2 6.7-2.2-4.5z" fill="#30a2a4"/><path d="M314.7 288.9l2.3 4.5-6.3 6.6-2.2-4.5z" fill="#2fa2ad"/><path d="M309.9 294.1l2.3 4.4-6.4 5.5-2.3-4.3z" fill="#2ea3b4"/><path d="M305.1 298.3l2.2 4.3-6.3 5.3-2.4-4.1z" fill="#2ea5bb"/><path d="M300.3 302.6l2.3 4.1-6.7 3-2.4-4z" fill="#2fa6bb"/><path d="M295.4 304.8l2.3 4.1-6.6 3.5-2.4-3.9z" fill="#30a7b7"/><path d="M290.5 307.5l2.4 3.9-6.6 3.9-2.4-3.9z" fill="#30a8b6"/><path d="M285.6 310.4l2.5 3.8-6.6 4.1-2.5-3.7z" fill="#31a9b5"/><path d="M280.7 313.4l2.5 3.8-6.3 6.1-2.5-3.6z" fill="#31aab9"/><path d="M275.9 318.3l2.5 3.6-6.5 5.3-2.5-3.6z" fill="#30abc0"/><path d="M271 322.3l2.5 3.6-6.4 5.5-2.5-3.5z" fill="#2fabc5"/><path d="M266.2 326.5l2.5 3.6-5.2 4.5-2.5-3.5z" fill="#2fabca"/><path d="M407.9 208.3l3.2 2.6-6.2 5-3.1-2.9z" fill="#d0d93d"/><path d="M403.4 211.8l3.1 2.8-6.5 5.7-3-3.2z" fill="#c6d43f"/><path d="M398.5 215.8l3.1 3.1-6.4 6.5-3-3.4z" fill="#b5cc40"/><path d="M393.6 220.6l3 3.3-6.1 7.5-3-3.4z" fill="#9cc347"/><path d="M388.8 226.5l3 3.4-6.4 5.6-3-3.5z" fill="#88bf4f"/><path d="M384 230.6l2.9 3.6-6.4 5.8-2.9-3.5z" fill="#7dbc54"/><path d="M379.1 235.1l3 3.6-6.5 5.4-2.9-3.6z" fill="#73ba59"/><path d="M374.3 239.2l2.9 3.6-6.5 4.9-2.9-3.9z" fill="#6db85b"/><path d="M369.4 242.6l2.9 3.8-6.3 6.3-2.9-3.9z" fill="#63b55e"/><path d="M364.6 247.4l2.8 3.9-6.4 5.6-2.8-4.2z" fill="#58b164"/><path d="M359.7 251.3l2.8 4.2-6.3 6.6-2.8-4.5z" fill="#50ae6f"/><path d="M354.9 256.2l2.7 4.4-6.3 6.8-2.7-4.6z" fill="#45aa80"/><path d="M350.1 261.4l2.6 4.5-6.4 6-2.6-4.9z" fill="#3da88e"/><path d="M345.2 265.7l2.6 4.8-6.3 6.1-2.6-4.7z" fill="#36a69a"/><path d="M340.4 270.5l2.6 4.7-6.4 5.4-2.7-4.6z" fill="#32a7a5"/><path d="M335.5 274.7l2.7 4.6-6.5 5-2.7-4.5z" fill="#31a7a9"/><path d="M330.6 278.5l2.7 4.5-6.4 5.5-2.7-4.3z" fill="#31a8ad"/><path d="M325.8 282.9l2.7 4.3-6.5 5-2.7-4.5z" fill="#31a8b0"/><path d="M320.9 286.4l2.7 4.5-6.3 6.7-2.7-4.5z" fill="#30a7b4"/><path d="M316 291.6l2.7 4.5-6.3 6.5-2.6-4.4z" fill="#2fa7bf"/><path d="M311.2 296.7l2.7 4.4-6.4 5.3-2.7-4.2z" fill="#2ea7c6"/><path d="M306.4 300.9l2.7 4.2-6.4 5-2.8-4z" fill="#2ca8ca"/><path d="M301.5 304.9l2.8 4-6.7 3-2.8-3.9z" fill="#2eaacb"/><path d="M296.7 307.1l2.8 4-6.7 3.3-2.8-3.7z" fill="#30acc8"/><path d="M291.8 309.7l2.9 3.8-6.7 3.6-2.8-3.6z" fill="#31aec6"/><path d="M286.9 312.5l2.9 3.6-6.6 4.1-2.9-3.6z" fill="#31aec4"/><path d="M282 315.5l2.9 3.6-6.3 6-2.9-3.4z" fill="#31afc8"/><path d="M277.2 320.3l2.9 3.4-6.4 5.3-3-3.4z" fill="#30afcf"/><path d="M272.3 324.3l3 3.4-6.4 5.5-3-3.4z" fill="#2eadd1"/><path d="M267.4 328.5l3 3.4-5.2 4.4-3-3.3z" fill="#2babd4"/><path d="M409.5 209.7l3.7 2.3-6.1 5.2-3.7-2.6z" fill="#c5d640"/><path d="M405 213.3l3.7 2.5-6.5 6-3.6-2.9z" fill="#bad142"/><path d="M400.1 217.5l3.6 2.9-6.3 6.7-3.6-3.2z" fill="#a7c945"/><path d="M395.2 222.4l3.6 3.2-6.2 7.5-3.5-3.2z" fill="#8ec34f"/><path d="M390.4 228.4l3.6 3.2-6.4 5.8-3.6-3.4z" fill="#7ac059"/><path d="M385.6 232.6l3.5 3.4-6.4 5.8-3.5-3.3z" fill="#6ebd5e"/><path d="M380.7 237.1l3.5 3.4-6.4 5.5-3.5-3.5z" fill="#64bb63"/><path d="M375.9 241.2l3.5 3.5-6.6 5-3.4-3.7z" fill="#5db966"/><path d="M371 244.8l3.4 3.6-6.3 6.3-3.4-3.6z" fill="#57b76f"/><path d="M366.2 249.6l3.4 3.7-6.4 6-3.4-4.1z" fill="#4fb57c"/><path d="M361.3 253.8l3.3 4-6.3 6.9-3.3-4.4z" fill="#46b189"/><path d="M356.5 258.8l3.2 4.3-6.2 7.1-3.3-4.5z" fill="#3aae9c"/><path d="M351.6 264.2l3.2 4.5-6.3 6.2-3.2-4.8z" fill="#33abaa"/><path d="M346.8 268.7l3.2 4.8-6.4 5.9-3.2-4.6z" fill="#32abb0"/><path d="M341.9 273.4l3.2 4.6-6.4 5.2-3.2-4.4z" fill="#32acb6"/><path d="M337.1 277.5l3.2 4.5-6.4 4.9-3.3-4.4z" fill="#31acba"/><path d="M332.2 281.3l3.3 4.3-6.4 5.5-3.3-4.3z" fill="#31adbe"/><path d="M327.4 285.5l3.2 4.3-6.5 5.2-3.2-4.5z" fill="#31acc1"/><path d="M322.5 289.2l3.2 4.4-6.2 6.6-3.3-4.4z" fill="#2fabc7"/><path d="M317.6 294.3l3.3 4.4-6.3 6.5-3.3-4.4z" fill="#2ba8ce"/><path d="M312.8 299.4l3.3 4.4-6.5 5-3.3-4.1z" fill="#28a7d3"/><path d="M307.9 303.4l3.4 4.2-6.5 4.6-3.4-3.8z" fill="#27a7d6"/><path d="M303.1 307.3l3.4 3.8-6.7 2.9-3.4-3.7z" fill="#29aad7"/><path d="M298.3 309.4l3.4 3.8-6.7 3.1-3.4-3.5z" fill="#2cadd5"/><path d="M293.4 311.9l3.4 3.5-6.6 3.5-3.5-3.3z" fill="#2fb1d4"/><path d="M288.5 314.6l3.5 3.3-6.6 4.1-3.5-3.3z" fill="#31b3d3"/><path d="M283.6 317.5l3.5 3.3-6.3 6-3.6-3.2z" fill="#2fb1d4"/><path d="M278.7 322.2l3.6 3.2-6.5 5.4-3.5-3.3z" fill="#2caed7"/><path d="M273.9 326.2l3.5 3.3-6.4 5.5-3.5-3.3z" fill="#2aacd9"/><path d="M269 330.4l3.6 3.3-5.2 4.3-3.6-3.2z" fill="#27aadc"/><path d="M411.5 211l4.4 2.6-6.1 5.4-4.4-3z" fill="#b8d143"/><path d="M407 214.7l4.3 2.9-6.4 6.3-4.3-3.4z" fill="#abcc45"/><path d="M402.1 219.1l4.3 3.4-6.3 6.9-4.2-3.6z" fill="#97c64c"/><path d="M397.2 224.3l4.3 3.6-6.2 7.4-4.2-3.6z" fill="#7dc158"/><path d="M392.4 230.2l4.2 3.6-6.3 6-4.2-3.8z" fill="#69bd62"/><path d="M387.6 234.6l4.2 3.8-6.4 5.6-4.2-3.6z" fill="#5dbb68"/><path d="M382.7 239.1l4.2 3.6-6.4 5.5-4.2-3.6z" fill="#58bb72"/><path d="M377.9 243.3l4.2 3.6-6.5 5.2-4.2-3.8z" fill="#54ba7a"/><path d="M373 247l4.2 3.8-6.3 6.3-4.2-3.8z" fill="#4eb884"/><path d="M368.2 251.8l4.1 3.9-6.4 6.3-4.1-4.3z" fill="#45b693"/><path d="M363.3 256.3l4.1 4.2-6.3 7.1-4-4.5z" fill="#3bb2a3"/><path d="M358.5 261.5l4 4.5-6.3 7.2-4-4.7z" fill="#34b0b2"/><path d="M353.6 267l4 4.7-6.3 6.4-4-4.9z" fill="#32afbb"/><path d="M348.8 271.8l3.9 4.9-6.3 5.7-4-4.7z" fill="#31afc3"/><path d="M343.9 276.3l4 4.7-6.4 5.1-4-4.5z" fill="#31b0c9"/><path d="M339.1 280.3l4 4.5-6.5 4.9-4-4.4z" fill="#31b0cc"/><path d="M334.2 284l4 4.4-6.4 5.4-4-4.3z" fill="#31b0d0"/><path d="M329.4 288.2l4 4.3-6.5 5.4-4-4.6z" fill="#2eaed2"/><path d="M324.5 292l4 4.6-6.3 6.5-4-4.5z" fill="#2aaad4"/><path d="M319.6 297.1l4 4.5-6.2 6.4-4.1-4.4z" fill="#25a6da"/><path d="M314.8 302.2l4 4.4-6.4 4.8-4.1-4.2z" fill="#269fd7"/><path d="M309.9 306l4.1 4.2-6.5 4.3-4.1-3.8z" fill="#279fd7"/><path d="M305.1 309.6l4.2 3.8-6.7 2.8-4.2-3.7z" fill="#26a5dc"/><path d="M300.2 311.7l4.3 3.7-6.7 2.6-4.3-3.1z" fill="#28acdd"/><path d="M295.4 314l4.3 3.2-6.7 3-4.3-2.7z" fill="#2cb0db"/><path d="M290.5 316.6l4.4 2.7-6.7 4.4-4.3-3.1z" fill="#2db2da"/><path d="M285.6 319.5l4.3 3-6.4 6.3-4.3-3.3z" fill="#2bafdb"/><path d="M280.7 324.1l4.3 3.2-6.4 5.6-4.3-3.4z" fill="#28acde"/><path d="M275.9 328.1l4.2 3.4-6.4 5.5-4.2-3.4z" fill="#26a9df"/><path d="M271 332.3l4.3 3.4-5.2 4.3-4.3-3.3z" fill="#27a2db"/><path d="M414.2 212.5l5 3.7-6.1 5.6-5-4z" fill="#a5cb47"/><path d="M409.6 216.4l5 4-6.3 6.6-5-4.4z" fill="#96c74d"/><path d="M404.8 221.2l4.9 4.3-6.3 7.1-4.9-4.5z" fill="#80c156"/><path d="M399.9 226.5l4.9 4.5-6.2 7.3-4.9-4.3z" fill="#67bc62"/><path d="M395.1 232.4l4.9 4.4-6.4 6-4.9-4.4z" fill="#58ba72"/><path d="M390.2 237l4.9 4.4-6.3 5.5-5-4.2z" fill="#52ba7e"/><path d="M385.4 241.3l4.9 4.3-6.4 5.4-4.9-4.1z" fill="#4db988"/><path d="M380.5 245.6l5 4.1-6.5 5.3-4.9-4.3z" fill="#49b990"/><path d="M375.6 249.4l5 4.3-6.3 6.3-5-4.3z" fill="#42b79b"/><path d="M370.8 254.3l4.9 4.2-6.3 6.6-4.9-4.6z" fill="#39b5ac"/><path d="M365.9 259l4.9 4.6-6.2 7.2-4.9-4.8z" fill="#35b3b7"/><path d="M361.1 264.5l4.8 4.8-6.2 7.3-4.8-4.9z" fill="#33b2c2"/><path d="M356.2 270.2l4.8 4.8-6.2 6.6-4.8-5.1z" fill="#31b1ce"/><path d="M351.4 275.1l4.8 5-6.4 5.5-4.8-4.8z" fill="#2eb0d4"/><path d="M346.6 279.5l4.8 4.8-6.5 4.8-4.8-4.5z" fill="#2dafd7"/><path d="M341.7 283.3l4.9 4.6-6.5 4.8-4.9-4.5z" fill="#2caed9"/><path d="M336.8 286.9l4.9 4.5-6.4 5.4-4.9-4.5z" fill="#2aadda"/><path d="M332 291l4.9 4.5-6.5 5.6-4.8-4.7z" fill="#27aadc"/><path d="M327.1 295.1l4.8 4.6-6.2 6.5-4.9-4.6z" fill="#26a2da"/><path d="M322.2 300.1l4.9 4.6-6.3 6.3-4.9-4.5z" fill="#2894d2"/><path d="M317.4 305.1l4.9 4.5-6.5 4.5-4.9-4.1z" fill="#2a8dce"/><path d="M312.6 308.8l4.9 4.2-6.5 3.9-5-3.8z" fill="#2a8ecf"/><path d="M307.7 312.1l5 3.8-6.7 2.4-5-3.4z" fill="#2996d4"/><path d="M302.9 314.1l5.1 3.6-6.7 1.1-5.2-1.9z" fill="#26a4db"/><path d="M298 316.1l5.2 2.2-6.7 1.8-5.3-.8z" fill="#28a9d8"/><path d="M293.1 318.4l5.3 1-6.5 5.5-5.4-2.3z" fill="#2aacd9"/><path d="M288.2 321.4l5.2 2.2-6.3 7.3-5.2-3.4z" fill="#27acde"/><path d="M283.4 326.1l5.1 3.3-6.5 5.9-5-3.7z" fill="#27a3dc"/><path d="M278.5 330.3l5.1 3.6-6.5 5.5-5-3.7z" fill="#289bd7"/><path d="M273.7 334.4l5 3.6-5.2 4.3-5-3.5z" fill="#2994d3"/><path d="M417.5 215l5.6 4.4-6.1 5.8-5.5-4.7z" fill="#8dc552"/><path d="M413 219.1l5.5 4.6-6.3 6.9-5.5-5z" fill="#7bc159"/><path d="M408.1 224.1l5.5 4.9-6.2 7.2-5.5-5z" fill="#64bb63"/><path d="M403.3 229.6l5.4 5.1-6.2 7.1-5.4-4.8z" fill="#54b978"/><path d="M398.5 235.4l5.4 4.9-6.3 5.9-5.5-4.7z" fill="#4ab88d"/><path d="M393.6 240.1l5.5 4.7-6.4 5.2-5.5-4.4z" fill="#44b898"/><path d="M388.7 244.3l5.6 4.4-6.4 5.3-5.6-4.3z" fill="#40b8a1"/><path d="M383.9 248.4l5.5 4.3-6.4 5.3-5.6-4.3z" fill="#3cb7a9"/><path d="M379 252.4l5.5 4.3-6.3 6.2-5.5-4.2z" fill="#36b6b3"/><path d="M374.1 257.2l5.6 4.3-6.3 6.6-5.5-4.4z" fill="#35b5bb"/><path d="M369.3 262.2l5.5 4.4-6.2 7.3-5.5-4.5z" fill="#33b3c5"/><path d="M364.4 267.9l5.5 4.5-6.2 7.3-5.5-4.6z" fill="#31b3d3"/><path d="M359.6 273.6l5.5 4.5-6.3 6.7-5.5-4.7z" fill="#2baeda"/><path d="M354.8 278.7l5.5 4.6-6.5 5.3-5.5-4.4z" fill="#27abdf"/><path d="M349.9 282.9l5.5 4.4-6.5 4.7-5.5-4.2z" fill="#26a9e0"/><path d="M345.1 286.5l5.5 4.3-6.5 4.8-5.6-4.3z" fill="#26a7de"/><path d="M340.2 290.1l5.5 4.2-6.4 5.4-5.5-4.2z" fill="#27a3db"/><path d="M335.3 294.1l5.6 4.3-6.4 5.8-5.6-4.5z" fill="#289ad6"/><path d="M330.4 298.3l5.6 4.5-6.3 6.3-5.5-4.3z" fill="#2a8ecf"/><path d="M325.6 303.4l5.5 4.3-6.3 6.1-5.5-4.2z" fill="#2c81c7"/><path d="M320.8 308.2l5.5 4.2-6.5 4.3-5.6-3.9z" fill="#2e7cc3"/><path d="M315.9 311.7l5.6 3.9-6.6 3.6-5.6-3.5z" fill="#2d7ec5"/><path d="M311.1 314.7l5.7 3.6-6.8 1.8-5.7-2.9z" fill="#2b87c9"/><path d="M306.2 316.5l5.8 3.2-6.8-.9-5.9-.7z" fill="#2799d3"/><path d="M301.3 317.6l6 1.3-6.9.1-5.9.9z" fill="#28a7d5"/><path d="M296.4 319.1l5.9-.5-6.3 7.1-6-1.5z" fill="#29a8d2"/><path d="M291.5 322.9l5.9 1.2-6.2 8.9-5.9-3.2z" fill="#25a4da"/><path d="M286.7 328.3l5.7 3.1-6.3 6.3-5.7-3.6z" fill="#2995d3"/><path d="M281.9 332.7l5.6 3.6-6.4 5.5-5.6-3.6z" fill="#2b8cce"/><path d="M277 336.9l5.7 3.6-5.2 4.2-5.7-3.5z" fill="#2c85c9"/><path d="M421.4 218.1l6.9 4.8-6 6.1-6.9-5.1z" fill="#71c05f"/><path d="M416.9 222.4l6.8 5.1-6.2 7.1-6.8-5.4z" fill="#5dbb68"/><path d="M412 227.7l6.8 5.3-6.2 7.2-6.8-5.3z" fill="#51b97f"/><path d="M407.2 233.3l6.8 5.4-6.2 6.7-6.8-4.9z" fill="#44b798"/><path d="M402.4 239l6.8 5-6.4 5.6-6.8-4.7z" fill="#3bb7aa"/><path d="M397.5 243.5l6.9 4.7-6.5 4.8-6.8-4.2z" fill="#37b7b3"/><path d="M392.6 247.5l7 4.3-6.5 5-6.9-4z" fill="#36b7b6"/><path d="M387.8 251.5l6.9 4.1-6.4 5.1-7-3.9z" fill="#36b6b9"/><path d="M382.9 255.5l7 3.9-6.4 5.9-6.9-3.6z" fill="#35b5bd"/><path d="M378 260.3l7 3.6-6.3 6.5-6.9-3.5z" fill="#33b3c3"/><path d="M373.1 265.4l7.1 3.5-6.2 7.1-7-3.3z" fill="#31b1ce"/><path d="M368.3 271.2l7 3.3-6.2 7.4-7-3.4z" fill="#2bacd6"/><path d="M363.4 276.9l7 3.4-6.2 7-7-3.8z" fill="#26a6dc"/><path d="M358.6 282.1l7 3.7-6.4 5.4-7-3.9z" fill="#289bd7"/><path d="M353.8 286.1l7 3.8-6.5 4.8-7-3.9z" fill="#2997d5"/><path d="M348.9 289.6l7 3.9-6.5 4.9-7-4z" fill="#2995d4"/><path d="M344.1 293.1l6.9 4-6.4 5.5-7-4.1z" fill="#2a90d1"/><path d="M339.2 297.2l6.9 4.1-6.3 5.9-7-4.3z" fill="#2b88cb"/><path d="M334.3 301.5l7 4.3-6.3 6.2-7-4.1z" fill="#2d7cc3"/><path d="M329.5 306.5l6.9 4.1-6.3 5.8-7-3.8z" fill="#2f70bb"/><path d="M324.7 311.2l6.9 3.9-6.5 4-7-3.5z" fill="#306db9"/><path d="M319.8 314.5l7 3.6-6.6 3.3-7-3.3z" fill="#2f6fba"/><path d="M315 317.2l7 3.3-6.8 2.1-7-3.4z" fill="#2d7ac0"/><path d="M310.2 318.8l7 3.4-7 0-6.9-3.9z" fill="#2890ce"/><path d="M305.3 318.4l7 3.8-6.9 1.1-7-4.4z" fill="#27abde"/><path d="M300.3 318.5l7 4.2-6.3 6.5-6.9-4.1z" fill="#29acdc"/><path d="M295.4 323.6l7 4.1-6.1 8.1-6.9-3.7z" fill="#2798d3"/><path d="M290.6 330.4l7 3.8-6.3 6.2-7-3.7z" fill="#2b85c8"/><path d="M285.8 335.3l7 3.7-6.4 5.5-7-3.8z" fill="#2d7cc3"/><path d="M280.9 339.4l7 3.7-5.2 4.3-7-3.7z" fill="#2e76bf"/><path d="M426.6 221.8l5.1 2.9-6 6.2-5.1-3.1z" fill="#5cbb6a"/><path d="M422 226.3l5.1 3.1-6.2 7.1-5.1-3.2z" fill="#51b97f"/><path d="M417.2 231.8l5 3.2-6.1 7-5.1-3z" fill="#44b797"/><path d="M412.3 237.4l5.1 3.1-6.2 6.5-5.1-2.7z" fill="#38b6ae"/><path d="M407.5 242.8l5.1 2.8-6.4 5.3-5.1-2.4z" fill="#36b5b7"/><path d="M402.7 247.1l5.1 2.5-6.5 4.6-5.2-2.2z" fill="#35b5ba"/><path d="M397.8 250.8l5.2 2.2-6.5 4.9-5.2-2z" fill="#35b4bb"/><path d="M392.9 254.6l5.3 2-6.5 5-5.2-1.8z" fill="#34b3bc"/><path d="M388 258.5l5.3 1.8-6.3 5.4-5.3-1.2z" fill="#33b1be"/><path d="M383.2 263.1l5.3 1.3-6.3 5.9-5.3-.7z" fill="#31adc1"/><path d="M378.3 268.1l5.3.8-6.2 6.9-5.3-.5z" fill="#2ea9c8"/><path d="M373.4 273.7l5.4.5-6.2 7.7-5.4-.8z" fill="#27a2ce"/><path d="M368.6 279.6l5.3.7-6.2 7.5-5.4-1.4z" fill="#2599cf"/><path d="M363.8 284.9l5.3 1.4-6.5 5.8-5.3-1.8z" fill="#288fcd"/><path d="M358.9 289l5.3 1.8-6.5 5.1-5.3-2.1z" fill="#2a8bcb"/><path d="M354.1 292.6l5.2 2-6.5 5.1-5.2-2.3z" fill="#2a88ca"/><path d="M349.2 296.2l5.2 2.2-6.4 5.6-5.2-2.4z" fill="#2b83c7"/><path d="M344.3 300.3l5.2 2.3-6.3 6-5.2-2.5z" fill="#2d7ac1"/><path d="M339.5 304.7l5.2 2.4-6.3 6.2-5.2-2.3z" fill="#2f6fb9"/><path d="M334.6 309.6l5.2 2.3-6.3 5.7-5.2-2.1z" fill="#3068b5"/><path d="M329.8 314.1l5.3 2.2-6.6 3.9-5.3-2z" fill="#3066b3"/><path d="M325 317.2l5.2 1.9-6.7 3.3-5.2-1.8z" fill="#2f68b4"/><path d="M320.2 319.7l5.2 1.8-6.8 2.7-5.2-2.4z" fill="#2e70b9"/><path d="M315.3 321.3l5.2 2.2-7.1 2.1-4.9-4.4z" fill="#2b84c7"/><path d="M310.5 321.1l4.9 4-6.9 2.7-4.8-5.7z" fill="#2899d5"/><path d="M305.6 321.5l4.7 5.5-6.3 5.3-4.7-4.2z" fill="#279dd8"/><path d="M300.7 326.6l4.9 4.3-6.1 6.6-5-2.7z" fill="#2a8bcc"/><path d="M295.8 333.2l5.1 2.8-6.3 5.7-5.1-2.2z" fill="#2d7ac0"/><path d="M290.9 338.1l5.2 2.3-6.4 5.4-5.2-2.3z" fill="#2f71bb"/><path d="M286.1 342.2l5.2 2.3-5.2 4.2-5.2-2.3z" fill="#2f6cb8"/><path d="M429.9 223.7l5.2 2.6-6 6.2-5.2-2.6z" fill="#55b976"/><path d="M425.3 228.4l5.2 2.6-6.2 7.1-5.2-2.6z" fill="#4ab78b"/><path d="M420.5 233.9l5.2 2.6-6.2 6.9-5.2-2.4z" fill="#3db5a2"/><path d="M415.6 239.5l5.3 2.4-6.3 6.2-5.2-2z" fill="#35b4b3"/><path d="M410.8 244.7l5.3 2-6.5 5.1-5.2-1.7z" fill="#34b3b8"/><path d="M406 248.8l5.3 1.7-6.6 4.4-5.3-1.5z" fill="#34b2b9"/><path d="M401.1 252.2l5.3 1.5-6.5 4.8-5.3-1.3z" fill="#33b1b9"/><path d="M396.2 255.9l5.4 1.4-6.5 4.8-5.3-1.1z" fill="#33b0ba"/><path d="M391.4 259.7l5.3 1.2-6.4 5.1-5.3-.7z" fill="#32aebc"/><path d="M386.5 263.9l5.4.8-6.4 5.4-5.4 0z" fill="#30abbe"/><path d="M381.6 268.6l5.4.2-6.3 6.6-5.3.2z" fill="#2ea7c2"/><path d="M376.7 274.1l5.4-.2-6.1 7.8-5.4-.1z" fill="#28a1c8"/><path d="M371.9 280.1l5.4 0-6.2 8-5.4-.8z" fill="#2497cc"/><path d="M367.1 285.8l5.3.7-6.3 6.3-5.4-1.3z" fill="#288bc7"/><path d="M362.2 290.2l5.4 1.2-6.5 5.4-5.3-1.7z" fill="#2a86c6"/><path d="M357.4 293.9l5.3 1.6-6.5 5.2-5.3-1.8z" fill="#2b82c5"/><path d="M352.5 297.6l5.3 1.8-6.4 5.7-5.3-2z" fill="#2c7cc1"/><path d="M347.7 301.8l5.2 1.9-6.3 6-5.3-2z" fill="#2e73bb"/><path d="M342.8 306.3l5.3 2-6.4 6.1-5.2-1.9z" fill="#2f6ab5"/><path d="M338 311.1l5.2 1.9-6.3 5.5-5.3-1.7z" fill="#2f64b1"/><path d="M333.1 315.5l5.3 1.8-6.6 3.7-5.3-1.5z" fill="#2f62af"/><path d="M328.3 318.5l5.3 1.5-6.7 3.2-5.3-1.5z" fill="#2f65b1"/><path d="M323.5 320.9l5.3 1.5-6.8 2.9-5.3-1.9z" fill="#2e6bb5"/><path d="M318.6 322.7l5.3 1.8-6.9 3.3-5.2-3.4z" fill="#2d7ac0"/><path d="M313.8 323.8l5.1 3.1-6.8 3.8-5-4.4z" fill="#2b87ca"/><path d="M308.9 325.5l4.9 4.1-6.4 4.6-4.9-3.2z" fill="#2b8acc"/><path d="M304 329.6l5.1 3.4-6.3 5.7-5.1-2.2z" fill="#2c80c5"/><path d="M299.1 335l5.2 2.3-6.3 5.6-5.3-2z" fill="#2e73bb"/><path d="M294.3 339.6l5.2 2-6.4 5.4-5.3-2z" fill="#2f6cb7"/><path d="M289.4 343.7l5.3 2-5.2 4.2-5.3-2z" fill="#2f68b4"/><path d="M433.2 225.4l7.2 2.8-6 6.3-7.1-2.9z" fill="#4fb67f"/><path d="M428.7 230.1l7.1 2.9-6.2 6.8-7.1-2.6z" fill="#43b494"/><path d="M423.8 235.7l7.2 2.6-6.2 6.4-7.2-2.1z" fill="#38b1a8"/><path d="M419 241.1l7.2 2.1-6.3 5.6-7.2-1.4z" fill="#34afb1"/><path d="M414.1 246l7.3 1.5-6.5 4.7-7.2-1z" fill="#33adb4"/><path d="M409.3 250l7.3 1-6.6 4.2-7.3-.8z" fill="#32adb4"/><path d="M404.4 253.2l7.3.9-6.5 5-7.3-1z" fill="#32adb5"/><path d="M399.6 256.8l7.2 1.1-6.4 5.3-7.3-1.5z" fill="#32aeb8"/><path d="M394.7 260.5l7.3 1.4-6.5 5.5-7.2-1.7z" fill="#33b0bd"/><path d="M389.8 264.4l7.3 1.6-6.4 5.8-7.2-1.8z" fill="#32b0c2"/><path d="M385 268.6l7.2 1.8-6.3 6.7-7.2-1.7z" fill="#30aec9"/><path d="M380.1 273.8l7.2 1.8-6.1 7.6-7.3-1.6z" fill="#2aa7ce"/><path d="M375.2 280l7.3 1.6-6.2 7.8-7.2-1.6z" fill="#249acf"/><path d="M370.4 286.2l7.3 1.7-6.4 6.1-7.2-1.7z" fill="#278ac7"/><path d="M365.6 290.9l7.2 1.7-6.4 5.4-7.3-1.8z" fill="#2983c3"/><path d="M360.7 294.9l7.3 1.8-6.5 5.4-7.2-2z" fill="#2b7ec0"/><path d="M355.9 298.8l7.2 1.9-6.4 5.8-7.2-2.1z" fill="#2c77bc"/><path d="M351 303l7.2 2.1-6.3 6-7.3-2.1z" fill="#2e6eb6"/><path d="M346.1 307.6l7.3 2.1-6.4 6-7.2-2z" fill="#2f66b1"/><path d="M341.3 312.3l7.2 2-6.4 5.4-7.2-1.8z" fill="#2f61ad"/><path d="M336.5 316.7l7.2 1.7-6.6 3.6-7.3-1.5z" fill="#2f60ac"/><path d="M331.6 319.5l7.3 1.6-6.7 3.2-7.3-1.6z" fill="#2e63ae"/><path d="M326.8 321.8l7.2 1.6-6.7 3.1-7.2-1.8z" fill="#2e69b2"/><path d="M321.9 323.9l7.3 1.8-6.7 3.6-7.3-2.5z" fill="#2d72b9"/><path d="M317.1 325.9l7.2 2.4-6.7 4.2-7.2-3.1z" fill="#2d7ac1"/><path d="M312.2 328.4l7.1 3-6.5 4.5-7.1-2.7z" fill="#2d7dc3"/><path d="M307.3 331.9l7.2 2.8-6.4 5.6-7.1-2.3z" fill="#2e76be"/><path d="M302.5 336.6l7.1 2.3-6.4 5.6-7.1-2.3z" fill="#2f6cb6"/><path d="M297.6 340.9l7.2 2.3-6.4 5.4-7.2-2.3z" fill="#2f68b3"/><path d="M292.8 345l7.1 2.3-5.2 4.2-7.2-2.3z" fill="#2f64b1"/><path d="M438.5 227.5l7.4 2.4-5.9 6-7.5-2.1z" fill="#4ab486"/><path d="M433.9 232.3l7.5 2.2-6.3 6.2-7.4-1.6z" fill="#3fb197"/><path d="M429.1 237.6l7.5 1.7-6.4 5.6-7.4-.7z" fill="#35ada6"/><path d="M424.2 242.7l7.6.9-6.5 4.9-7.5 0z" fill="#32aaab"/><path d="M419.4 247.2l7.5.1-6.5 4.3-7.5.4z" fill="#31a8aa"/><path d="M414.5 250.8l7.6-.4-6.6 4.4-7.5.3z" fill="#31a7aa"/><path d="M409.7 253.9l7.5-.2-6.4 5.7-7.6-.5z" fill="#32a9ad"/><path d="M404.8 257.6l7.5.4-6.3 6.5-7.6-1.7z" fill="#32acb4"/><path d="M400 261.5l7.4 1.6-6.3 7-7.5-3.3z" fill="#32b0bf"/><path d="M395.1 265.5l7.4 3.1-6.4 7.1-7.3-4.5z" fill="#32b2cb"/><path d="M390.3 269.8l7.2 4.4-6.3 7.2-7.2-5z" fill="#2fb1d4"/><path d="M385.4 274.9l7.2 4.9-6.1 7.1-7.3-4.2z" fill="#28aada"/><path d="M380.5 281l7.3 4.4-6.1 6.5-7.3-3z" fill="#2799d2"/><path d="M375.7 287.3l7.4 3.2-6.4 5-7.4-1.9z" fill="#2988c7"/><path d="M370.8 292.1l7.5 2.1-6.5 4.8-7.4-1.5z" fill="#2a81c1"/><path d="M366 296.2l7.5 1.6-6.5 5.3-7.5-1.6z" fill="#2a7bbd"/><path d="M361.1 300.2l7.5 1.6-6.4 5.8-7.5-1.6z" fill="#2c74b9"/><path d="M356.2 304.6l7.5 1.6-6.3 6-7.5-1.6z" fill="#2d6ab2"/><path d="M351.4 309.2l7.5 1.6-6.4 5.8-7.5-1.4z" fill="#2e64ae"/><path d="M346.5 313.8l7.5 1.4-6.4 5.3-7.5-1.3z" fill="#2e5fab"/><path d="M341.7 318l7.5 1.3-6.6 3.5-7.5-1.2z" fill="#2e5faa"/><path d="M336.9 320.7l7.5 1.2-6.7 3.2-7.5-1.2z" fill="#2e63ac"/><path d="M332 323l7.5 1.2-6.7 3.3-7.5-1.4z" fill="#2d68b0"/><path d="M327.2 325.2l7.5 1.4-6.7 3.8-7.5-1.7z" fill="#2d6eb5"/><path d="M322.3 327.7l7.5 1.6-6.6 4.2-7.5-1.7z" fill="#2c73b8"/><path d="M317.4 330.7l7.5 1.7-6.5 4.5-7.5-1.7z" fill="#2c73b8"/><path d="M312.5 334l7.5 1.7-6.4 5.5-7.5-1.5z" fill="#2c6eb4"/><path d="M307.7 338.3l7.5 1.6-6.4 5.7-7.5-1.7z" fill="#2d67b0"/><path d="M302.8 342.6l7.5 1.6-6.4 5.7-7.5-1.9z" fill="#2e64ae"/><path d="M298 346.7l7.5 1.8-5.2 4.3-7.5-1.9z" fill="#2f61ad"/><path d="M434.6 238.9l7.5 1-6.4 4.8-7.5.1z" fill="#38ab9f"/><path d="M429.7 243.4l7.6.1-6.6 4.2-7.4.8z" fill="#34a7a0"/><path d="M424.9 247.3l7.5-.8-6.6 4-7.5 1.2z" fill="#33a49d"/><path d="M420 250.6l7.6-1.2-6.6 4.7-7.5.8z" fill="#33a49c"/><path d="M415.1 253.8l7.6-.9-6.3 6.4-7.7 0z" fill="#31a5a3"/><path d="M410.3 257.9l7.5-.1-6.2 7.5-7.6-1.2z" fill="#31a8ad"/><path d="M405.4 262.7l7.5 1-6.2 8.2-7.5-2.6z" fill="#31abbc"/><path d="M400.6 267.8l7.4 2.5-6.2 8.1-7.4-3.7z" fill="#30afcf"/><path d="M395.7 273.2l7.3 3.6-6.1 7.4-7.4-3.9z" fill="#29abd9"/><path d="M356.9 310.4l7.5 1.1-6.4 5.7-7.5-1z" fill="#2d64ad"/><path d="M352 314.9l7.6 1-6.5 5.1-7.5-.8z" fill="#2e5faa"/><path d="M347.2 319l7.6.8-6.7 3.5-7.5-.8z" fill="#2e60aa"/><path d="M342.4 321.6l7.5.8-6.7 3.3-7.5-.9z" fill="#2d64ac"/><path d="M337.5 323.9l7.5.9-6.6 3.5-7.6-1.2z" fill="#2d68b0"/><path d="M332.7 326.2l7.5 1.1-6.7 3.9-7.5-1.3z" fill="#2c6eb4"/><path d="M327.8 328.9l7.5 1.2-6.6 3.8-7.5-.8z" fill="#2b71b5"/><path d="M322.9 332l7.6.9-6.7 3.1-7.4.5z" fill="#2971b2"/><path d="M318 335.4l7.6-.3-6.6 4.4-7.4 1.5z" fill="#286caa"/><path d="M313.2 339.6l7.5-1.3-6.3 6.2-7.6.8z" fill="#2966a6"/><path d="M308.3 343.9l7.5-.8-6.2 7-7.7-.6z" fill="#2c62a8"/><path d="M303.5 348.1l7.5.5-5.2 5.1-7.5-1.4z" fill="#2e5faa"/><path d="M352.7 319.6l5.9.3-6.7 3.6-5.9-.4z" fill="#2d61aa"/><path d="M347.9 322.2l5.8.3-6.7 3.5-5.8-.5z" fill="#2d65ac"/><path d="M343 324.6l5.8.4-6.6 3.6-5.9-.6z" fill="#2c6bb1"/><path d="M338.1 327l5.9.6-6.7 3.8-5.8-.5z" fill="#2b70b4"/><path d="M333.3 329.8l5.8.6-6.7 3-5.7.3z" fill="#2a74b5"/><path d="M328.4 332.7l5.9-.1-6.9 1-5.6 2.7z" fill="#2575b0"/><path d="M323.6 335.3l5.7-2.2-6.9 2.9-5.3 4.1z" fill="#2172a5"/><path d="M318.7 338.8l5.5-3.8-6.2 6.9-5.6 3z" fill="#216b9f"/><path d="M313.8 343.5l5.6-3.1-5.9 8.9-6 .8z" fill="#2764a2"/><path d="M308.9 348.6l5.8-.9-5.1 6.2-5.8-.6z" fill="#2c5fa6"/><path d="M351.7 322.4l5.2.1-6.7 3.6-5.2-.3z" fill="#2c67ad"/><path d="M346.8 324.9l5.2.2-6.7 3.7-5.2-.4z" fill="#2b6eb2"/><path d="M341.9 327.4l5.2.4-6.6 3.7-5.2-.2z" fill="#2a73b5"/><path d="M337.1 330.3l5.2.3-6.8 2.2-5.1.7z" fill="#2878b7"/><path d="M332.3 332.7l5.2-.4-7.1-.7-4.9 2.8z" fill="#2381b6"/><path d="M327.4 333.9l5.1-2.4-7.1 1.7-4.6 4z" fill="#1e85b0"/><path d="M322.5 336.2l4.8-3.8-6.1 7.4-4.9 3.1z" fill="#1d7ea8"/><path d="M317.6 341.4l4.9-3.2-5.7 10.4-5.3 1.1z" fill="#236fa5"/><path d="M312.7 348l5.2-1.1-5.1 7-5.2-.2z" fill="#2a61a4"/><path d="M350 325l5.2 0-6.6 3.7-5.3 0z" fill="#2a71b3"/><path d="M345.1 327.7l5.3 0-6.7 3.8-5.2-.1z" fill="#2976b7"/><path d="M340.3 330.5l5.3.1-6.9 2.2-5.2.2z" fill="#277ebb"/><path d="M335.4 332.5l5.3-.2-6.9-1.2-5.3 1.3z" fill="#2390c3"/><path d="M330.6 332.3l5.2-1-6.9 1.1-5.1 1.9z" fill="#269abf"/><path d="M325.6 333.5l5.2-1.8-6.2 7.7-5.2 1.4z" fill="#2493b8"/><path d="M320.7 339.2l5.2-1.4-5.8 10.8-5.4.4z" fill="#227fb2"/><path d="M315.8 347.3l5.3-.5-5.1 7.2-5.3-.2z" fill="#2965a6"/><path d="M348.3 327.7l7.6-.6-6.6 4.2-7.6.2z" fill="#277cb8"/><path d="M343.5 330.6l7.5-.4-6.7 3.4-7.6-.8z" fill="#2685c0"/><path d="M338.7 332.3l7.5.5-7 1.4-7.4-2.9z" fill="#249cd0"/><path d="M333.8 331.4l7.4 2.4-6.8 3.2-7.4-4.3z" fill="#2babd4"/><path d="M328.8 332l7.3 4.1-6.1 6.9-7.3-3.3z" fill="#29a8d2"/><path d="M323.9 338l7.4 3.4-5.9 8.6-7.4-1.4z" fill="#248cc2"/><path d="M319.1 346.9l7.5 1.4-5.1 5.8-7.6-.2z" fill="#296cac"/><path d="M349 330.4l7-1.5-6.6 4.5-7.1.1z" fill="#238abe"/><path d="M344.2 332.7l7-.4-6.8 4.2-7.1-2.9z" fill="#239bce"/><path d="M339.3 333.2l6.9 2.3-6.7 5.4-6.9-4.9z" fill="#27a9da"/><path d="M334.4 335l6.7 4.6-6.2 6.1-6.8-3.6z" fill="#25a8dd"/><path d="M329.4 340.5l6.9 3.7-6 6.2-6.9-.8z" fill="#278cc7"/><path d="M324.6 348l7.1.9-5.2 4.3-7.1.9z" fill="#2873b2"/><path d="M358.9 326.1l4.3-2-6.5 4.6-4.4 1.8z" fill="#1f8ab5"/><path d="M349.2 332.5l4.4-1.4-6.5 4.7-4.6.2z" fill="#2194c1"/><path d="M344.2 335l4.6-.4-6.4 6.1-4.6-.7z" fill="#239dce"/><path d="M339.3 338.7l4.6.6-6.4 5.8-4.5-.2z" fill="#2498cd"/><path d="M334.5 343.5l4.5.2-6.3 5.6-4.5.9z" fill="#2587bf"/><path d="M329.7 348.8l4.5-.9-5.3 4.2-4.4 1.5z" fill="#2576af"/><path d="M356.5 328.4l3.9-2.2-6.5 4.8-3.9 2z" fill="#2188ab"/><path d="M341.9 339.2l4.1-1-6.4 5.7-4.1 1.2z" fill="#2190bf"/><path d="M337 343.7l4.1-1.1-6.4 5.4-4 1.8z" fill="#2184b5"/><path d="M332.2 348.4l4-1.7-5.2 4.1-4 2z" fill="#2178aa"/><path d="M358.7 327.2l3.7-2.7-6.4 4.9-3.9 2.6z" fill="#24849e"/><path d="M353.8 330.8l3.8-2.6-6.5 4.8-3.8 2.4z" fill="#2486a1"/><path d="M348.9 334.2l3.8-2.5-6.2 6.4-4 2.1z" fill="#2288a7"/><path d="M344 338.8l3.9-2.2-6.3 5.8-3.9 2.2z" fill="#2087ac"/><path d="M339.2 343.2l3.9-2.2-6.5 5.4-3.8 2.5z" fill="#1d83ac"/><path d="M334.4 347.6l3.8-2.5-5.2 4.1-3.9 2.6z" fill="#1d7ca6"/><path d="M360.8 325.7l3.9-3.5-6.5 4.9-3.9 3.5z" fill="#247e8d"/><path d="M355.9 329.4l3.9-3.5-6.5 4.8-3.9 3.4z" fill="#247e8f"/><path d="M351 332.9l3.9-3.4-6.2 6.4-4 3.2z" fill="#238094"/><path d="M346.2 337.7l3.9-3.2-6.4 5.7-3.9 3.3z" fill="#22809a"/><path d="M336.5 346.3l3.9-3.4-5.2 4.1-3.9 3.4z" fill="#1e7b9b"/><path d="M363.2 323.6l3.9-4.2-6.5 4.9-3.9 4.2z" fill="#23787b"/><path d="M358.3 327.3l3.9-4.2-6.5 4.7-3.9 4.3z" fill="#23777b"/><path d="M353.4 330.9l3.9-4.3-6.3 6.5-3.9 4.2z" fill="#23787f"/><path d="M348.6 335.8l3.9-4.1-6.4 5.6-3.9 4.2z" fill="#227885"/><path d="M343.7 340.2l3.9-4.2-6.4 5.4-3.9 4.2z" fill="#217788"/><path d="M338.9 344.3l3.9-4.2-5.2 4.1-3.9 4.2z" fill="#21778a"/><path d="M365.7 320.9l3.5-4.5-6.5 4.9-3.5 4.5z" fill="#297364"/><path d="M360.8 324.6l3.6-4.5-6.6 4.7-3.5 4.6z" fill="#277265"/><path d="M355.9 328.1l3.5-4.6-6.2 6.7-3.5 4.5z" fill="#24726c"/><path d="M351.1 333.2l3.5-4.5-6.4 5.6-3.5 4.6z" fill="#227272"/><path d="M346.3 337.5l3.5-4.5-6.5 5.3-3.5 4.6z" fill="#217175"/><path d="M341.4 341.6l3.5-4.6-5.2 4.2-3.5 4.5z" fill="#217177"/><path d="M363.1 321.7l3.4-4.7-6.6 4.5-3.3 4.9z" fill="#32704a"/><path d="M358.2 325.2l3.3-4.9-6.2 6.7-3.3 4.8z" fill="#2f6f51"/><path d="M353.4 330.3l3.3-4.8-6.4 5.5-3.3 4.9z" fill="#2a6f5a"/><path d="M348.5 334.6l3.3-4.9-6.4 5.4-3.3 4.9z" fill="#276e5f"/><path d="M343.7 338.7l3.3-5-5.2 4.2-3.3 4.9z" fill="#246d63"/><path d="M360.4 322l3-4.9-6.2 6.7-3.1 4.9z" fill="#3c6e3a"/><path d="M355.6 327.2l3-4.8-6.4 5.4-3 5z" fill="#356d40"/><path d="M350.7 331.4l3.1-4.9-6.5 5.2-3 5.1z" fill="#326c45"/><path d="M345.9 335.5l3-5.1-5.2 4.2-3 5z" fill="#2f6b48"/><path d="M362.4 318.8l2.8-4.9-6.2 6.8-2.9 4.9z" fill="#50702e"/><path d="M357.5 324.1l2.9-4.9-6.4 5.3-2.9 5z" fill="#486e32"/><path d="M352.7 328.2l2.8-5-6.4 5.2-2.8 5.1z" fill="#436c34"/><path d="M347.9 332.2l2.8-5-5.2 4.2-2.9 5z" fill="#3f6c36"/><path d="M364.2 315.7l2.6-4.8-6.2 6.8-2.6 4.8z" fill="#657425"/><path d="M359.4 321l2.6-4.8-6.4 5.2-2.6 4.9z" fill="#5c7027"/><path d="M354.5 325l2.7-4.9-6.5 5.2-2.6 4.9z" fill="#576f29"/><path d="M349.7 328.9l2.6-4.9-5.2 4.2-2.6 5z" fill="#536e2a"/><path d="M361.1 318l2.4-4.7-6.5 5.1-2.4 4.8z" fill="#707622"/><path d="M356.2 321.9l2.4-4.8-6.4 5.1-2.5 4.9z" fill="#6c7422"/><path d="M351.3 325.8l2.5-4.8-5.2 4.2-2.5 4.8z" fill="#687223"/><path d="M362.6 315.2l2.3-4.7-6.5 4.9-2.3 4.8z" fill="#827a1e"/><path d="M357.7 318.9l2.4-4.7-6.5 5.1-2.3 4.8z" fill="#817b1e"/><path d="M352.9 322.8l2.3-4.8-5.2 4.3-2.3 4.7z" fill="#7d7a1f"/><path d="M359.2 316l2.3-4.8-6.5 5.1-2.3 4.8z" fill="#826c1c"/><path d="M354.3 319.8l2.3-4.8-5.2 4.4-2.3 4.7z" fill="#826f1d"/><path d="M360.6 313.1l2.2-4.5-6.4 5.1-2.3 4.5z" fill="#835e1b"/><path d="M355.7 316.9l2.3-4.5-5.2 4.4-2.3 4.4z" fill="#83611c"/><path d="M361.9 310.4l2-3.9-6.4 5.1-2.1 3.9z" fill="#82521a"/><path d="M357 314.2l2.1-3.9-5.2 4.5-2.1 3.9z" fill="#83551a"/><path d="M358.1 312.1l1.9-3.8-5.1 4.5-2 3.8z" fill="#804a19"/><path d="M359.1 310.1l1.9-4-5.2 4.5-1.9 4z" fill="#7b3f18"/><path d="M365 304.3l1.8-4.4-6.5 4.9-1.7 4.5z" fill="#893b1a"/><path d="M360.2 308l1.7-4.5-5.2 4.4-1.7 4.6z" fill="#96431d"/><path d="M385.5 287.7l1.7-4.3-6.6 3.9-1.7 4.5z" fill="#802c18"/><path d="M380.6 290.8l1.8-4.5-6.8 2.7-1.7 4.9z" fill="#8a2e1a"/><path d="M375.7 292.9l1.7-4.8-6.3 6.9-1.6 5z" fill="#96331d"/><path d="M370.9 298.5l1.6-5-5.7 7-2.6 2.4z" fill="#a93f20"/><path d="M365.9 301.7l2.3-2.7-6 9.3-2.9-2.3z" fill="#da572a"/><path d="M361 304.7l2.5 2.1-5.8 6.8-1.7-4.6z" fill="#e7642c"/><path d="M405.9 272.5l1.8-4.4-6.6 4.7-1.7 4.6z" fill="#792517"/><path d="M401 276.1l1.7-4.5-6.3 6-1.7 4.7z" fill="#842b19"/><path d="M396.2 281l1.8-4.6-6.9 1.4-1.7 5z" fill="#902e1b"/><path d="M391.3 282.2l1.7-5-6.4 5.1-1.9 4.1z" fill="#9e2f1e"/><path d="M386.5 285.3l1.7-4.3-5.4 7.4-3.2.5z" fill="#bf3a24"/><path d="M381.4 287.9l2.9-.9-7.2 7.1-2.3-3.9z" fill="#e6462c"/><path d="M376.6 289.2l2 3.5-6.4 9.2-1.7-5.8z" fill="#da4929"/><path d="M371.9 294.6l1.5 5.7-6.2 6.5-1.6-5.5z" fill="#d45228"/><path d="M367 299.8l1.6 5.5-6.2 6.8-1.6-5.2z" fill="#d05928"/><path d="M362.1 305.3l1.7 5.2-5.2 6.1-1.6-5z" fill="#cc6327"/><path d="M421.5 256.9l1.7-4.7-6.8 2.8-1.6 5z" fill="#701715"/><path d="M416.5 259l1.7-5-6.2 7.6-1.6 5.1z" fill="#7d1b17"/><path d="M411.7 265.1l1.7-5-6.4 6.1-1.6 5.2z" fill="#93251b"/><path d="M406.9 270l1.6-5.3-5.8 7.1-2.4 2.9z" fill="#a62d1f"/><path d="M401.9 273.5l2.1-3.3-5.6 10.5-3-1.8z" fill="#d53f28"/><path d="M397 277.7l2.7 1.5-7.4 4.8-1.9-5.1z" fill="#e3452b"/><path d="M392.3 278.3l1.7 4.6-6.4 6.4-1.7-6z" fill="#d44028"/><path d="M387.5 282l1.5 5.8-6.3 6.2-1.5-5.6z" fill="#ce4227"/><path d="M382.6 287l1.6 5.6-6.4 5.1-1.6-5.4z" fill="#c74526"/><path d="M377.7 290.9l1.6 5.5-6 8.7-1.6-5.1z" fill="#c44d25"/><path d="M372.9 298.3l1.6 5.2-6.3 6.2-1.6-4.9z" fill="#c25925"/><path d="M368 303.3l1.7 5-6.3 6.6-1.7-4.8z" fill="#c56326"/><path d="M363.1 308.6l1.7 4.8-5.1 5.8-1.7-4.6z" fill="#c97127"/><path d="M432.2 244.8l1.5-4.6-6.5 5.3-1.4 4.8z" fill="#6a1214"/><path d="M427.3 248.9l1.4-4.8-6.3 6.4-1.4 5z" fill="#7c1517"/><path d="M422.6 254.1l1.3-5-6.1 4.9-2.1 2.9z" fill="#91191b"/><path d="M417.5 255.9l1.8-3.2-5.6 12.6-2.5-2.5z" fill="#c92525"/><path d="M412.6 261.3l2.2 2.3-6.8 8.9-1.6-5.2z" fill="#d43327"/><path d="M407.9 265.8l1.4 5-6.3 7-1.4-5.1z" fill="#ca3726"/><path d="M403 271.1l1.4 5.1-6.1 8.1-1.4-4.8z" fill="#c83e26"/><path d="M398.2 278l1.5 4.8-6.6 4.1-1.5-4.8z" fill="#c44325"/><path d="M393.3 280.9l1.4 4.8-6.2 6.3-1.5-4.7z" fill="#c04524"/><path d="M388.5 285.9l1.4 4.6-6.3 6.1-1.5-4.6z" fill="#bf4a24"/><path d="M383.6 290.6l1.5 4.6-6.5 5.1-1.4-4.5z" fill="#c04f25"/><path d="M378.7 294.4l1.5 4.5-6.1 8.6-1.4-4.4z" fill="#c35925"/><path d="M373.9 301.5l1.5 4.4-6.3 6.2-1.5-4.3z" fill="#c76826"/><path d="M369 306.3l1.5 4.3-6.2 6.5-1.6-4.2z" fill="#c97327"/><path d="M364.1 311.4l1.6 4.2-5.1 5.8-1.6-4.1z" fill="#cc8129"/><path d="M447.7 233.5l1.4-4.7-7-.3-1.3 5z" fill="#591013"/><path d="M442.7 233.2l1.3-4.9-6.2 6.4-1.3 5.1z" fill="#5d1014"/><path d="M437.9 238.4l1.3-5.1-6.2 6.3-1.6 3.9z" fill="#6e1316"/><path d="M433 242.2l1.4-4.1-5.1 10.1-3-1.4z" fill="#9b1b1f"/><path d="M427.9 245.5l2.6 1.1-7 9.8-1.6-4.8z" fill="#c72226"/><path d="M423.3 250.2l1.4 4.6-6.5 5.5-1.3-5.3z" fill="#c02123"/><path d="M418.4 253.6l1.3 5.3-5.9 9.7-1.3-4.9z" fill="#bf2823"/><path d="M413.5 262l1.4 4.9-6.1 8.3-1.3-4.7z" fill="#be3424"/><path d="M408.7 268.9l1.4 4.6-6.2 6.8-1.4-4.5z" fill="#bc3b24"/><path d="M403.8 274.3l1.4 4.5-6.1 7.9-1.4-4.3z" fill="#be4624"/><path d="M399.1 280.9l1.4 4.3-6.6 4.1-1.4-4.4z" fill="#c14c25"/><path d="M394.2 283.8l1.4 4.3-6.3 6.2-1.5-4.3z" fill="#c14f25"/><path d="M389.3 288.6l1.4 4.3-6.3 6-1.4-4.3z" fill="#c35625"/><path d="M384.5 293.2l1.4 4.3-6.5 5.2-1.4-4.3z" fill="#c45b25"/><path d="M379.5 297l1.5 4.3-6.1 8.4-1.4-4.1z" fill="#c66626"/><path d="M374.7 303.9l1.5 4.2-6.3 6.2-1.5-4.2z" fill="#c97628"/><path d="M369.9 308.7l1.4 4.1-6.2 6.5-1.5-4.1z" fill="#cb8129"/><path d="M365 313.7l1.5 4.1-5.2 5.7-1.5-4z" fill="#ce902b"/><path d="M472.7 218.3l1.4-4.4-6.6 3.9-1.4 4.7z" fill="#5d1012"/><path d="M467.8 221.3l1.3-4.7-6.2 7-1.3 4.8z" fill="#661213"/><path d="M463.1 227.1l1.3-4.7-6.9.6-1.3 5.1z" fill="#6d1315"/><path d="M458.2 227.8l1.3-5.1-6.8 2-1.3 5z" fill="#6c1316"/><path d="M453.3 229.1l1.3-5.1-6 4.8-2.2 2.4z" fill="#741418"/><path d="M448.4 230.7l1.9-2.9-6.6 4.8-2.3-2.9z" fill="#981b20"/><path d="M443.3 229.5l2.2 2.2-6.7 9-1.6-4.8z" fill="#9e1c21"/><path d="M438.7 234.4l1.3 4.6-6.3 7.1-1.3-5.5z" fill="#a01c21"/><path d="M433.8 239.1l1.2 5.5-6.1 7.7-1.2-5.1z" fill="#a91d21"/><path d="M428.9 245.5l1.3 5.2-6 8.6-1.3-4.9z" fill="#b51f21"/><path d="M424.1 252.8l1.4 4.9-6.5 5.4-1.3-4.8z" fill="#b32521"/><path d="M419.2 256.9l1.3 4.8-5.9 9.5-1.4-4.6z" fill="#b62e22"/><path d="M414.3 264.9l1.4 4.6-6.1 8.1-1.4-4.4z" fill="#bc3a24"/><path d="M409.5 271.6l1.4 4.4-6.2 6.7-1.4-4.3z" fill="#bf4524"/><path d="M404.6 276.8l1.4 4.4-6.1 7.9-1.4-4.3z" fill="#c25125"/><path d="M399.9 283.3l1.4 4.3-6.6 4.1-1.4-4.4z" fill="#c45825"/><path d="M394.9 286.2l1.5 4.3-6.3 6.2-1.5-4.3z" fill="#c45a25"/><path d="M390.1 291l1.4 4.3-6.3 6-1.5-4.3z" fill="#c56226"/><path d="M385.3 295.6l1.4 4.3-6.5 5.2-1.4-4.4z" fill="#c56726"/><path d="M380.3 299.4l1.5 4.3-6.1 8.3-1.4-4.2z" fill="#c77327"/><path d="M375.5 306.2l1.5 4.2-6.4 6.1-1.4-4.2z" fill="#ca8429"/><path d="M370.6 310.9l1.5 4.2-6.3 6.3-1.4-4.1z" fill="#cc902a"/><path d="M365.8 315.8l1.5 4.2-5.2 5.7-1.5-4.1z" fill="#ce9f2c"/><path d="M488.1 208l1.4-4.5-6.9-1.6-1.3 4.8z" fill="#550f12"/><path d="M483.2 206.7l1.3-4.7-6.4 5.9-1.3 4.8z" fill="#550f12"/><path d="M478.3 211.3l1.3-4.8-6.4 5.6-1.2 5z" fill="#621114"/><path d="M473.5 215.8l1.3-5.1-6.3 5.4-1.7 3.6z" fill="#6f1317"/><path d="M468.5 218.6l1.5-3.9-5 10.6-3-.1z" fill="#981a1e"/><path d="M463.5 223.9l2.8-.1-7.7 4.6-1.7-4.3z" fill="#c02126"/><path d="M458.9 223.9l1.5 3.6-6.8 4.2-1.4-5.9z" fill="#a61d22"/><path d="M454.1 225.1l1.2 5.5-6.5 4.4-1.2-5.3z" fill="#9c1b20"/><path d="M449.3 228.6l1.2 5.3-6.8 2.3-1.2-5.2z" fill="#91191e"/><path d="M444.3 230.1l1.2 5.3-6 8.3-1.3-5z" fill="#931a1e"/><path d="M439.4 237.1l1.3 5-6.2 6.9-1.3-4.9z" fill="#9f1c1f"/><path d="M434.6 242.6l1.3 4.8-6.2 7.6-1.3-4.7z" fill="#ab1e20"/><path d="M429.7 248.7l1.3 4.7-6 8.5-1.4-4.5z" fill="#b32721"/><path d="M424.9 255.7l1.4 4.6-6.5 5.3-1.3-4.5z" fill="#b72e22"/><path d="M419.9 259.7l1.4 4.5-5.9 9.4-1.4-4.4z" fill="#ba3623"/><path d="M415.1 267.5l1.4 4.4-6.1 8.1-1.4-4.3z" fill="#bf4424"/><path d="M410.3 274.1l1.4 4.3-6.3 6.6-1.4-4.2z" fill="#c25025"/><path d="M405.4 279.3l1.4 4.2-6.1 7.8-1.4-4.2z" fill="#c45c25"/><path d="M400.6 285.6l1.5 4.2-6.6 4.2-1.4-4.3z" fill="#c56326"/><path d="M395.7 288.6l1.4 4.2-6.3 6.2-1.4-4.2z" fill="#c56626"/><path d="M390.9 293.3l1.4 4.3-6.3 6-1.5-4.3z" fill="#c66e26"/><path d="M386.1 298l1.4 4.3-6.5 5.1-1.4-4.3z" fill="#c67427"/><path d="M381.1 301.7l1.4 4.4-6 8.2-1.5-4.2z" fill="#c88228"/><path d="M376.3 308.5l1.4 4.2-6.3 6.1-1.4-4.2z" fill="#cb942b"/><path d="M371.4 313.1l1.5 4.2-6.3 6.4-1.5-4.2z" fill="#cc9f2c"/><path d="M366.6 318l1.4 4.2-5.1 5.6-1.5-4z" fill="#ccad2d"/><path d="M503.4 200l1.3-4.8-6.6 4.2-1.3 4.9z" fill="#641113"/><path d="M498.6 203.2l1.3-4.8-6.7 3-1.3 5z" fill="#6a1214"/><path d="M493.8 205.8l1.3-5.1-6.9-.1-1.3 4.7z" fill="#6c1316"/><path d="M488.9 205.5l1.3-4.9-6.2 1.4-2.1 1.8z" fill="#6f1318"/><path d="M483.8 203.9l2-2.5-6.2 10.6-2.2-3z" fill="#951a20"/><path d="M478.9 207.6l2 2.7-6.7 8.1-1.5-5.2z" fill="#9f1c21"/><path d="M474.3 211.9l1.2 4.9-6.4 6-1.3-5.6z" fill="#9d1b20"/><path d="M469.3 215.8l1.2 5.5-6 8.8-1.2-5.2z" fill="#a81d20"/><path d="M464.6 223.3l1.3 5.3-6.8 3-1.2-5.1z" fill="#ab1e20"/><path d="M459.7 225.6l1.3 5.1-6.6 3.9-1.3-4.9z" fill="#a31c1f"/><path d="M454.9 228.6l1.2 5-6.5 4.2-1.3-4.8z" fill="#9e1b1e"/><path d="M450 231.9l1.3 4.9-6.7 2.3-1.3-4.8z" fill="#9a1b1e"/><path d="M445 233.4l1.3 4.8-6 8.2-1.3-4.7z" fill="#9f1c1e"/><path d="M440.2 240.1l1.3 4.7-6.2 6.8-1.3-4.6z" fill="#ae1e20"/><path d="M435.3 245.4l1.4 4.7-6.2 7.5-1.3-4.6z" fill="#b32521"/><path d="M430.4 251.4l1.4 4.6-6 8.4-1.4-4.5z" fill="#b82f22"/><path d="M425.7 258.3l1.3 4.5-6.4 5.3-1.4-4.4z" fill="#bb3523"/><path d="M420.7 262.3l1.4 4.4-6 9.3-1.3-4.3z" fill="#bd3e24"/><path d="M415.9 269.9l1.4 4.4-6.1 8-1.4-4.3z" fill="#c14e25"/><path d="M411.1 276.4l1.4 4.3-6.3 6.7-1.4-4.3z" fill="#c35a25"/><path d="M406.2 281.6l1.4 4.3-6.1 7.7-1.5-4.2z" fill="#c56826"/><path d="M401.4 287.9l1.4 4.2-6.6 4.3-1.4-4.4z" fill="#c67027"/><path d="M396.5 290.9l1.4 4.3-6.3 6.2-1.4-4.3z" fill="#c67327"/><path d="M391.7 295.7l1.4 4.3-6.4 6.1-1.4-4.4z" fill="#c77d28"/><path d="M386.8 300.3l1.4 4.4-6.4 5.2-1.4-4.4z" fill="#c78328"/><path d="M381.9 304.1l1.4 4.4-6.1 8.2-1.4-4.3z" fill="#c9912a"/><path d="M377.1 310.8l1.4 4.3-6.3 6-1.5-4.3z" fill="#caa32c"/><path d="M372.2 315.4l1.4 4.3-6.3 6.2-1.4-4.2z" fill="#caae2d"/><path d="M367.3 320.3l1.5 4.2-5.2 5.6-1.4-4.2z" fill="#cbbb2e"/><path d="M508.7 193.5l1.2-5.4-5.7 6.6-1.7 3.7z" fill="#681215"/><path d="M504.1 197.2l1.5-4-5.3 7.8-3 0z" fill="#91191d"/><path d="M499 200l2.8-.5-7.4 7.1-1.8-4.1z" fill="#bf2125"/><path d="M494.5 201.9l1.5 3.5-7 2.3-1.3-6z" fill="#a61d22"/><path d="M489.7 201.7l1.2 5.5-6.9 1.1-1.2-5.5z" fill="#8e191e"/><path d="M484.7 202.1l1.2 5.5-6.1 7.9-1.2-5.3z" fill="#8a181d"/><path d="M479.8 208.6l1.3 5.3-6.2 7.6-1.2-5.1z" fill="#971a1e"/><path d="M475 214.8l1.3 5.2-6.4 5.8-1.2-5z" fill="#9f1c1e"/><path d="M470.1 219.3l1.3 5.1-6.1 8.5-1.2-4.8z" fill="#ab1e1f"/><path d="M465.4 226.6l1.3 4.8-6.7 2.9-1.4-4.7z" fill="#b02120"/><path d="M460.5 228.7l1.3 4.8-6.6 3.9-1.3-4.7z" fill="#af1e20"/><path d="M455.6 231.6l1.3 4.7-6.5 4.2-1.4-4.7z" fill="#ae1e20"/><path d="M450.8 234.8l1.3 4.7-6.8 2.4-1.3-4.8z" fill="#aa1d20"/><path d="M445.8 236.3l1.3 4.7-6 8.1-1.4-4.7z" fill="#ae1e20"/><path d="M441 242.8l1.3 4.6-6.2 6.8-1.4-4.6z" fill="#b42521"/><path d="M436.1 248.1l1.4 4.6-6.2 7.4-1.4-4.5z" fill="#b72d22"/><path d="M431.2 254l1.4 4.5-6.1 8.4-1.3-4.5z" fill="#ba3623"/><path d="M426.4 260.8l1.4 4.5-6.4 5.4-1.4-4.5z" fill="#bd3d24"/><path d="M421.5 264.8l1.4 4.5-6 9.2-1.4-4.4z" fill="#be4724"/><path d="M416.7 272.4l1.3 4.4-6.1 7.9-1.3-4.3z" fill="#c15925"/><path d="M411.8 278.8l1.4 4.3-6.2 6.7-1.4-4.4z" fill="#c46626"/><path d="M406.9 283.9l1.4 4.4-6.1 7.7-1.4-4.3z" fill="#c67527"/><path d="M402.2 290.2l1.4 4.3-6.6 4.4-1.4-4.5z" fill="#c77e28"/><path d="M397.3 293.2l1.4 4.5-6.4 6.2-1.3-4.4z" fill="#c78228"/><path d="M392.4 298l1.4 4.5-6.3 6.1-1.4-4.5z" fill="#c88c29"/><path d="M387.6 302.7l1.4 4.5-6.5 5.2-1.3-4.5z" fill="#c8942a"/><path d="M382.7 306.6l1.3 4.5-6 8-1.4-4.4z" fill="#c8a12b"/><path d="M377.9 313.1l1.4 4.4-6.4 6-1.4-4.4z" fill="#c9b22d"/><path d="M373 317.7l1.4 4.4-6.3 6.2-1.4-4.3z" fill="#c9bd2e"/><path d="M368.1 322.5l1.4 4.3-5.1 5.5-1.4-4.2z" fill="#baba31"/><path d="M509.4 189.3l1.4 4.7-6 7.1-1.3-5.3z" fill="#a61d21"/><path d="M504.9 194.3l1.3 5.2-6.3 6.2-1.3-5z" fill="#ab1e21"/><path d="M500.1 199.3l1.3 5-6.5 5.2-1.3-4.8z" fill="#ad1e21"/><path d="M495.3 203.5l1.3 4.9-6.8 2.3-1.3-5z" fill="#a31c1f"/><path d="M490.5 205.2l1.2 4.9-6.8 1.3-1.3-5.1z" fill="#931a1d"/><path d="M485.4 205.6l1.3 5.1-6.1 7.9-1.3-5z" fill="#941a1d"/><path d="M480.6 211.9l1.3 5-6.2 7.6-1.3-4.9z" fill="#a41c1f"/><path d="M475.8 218l1.3 4.9-6.4 5.8-1.3-4.9z" fill="#ae1e20"/><path d="M470.8 222.4l1.4 4.8-6.1 8.4-1.3-4.7z" fill="#b22621"/><path d="M466.1 229.4l1.4 4.7-6.8 2.9-1.3-4.6z" fill="#b52a21"/><path d="M461.3 231.5l1.3 4.7-6.6 3.8-1.4-4.6z" fill="#b42721"/><path d="M456.4 234.3l1.3 4.7-6.6 4.2-1.3-4.7z" fill="#b42621"/><path d="M451.6 237.5l1.3 4.7-6.8 2.4-1.3-4.7z" fill="#b22321"/><path d="M446.6 239l1.3 4.7-6.1 8-1.3-4.6z" fill="#b32521"/><path d="M441.7 245.5l1.4 4.6-6.3 6.8-1.3-4.6z" fill="#b62d22"/><path d="M436.9 250.7l1.3 4.6-6.1 7.5-1.4-4.6z" fill="#b93423"/><path d="M432 256.6l1.3 4.6-6 8.3-1.4-4.6z" fill="#bc3e24"/><path d="M427.2 263.4l1.4 4.5-6.5 5.4-1.3-4.6z" fill="#bd4724"/><path d="M422.3 267.3l1.3 4.6-6 9.1-1.3-4.5z" fill="#bf5224"/><path d="M417.4 274.8l1.4 4.5-6.1 7.9-1.4-4.4z" fill="#c26525"/><path d="M412.6 281.2l1.4 4.5-6.3 6.6-1.4-4.4z" fill="#c57427"/><path d="M407.7 286.3l1.4 4.5-6.1 7.7-1.4-4.5z" fill="#c78428"/><path d="M403 292.5l1.3 4.4-6.5 4.5-1.4-4.5z" fill="#c88e2a"/><path d="M398.1 295.7l1.3 4.5-6.3 6.3-1.4-4.5z" fill="#c8932a"/><path d="M393.2 300.5l1.4 4.5-6.4 6.1-1.3-4.5z" fill="#c89d2b"/><path d="M388.4 305.2l1.3 4.5-6.4 5.3-1.4-4.5z" fill="#c7a42b"/><path d="M383.4 309.1l1.4 4.6-6.1 7.9-1.4-4.4z" fill="#c7b22d"/><path d="M378.6 315.6l1.4 4.4-6.3 5.9-1.4-4.4z" fill="#c1bb2f"/><path d="M373.8 320.1l1.4 4.4-6.4 6.1-1.4-4.3z" fill="#b4b732"/><path d="M368.9 324.9l1.4 4.3-5.1 5.4-1.5-4.2z" fill="#a3b135"/><path d="M510.2 192l1.3 5.1-5.9 6.8-1.3-4.8z" fill="#a21c1f"/><path d="M505.7 197.5l1.3 4.9-6.3 5.9-1.4-4.6z" fill="#ad1e20"/><path d="M500.8 202.3l1.4 4.6-6.5 5.1-1.3-4.4z" fill="#b22020"/><path d="M496.1 206.4l1.3 4.5-6.8 2.6-1.3-4.8z" fill="#b01e20"/><path d="M491.2 208.1l1.3 4.7-6.8 1.6-1.3-5z" fill="#a41c1f"/><path d="M486.2 208.8l1.3 4.9-6.1 7.8-1.3-4.9z" fill="#a51d1f"/><path d="M481.4 215l1.3 4.9-6.2 7.4-1.3-4.8z" fill="#b02120"/><path d="M476.5 220.9l1.4 4.9-6.4 5.7-1.3-4.8z" fill="#b22721"/><path d="M471.6 225.3l1.3 4.8-6 8.1-1.3-4.6z" fill="#b62e22"/><path d="M466.9 232.1l1.3 4.7-6.7 2.9-1.3-4.6z" fill="#b83122"/><path d="M462 234.2l1.4 4.7-6.7 3.8-1.3-4.6z" fill="#b72f22"/><path d="M457.2 237l1.3 4.7-6.6 4.2-1.3-4.7z" fill="#b62e22"/><path d="M452.4 240.2l1.3 4.7-6.8 2.5-1.3-4.8z" fill="#b52b22"/><path d="M447.4 241.7l1.3 4.8-6.1 8-1.4-4.8z" fill="#b52d22"/><path d="M442.5 248.1l1.4 4.8-6.3 6.7-1.3-4.7z" fill="#b83523"/><path d="M437.6 253.4l1.4 4.7-6.2 7.4-1.3-4.7z" fill="#bb3c23"/><path d="M432.8 259.2l1.3 4.7-6.1 8.2-1.3-4.6z" fill="#bd4824"/><path d="M428 265.9l1.3 4.7-6.4 5.5-1.3-4.7z" fill="#be5224"/><path d="M423 270l1.4 4.6-6 9.1-1.3-4.6z" fill="#c05e25"/><path d="M418.2 277.4l1.4 4.6-6.1 7.8-1.4-4.5z" fill="#c37326"/><path d="M413.4 283.7l1.3 4.5-6.2 6.7-1.4-4.5z" fill="#c58428"/><path d="M408.5 288.8l1.4 4.6-6.2 7.6-1.3-4.5z" fill="#c8952a"/><path d="M403.7 295l1.4 4.5-6.6 4.5-1.3-4.6z" fill="#c79f2b"/><path d="M398.8 298.2l1.4 4.6-6.3 6.3-1.4-4.6z" fill="#c7a42b"/><path d="M394 303.1l1.3 4.5-6.3 6.1-1.4-4.5z" fill="#c6ae2c"/><path d="M389.1 307.8l1.4 4.5-6.4 5.4-1.4-4.6z" fill="#c6b52d"/><path d="M384.2 311.7l1.4 4.6-6.1 7.8-1.4-4.5z" fill="#bcb92f"/><path d="M379.4 318l1.4 4.5-6.4 5.8-1.4-4.4z" fill="#a8b234"/><path d="M374.5 322.5l1.4 4.5-6.3 6-1.4-4.3z" fill="#9cae36"/><path d="M369.7 327.2l1.4 4.4-5.2 5.4-1.4-4.3z" fill="#8da939"/><path d="M511 195.1l1.3 5.1-5.9 6.4-1.3-4.7z" fill="#af1f20"/><path d="M506.4 200.4l1.4 4.7-6.4 5.7-1.3-4.4z" fill="#b42521"/><path d="M501.6 205l1.4 4.4-6.5 5-1.4-4.3z" fill="#b72822"/><path d="M496.8 208.9l1.4 4.3-6.8 3.1-1.3-4.7z" fill="#b52621"/><path d="M492 210.9l1.3 4.6-6.8 1.9-1.4-5z" fill="#b02020"/><path d="M487 211.7l1.3 4.9-6.1 7.8-1.3-4.9z" fill="#b02120"/><path d="M482.1 217.9l1.3 4.9-6.1 7.4-1.3-4.9z" fill="#b32a21"/><path d="M477.3 223.8l1.3 4.9-6.4 5.7-1.3-4.9z" fill="#b52f22"/><path d="M472.4 228.1l1.3 4.9-6.1 8-1.3-4.7z" fill="#b83623"/><path d="M467.7 234.8l1.3 4.8-6.7 2.9-1.4-4.7z" fill="#ba3923"/><path d="M462.8 236.9l1.3 4.8-6.6 3.8-1.3-4.7z" fill="#b93623"/><path d="M457.9 239.7l1.4 4.8-6.6 4.2-1.3-4.8z" fill="#b83523"/><path d="M453.1 242.9l1.3 4.8-6.7 2.7-1.3-4.9z" fill="#b73322"/><path d="M448.1 244.5l1.3 4.9-6.1 7.9-1.3-4.8z" fill="#b73523"/><path d="M443.3 250.9l1.3 4.8-6.2 6.7-1.4-4.8z" fill="#ba3d23"/><path d="M438.4 256.1l1.3 4.8-6.1 7.4-1.3-4.8z" fill="#bb4724"/><path d="M433.5 261.9l1.4 4.8-6.1 8.2-1.3-4.7z" fill="#bd5424"/><path d="M428.8 268.6l1.3 4.7-6.4 5.6-1.3-4.8z" fill="#bf5e25"/><path d="M423.8 272.7l1.3 4.8-5.9 8.9-1.4-4.7z" fill="#c16c25"/><path d="M419 280l1.3 4.7-6.1 7.8-1.3-4.6z" fill="#c48328"/><path d="M414.2 286.3l1.3 4.6-6.3 6.7-1.3-4.7z" fill="#c6952a"/><path d="M409.3 291.4l1.3 4.6-6.1 7.6-1.4-4.6z" fill="#c6a62b"/><path d="M404.5 297.5l1.4 4.6-6.6 4.6-1.3-4.7z" fill="#c6b02c"/><path d="M399.6 300.8l1.4 4.6-6.4 6.3-1.3-4.6z" fill="#c5b52d"/><path d="M394.7 305.7l1.4 4.6-6.3 6.1-1.4-4.6z" fill="#c0b92e"/><path d="M389.9 310.4l1.4 4.6-6.5 5.3-1.3-4.6z" fill="#b5b530"/><path d="M385 314.3l1.3 4.7-6.1 7.6-1.3-4.5z" fill="#a3af34"/><path d="M380.2 320.6l1.4 4.5-6.4 5.7-1.4-4.4z" fill="#90a938"/><path d="M375.3 325l1.4 4.4-6.3 6-1.4-4.4z" fill="#85a73c"/><path d="M370.4 329.6l1.5 4.4-5.2 5.3-1.4-4.3z" fill="#78a543"/><path d="M511.8 198.2l1.4 5.7-5.9 6-1.5-5.3z" fill="#b32921"/><path d="M507.2 203.2l1.6 5.3-6.4 5.3-1.6-5z" fill="#b72e22"/><path d="M502.4 207.5l1.6 5-6.5 4.7-1.6-4.8z" fill="#ba3023"/><path d="M497.6 211.3l1.5 4.8-6.7 3.7-1.5-5.5z" fill="#b82f22"/><path d="M492.8 213.6l1.5 5.3-6.9 2.3-1.5-5.8z" fill="#b32a21"/><path d="M487.8 214.6l1.4 5.7-6.1 7.8-1.5-5.7z" fill="#b32b21"/><path d="M482.9 220.8l1.5 5.7-6.2 7.4-1.5-5.7z" fill="#b63322"/><path d="M478.1 226.7l1.5 5.6-6.4 5.7-1.5-5.6z" fill="#b83823"/><path d="M473.2 231l1.5 5.6-6.1 7.9-1.5-5.5z" fill="#ba4023"/><path d="M468.5 237.6l1.4 5.4-6.7 3.1-1.5-5.5z" fill="#bb4523"/><path d="M463.6 239.7l1.5 5.5-6.7 3.9-1.4-5.5z" fill="#ba4123"/><path d="M458.7 242.5l1.5 5.6-6.6 4.2-1.5-5.5z" fill="#ba4023"/><path d="M453.9 245.7l1.5 5.6-6.8 2.8-1.5-5.7z" fill="#b93c23"/><path d="M448.9 247.5l1.5 5.7-6.1 7.7-1.5-5.6z" fill="#b94023"/><path d="M444.1 253.7l1.5 5.6-6.3 6.7-1.5-5.5z" fill="#bb4a24"/><path d="M439.2 258.9l1.5 5.6-6.2 7.4-1.5-5.6z" fill="#bc5424"/><path d="M434.3 264.7l1.5 5.6-6.1 8.1-1.4-5.4z" fill="#bf6325"/><path d="M429.5 271.4l1.5 5.4-6.4 5.7-1.5-5.6z" fill="#c06f26"/><path d="M424.6 275.5l1.5 5.5-6 8.8-1.5-5.4z" fill="#c27f27"/><path d="M419.8 282.8l1.5 5.3-6.2 7.7-1.5-5.3z" fill="#c5982a"/><path d="M414.9 289l1.6 5.3-6.3 6.5-1.5-5.2z" fill="#c5a92c"/><path d="M410.1 294.1l1.5 5.2-6.2 7.5-1.5-5.2z" fill="#c5b92d"/><path d="M405.3 300.1l1.5 5.2-6.5 4.7-1.5-5.3z" fill="#bab72f"/><path d="M400.4 303.5l1.5 5.2-6.3 6.3-1.5-5.2z" fill="#b1b431"/><path d="M395.5 308.3l1.5 5.2-6.3 6.1-1.5-5.2z" fill="#a3af34"/><path d="M390.7 313l1.5 5.2-6.4 5.4-1.5-5.2z" fill="#98ab36"/><path d="M385.8 317l1.5 5.2-6.1 7.5-1.6-5z" fill="#88a63a"/><path d="M381 323.1l1.5 5.1-6.4 5.6-1.5-4.9z" fill="#78a442"/><path d="M376.1 327.5l1.6 5-6.4 5.8-1.6-4.9z" fill="#6ea247"/><path d="M371.2 332l1.6 4.9-5.1 5.2-1.6-4.8z" fill="#62a14e"/><path d="M512.7 201.9l1.4 5.6-6 5.6-1.4-5.2z" fill="#b63322"/><path d="M508.2 206.5l1.4 5.2-6.4 4.9-1.5-4.8z" fill="#ba3623"/><path d="M503.3 210.5l1.5 4.9-6.5 4.6-1.5-4.7z" fill="#bc3824"/><path d="M498.5 214.1l1.5 4.7-6.6 4.3-1.5-5.3z" fill="#ba3723"/><path d="M493.7 216.9l1.4 5.2-6.8 2.7-1.4-5.6z" fill="#b63322"/><path d="M488.7 218.3l1.4 5.6-6.1 7.7-1.4-5.5z" fill="#b53522"/><path d="M483.9 224.5l1.3 5.5-6.1 7.4-1.4-5.5z" fill="#b73e23"/><path d="M479.1 230.3l1.3 5.6-6.3 5.7-1.4-5.6z" fill="#b94623"/><path d="M474.1 234.6l1.4 5.5-6.1 7.8-1.4-5.4z" fill="#bb4e24"/><path d="M469.4 241.1l1.4 5.3-6.7 3.1-1.4-5.4z" fill="#bc5324"/><path d="M464.5 243.2l1.4 5.4-6.6 4-1.4-5.5z" fill="#bb4f24"/><path d="M459.7 246.1l1.4 5.4-6.6 4.3-1.4-5.4z" fill="#bb4e24"/><path d="M454.9 249.3l1.3 5.5-6.7 2.9-1.4-5.6z" fill="#ba4a23"/><path d="M449.9 251.2l1.3 5.5-6.1 7.7-1.4-5.5z" fill="#ba4e23"/><path d="M445 257.4l1.4 5.4-6.2 6.7-1.4-5.5z" fill="#bc5924"/><path d="M440.2 262.5l1.4 5.5-6.2 7.3-1.4-5.4z" fill="#be6524"/><path d="M435.3 268.3l1.4 5.4-6.1 8.1-1.4-5.4z" fill="#c07626"/><path d="M430.5 274.9l1.4 5.3-6.4 5.6-1.4-5.3z" fill="#c28528"/><path d="M425.6 279.1l1.4 5.3-6 8.7-1.5-5.3z" fill="#c4962a"/><path d="M420.7 286.2l1.5 5.2-6.2 7.6-1.4-5.1z" fill="#c4ae2c"/><path d="M415.9 292.3l1.4 5.1-6.2 6.5-1.5-5z" fill="#bfb82e"/><path d="M411 297.4l1.5 5-6.2 7.4-1.5-5z" fill="#a9b132"/><path d="M406.2 303.3l1.5 5-6.5 4.7-1.5-5z" fill="#9cac35"/><path d="M401.3 306.8l1.5 5-6.3 6.2-1.5-5z" fill="#93a937"/><path d="M396.5 311.6l1.4 5-6.3 6.1-1.5-5z" fill="#86a53a"/><path d="M391.6 316.3l1.5 5-6.4 5.3-1.5-5z" fill="#7ca33f"/><path d="M386.7 320.3l1.5 4.9-6.2 7.3-1.4-4.8z" fill="#6ea146"/><path d="M381.9 326.2l1.5 4.8-6.4 5.6-1.5-4.7z" fill="#5f9f4e"/><path d="M377 330.5l1.6 4.7-6.4 5.7-1.5-4.6z" fill="#569e53"/><path d="M372.2 334.9l1.5 4.6-5.1 5.2-1.6-4.5z" fill="#4d9d5b"/><path d="M513.6 205.5l1.4 5.5-6.1 5.4-1.3-5.3z" fill="#b83d23"/><path d="M509.1 209.7l1.4 5.3-6.5 4.7-1.4-5z" fill="#bb4123"/><path d="M504.2 213.4l1.5 5.1-6.5 4.4-1.5-4.9z" fill="#bd4224"/><path d="M499.4 216.9l1.4 4.9-6.5 4.8-1.5-5.4z" fill="#bb4224"/><path d="M494.6 220.1l1.4 5.4-6.8 3.1-1.4-5.8z" fill="#b83e23"/><path d="M489.6 221.9l1.4 5.7-6.2 7.7-1.3-5.6z" fill="#b74123"/><path d="M484.8 228.1l1.3 5.6-6.2 7.4-1.3-5.7z" fill="#b94d23"/><path d="M479.9 233.9l1.4 5.6-6.4 5.7-1.3-5.6z" fill="#ba5524"/><path d="M475 238.2l1.4 5.6-6.1 7.6-1.4-5.5z" fill="#bc5e24"/><path d="M470.3 244.5l1.4 5.4-6.7 3.2-1.4-5.5z" fill="#bd6324"/><path d="M465.4 246.7l1.4 5.5-6.6 3.9-1.4-5.5z" fill="#bd5f24"/><path d="M460.6 249.5l1.3 5.5-6.5 4.3-1.4-5.5z" fill="#bc5d24"/><path d="M455.7 252.8l1.4 5.5-6.7 3.1-1.4-5.7z" fill="#bb5a24"/><path d="M450.8 254.7l1.3 5.7-6.1 7.5-1.4-5.5z" fill="#bc5e24"/><path d="M445.9 260.8l1.4 5.5-6.3 6.7-1.3-5.5z" fill="#be6b25"/><path d="M441 266l1.4 5.5-6.1 7.2-1.4-5.4z" fill="#c07926"/><path d="M436.2 271.7l1.4 5.4-6.1 8-1.4-5.3z" fill="#c28d29"/><path d="M431.4 278.2l1.4 5.3-6.4 5.7-1.4-5.3z" fill="#c39b2a"/><path d="M426.4 282.4l1.4 5.4-6 8.5-1.4-5.2z" fill="#c3ac2b"/><path d="M421.6 289.4l1.4 5.2-6.1 7.5-1.4-5.1z" fill="#b6b52f"/><path d="M416.8 295.4l1.4 5.1-6.3 6.5-1.4-5z" fill="#a1ae34"/><path d="M411.9 300.5l1.5 5-6.2 7.2-1.5-4.9z" fill="#8da738"/><path d="M407.1 306.3l1.5 4.9-6.5 4.9-1.5-5z" fill="#81a43d"/><path d="M402.2 309.8l1.5 5-6.3 6.2-1.5-5z" fill="#79a241"/><path d="M397.4 314.6l1.4 5-6.3 6-1.5-4.9z" fill="#6ca047"/><path d="M392.5 319.3l1.5 4.9-6.4 5.3-1.5-4.9z" fill="#639f4b"/><path d="M387.6 323.3l1.5 4.9-6.2 7.1-1.5-4.7z" fill="#569d52"/><path d="M382.8 329.1l1.5 4.7-6.4 5.4-1.5-4.6z" fill="#4b9c5d"/><path d="M377.9 333.3l1.6 4.6-6.4 5.6-1.6-4.5z" fill="#479c65"/><path d="M373.1 337.6l1.5 4.5-5.2 5-1.5-4.4z" fill="#419c71"/><path d="M514.5 209l1.3 5.5-6 5.1-1.4-5.2z" fill="#ba4b23"/><path d="M510 213.1l1.4 5.2-6.6 4.4-1.3-5z" fill="#bc4d24"/><path d="M505.1 216.5l1.4 5.1-6.5 4.3-1.4-4.9z" fill="#bd4e24"/><path d="M500.3 219.8l1.4 4.9-6.5 5.3-1.4-5.4z" fill="#bc4e24"/><path d="M495.5 223.5l1.3 5.3-6.7 3.5-1.3-5.7z" fill="#b94c23"/><path d="M490.5 225.6l1.3 5.6-6.1 7.8-1.3-5.7z" fill="#b85023"/><path d="M485.6 231.7l1.4 5.7-6.2 7.2-1.3-5.5z" fill="#bb5d24"/><path d="M480.8 237.5l1.4 5.6-6.4 5.6-1.4-5.5z" fill="#bc6624"/><path d="M475.9 241.8l1.3 5.5-6.1 7.4-1.3-5.3z" fill="#be7226"/><path d="M471.2 247.9l1.3 5.4-6.7 3.2-1.3-5.4z" fill="#bf7726"/><path d="M466.3 250.2l1.3 5.4-6.6 3.9-1.3-5.4z" fill="#be7226"/><path d="M461.4 253l1.4 5.5-6.6 4.3-1.3-5.4z" fill="#be7025"/><path d="M456.6 256.3l1.4 5.4-6.8 3.2-1.3-5.5z" fill="#be6d25"/><path d="M451.6 258.4l1.4 5.5-6.2 7.4-1.3-5.4z" fill="#be7126"/><path d="M446.8 264.4l1.4 5.4-6.3 6.5-1.4-5.3z" fill="#c08127"/><path d="M441.9 269.5l1.4 5.3-6.2 7.2-1.4-5.3z" fill="#c29029"/><path d="M437.1 275.2l1.3 5.3-6.1 7.8-1.4-5.2z" fill="#c2a32b"/><path d="M432.3 281.5l1.3 5.2-6.4 5.7-1.3-5.2z" fill="#c2b12c"/><path d="M427.3 285.8l1.4 5.2-6 8.3-1.4-5z" fill="#b6b42f"/><path d="M422.5 292.6l1.4 5.1-6.2 7.3-1.4-4.9z" fill="#99aa35"/><path d="M417.7 298.6l1.4 4.9-6.3 6.4-1.4-4.9z" fill="#85a43a"/><path d="M412.8 303.5l1.4 4.9-6.2 7.1-1.4-4.7z" fill="#73a243"/><path d="M408 309.3l1.4 4.7-6.5 4.9-1.4-4.8z" fill="#68a049"/><path d="M403.1 312.8l1.4 4.8-6.3 6.2-1.4-4.8z" fill="#609e4c"/><path d="M398.2 317.6l1.5 4.7-6.4 6-1.4-4.7z" fill="#549c52"/><path d="M393.4 322.2l1.5 4.8-6.5 5.3-1.4-4.7z" fill="#4c9b58"/><path d="M388.5 326.2l1.5 4.7-6.2 7-1.5-4.6z" fill="#469a65"/><path d="M383.7 331.8l1.5 4.6-6.4 5.3-1.5-4.4z" fill="#3f9b73"/><path d="M378.8 336l1.5 4.4-6.4 5.5-1.5-4.3z" fill="#3c9b7c"/><path d="M373.9 340.2l1.6 4.3-5.2 4.9-1.5-4.2z" fill="#369b87"/><path d="M515.3 212.5l1.3 5.2-6.1 5.1-1.2-5.2z" fill="#bb5924"/><path d="M510.8 216.3l1.3 5.2-6.5 4.2-1.3-5z" fill="#bd5b24"/><path d="M506 219.6l1.3 5-6.6 4.2-1.3-4.9z" fill="#be5b24"/><path d="M501.1 222.8l1.3 4.9-6.4 5.6-1.3-5.3z" fill="#bd5c24"/><path d="M496.3 226.8l1.3 5.2-6.7 3.8-1.3-5.5z" fill="#bb5b24"/><path d="M491.3 229.2l1.3 5.5-6.1 7.7-1.3-5.4z" fill="#bb6124"/><path d="M486.5 235.4l1.3 5.4-6.2 7.2-1.3-5.4z" fill="#bd7025"/><path d="M481.7 241.1l1.2 5.4-6.3 5.6-1.3-5.3z" fill="#be7b26"/><path d="M476.8 245.3l1.2 5.4-6.1 7.2-1.3-5.1z" fill="#c08728"/><path d="M472 251.3l1.3 5.2-6.7 3.2-1.3-5.2z" fill="#c18d29"/><path d="M467.2 253.6l1.2 5.2-6.6 3.9-1.3-5.2z" fill="#c18828"/><path d="M462.3 256.5l1.3 5.2-6.6 4.3-1.3-5.2z" fill="#c18628"/><path d="M457.5 259.7l1.2 5.2-6.7 3.3-1.2-5.3z" fill="#c08227"/><path d="M452.5 261.9l1.3 5.3-6.2 7.3-1.3-5.2z" fill="#c08728"/><path d="M447.7 267.8l1.3 5.1-6.3 6.6-1.3-5.2z" fill="#c2972a"/><path d="M442.8 272.8l1.3 5.2-6.2 7.1-1.3-5.1z" fill="#c2a52b"/><path d="M437.9 278.5l1.3 5-6.1 7.8-1.3-5z" fill="#c2b82c"/><path d="M433.1 284.8l1.3 4.9-6.4 5.7-1.3-4.9z" fill="#aeb130"/><path d="M428.2 289l1.3 5-6.1 8.2-1.3-4.8z" fill="#99aa35"/><path d="M423.3 295.7l1.4 4.8-6.2 7.3-1.3-4.7z" fill="#7fa33d"/><path d="M418.5 301.5l1.4 4.7-6.3 6.3-1.4-4.6z" fill="#6da046"/><path d="M413.6 306.4l1.4 4.7-6.2 7-1.4-4.6z" fill="#5d9e4e"/><path d="M408.8 312.1l1.4 4.5-6.5 4.9-1.4-4.6z" fill="#519c54"/><path d="M403.9 315.7l1.4 4.5-6.3 6.1-1.4-4.5z" fill="#4c9b59"/><path d="M399.1 320.4l1.4 4.5-6.3 5.9-1.5-4.4z" fill="#459a65"/><path d="M394.3 325l1.4 4.5-6.5 5.2-1.4-4.4z" fill="#419a6e"/><path d="M389.3 328.9l1.5 4.5-6.2 6.8-1.5-4.3z" fill="#3b9a7b"/><path d="M384.5 334.4l1.5 4.3-6.4 5.2-1.5-4.1z" fill="#359a89"/><path d="M379.7 338.5l1.4 4.1-6.4 5.4-1.5-4.1z" fill="#319a90"/><path d="M374.8 342.6l1.5 4.1-5.2 4.8-1.5-4z" fill="#2e9b99"/><path d="M516.1 215.7l1.3 5.3-6.1 4.9-1.3-5.1z" fill="#bd6a25"/><path d="M511.6 219.5l1.3 5.2-6.5 4.1-1.3-5.1z" fill="#be6b25"/><path d="M506.8 222.6l1.3 5.1-6.6 4.2-1.3-5z" fill="#bf6a25"/><path d="M501.9 225.7l1.3 5-6.4 5.9-1.3-5.3z" fill="#be6d25"/><path d="M497.1 230l1.3 5.3-6.7 4.1-1.2-5.6z" fill="#bd6d25"/><path d="M492.1 232.7l1.3 5.5-6.1 7.6-1.3-5.4z" fill="#bd7426"/><path d="M487.3 238.8l1.2 5.5-6.1 7.1-1.3-5.4z" fill="#bf8628"/><path d="M482.5 244.5l1.2 5.4-6.4 5.6-1.2-5.4z" fill="#c09229"/><path d="M477.6 248.7l1.2 5.4-6.1 7-1.3-5.1z" fill="#c19e2a"/><path d="M472.8 254.5l1.3 5.2-6.7 3.2-1.3-5.2z" fill="#c1a32a"/><path d="M468 256.8l1.2 5.2-6.6 3.9-1.3-5.1z" fill="#c19e2a"/><path d="M463.1 259.7l1.3 5.2-6.6 4.3-1.3-5.2z" fill="#c29c2a"/><path d="M458.3 262.9l1.2 5.2-6.6 3.4-1.3-5.3z" fill="#c1982a"/><path d="M453.3 265.2l1.3 5.2-6.2 7.2-1.3-5.1z" fill="#c19d2a"/><path d="M448.5 271l1.3 5.1-6.3 6.4-1.3-5z" fill="#c1ac2b"/><path d="M443.6 276l1.3 5-6.2 7.1-1.3-5z" fill="#beb72d"/><path d="M438.7 281.5l1.3 5-6.1 7.7-1.3-4.9z" fill="#a5ae32"/><path d="M433.9 287.7l1.3 4.9-6.4 5.7-1.3-4.9z" fill="#93a836"/><path d="M429 292l1.3 4.9-6.1 8-1.3-4.7z" fill="#80a33c"/><path d="M424.1 298.6l1.4 4.7-6.2 7.1-1.4-4.6z" fill="#689f48"/><path d="M419.3 304.3l1.4 4.6-6.3 6.2-1.4-4.5z" fill="#579c51"/><path d="M414.4 309.1l1.4 4.6-6.2 6.8-1.4-4.4z" fill="#4a9b5c"/><path d="M409.6 314.6l1.4 4.5-6.5 4.9-1.4-4.5z" fill="#459a67"/><path d="M404.7 318.2l1.4 4.5-6.3 6.1-1.4-4.4z" fill="#419a6f"/><path d="M399.9 322.9l1.4 4.4-6.3 6-1.5-4.4z" fill="#3b997b"/><path d="M395 327.5l1.5 4.4-6.5 5.2-1.4-4.3z" fill="#369984"/><path d="M390.1 331.4l1.5 4.4-6.2 6.6-1.5-4.2z" fill="#309990"/><path d="M385.3 336.8l1.5 4.1-6.4 5.2-1.5-4.1z" fill="#2e9a9a"/><path d="M380.5 340.7l1.5 4.1-6.5 5.3-1.5-4z" fill="#2e9b9e"/><path d="M375.6 344.8l1.5 4-5.2 4.7-1.5-3.9z" fill="#2d9ca3"/><path d="M516.9 219l1.3 5.2-6.1 4.9-1.3-5.1z" fill="#bf7d27"/><path d="M512.4 222.7l1.3 5.2-6.6 3.9-1.3-5z" fill="#c07f27"/><path d="M507.6 225.7l1.3 5.1-6.6 4.1-1.3-5z" fill="#c07d27"/><path d="M502.7 228.7l1.3 5-6.4 6.2-1.3-5.3z" fill="#c08027"/><path d="M497.9 233.3l1.2 5.2-6.5 4.3-1.3-5.4z" fill="#bf8327"/><path d="M492.9 236.2l1.3 5.4-6.2 7.6-1.2-5.4z" fill="#bf8b28"/><path d="M488.1 242.3l1.2 5.3-6.2 7.1-1.2-5.3z" fill="#c09d2a"/><path d="M483.3 247.9l1.2 5.3-6.4 5.5-1.2-5.2z" fill="#c0a82b"/><path d="M478.4 252.1l1.2 5.2-6.2 6.9-1.2-5.1z" fill="#c0b32c"/><path d="M473.6 257.7l1.3 5.1-6.7 3.2-1.3-5.1z" fill="#c0b72c"/><path d="M468.7 260l1.3 5.1-6.6 3.9-1.3-5.1z" fill="#c1b32c"/><path d="M463.9 262.9l1.3 5.1-6.6 4.2-1.3-5z" fill="#c1b12c"/><path d="M459 266.1l1.3 5.1-6.6 3.4-1.3-5.1z" fill="#c1ad2b"/><path d="M454.1 268.4l1.3 5.1-6.2 7.1-1.3-5z" fill="#c1b32c"/><path d="M449.2 274.1l1.3 5-6.2 6.4-1.3-5z" fill="#b5b32f"/><path d="M444.4 279.1l1.3 4.9-6.2 7-1.3-4.9z" fill="#a2ad33"/><path d="M439.5 284.6l1.3 4.8-6.1 7.5-1.3-4.7z" fill="#8ba537"/><path d="M434.7 290.6l1.3 4.8-6.4 5.7-1.3-4.8z" fill="#7aa23f"/><path d="M429.8 294.9l1.3 4.8-6.1 7.8-1.3-4.6z" fill="#689f48"/><path d="M424.9 301.3l1.4 4.6-6.2 7-1.4-4.5z" fill="#529b53"/><path d="M420.1 306.9l1.4 4.5-6.3 6.2-1.4-4.4z" fill="#479a62"/><path d="M415.2 311.7l1.4 4.4-6.2 6.8-1.4-4.3z" fill="#3f9a72"/><path d="M410.4 317.1l1.4 4.3-6.4 4.9-1.5-4.3z" fill="#3a9a7d"/><path d="M405.5 320.7l1.5 4.4-6.4 6-1.4-4.3z" fill="#369984"/><path d="M400.7 325.4l1.4 4.3-6.3 5.8-1.5-4.2z" fill="#309990"/><path d="M395.8 329.9l1.5 4.3-6.5 5.2-1.4-4.2z" fill="#2d9997"/><path d="M390.9 333.8l1.5 4.2-6.3 6.5-1.4-4z" fill="#2d999d"/><path d="M386.1 339l1.5 4.1-6.4 5-1.6-3.9z" fill="#2d9ba4"/><path d="M381.2 342.9l1.6 3.9-6.5 5.2-1.5-3.8z" fill="#2d9ca7"/><path d="M376.4 346.8l1.5 3.9-5.2 4.7-1.5-3.8z" fill="#2c9cad"/><path d="M517.7 222.3l1.3 5.2-6.1 4.7-1.3-5.1z" fill="#c19329"/><path d="M513.2 225.9l1.3 5.1-6.6 3.9-1.3-5.1z" fill="#c29429"/><path d="M508.4 228.8l1.3 5.1-6.6 4.1-1.3-5.1z" fill="#c29229"/><path d="M503.5 231.8l1.2 5-6.3 6.3-1.3-5.2z" fill="#c29529"/><path d="M498.7 236.5l1.2 5.2-6.5 4.5-1.3-5.4z" fill="#c09929"/><path d="M493.7 239.6l1.3 5.4-6.2 7.5-1.2-5.3z" fill="#bfa22a"/><path d="M488.9 245.6l1.2 5.4-6.2 6.9-1.2-5.2z" fill="#bfb32c"/><path d="M484.1 251.2l1.2 5.2-6.4 5.5-1.3-5.2z" fill="#b4b22e"/><path d="M479.2 255.3l1.2 5.2-6.2 6.7-1.3-5z" fill="#a7ae31"/><path d="M474.4 260.8l1.3 5.1-6.7 3.2-1.3-5z" fill="#a3ad32"/><path d="M469.5 263.1l1.3 5.1-6.6 3.8-1.3-5z" fill="#aaaf31"/><path d="M464.7 266l1.3 5-6.6 4.2-1.3-4.9z" fill="#aeb130"/><path d="M459.8 269.2l1.3 5-6.6 3.5-1.3-5.1z" fill="#b2b22f"/><path d="M454.9 271.6l1.3 5-6.2 6.9-1.3-4.9z" fill="#abb031"/><path d="M450 277.1l1.3 4.9-6.3 6.4-1.3-4.9z" fill="#99aa34"/><path d="M445.2 282l1.3 4.9-6.2 6.9-1.4-4.8z" fill="#88a438"/><path d="M440.3 287.5l1.3 4.7-6.1 7.4-1.4-4.6z" fill="#73a042"/><path d="M435.5 293.4l1.3 4.7-6.4 5.7-1.3-4.7z" fill="#639e4a"/><path d="M430.6 297.7l1.3 4.7-6.1 7.7-1.4-4.5z" fill="#529b53"/><path d="M425.7 304l1.4 4.5-6.2 6.8-1.4-4.3z" fill="#459a67"/><path d="M420.9 309.5l1.4 4.3-6.3 6.1-1.5-4.3z" fill="#3d9a77"/><path d="M416 314.2l1.4 4.3-6.2 6.6-1.5-4.2z" fill="#359987"/><path d="M411.2 319.5l1.4 4.2-6.4 4.9-1.5-4.2z" fill="#309991"/><path d="M406.3 323.1l1.5 4.2-6.4 6-1.4-4.2z" fill="#2e9997"/><path d="M401.4 327.7l1.5 4.2-6.3 5.8-1.5-4.1z" fill="#2d999d"/><path d="M396.6 332.2l1.5 4.1-6.5 5.2-1.4-4.1z" fill="#2d99a1"/><path d="M391.7 336.1l1.5 4.1-6.3 6.3-1.5-3.9z" fill="#2c9aa7"/><path d="M386.9 341.1l1.5 4-6.4 4.9-1.6-3.8z" fill="#2c9bae"/><path d="M382 344.9l1.6 3.9-6.5 5.1-1.5-3.8z" fill="#2c9cb2"/><path d="M377.1 348.8l1.6 3.8-5.1 4.6-1.6-3.7z" fill="#2c9db7"/><path d="M518.5 225.5l1.3 5.1-6.2 4.7-1.2-5z" fill="#c1a92b"/><path d="M514 229l1.3 5.1-6.6 3.9-1.3-5.1z" fill="#c1a92b"/><path d="M509.2 231.9l1.2 5-6.5 4.2-1.3-5.1z" fill="#c2a62b"/><path d="M504.2 234.8l1.3 5.1-6.3 6.4-1.3-5.2z" fill="#c1aa2b"/><path d="M499.4 239.7l1.3 5.2-6.5 4.7-1.3-5.4z" fill="#c0af2b"/><path d="M494.5 243l1.3 5.3-6.2 7.5-1.3-5.3z" fill="#bbb42d"/><path d="M489.7 249l1.2 5.2-6.2 6.9-1.3-5.2z" fill="#a4ac31"/><path d="M484.8 254.5l1.3 5.1-6.4 5.4-1.3-5.1z" fill="#97a834"/><path d="M479.9 258.5l1.3 5.1-6.2 6.5-1.3-4.9z" fill="#8ba437"/><path d="M475.2 263.9l1.3 4.9-6.7 3.2-1.3-4.9z" fill="#88a338"/><path d="M470.3 266.2l1.3 4.9-6.6 3.8-1.3-4.9z" fill="#8fa636"/><path d="M465.4 269l1.4 4.9-6.6 4.2-1.3-4.8z" fill="#92a736"/><path d="M460.6 272.2l1.3 4.8-6.6 3.6-1.4-4.9z" fill="#97a935"/><path d="M455.7 274.6l1.3 4.9-6.3 6.9-1.3-4.8z" fill="#90a736"/><path d="M450.8 280.1l1.3 4.8-6.3 6.2-1.3-4.7z" fill="#80a33c"/><path d="M445.9 284.9l1.4 4.8-6.3 6.8-1.3-4.7z" fill="#70a044"/><path d="M441.1 290.3l1.3 4.6-6.1 7.3-1.4-4.5z" fill="#5d9d4e"/><path d="M436.2 296.1l1.4 4.6-6.4 5.7-1.3-4.6z" fill="#4d9a55"/><path d="M431.3 300.4l1.4 4.6-6.1 7.5-1.4-4.4z" fill="#459a66"/><path d="M426.5 306.5l1.4 4.4-6.2 6.8-1.4-4.3z" fill="#3a997c"/><path d="M421.7 311.9l1.4 4.3-6.3 6-1.5-4.2z" fill="#32998c"/><path d="M416.8 316.5l1.4 4.3-6.2 6.5-1.5-4.1z" fill="#2e9998"/><path d="M412 321.7l1.4 4.1-6.4 5-1.5-4.1z" fill="#2d9a9e"/><path d="M407.1 325.4l1.5 4.1-6.4 5.9-1.5-4z" fill="#2d9aa1"/><path d="M402.2 330l1.5 4-6.3 5.8-1.5-4z" fill="#2c9aa7"/><path d="M397.4 334.4l1.5 4-6.5 5.1-1.5-3.9z" fill="#2c9aac"/><path d="M392.5 338.3l1.5 3.9-6.3 6.2-1.5-3.8z" fill="#2b9bb2"/><path d="M387.7 343.2l1.5 3.8-6.4 4.9-1.6-3.8z" fill="#2b9cb9"/><path d="M382.8 346.9l1.6 3.7-6.5 5-1.6-3.6z" fill="#2a9dbb"/><path d="M377.9 350.7l1.6 3.6-5.1 4.6-1.7-3.6z" fill="#289cbe"/><path d="M519.3 228.7l1.3 5.1-6.2 4.6-1.3-5z" fill="#b8b42e"/><path d="M514.8 232.2l1.3 5-6.6 3.8-1.3-5z" fill="#b9b52e"/><path d="M509.9 234.9l1.3 5-6.6 4.2-1.3-5z" fill="#bdb62d"/><path d="M505 237.9l1.3 5-6.3 6.5-1.3-5.1z" fill="#b6b42f"/><path d="M500.2 242.9l1.3 5.1-6.5 4.8-1.3-5.2z" fill="#abaf30"/><path d="M495.3 246.3l1.3 5.2-6.2 7.4-1.3-5.1z" fill="#9daa33"/><path d="M490.4 252.2l1.3 5.1-6.2 6.8-1.3-5z" fill="#88a237"/><path d="M485.6 257.6l1.3 5.1-6.4 5.3-1.3-5z" fill="#7ca03d"/><path d="M480.7 261.7l1.3 4.9-6.2 6.4-1.4-4.8z" fill="#729f42"/><path d="M476 266.8l1.3 4.8-6.7 3.2-1.3-4.8z" fill="#6f9f44"/><path d="M471.1 269.1l1.3 4.8-6.6 3.8-1.3-4.7z" fill="#76a140"/><path d="M466.2 271.9l1.4 4.8-6.6 4.2-1.4-4.8z" fill="#7aa23f"/><path d="M461.4 275.1l1.3 4.7-6.6 3.7-1.4-4.8z" fill="#7ea23d"/><path d="M456.4 277.6l1.4 4.8-6.3 6.7-1.3-4.7z" fill="#78a140"/><path d="M451.6 282.9l1.3 4.7-6.3 6.2-1.3-4.6z" fill="#699f47"/><path d="M446.7 287.7l1.4 4.6-6.3 6.7-1.3-4.5z" fill="#5a9d4f"/><path d="M441.8 293l1.4 4.5-6.2 7.2-1.3-4.4z" fill="#4a9a5c"/><path d="M437 298.7l1.4 4.5-6.4 5.7-1.4-4.5z" fill="#429a6b"/><path d="M432.1 303l1.4 4.5-6.1 7.3-1.4-4.2z" fill="#3a997c"/><path d="M427.3 309l1.4 4.3-6.2 6.6-1.5-4.2z" fill="#309991"/><path d="M422.4 314.2l1.5 4.2-6.3 5.9-1.5-4.1z" fill="#2d999b"/><path d="M417.6 318.8l1.4 4.1-6.2 6.4-1.5-4z" fill="#2d9aa3"/><path d="M412.7 323.9l1.6 4-6.5 4.9-1.5-3.9z" fill="#2c9ba8"/><path d="M407.9 327.6l1.5 4-6.4 5.8-1.5-3.9z" fill="#2c9bac"/><path d="M403 332.1l1.5 3.9-6.3 5.7-1.6-3.8z" fill="#2b9bb2"/><path d="M398.2 336.5l1.5 3.9-6.5 5.1-1.5-3.9z" fill="#2b9bb7"/><path d="M393.3 340.3l1.5 3.9-6.3 6-1.6-3.7z" fill="#299abb"/><path d="M388.5 345.1l1.5 3.7-6.4 4.8-1.7-3.6z" fill="#279abf"/><path d="M383.6 348.7l1.6 3.7-6.5 4.9-1.6-3.6z" fill="#269ac1"/><path d="M378.7 352.5l1.7 3.5-5.2 4.5-1.7-3.5z" fill="#249ac4"/><path d="M520.1 231.8l1.3 5-6.2 4.5-1.3-4.9z" fill="#9caa34"/><path d="M515.6 235.2l1.3 4.9-6.6 3.8-1.4-4.9z" fill="#9dab34"/><path d="M510.7 238l1.3 4.9-6.6 4.2-1.3-5z" fill="#a1ad33"/><path d="M505.8 240.9l1.3 5-6.3 6.5-1.3-5z" fill="#9aaa34"/><path d="M501 246l1.3 5-6.5 4.9-1.3-5.1z" fill="#8fa636"/><path d="M496.1 249.5l1.3 5.1-6.2 7.3-1.3-5z" fill="#82a13a"/><path d="M491.2 255.3l1.3 5.1-6.2 6.7-1.3-5z" fill="#6e9e43"/><path d="M486.4 260.7l1.3 4.9-6.4 5.2-1.3-4.8z" fill="#639c49"/><path d="M481.5 264.7l1.3 4.8-6.3 6.1-1.3-4.6z" fill="#5a9b4e"/><path d="M476.7 269.7l1.4 4.6-6.7 3.3-1.4-4.7z" fill="#599c4f"/><path d="M471.9 272l1.3 4.6-6.6 3.8-1.4-4.6z" fill="#609d4c"/><path d="M467 274.7l1.4 4.7-6.6 4.2-1.4-4.7z" fill="#639e4a"/><path d="M462.2 277.9l1.3 4.6-6.6 3.7-1.4-4.7z" fill="#679f49"/><path d="M457.2 280.4l1.4 4.7-6.3 6.6-1.3-4.6z" fill="#629e4b"/><path d="M452.4 285.6l1.4 4.6-6.4 6.1-1.4-4.5z" fill="#549c52"/><path d="M447.5 290.4l1.4 4.5-6.3 6.6-1.4-4.4z" fill="#499a5e"/><path d="M442.6 295.6l1.4 4.4-6.2 7.1-1.4-4.4z" fill="#409a71"/><path d="M437.8 301.2l1.4 4.4-6.4 5.6-1.4-4.3z" fill="#389980"/><path d="M432.9 305.5l1.4 4.3-6.1 7.2-1.5-4.1z" fill="#309991"/><path d="M428.1 311.3l1.4 4.2-6.2 6.5-1.5-4z" fill="#2d999d"/><path d="M423.2 316.5l1.5 4-6.3 5.9-1.5-4z" fill="#2c9aa5"/><path d="M418.3 321l1.6 4-6.3 6.3-1.6-3.9z" fill="#2c9bad"/><path d="M413.5 326l1.6 3.9-6.5 4.9-1.6-3.9z" fill="#2b9bb3"/><path d="M408.6 329.7l1.6 3.8-6.4 5.8-1.5-3.8z" fill="#2b9cb7"/><path d="M403.8 334.1l1.5 3.9-6.3 5.6-1.6-3.8z" fill="#289abb"/><path d="M398.9 338.5l1.6 3.8-6.4 5-1.6-3.7z" fill="#2699bd"/><path d="M394.1 342.3l1.6 3.7-6.4 5.9-1.6-3.6z" fill="#2498c1"/><path d="M389.2 346.9l1.7 3.6-6.5 4.7-1.7-3.5z" fill="#2398c5"/><path d="M384.4 350.5l1.6 3.5-6.4 4.8-1.7-3.4z" fill="#2298c7"/><path d="M379.5 354.2l1.7 3.4-5.2 4.4-1.7-3.4z" fill="#2296c7"/><path d="M520.8 234.8l1.4 5-6.2 4.5-1.3-5z" fill="#81a33b"/><path d="M516.4 238.2l1.3 4.9-6.6 3.8-1.4-5z" fill="#83a33b"/><path d="M511.5 240.9l1.4 4.9-6.6 4.3-1.4-5z" fill="#86a439"/><path d="M506.6 243.9l1.3 5-6.2 6.5-1.4-5z" fill="#7fa23c"/><path d="M501.8 249l1.3 5-6.5 5-1.3-5.1z" fill="#75a040"/><path d="M496.8 252.6l1.4 5.1-6.2 7.2-1.3-5z" fill="#689d46"/><path d="M492 258.4l1.4 5-6.3 6.6-1.4-4.9z" fill="#569a4f"/><path d="M487.2 263.6l1.4 4.9-6.5 5.2-1.4-4.8z" fill="#4c9955"/><path d="M482.3 267.5l1.4 4.9-6.3 5.9-1.4-4.6z" fill="#48995e"/><path d="M477.5 272.4l1.4 4.6-6.7 3.2-1.4-4.6z" fill="#489a60"/><path d="M472.7 274.7l1.4 4.6-6.7 3.8-1.4-4.7z" fill="#4b9a59"/><path d="M467.8 277.4l1.4 4.6-6.6 4.2-1.4-4.6z" fill="#4d9b56"/><path d="M462.9 280.5l1.5 4.6-6.7 3.8-1.4-4.7z" fill="#519c54"/><path d="M458 283.1l1.4 4.7-6.2 6.4-1.5-4.5z" fill="#4d9b57"/><path d="M453.2 288.2l1.4 4.6-6.3 6-1.5-4.4z" fill="#469b65"/><path d="M448.3 292.9l1.4 4.5-6.2 6.6-1.5-4.4z" fill="#3e9a74"/><path d="M443.4 298.1l1.5 4.4-6.2 6.9-1.5-4.3z" fill="#359a87"/><path d="M438.6 303.6l1.5 4.3-6.4 5.7-1.5-4.3z" fill="#2e9996"/><path d="M433.7 307.9l1.5 4.3-6.2 7-1.5-4.1z" fill="#2d999e"/><path d="M428.8 313.6l1.6 4.1-6.3 6.4-1.5-4z" fill="#2c9aa8"/><path d="M424 318.6l1.6 4-6.4 5.8-1.6-3.9z" fill="#2b9bb0"/><path d="M419.1 323.1l1.6 3.9-6.3 6.2-1.6-3.8z" fill="#2b9cb8"/><path d="M414.3 328l1.6 3.8-6.5 4.9-1.6-3.8z" fill="#299bbc"/><path d="M409.4 331.6l1.6 3.9-6.3 5.7-1.7-3.8z" fill="#2799be"/><path d="M404.6 336.1l1.6 3.7-6.4 5.6-1.6-3.7z" fill="#2498c1"/><path d="M399.7 340.4l1.7 3.7-6.5 5-1.7-3.7z" fill="#2297c4"/><path d="M394.8 344.1l1.7 3.7-6.3 5.7-1.7-3.5z" fill="#2294c4"/><path d="M390 348.7l1.7 3.5-6.5 4.6-1.7-3.4z" fill="#2390c3"/><path d="M385.1 352.2l1.8 3.4-6.5 4.8-1.8-3.4z" fill="#238fc4"/><path d="M380.3 355.8l1.7 3.3-5.1 4.4-1.8-3.3z" fill="#248cc2"/><path d="M521.6 237.8l1.5 5.2-6.1 4.3-1.5-5z" fill="#689f48"/><path d="M517.2 241.1l1.5 5.1-6.7 3.8-1.5-5.1z" fill="#6a9f47"/><path d="M512.3 243.9l1.5 5-6.6 4.3-1.5-5.1z" fill="#6da046"/><path d="M507.4 246.9l1.5 5.1-6.3 6.5-1.5-5.1z" fill="#669e49"/><path d="M502.6 252l1.4 5.1-6.4 5.2-1.5-5.2z" fill="#5c9c4d"/><path d="M497.7 255.7l1.4 5.2-6.2 7.1-1.4-5.1z" fill="#4f9953"/><path d="M492.8 261.4l1.5 5.1-6.3 6.5-1.5-5z" fill="#459864"/><path d="M488 266.6l1.5 5-6.5 5-1.5-4.9z" fill="#3f986f"/><path d="M483.1 270.4l1.5 4.9-6.3 5.8-1.5-4.7z" fill="#3c9977"/><path d="M478.3 275.1l1.6 4.7-6.7 3.2-1.6-4.7z" fill="#3c9978"/><path d="M473.5 277.4l1.5 4.7-6.6 3.7-1.6-4.7z" fill="#409a71"/><path d="M468.6 280.1l1.5 4.7-6.6 4.1-1.5-4.7z" fill="#429b6d"/><path d="M463.8 283.2l1.5 4.6-6.7 3.8-1.5-4.7z" fill="#449b6a"/><path d="M458.8 285.8l1.6 4.7-6.3 6.4-1.6-4.6z" fill="#429b6f"/><path d="M454 290.8l1.5 4.6-6.3 6-1.6-4.5z" fill="#3b9a7d"/><path d="M449.1 295.5l1.6 4.5-6.3 6.5-1.6-4.5z" fill="#349a8b"/><path d="M444.2 300.5l1.6 4.5-6.2 6.8-1.6-4.3z" fill="#2e9a9a"/><path d="M439.4 306l1.6 4.3-6.4 5.7-1.6-4.4z" fill="#2d9aa1"/><path d="M434.5 310.2l1.6 4.4-6.2 6.9-1.6-4.2z" fill="#2c9ba9"/><path d="M429.7 315.8l1.6 4.2-6.3 6.2-1.6-4z" fill="#2b9cb4"/><path d="M424.8 320.7l1.7 4.1-6.4 5.7-1.7-4z" fill="#299bba"/><path d="M419.9 325.1l1.8 4-6.4 6-1.7-3.8z" fill="#269abf"/><path d="M415.1 329.9l1.8 3.9-6.5 4.9-1.8-3.9z" fill="#2498c2"/><path d="M410.2 333.6l1.8 3.8-6.4 5.7-1.7-3.8z" fill="#2297c5"/><path d="M405.4 338l1.7 3.8-6.4 5.5-1.7-3.7z" fill="#2292c3"/><path d="M400.5 342.2l1.8 3.8-6.5 4.9-1.7-3.7z" fill="#238dc1"/><path d="M395.7 346l1.7 3.7-6.3 5.5-1.8-3.5z" fill="#2488bf"/><path d="M390.8 350.4l1.9 3.5-6.6 4.5-1.8-3.4z" fill="#2585be"/><path d="M386 353.8l1.8 3.5-6.5 4.7-1.9-3.4z" fill="#2685bf"/><path d="M381.1 357.3l1.9 3.4-5.2 4.3-1.9-3.3z" fill="#2682be"/><path d="M522.5 241l1.6 5.2-6.1 4.3-1.6-5.1z" fill="#4e9b55"/><path d="M518.1 244.2l1.6 5.2-6.7 3.8-1.6-5.2z" fill="#509b54"/><path d="M513.2 247l1.6 5.1-6.6 4.4-1.6-5.2z" fill="#539c53"/><path d="M508.3 250.1l1.6 5.2-6.3 6.4-1.6-5.2z" fill="#4d9a57"/><path d="M503.5 255.1l1.6 5.2-6.5 5.3-1.6-5.3z" fill="#479961"/><path d="M498.6 258.9l1.5 5.3-6.2 7-1.5-5.1z" fill="#40986e"/><path d="M493.7 264.5l1.6 5.2-6.3 6.4-1.6-5.1z" fill="#379880"/><path d="M488.9 269.6l1.6 5.1-6.5 4.9-1.6-4.9z" fill="#32988a"/><path d="M484 273.4l1.6 5-6.3 5.5-1.7-4.8z" fill="#2f9891"/><path d="M479.2 277.9l1.7 4.8-6.7 3.1-1.7-4.7z" fill="#309992"/><path d="M474.4 280.2l1.6 4.7-6.6 3.7-1.7-4.8z" fill="#349a8a"/><path d="M469.5 282.8l1.7 4.8-6.6 4.1-1.7-4.7z" fill="#369b86"/><path d="M464.6 285.9l1.7 4.7-6.6 3.9-1.7-4.8z" fill="#389b83"/><path d="M459.7 288.6l1.7 4.7-6.3 6.3-1.7-4.7z" fill="#369b87"/><path d="M454.9 293.5l1.6 4.6-6.3 6-1.7-4.6z" fill="#2f9a95"/><path d="M450 298.1l1.7 4.6-6.3 6.3-1.7-4.5z" fill="#2e9b9d"/><path d="M445.1 303.1l1.7 4.5-6.2 6.7-1.7-4.4z" fill="#2d9ba6"/><path d="M440.3 308.4l1.7 4.4-6.4 5.6-1.7-4.4z" fill="#2c9bae"/><path d="M435.4 312.6l1.7 4.4-6.2 6.8-1.7-4.2z" fill="#2b9cb6"/><path d="M430.6 318.1l1.7 4.2-6.3 6.1-1.8-4.1z" fill="#279abd"/><path d="M425.7 322.9l1.8 4.1-6.4 5.6-1.8-4z" fill="#2499c2"/><path d="M420.8 327.2l1.9 4-6.3 5.9-1.9-3.8z" fill="#2297c7"/><path d="M416 331.9l1.9 3.9-6.5 4.9-1.9-3.9z" fill="#2392c4"/><path d="M411.1 335.6l1.9 3.8-6.4 5.7-1.9-3.8z" fill="#238cc1"/><path d="M406.3 339.9l1.9 3.8-6.4 5.5-1.9-3.7z" fill="#2585bd"/><path d="M401.4 344.1l1.9 3.8-6.4 4.9-2-3.7z" fill="#2681bb"/><path d="M396.5 347.8l2 3.8-6.4 5.4-2-3.6z" fill="#277db9"/><path d="M391.7 352.1l2 3.6-6.5 4.4-2-3.4z" fill="#287bb9"/><path d="M386.8 355.5l2.1 3.5-6.5 4.6-2.1-3.4z" fill="#287bba"/><path d="M382 358.9l2 3.5-5.2 4.2-2-3.3z" fill="#2978b8"/><path d="M523.5 244.3l1.7 5.3-6.1 4.1-1.8-5.2z" fill="#409a72"/><path d="M519.1 247.4l1.7 5.2-6.6 3.8-1.8-5.2z" fill="#419b70"/><path d="M514.2 250.2l1.7 5.2-6.6 4.4-1.7-5.3z" fill="#429b6d"/><path d="M509.3 253.3l1.7 5.3-6.3 6.4-1.7-5.2z" fill="#3f9a74"/><path d="M504.4 258.3l1.8 5.3-6.5 5.3-1.7-5.3z" fill="#39997e"/><path d="M499.5 262.3l1.8 5.3-6.3 6.9-1.7-5.2z" fill="#32988b"/><path d="M494.7 267.8l1.7 5.2-6.3 6.2-1.7-5.1z" fill="#2d9899"/><path d="M489.9 272.7l1.7 5.1-6.4 4.9-1.8-5z" fill="#2d999e"/><path d="M485 276.4l1.8 5-6.4 5.3-1.8-4.7z" fill="#2d9aa1"/><path d="M480.2 280.7l1.8 4.8-6.7 3.2-1.8-4.8z" fill="#2d9ba2"/><path d="M475.3 283l1.8 4.8-6.6 3.6-1.8-4.7z" fill="#2e9b9e"/><path d="M470.5 285.7l1.8 4.7-6.6 4.1-1.8-4.7z" fill="#2e9c9c"/><path d="M465.6 288.7l1.8 4.7-6.6 3.9-1.8-4.8z" fill="#2e9c9b"/><path d="M460.7 291.4l1.8 4.8-6.3 6.1-1.8-4.7z" fill="#2e9c9d"/><path d="M455.8 296.2l1.9 4.7-6.4 5.9-1.8-4.6z" fill="#2d9ca3"/><path d="M451 300.7l1.8 4.7-6.3 6.3-1.8-4.6z" fill="#2d9caa"/><path d="M446.1 305.7l1.9 4.5-6.3 6.6-1.9-4.4z" fill="#2c9db4"/><path d="M441.3 310.9l1.9 4.4-6.4 5.6-1.9-4.4z" fill="#2a9cbb"/><path d="M436.4 315.1l1.9 4.4-6.3 6.6-1.9-4.2z" fill="#269abf"/><path d="M431.5 320.4l2 4.3-6.3 5.9-2-4z" fill="#2297c5"/><path d="M426.7 325.1l2 4.1-6.4 5.5-2-4z" fill="#2392c4"/><path d="M421.8 329.4l2 4-6.3 5.7-2.1-3.8z" fill="#248bc1"/><path d="M417 333.9l2 3.9-6.5 4.9-2-3.8z" fill="#2585bf"/><path d="M412.1 337.6l2.1 3.8-6.4 5.7-2.1-3.8z" fill="#2680bb"/><path d="M407.2 341.9l2.1 3.8-6.4 5.4-2.1-3.7z" fill="#2879b7"/><path d="M402.4 346.1l2.1 3.7-6.5 4.9-2.1-3.7z" fill="#2975b5"/><path d="M397.5 349.7l2.1 3.8-6.4 5.2-2.1-3.5z" fill="#2a72b3"/><path d="M392.7 353.9l2.1 3.5-6.5 4.4-2.2-3.5z" fill="#2b70b3"/><path d="M387.8 357.2l2.2 3.4-6.5 4.6-2.2-3.4z" fill="#2b71b4"/><path d="M382.9 360.6l2.2 3.4-5.1 4.2-2.3-3.3z" fill="#2c6eb3"/><path d="M524.6 247.6l1.9 5.3-6.2 4-1.9-5.1z" fill="#329b90"/><path d="M520.1 250.7l1.9 5.1-6.6 3.9-1.9-5.2z" fill="#339b8d"/><path d="M515.3 253.4l1.8 5.2-6.5 4.5-1.9-5.2z" fill="#349b8b"/><path d="M510.3 256.6l1.9 5.3-6.3 6.4-1.9-5.3z" fill="#309a92"/><path d="M505.5 261.6l1.9 5.2-6.4 5.5-1.9-5.3z" fill="#2e9a99"/><path d="M500.6 265.6l1.9 5.3-6.2 6.8-1.9-5.2z" fill="#2d99a0"/><path d="M495.8 271l1.9 5.2-6.3 6.1-1.9-5.1z" fill="#2c9aa8"/><path d="M491 275.9l1.9 5-6.5 4.8-1.9-4.9z" fill="#2c9bae"/><path d="M486.1 279.5l1.9 5-6.4 5-2-4.7z" fill="#2c9cb1"/><path d="M481.3 283.6l2 4.7-6.8 3.2-1.9-4.7z" fill="#2c9db1"/><path d="M476.4 285.9l2 4.7-6.7 3.6-2-4.7z" fill="#2d9dad"/><path d="M471.5 288.5l2 4.7-6.6 4.1-2-4.7z" fill="#2d9eab"/><path d="M466.7 291.5l2 4.7-6.7 4-1.9-4.8z" fill="#2d9ea9"/><path d="M461.8 294.3l1.9 4.7-6.3 6-2-4.6z" fill="#2d9eab"/><path d="M456.9 299l2 4.6-6.3 5.8-2.1-4.5z" fill="#2c9eb2"/><path d="M452 303.5l2.1 4.5-6.3 6.3-2.1-4.5z" fill="#2c9eba"/><path d="M447.2 308.3l2 4.5-6.3 6.5-2-4.4z" fill="#289cbf"/><path d="M442.3 313.5l2.1 4.4-6.4 5.5-2.1-4.4z" fill="#2499c4"/><path d="M437.5 317.7l2 4.3-6.2 6.4-2.1-4.1z" fill="#2295c6"/><path d="M432.6 322.8l2.1 4.2-6.3 5.8-2.1-4z" fill="#248bc1"/><path d="M427.8 327.4l2.1 4.1-6.4 5.3-2.2-3.9z" fill="#2684be"/><path d="M422.9 331.5l2.2 4-6.4 5.5-2.2-3.7z" fill="#277ebb"/><path d="M418 336l2.3 3.7-6.5 4.9-2.2-3.7z" fill="#297ab9"/><path d="M413.2 339.6l2.2 3.8-6.4 5.6-2.2-3.7z" fill="#2974b5"/><path d="M408.3 343.9l2.3 3.7-6.5 5.5-2.2-3.7z" fill="#2b6db1"/><path d="M403.5 348.1l2.2 3.7-6.5 4.8-2.2-3.7z" fill="#2c69af"/><path d="M398.6 351.7l2.3 3.6-6.4 5.1-2.4-3.4z" fill="#2d67ae"/><path d="M393.8 355.7l2.3 3.5-6.6 4.2-2.3-3.3z" fill="#2d67af"/><path d="M388.9 358.9l2.3 3.4-6.5 4.5-2.4-3.3z" fill="#2d68b0"/><path d="M384 362.3l2.4 3.3-5.2 4.2-2.4-3.3z" fill="#2e66af"/><path d="M525.8 250.9l2 5.2-6.2 4-2-5.1z" fill="#2e9da4"/><path d="M521.3 253.9l2.1 5.1-6.7 3.9-2-5.1z" fill="#2e9da2"/><path d="M516.4 256.7l2.1 5.1-6.6 4.6-2-5.2z" fill="#2e9ca1"/><path d="M511.5 260l2.1 5.2-6.3 6.2-2.1-5.1z" fill="#2d9ca4"/><path d="M506.7 264.9l2 5.1-6.4 5.6-2-5.2z" fill="#2c9caa"/><path d="M501.8 269l2 5.2-6.2 6.6-2.1-5z" fill="#2b9bb1"/><path d="M497 274.3l2 5.1-6.3 5.9-2.1-4.9z" fill="#2a9bb9"/><path d="M492.1 279l2.1 4.9-6.5 4.7-2.1-4.8z" fill="#289bbd"/><path d="M487.3 282.6l2.1 4.8-6.5 4.8-2.1-4.6z" fill="#289bbf"/><path d="M482.4 286.5l2.2 4.6-6.7 3.1-2.2-4.6z" fill="#299dbf"/><path d="M477.6 288.7l2.1 4.6-6.6 3.6-2.2-4.6z" fill="#2b9fbd"/><path d="M472.7 291.3l2.2 4.6-6.6 4.1-2.2-4.6z" fill="#2ca0bb"/><path d="M467.9 294.3l2.1 4.6-6.6 4-2.2-4.6z" fill="#2ca0b9"/><path d="M462.9 297.1l2.2 4.7-6.3 5.8-2.2-4.5z" fill="#2ca0bb"/><path d="M458.1 301.7l2.2 4.6-6.4 5.7-2.2-4.4z" fill="#2a9ec0"/><path d="M453.2 306.2l2.2 4.4-6.3 6.2-2.2-4.4z" fill="#269cc4"/><path d="M448.3 310.9l2.3 4.5-6.3 6.3-2.2-4.2z" fill="#2299c9"/><path d="M443.5 316l2.3 4.3-6.5 5.5-2.2-4.2z" fill="#238fc4"/><path d="M438.6 320.2l2.3 4.3-6.3 6.2-2.3-4.1z" fill="#2586bf"/><path d="M433.8 325.2l2.3 4.1-6.4 5.7-2.3-4z" fill="#277dba"/><path d="M428.9 329.7l2.4 3.9-6.5 5.2-2.3-3.8z" fill="#2977b7"/><path d="M424.1 333.7l2.3 3.8-6.3 5.3-2.5-3.5z" fill="#2b73b6"/><path d="M419.2 338l2.5 3.5-6.5 5-2.5-3.6z" fill="#2c6fb4"/><path d="M414.3 341.6l2.5 3.6-6.4 5.7-2.5-3.6z" fill="#2d69b0"/><path d="M409.5 345.9l2.4 3.6-6.4 5.4-2.4-3.6z" fill="#2d64ad"/><path d="M404.6 350l2.5 3.6-6.5 4.8-2.5-3.6z" fill="#2e62ac"/><path d="M399.8 353.6l2.4 3.6-6.4 4.9-2.5-3.4z" fill="#2e61ac"/><path d="M394.9 357.5l2.5 3.4-6.5 4.2-2.6-3.3z" fill="#2e61ac"/><path d="M390.1 360.6l2.5 3.3-6.5 4.5-2.6-3.3z" fill="#2f62ad"/><path d="M385.2 363.9l2.5 3.3-5.2 4.1-2.5-3.2z" fill="#2f61ad"/><path d="M527 254.2l2.3 4.9-6.2 3.9-2.3-4.8z" fill="#2d9fb5"/><path d="M522.6 257.1l2.2 4.8-6.6 4-2.3-4.9z" fill="#2da0b4"/><path d="M517.7 259.9l2.2 4.9-6.5 4.7-2.2-5z" fill="#2d9fb2"/><path d="M512.8 263.3l2.2 4.9-6.3 6.3-2.2-4.9z" fill="#2c9fb6"/><path d="M508 268.1l2.2 4.9-6.4 5.7-2.2-5z" fill="#2b9ebc"/><path d="M503.1 272.3l2.2 5-6.3 6.5-2.2-4.9z" fill="#279bbf"/><path d="M498.2 277.5l2.3 4.8-6.4 5.8-2.2-4.7z" fill="#2398c5"/><path d="M493.4 282l2.3 4.7-6.5 4.6-2.3-4.6z" fill="#2298c8"/><path d="M488.5 285.5l2.3 4.6-6.5 4.7-2.3-4.4z" fill="#2298c9"/><path d="M483.7 289.2l2.4 4.4-6.8 3.2-2.3-4.4z" fill="#239bca"/><path d="M478.8 291.5l2.4 4.4-6.7 3.5-2.3-4.3z" fill="#259dc8"/><path d="M474 294.1l2.3 4.3-6.6 4.1-2.3-4.4z" fill="#279fc7"/><path d="M469.1 297l2.4 4.4-6.6 4.1-2.4-4.4z" fill="#289fc5"/><path d="M464.2 299.9l2.4 4.5-6.4 5.7-2.4-4.3z" fill="#279ec7"/><path d="M459.4 304.4l2.3 4.4-6.4 5.7-2.3-4.3z" fill="#249cca"/><path d="M454.5 308.8l2.4 4.3-6.4 6.1-2.3-4.2z" fill="#2395c9"/><path d="M449.6 313.5l2.4 4.3-6.3 6.3-2.4-4.2z" fill="#258ac2"/><path d="M444.8 318.5l2.4 4.1-6.4 5.6-2.4-4.2z" fill="#2781bd"/><path d="M439.9 322.7l2.4 4.1-6.3 6.1-2.4-4z" fill="#2978b8"/><path d="M435.1 327.5l2.4 4-6.3 5.5-2.5-3.8z" fill="#2b6fb3"/><path d="M430.2 331.9l2.5 3.8-6.4 5-2.6-3.6z" fill="#2d6bb1"/><path d="M425.3 335.8l2.6 3.6-6.4 5-2.6-3.2z" fill="#2e69b2"/><path d="M420.5 339.9l2.6 3.2-6.4 4.9-2.7-3.2z" fill="#2e68b2"/><path d="M415.6 343.5l2.7 3.3-6.4 5.8-2.7-3.4z" fill="#2e63af"/><path d="M410.7 347.8l2.7 3.4-6.4 5.5-2.7-3.5z" fill="#2f5eab"/><path d="M405.9 351.9l2.6 3.5-6.5 4.7-2.6-3.4z" fill="#2f5ca9"/><path d="M401 355.5l2.7 3.4-6.5 4.8-2.6-3.2z" fill="#2f5ba9"/><path d="M396.2 359.2l2.7 3.3-6.6 4.1-2.7-3.1z" fill="#305caa"/><path d="M391.3 362.3l2.8 3.2-6.6 4.4-2.7-3.1z" fill="#305dab"/><path d="M386.5 365.6l2.7 3.1-5.2 4.1-2.8-3z" fill="#305bab"/><path d="M528.4 257.2l2.4 4.7-6.2 3.8-2.4-4.6z" fill="#29a0c4"/><path d="M523.9 260.1l2.4 4.5-6.6 4-2.4-4.6z" fill="#2aa1c3"/><path d="M519 262.9l2.4 4.6-6.5 4.8-2.4-4.7z" fill="#2aa0c2"/><path d="M514.1 266.4l2.4 4.6-6.3 6.2-2.4-4.6z" fill="#289ec4"/><path d="M509.3 271.2l2.4 4.6-6.4 5.7-2.4-4.7z" fill="#249bc7"/><path d="M504.4 275.4l2.4 4.7-6.3 6.4-2.4-4.6z" fill="#2395c7"/><path d="M499.6 280.5l2.4 4.5-6.4 5.6-2.4-4.4z" fill="#248cc2"/><path d="M494.8 284.9l2.4 4.4-6.5 4.4-2.5-4.2z" fill="#2588c1"/><path d="M489.9 288.3l2.5 4.3-6.5 4.4-2.5-4z" fill="#2689c3"/><path d="M485.1 291.8l2.5 4.1-6.7 3.2-2.5-4.1z" fill="#258ec6"/><path d="M480.2 294.1l2.5 4.1-6.6 3.5-2.6-4.1z" fill="#2495cb"/><path d="M475.3 296.7l2.6 4.1-6.6 4-2.6-4.1z" fill="#249acd"/><path d="M470.5 299.6l2.5 4.1-6.6 4.2-2.5-4.2z" fill="#239ccf"/><path d="M465.6 302.6l2.5 4.2-6.4 5.6-2.5-4.1z" fill="#2499cd"/><path d="M460.7 307l2.5 4.1-6.3 5.7-2.6-4.1z" fill="#2591c8"/><path d="M455.8 311.3l2.6 4.1-6.3 6-2.6-4z" fill="#2787c2"/><path d="M451 316l2.5 4-6.3 6.2-2.5-3.9z" fill="#297cbb"/><path d="M446.1 320.9l2.6 3.9-6.4 5.5-2.6-3.9z" fill="#2b73b6"/><path d="M441.3 325l2.6 4-6.4 5.9-2.6-3.7z" fill="#2c6ab1"/><path d="M436.4 329.8l2.7 3.7-6.4 5.4-2.7-3.6z" fill="#2e65ae"/><path d="M431.6 334l2.7 3.6-6.5 4.7-2.7-3.3z" fill="#2e64af"/><path d="M426.7 337.8l2.8 3.3-6.4 4.4-2.9-2.7z" fill="#3065b2"/><path d="M421.8 341.6l3 2.7-6.5 4.9-3-2.7z" fill="#3064b2"/><path d="M416.9 345.2l3 2.8-6.5 6.1-2.8-3.1z" fill="#305fae"/><path d="M412.1 349.6l2.8 3.1-6.4 5.6-2.8-3.2z" fill="#3059a9"/><path d="M407.3 353.8l2.8 3.2-6.5 4.7-2.8-3.2z" fill="#3056a7"/><path d="M402.4 357.3l2.8 3.2-6.5 4.6-2.8-3z" fill="#3156a7"/><path d="M397.6 360.9l2.8 3-6.6 4.1-2.8-2.9z" fill="#3156a8"/><path d="M392.7 364l2.9 2.9-6.6 4.4-2.9-3z" fill="#3157a9"/><path d="M387.8 367.2l2.9 2.9-5.2 4.1-2.9-2.9z" fill="#3156a8"/><path d="M529.8 260l2.8 4.5-6.2 3.8-2.8-4.4z" fill="#239ed0"/><path d="M525.3 262.8l2.8 4.4-6.6 4.1-2.8-4.5z" fill="#249fcf"/><path d="M520.5 265.7l2.7 4.5-6.5 4.9-2.7-4.6z" fill="#249ece"/><path d="M515.6 269.2l2.7 4.6-6.3 6.2-2.7-4.6z" fill="#2399cc"/><path d="M510.7 274l2.8 4.5-6.4 5.8-2.8-4.6z" fill="#258fc6"/><path d="M505.9 278.3l2.7 4.6-6.3 6.2-2.7-4.4z" fill="#2785c0"/><path d="M501 283.2l2.8 4.5-6.4 5.4-2.8-4.3z" fill="#297cbc"/><path d="M496.2 287.5l2.8 4.3-6.6 4.3-2.8-4.1z" fill="#2a7abb"/><path d="M491.3 290.8l2.9 4.2-6.6 4.3-2.8-4z" fill="#2a7bbd"/><path d="M486.5 294.2l2.9 4-6.7 3.2-2.9-4z" fill="#2980c0"/><path d="M481.6 296.5l2.9 4-6.7 3.5-2.8-4z" fill="#2888c5"/><path d="M476.8 299l2.8 4-6.6 4.1-2.8-4z" fill="#278cc8"/><path d="M471.9 302l2.9 4-6.6 4.3-2.9-4.1z" fill="#278fc9"/><path d="M467 305l2.9 4.1-6.4 5.6-2.9-4z" fill="#278bc7"/><path d="M462.1 309.3l2.9 4-6.4 5.7-2.8-3.9z" fill="#2983c2"/><path d="M457.3 313.7l2.9 4-6.4 6-2.9-4z" fill="#2a79bc"/><path d="M452.4 318.3l2.9 4-6.3 6.1-2.9-3.9z" fill="#2c6eb5"/><path d="M447.6 323.1l2.9 3.9-6.4 5.5-2.9-3.9z" fill="#2e67b0"/><path d="M442.7 327.3l2.9 3.8-6.3 5.8-3-3.7z" fill="#2e63ad"/><path d="M437.9 331.9l2.9 3.7-6.4 5.2-3-3.5z" fill="#2f5fac"/><path d="M433 336l3 3.5-6.4 4.3-3.1-3.1z" fill="#305ead"/><path d="M428.1 339.5l3.2 3.1-6.4 3.6-3.4-2z" fill="#3160b1"/><path d="M423.2 343l3.4 2.2-6.5 4.9-3.4-2.2z" fill="#3160b1"/><path d="M418.3 346.6l3.4 2.2-6.4 6.7-3.3-2.9z" fill="#315bad"/><path d="M413.5 351.2l3.2 2.9-6.4 5.8-3.2-3.1z" fill="#3155a8"/><path d="M408.7 355.4l3.1 3.2-6.5 4.6-3.1-3.1z" fill="#3153a6"/><path d="M403.8 358.9l3.2 3.1-6.5 4.6-3.2-3z" fill="#3152a6"/><path d="M399 362.5l3.2 2.9-6.6 4-3.2-2.8z" fill="#3153a7"/><path d="M394.1 365.5l3.2 2.8-6.5 4.4-3.2-2.9z" fill="#3154a7"/><path d="M389.2 368.7l3.3 2.8-5.3 4.2-3.2-2.9z" fill="#3153a7"/><path d="M531.5 262.8l3.2 4.4-6.2 3.7-3.3-4.3z" fill="#278fca"/><path d="M527 265.5l3.2 4.3-6.6 4.2-3.2-4.4z" fill="#2791cc"/><path d="M522.1 268.5l3.2 4.4-6.5 4.9-3.2-4.5z" fill="#2691cb"/><path d="M517.2 272.1l3.2 4.5-6.3 6.1-3.2-4.5z" fill="#2789c6"/><path d="M512.4 276.8l3.2 4.5-6.4 5.7-3.2-4.5z" fill="#297fbf"/><path d="M507.5 281.2l3.2 4.4-6.3 6.1-3.2-4.3z" fill="#2b75b9"/><path d="M502.7 286l3.2 4.3-6.4 5.2-3.3-4.1z" fill="#2d6db5"/><path d="M497.8 290.1l3.3 4.1-6.5 4.2-3.3-3.9z" fill="#2e6cb4"/><path d="M493 293.3l3.3 4-6.6 4.1-3.3-3.8z" fill="#2e6eb6"/><path d="M488.1 296.6l3.4 3.8-6.7 3.2-3.4-3.9z" fill="#2d73ba"/><path d="M483.3 298.8l3.3 3.9-6.6 3.5-3.4-3.8z" fill="#2c7bbf"/><path d="M478.4 301.4l3.4 3.8-6.6 4.1-3.4-3.9z" fill="#2b7fc2"/><path d="M473.5 304.4l3.4 3.8-6.6 4.4-3.3-4z" fill="#2a81c4"/><path d="M468.7 307.4l3.3 4-6.4 5.5-3.4-3.8z" fill="#2b7ec1"/><path d="M463.8 311.7l3.3 3.8-6.3 5.8-3.4-3.9z" fill="#2d76bc"/><path d="M458.9 316l3.4 3.9-6.4 6.1-3.3-4z" fill="#2e6cb5"/><path d="M454.1 320.6l3.3 3.9-6.3 6.1-3.4-3.8z" fill="#2f65b0"/><path d="M449.2 325.4l3.4 3.8-6.4 5.5-3.4-3.8z" fill="#2f60ad"/><path d="M444.4 329.5l3.3 3.9-6.3 5.6-3.4-3.7z" fill="#305bab"/><path d="M439.5 334l3.4 3.6-6.4 5-3.4-3.4z" fill="#3158a9"/><path d="M434.7 338l3.5 3.4-6.6 3.7-3.5-2.7z" fill="#3158ab"/><path d="M429.8 341.3l3.7 2.8-6.6 2.3-3.8-1.2z" fill="#315cae"/><path d="M424.8 344.2l4 1.4-6.5 4.8-4-1.3z" fill="#315cad"/><path d="M419.9 347.8l4 1.3-6.4 7.7-3.8-2.6z" fill="#3157aa"/><path d="M415.2 352.8l3.6 2.5-6.4 6.2-3.6-3z" fill="#3151a6"/><path d="M410.4 357.1l3.5 3-6.5 4.7-3.6-3z" fill="#304fa4"/><path d="M405.5 360.6l3.6 3-6.5 4.4-3.6-2.8z" fill="#314fa4"/><path d="M400.7 364.1l3.6 2.8-6.6 4-3.7-2.8z" fill="#3150a5"/><path d="M395.8 367l3.6 2.8-6.5 4.3-3.7-2.8z" fill="#3150a6"/><path d="M390.9 370.2l3.6 2.8-5.2 4.2-3.6-2.9z" fill="#3150a5"/><path d="M533.4 265.5l4 4.2-6.2 3.7-4-4.1z" fill="#2b80c4"/><path d="M529 268.2l4 4.1-6.6 4.3-4-4.2z" fill="#2b82c5"/><path d="M524.1 271.3l4 4.2-6.5 5.1-4-4.4z" fill="#2b81c4"/><path d="M519.2 274.9l4 4.4-6.4 6.1-3.9-4.4z" fill="#2c79be"/><path d="M514.4 279.6l3.9 4.4-6.4 5.7-3.9-4.3z" fill="#2e6eb7"/><path d="M509.5 284l4 4.4-6.4 5.7-4-4z" fill="#2f68b4"/><path d="M504.6 288.7l4.1 4.1-6.5 4.9-4-3.8z" fill="#3065b2"/><path d="M499.8 292.7l4.1 3.8-6.6 4.1-4.1-3.7z" fill="#3064b2"/><path d="M494.9 295.8l4.1 3.7-6.5 4-4.2-3.6z" fill="#3066b4"/><path d="M490.1 298.9l4.1 3.6-6.7 3.2-4.1-3.6z" fill="#3069b6"/><path d="M485.2 301.2l4.2 3.6-6.7 3.6-4.1-3.7z" fill="#2f6eb9"/><path d="M480.4 303.7l4.1 3.7-6.6 4.1-4.1-3.7z" fill="#2f72bc"/><path d="M475.5 306.7l4.1 3.7-6.5 4.3-4.2-3.7z" fill="#2e74be"/><path d="M470.6 309.9l4.1 3.6-6.4 5.3-4.1-3.4z" fill="#2f72bc"/><path d="M465.7 314.1l4.2 3.4-6.4 6-4.1-3.7z" fill="#306bb7"/><path d="M460.9 318.4l4.1 3.6-6.4 6.3-4-3.9z" fill="#3064b2"/><path d="M456 323l4.1 3.9-6.3 6.1-4.1-3.9z" fill="#305dad"/><path d="M451.2 327.7l4.1 3.9-6.4 5.4-4.1-3.8z" fill="#3157a9"/><path d="M446.3 331.9l4.1 3.8-6.4 5.4-4.1-3.6z" fill="#3154a8"/><path d="M441.5 336.2l4.1 3.6-6.4 4.8-4.2-3.4z" fill="#3153a7"/><path d="M436.7 340l4.2 3.5-6.6 2.9-4.3-2.5z" fill="#3154a8"/><path d="M431.8 342.9l4.3 2.7-6.6 1.1-4.5-.9z" fill="#3158ab"/><path d="M426.8 344.9l4.6 1.2-6.5 4.8-4.6-1.1z" fill="#305bab"/><path d="M421.9 348.5l4.6 1.1-6.3 8.6-4.4-2.5z" fill="#3054a6"/><path d="M417.1 354.2l4.4 2.3-6.4 6.7-4.3-3z" fill="#304ea3"/><path d="M412.3 358.9l4.3 2.9-6.5 4.6-4.3-2.9z" fill="#304ba2"/><path d="M407.5 362.3l4.3 3-6.6 4.2-4.3-2.7z" fill="#304ba2"/><path d="M402.6 365.7l4.3 2.7-6.6 4-4.3-2.8z" fill="#304ca2"/><path d="M397.8 368.6l4.3 2.7-6.6 4.4-4.3-2.8z" fill="#304da3"/><path d="M392.9 371.8l4.3 2.7-5.2 4.3-4.3-2.9z" fill="#304ca2"/><path d="M536 268.3l5.2 3.7-6.3 3.8-5.2-3.8z" fill="#2f71bc"/><path d="M531.5 270.9l5.2 3.8-6.6 4.5-5.2-4z" fill="#2f73bd"/><path d="M526.6 274.1l5.2 3.9-6.5 5.3-5.2-4.2z" fill="#2f70bb"/><path d="M521.7 277.8l5.2 4.2-6.4 6-5.1-4.1z" fill="#306bb7"/><path d="M516.9 282.5l5.1 4.1-6.4 5.7-5.1-4z" fill="#3065b3"/><path d="M512 286.9l5.2 4-6.4 5.2-5.2-3.4z" fill="#3160b1"/><path d="M507.2 291.4l5.2 3.4-6.4 4.4-5.3-2.8z" fill="#315dae"/><path d="M502.3 295.2l5.4 2.8-6.6 4.3-5.4-3z" fill="#315daf"/><path d="M497.5 298.3l5.3 2.9-6.6 4.2-5.3-3.2z" fill="#315fb0"/><path d="M492.6 301.2l5.3 3.1-6.7 3.5-5.3-3.4z" fill="#3162b2"/><path d="M487.8 303.5l5.2 3.3-6.6 3.7-5.3-3.4z" fill="#3066b5"/><path d="M482.9 306.1l5.3 3.4-6.6 3.9-5.3-3.2z" fill="#3069b7"/><path d="M478 309.1l5.4 3.2-6.6 3.5-5.4-2.4z" fill="#306bb8"/><path d="M473.1 312.2l5.4 2.6-6.4 4.6-5.4-1.7z" fill="#2f69b5"/><path d="M468.2 316.3l5.5 1.9-6.3 6.7-5.5-2.7z" fill="#3064b2"/><path d="M463.4 320.8l5.4 2.6-6.4 7.2-5.3-3.7z" fill="#315dae"/><path d="M458.6 325.5l5.2 3.6-6.3 6.4-5.2-3.9z" fill="#3155a9"/><path d="M453.8 330.2l5.1 3.8-6.4 5.5-5.2-3.8z" fill="#3152a6"/><path d="M448.9 334.3l5.2 3.9-6.4 5.2-5.2-3.6z" fill="#314fa5"/><path d="M444.1 338.5l5.2 3.7-6.5 4.5-5.3-3.4z" fill="#314ea4"/><path d="M439.2 342.2l5.3 3.4-6.7 2.9-5.3-3.2z" fill="#314fa4"/><path d="M434.4 344.6l5.3 3.2-6.9 1.2-5.3-2.9z" fill="#3155a9"/><path d="M429.5 345.4l5.3 3.1-6.5 4.8-5.3-3z" fill="#3259ac"/><path d="M424.5 349l5.3 3-6 8.1-5.4-2.9z" fill="#3051a4"/><path d="M419.7 355.6l5.3 2.9-6.2 6.4-5.4-2.8z" fill="#30499f"/><path d="M414.9 360.6l5.3 2.9-6.5 4.6-5.3-2.8z" fill="#30479f"/><path d="M410 364.2l5.4 2.8-6.6 4.1-5.3-2.6z" fill="#30479f"/><path d="M405.2 367.4l5.4 2.6-6.6 4-5.4-2.7z" fill="#30489f"/><path d="M400.3 370.3l5.4 2.7-6.6 4.5-5.3-2.9z" fill="#3049a0"/><path d="M395.4 373.5l5.4 2.8-5.2 4.3-5.4-2.9z" fill="#30489f"/><path d="M539.5 270.9l5.9 2.8-6.2 3.8-6-2.8z" fill="#3068b6"/><path d="M535 273.6l5.9 2.8-6.5 4.8-6-3.2z" fill="#3069b6"/><path d="M530.1 276.9l5.9 3-6.4 5.5-5.9-3.3z" fill="#3067b5"/><path d="M525.2 280.8l5.9 3.2-6.3 6-5.9-3.2z" fill="#3162b2"/><path d="M520.4 285.4l5.9 3.2-6.4 5.2-5.9-2.7z" fill="#315cae"/><path d="M515.5 289.8l6 2.7-6.5 3.1-6-.4z" fill="#3058a8"/><path d="M510.7 293.9l6.1.8-6.7 2.6-6 1.2z" fill="#2d55a0"/><path d="M505.8 297.4l6.1-1.1-6.4 5.7-6.3-.5z" fill="#2e56a2"/><path d="M500.9 300.4l6.1.3-6.4 5.9-6.2-2.2z" fill="#3059a8"/><path d="M496.1 303.4l6.1 1.9-6.7 4.1-6-2.6z" fill="#315bac"/><path d="M491.3 305.8l6 2.5-6.7 3.8-6-2.6z" fill="#315faf"/><path d="M486.4 308.5l6 2.6-6.6 3.2-6-1.9z" fill="#3062b1"/><path d="M481.6 311.4l6 2.1-6.7 1.5-6 .1z" fill="#2f65b1"/><path d="M476.6 314.1l6.2.3-6.6 3.4-6 1.2z" fill="#2d66ae"/><path d="M471.7 317.7l6.1-1.1-6.1 8.2-6.2-.7z" fill="#2d60a9"/><path d="M466.9 322.6l6.1.5-6.2 9.1-6.1-2.7z" fill="#3056a6"/><path d="M462.1 328l5.9 2.6-6.3 7-5.9-3.3z" fill="#3050a4"/><path d="M457.3 332.9l5.8 3.3-6.4 5.5-5.9-3.3z" fill="#304ca2"/><path d="M452.4 337l5.9 3.4-6.5 5-5.8-3.1z" fill="#304aa0"/><path d="M447.6 341l5.9 3.2-6.6 4.4-5.9-2.9z" fill="#30489f"/><path d="M442.8 344.5l5.9 3-6.8 3.8-5.9-3.9z" fill="#304aa1"/><path d="M438 346.7l5.7 3.7-6.9 3.2-5.7-5.7z" fill="#304ea4"/><path d="M433.1 347.4l5.5 5.3-6.5 4.8-5.5-5.3z" fill="#3151a6"/><path d="M428.1 350.9l5.6 5.3-6 6.3-5.7-3.4z" fill="#304ca2"/><path d="M423.2 357.5l5.9 3.6-6.3 5.3-5.9-2.4z" fill="#2f469c"/><path d="M418.4 362.6l6 2.5-6.5 4.4-6-2.3z" fill="#2e449b"/><path d="M413.6 366.1l6 2.3-6.6 4.1-6-2.2z" fill="#2e459b"/><path d="M408.7 369.2l6 2.2-6.6 4.1-6-2.3z" fill="#2f459c"/><path d="M403.8 372.1l6 2.3-6.5 4.7-6-2.5z" fill="#2f469c"/><path d="M399 375.4l5.9 2.5-5.2 4.5-5.9-2.7z" fill="#2f459c"/><path d="M543.5 272.9l6 1.7-6.3 4-5.9-1.9z" fill="#2f62b0"/><path d="M539 275.6l5.9 1.9-6.5 4.9-5.9-2.1z" fill="#3063b1"/><path d="M534.2 279l5.8 2.1-6.4 5.6-5.9-2.2z" fill="#3060af"/><path d="M529.3 283.1l5.9 2.3-6.4 5.8-5.9-2.1z" fill="#305bac"/><path d="M524.5 287.7l5.9 2.2-6.5 4.4-5.9-1.3z" fill="#3157a8"/><path d="M519.6 291.8l6 1.5-6.9.2-5.7 2.1z" fill="#2e57a4"/><path d="M514.8 294.6l6-1.4-7.1.3-5.6 4.3z" fill="#2a599e"/><path d="M509.9 296.8l5.7-3.8-6.1 7.5-6.1 1.6z" fill="#29589b"/><path d="M505 300.8l5.9-1.9-6.1 8.2-6.2-1.1z" fill="#2d57a2"/><path d="M500.2 304.7l6 .9-6.6 4.8-6-1.8z" fill="#3057a7"/><path d="M495.4 307.6l5.9 1.7-6.7 4-5.9-2z" fill="#305aaa"/><path d="M490.5 310.3l5.9 2-6.7 3.2-5.9-1.8z" fill="#305ead"/><path d="M485.7 312.8l5.9 1.9-6.8 1.5-5.9-1.3z" fill="#2f66b3"/><path d="M480.8 314.2l5.9 1.4-6.6 3.4-6-1z" fill="#2f6db7"/><path d="M475.8 316.8l6 1.1-6.1 8.4-6-1.8z" fill="#2e64ae"/><path d="M470.9 322.9l6 1.7-6.1 9.3-5.9-2.5z" fill="#2f53a2"/><path d="M466.1 329.8l5.9 2.4-6.2 7.1-5.9-2.6z" fill="#2f4b9f"/><path d="M461.3 335.2l5.9 2.6-6.4 5.5-5.9-2.6z" fill="#2f479e"/><path d="M456.5 339.4l5.8 2.6-6.4 4.8-5.9-2.3z" fill="#2f469d"/><path d="M451.6 343.2l5.9 2.4-6.5 4.4-5.9-2.2z" fill="#2f459c"/><path d="M446.8 346.6l5.9 2.2-6.7 4.3-5.8-2.8z" fill="#2f469c"/><path d="M442 349.3l5.8 2.7-6.8 4.5-5.7-4.3z" fill="#30489f"/><path d="M437.1 351.3l5.6 4.1-6.5 4.8-5.6-4.1z" fill="#3049a0"/><path d="M432.2 354.9l5.7 4-6.3 5.1-5.7-2.5z" fill="#2f479e"/><path d="M427.3 360.1l5.9 2.6-6.4 4.8-5.9-1.8z" fill="#2e449a"/><path d="M422.5 364.4l5.9 1.9-6.5 4.2-6-1.7z" fill="#2e4298"/><path d="M417.6 367.7l6 1.7-6.6 4.1-5.9-1.7z" fill="#2e4398"/><path d="M412.8 370.7l5.9 1.7-6.6 4.3-5.9-1.9z" fill="#2e4399"/><path d="M407.9 373.7l5.9 1.8-6.5 4.9-5.9-2.1z" fill="#2e449a"/><path d="M403 377.1l5.9 2-5.2 4.7-5.8-2.3z" fill="#2e4399"/><path d="M547.5 274l6 1.2-6.2 4.2-6-1.4z" fill="#2f60ac"/><path d="M543 276.9l6 1.4-6.5 5.1-6-1.7z" fill="#2f60ad"/><path d="M538.1 280.5l6 1.6-6.4 5.7-6-1.8z" fill="#305dab"/><path d="M533.2 284.7l6.1 1.7-6.4 5.8-6-1.7z" fill="#3058a8"/><path d="M528.4 289.2l6.1 1.7-6.6 4.3-6-1.4z" fill="#3055a6"/><path d="M523.6 292.8l6.1 1.5-6.9.3-6.1-.8z" fill="#2f5ba9"/><path d="M518.8 293.6l6.1.9-6.9.3-6.1-.4z" fill="#2e69b1"/><path d="M513.8 293.9l6.1.4-6.2 7.3-6.1-.7z" fill="#2c67ad"/><path d="M508.9 299.3l6.1.8-6.1 7.8-6.2-1.1z" fill="#2d5ba4"/><path d="M504.1 305.3l6.1 1.1-6.5 4.9-6.1-1.4z" fill="#2f56a5"/><path d="M499.3 308.7l6.1 1.4-6.6 4.3-6.1-1.7z" fill="#3058a8"/><path d="M494.5 311.6l6 1.7-6.7 4.3-6-2.7z" fill="#305bac"/><path d="M489.7 314.1l5.9 2.5-6.9 3.7-5.8-4.7z" fill="#3162b2"/><path d="M484.8 315l5.7 4.3-6.7 4.8-5.6-5.7z" fill="#3068b6"/><path d="M479.9 317.3l5.5 5.5-6.1 7.3-5.5-4.6z" fill="#3060b0"/><path d="M475 323.9l5.6 4.6-5.9 7.6-5.8-3z" fill="#3051a3"/><path d="M470.1 331.4l5.9 3.2-6.2 6.3-5.9-2.4z" fill="#2f489d"/><path d="M465.3 337l6 2.5-6.5 5.2-5.9-2.2z" fill="#2e459b"/><path d="M460.4 341.2l6 2.2-6.5 4.6-6-1.9z" fill="#2e449a"/><path d="M455.6 344.9l6 1.9-6.6 4.2-6-1.7z" fill="#2e4399"/><path d="M450.7 348.2l6.1 1.7-6.6 4.2-6-1.8z" fill="#2e4399"/><path d="M445.9 351.2l6 1.8-6.6 4.6-6-2.2z" fill="#2e449a"/><path d="M441 354.3l6 2.1-6.5 4.8-6-2.1z" fill="#2f459c"/><path d="M436.1 357.8l6 2.2-6.4 4.9-6-1.7z" fill="#2e449a"/><path d="M431.3 361.9l6 1.8-6.5 4.6-6-1.4z" fill="#2d4298"/><path d="M426.5 365.7l6 1.4-6.6 4.3-6-1.4z" fill="#2d4196"/><path d="M421.6 368.9l6.1 1.4-6.6 4.1-6.1-1.4z" fill="#2d4196"/><path d="M416.7 371.9l6.1 1.4-6.6 4.4-6-1.6z" fill="#2d4297"/><path d="M411.9 374.9l6 1.7-6.5 5-6-1.9z" fill="#2d4298"/><path d="M407 378.5l6 1.8-5.2 4.7-6-2z" fill="#2d4197"/><path d="M551.5 274.9l6.6 1-6.2 4.4-6.6-1.3z" fill="#2e5fab"/><path d="M547 277.8l6.6 1.3-6.5 5.3-6.5-1.5z" fill="#2f5eab"/><path d="M542.2 281.6l6.5 1.5-6.4 5.7-6.5-1.6z" fill="#2f5ba9"/><path d="M537.3 285.9l6.5 1.6-6.3 5.7-6.6-1.5z" fill="#3056a5"/><path d="M532.5 290.3l6.5 1.5-6.5 5-6.6-2.1z" fill="#3054a5"/><path d="M527.7 293.8l6.5 1.9-7 3.3-6.3-4.9z" fill="#315aab"/><path d="M522.9 294l6.2 4.2-7 2.8-6-6.7z" fill="#3066b4"/><path d="M518 293.9l6 6.3-6.3 5.1-6-4.1z" fill="#3068b6"/><path d="M513 299.6l6.3 4.4-6.2 5.2-6.3-1.7z" fill="#305dab"/><path d="M508.2 305.9l6.5 2-6.5 4.4-6.5-1.4z" fill="#2f56a6"/><path d="M503.4 309.7l6.5 1.4-6.6 4.6-6.5-1.8z" fill="#3057a6"/><path d="M498.5 312.8l6.5 1.7-6.6 5.1-6.5-2.8z" fill="#3058a9"/><path d="M493.7 315.8l6.4 2.5-6.7 5.5-6.3-4.8z" fill="#315aac"/><path d="M488.8 318.1l6.2 4.4-6.5 5.9-6.1-5.8z" fill="#3259ac"/><path d="M484 321.4l6 5.6-6.2 6.5-6-4.7z" fill="#3153a7"/><path d="M479.1 327.2l6.2 4.8-6.2 6.2-6.2-3z" fill="#304ca1"/><path d="M474.2 333.6l6.4 3.2-6.3 5.6-6.4-2.3z" fill="#2f459c"/><path d="M469.3 338.7l6.5 2.3-6.4 4.9-6.5-1.9z" fill="#2e4399"/><path d="M464.5 342.7l6.5 2-6.5 4.3-6.5-1.6z" fill="#2d4298"/><path d="M459.7 346.2l6.5 1.7-6.6 4-6.5-1.5z" fill="#2d4297"/><path d="M454.8 349.3l6.5 1.5-6.6 4.1-6.5-1.3z" fill="#2d4297"/><path d="M449.9 352.4l6.6 1.4-6.6 4.6-6.5-1.4z" fill="#2d4297"/><path d="M445.1 355.8l6.5 1.4-6.5 4.8-6.5-1.4z" fill="#2d4297"/><path d="M440.2 359.4l6.5 1.4-6.4 4.9-6.6-1.3z" fill="#2d4296"/><path d="M435.4 363.1l6.5 1.4-6.5 4.7-6.6-1.4z" fill="#2d4195"/><path d="M430.5 366.7l6.6 1.3-6.6 4.3-6.6-1.3z" fill="#2c4095"/><path d="M425.7 369.8l6.5 1.4-6.6 4.2-6.5-1.4z" fill="#2d4195"/><path d="M420.8 372.9l6.5 1.4-6.5 4.5-6.6-1.6z" fill="#2d4296"/><path d="M415.9 376l6.5 1.6-6.4 5.3-6.6-1.9z" fill="#2d4197"/><path d="M411.1 379.7l6.5 1.9-5.2 4.7-6.5-1.9z" fill="#2d4096"/><path d="M556.1 275.6l6 .9-6.1 4.7-6.1-1.3z" fill="#2e60ab"/><path d="M551.6 278.7l6 1.2-6.4 5.5-6.1-1.4z" fill="#2f5eab"/><path d="M546.7 282.6l6 1.4-6.3 5.8-6.1-1.4z" fill="#2f5aa8"/><path d="M541.8 287l6.1 1.4-6.4 5.6-6-1.3z" fill="#3055a5"/><path d="M537 291.4l6.1 1.3-6.5 5.2-6.1-1.7z" fill="#3052a3"/><path d="M532.2 295.1l6 1.5-6.7 4.6-6-3.3z" fill="#3155a7"/><path d="M527.4 297.1l5.8 3-6.7 4.1-5.8-4.6z" fill="#315aac"/><path d="M522.5 298.7l5.7 4.4-6.4 4-5.8-2.9z" fill="#315cae"/><path d="M517.6 302.9l5.9 3.1-6.4 4.1-5.9-1.5z" fill="#3159ab"/><path d="M512.7 307.3l6.1 1.6-6.6 4.3-6-1.4z" fill="#3056a6"/><path d="M507.9 310.7l6 1.3-6.5 4.8-6.1-1.7z" fill="#3056a6"/><path d="M503 314l6 1.6-6.4 5.2-6.1-2z" fill="#3055a6"/><path d="M498.2 317.6l5.9 1.9-6.4 5.9-6-2.7z" fill="#3154a7"/><path d="M493.3 321.4l5.9 2.6-6.4 6.2-5.9-3.1z" fill="#3151a6"/><path d="M488.4 325.7l5.9 3.1-6.3 6.3-5.8-2.8z" fill="#304da2"/><path d="M483.6 330.8l5.9 2.8-6.3 6-5.9-2.3z" fill="#2f479d"/><path d="M478.7 335.9l6 2.3-6.4 5.4-6-1.9z" fill="#2e449a"/><path d="M473.9 340.4l6 1.9-6.5 4.6-6-1.6z" fill="#2d4298"/><path d="M469 344.1l6.1 1.7-6.6 4-6-1.3z" fill="#2d4196"/><path d="M464.2 347.4l6 1.3-6.6 3.9-6-1.2z" fill="#2d4195"/><path d="M459.3 350.4l6.1 1.1-6.6 4.1-6.1-1.1z" fill="#2d4296"/><path d="M454.5 353.4l6 1.1-6.5 4.5-6.1-1z" fill="#2d4296"/><path d="M449.6 356.8l6.1 1.1-6.5 4.9-6.1-1.2z" fill="#2d4296"/><path d="M444.7 360.4l6.1 1.1-6.5 5-6-1.2z" fill="#2d4195"/><path d="M439.9 364.1l6.1 1.1-6.6 4.7-6-1.1z" fill="#2c4095"/><path d="M435 367.6l6.1 1.1-6.6 4.4-6-1.2z" fill="#2c4095"/><path d="M430.2 370.8l6.1 1.2-6.6 4.3-6.1-1.3z" fill="#2d4195"/><path d="M425.3 373.9l6.1 1.2-6.6 4.7-6-1.5z" fill="#2d4196"/><path d="M420.5 377.2l6 1.4-6.5 5.4-6-1.7z" fill="#2d4196"/><path d="M415.6 381l6 1.7-5.2 4.8-6-1.7z" fill="#2c3f95"/><path d="M560.1 276.2l7.5 1.5-6.1 4.9-7.5-1.9z" fill="#2f61ac"/><path d="M555.6 279.5l7.5 1.8-6.4 5.6-7.5-2z" fill="#2f5eab"/><path d="M550.7 283.6l7.5 1.9-6.4 5.7-7.4-1.9z" fill="#3059a8"/><path d="M545.9 287.9l7.5 2-6.4 5.4-7.5-1.7z" fill="#3054a5"/><path d="M541.1 292.3l7.4 1.7-6.4 5-7.5-1.6z" fill="#2f52a3"/><path d="M536.2 296.1l7.5 1.7-6.6 4.5-7.5-1.9z" fill="#3052a3"/><path d="M531.4 299.3l7.4 1.9-6.6 4.2-7.5-2.3z" fill="#3054a6"/><path d="M526.5 302l7.5 2.3-6.6 4-7.5-2z" fill="#3156a8"/><path d="M521.7 305.2l7.4 2-6.5 4.1-7.5-1.8z" fill="#3156a7"/><path d="M516.8 308.4l7.5 1.8-6.6 4.5-7.5-2z" fill="#3055a6"/><path d="M511.9 311.6l7.5 1.9-6.5 5-7.5-2.3z" fill="#3055a6"/><path d="M507.1 315l7.4 2.2-6.4 5.5-7.5-2.5z" fill="#3054a5"/><path d="M502.2 318.9l7.4 2.4-6.3 6-7.5-2.7z" fill="#3051a4"/><path d="M497.3 323.2l7.4 2.7-6.3 6.3-7.4-2.9z" fill="#304da1"/><path d="M492.5 327.9l7.4 2.8-6.3 6.3-7.4-2.8z" fill="#2f489e"/><path d="M487.6 332.8l7.4 2.8-6.3 5.8-7.4-2.5z" fill="#2e459b"/><path d="M482.8 337.5l7.4 2.5-6.4 5.1-7.4-2.1z" fill="#2d4298"/><path d="M477.9 341.7l7.5 2.2-6.5 4.3-7.5-1.8z" fill="#2d4196"/><path d="M473.1 345.2l7.5 1.9-6.6 3.7-7.5-1.4z" fill="#2d4195"/><path d="M468.2 348.3l7.6 1.5-6.7 3.6-7.5-1.2z" fill="#2d4195"/><path d="M463.4 351.1l7.5 1.3-6.6 4.1-7.5-1.3z" fill="#2d4296"/><path d="M458.5 354.1l7.5 1.3-6.5 4.6-7.5-1.3z" fill="#2d4296"/><path d="M453.6 357.5l7.6 1.3-6.5 5-7.5-1.4z" fill="#2d4296"/><path d="M448.8 361.1l7.5 1.4-6.5 5-7.5-1.4z" fill="#2d4195"/><path d="M443.9 364.9l7.5 1.4-6.5 4.7-7.5-1.5z" fill="#2c4195"/><path d="M439.1 368.4l7.5 1.4-6.6 4.4-7.5-1.5z" fill="#2c4195"/><path d="M434.2 371.6l7.5 1.5-6.5 4.4-7.5-1.7z" fill="#2d4195"/><path d="M429.4 374.7l7.5 1.7-6.5 4.9-7.5-2z" fill="#2d4196"/><path d="M424.5 378.1l7.5 1.9-6.4 5.5-7.5-2.1z" fill="#2d4096"/><path d="M419.6 382.1l7.5 2.1-5.2 4.7-7.5-2z" fill="#2c3e94"/><path d="M565.6 277.3l7.5 2-6.1 5.1-7.5-2.3z" fill="#2f60ae"/><path d="M561.1 280.8l7.5 2.3-6.4 5.6-7.5-2.4z" fill="#305dac"/><path d="M556.2 285l7.5 2.4-6.4 5.6-7.4-2.3z" fill="#3058a8"/><path d="M551.4 289.4l7.5 2.2-6.5 5.3-7.4-2z" fill="#3054a5"/><path d="M546.6 293.5l7.4 2.1-6.5 4.8-7.4-1.9z" fill="#3052a3"/><path d="M541.7 297.3l7.5 1.9-6.6 4.4-7.4-1.8z" fill="#3051a2"/><path d="M536.9 300.7l7.4 1.8-6.5 4.1-7.5-1.8z" fill="#3052a3"/><path d="M532 303.7l7.5 1.8-6.6 4.2-7.5-2z" fill="#3053a4"/><path d="M527.1 306.7l7.5 1.9-6.6 4.4-7.4-2.2z" fill="#3054a5"/><path d="M522.3 309.7l7.4 2.2-6.5 4.7-7.5-2.4z" fill="#3054a6"/><path d="M517.4 313l7.5 2.4-6.5 5.1-7.5-2.6z" fill="#3054a6"/><path d="M512.6 316.6l7.4 2.6-6.4 5.6-7.5-2.8z" fill="#3052a5"/><path d="M507.7 320.7l7.4 2.7-6.4 6.1-7.4-2.9z" fill="#304ea2"/><path d="M502.8 325.2l7.4 2.8-6.3 6.3-7.4-2.9z" fill="#2f4a9f"/><path d="M498 330l7.4 2.9-6.3 6.2-7.4-2.8z" fill="#2e459b"/><path d="M493.1 334.9l7.4 2.8-6.3 5.5-7.4-2.5z" fill="#2e4399"/><path d="M488.3 339.4l7.4 2.5-6.5 4.7-7.4-2z" fill="#2d4197"/><path d="M483.4 343.3l7.5 2.1-6.6 3.9-7.4-1.6z" fill="#2d4095"/><path d="M478.6 346.6l7.5 1.6-6.7 3.5-7.4-1.3z" fill="#2c4095"/><path d="M473.7 349.4l7.6 1.3-6.7 3.6-7.5-1.2z" fill="#2d4195"/><path d="M468.9 352.1l7.5 1.2-6.6 4.2-7.5-1.4z" fill="#2d4296"/><path d="M464 355l7.5 1.3-6.5 4.8-7.5-1.4z" fill="#2d4396"/><path d="M459.1 358.5l7.5 1.4-6.4 5.1-7.5-1.6z" fill="#2d4296"/><path d="M454.3 362.2l7.5 1.5-6.5 5-7.5-1.6z" fill="#2d4196"/><path d="M449.4 365.9l7.5 1.6-6.5 4.7-7.5-1.6z" fill="#2d4195"/><path d="M444.6 369.4l7.5 1.6-6.6 4.5-7.5-1.7z" fill="#2d4195"/><path d="M439.7 372.7l7.5 1.7-6.5 4.5-7.5-1.8z" fill="#2d4196"/><path d="M434.9 375.9l7.4 1.9-6.4 5-7.5-2z" fill="#2d4196"/><path d="M430 379.5l7.5 2-6.4 5.6-7.5-2.1z" fill="#2c4095"/><path d="M425.1 383.6l7.5 2.1-5.2 4.7-7.5-2z" fill="#2c3e94"/><path d="M571.1 278.7l7.4 2.6-6 5.3-7.5-2.8z" fill="#305ead"/><path d="M566.6 282.4l7.4 2.8-6.4 5.7-7.4-2.8z" fill="#305aab"/><path d="M561.8 286.7l7.4 2.8-6.4 5.5-7.4-2.6z" fill="#3155a7"/><path d="M556.9 291l7.4 2.7-6.4 5-7.4-2.4z" fill="#3053a5"/><path d="M552.1 295l7.4 2.5-6.5 4.6-7.4-2.2z" fill="#3051a4"/><path d="M547.2 298.7l7.5 2.2-6.6 4.4-7.4-2.2z" fill="#3051a3"/><path d="M542.4 302l7.4 2.2-6.6 4.2-7.4-2.3z" fill="#3051a3"/><path d="M537.5 305l7.5 2.3-6.6 4.4-7.5-2.5z" fill="#3052a4"/><path d="M532.6 308.1l7.5 2.4-6.6 4.6-7.4-2.7z" fill="#3053a5"/><path d="M527.8 311.3l7.4 2.6-6.5 4.8-7.4-2.8z" fill="#3053a5"/><path d="M522.9 314.7l7.4 2.8-6.4 5.2-7.4-2.9z" fill="#3051a5"/><path d="M518.1 318.5l7.3 2.9-6.3 5.7-7.4-3z" fill="#304fa3"/><path d="M513.2 322.7l7.4 3-6.4 6.1-7.4-3.1z" fill="#304ba0"/><path d="M508.3 327.3l7.4 3.1-6.3 6.2-7.4-3z" fill="#2f469c"/><path d="M503.5 332.1l7.4 3.1-6.4 5.9-7.4-2.8z" fill="#2e439a"/><path d="M498.6 336.9l7.4 2.8-6.4 5.2-7.4-2.3z" fill="#2d4198"/><path d="M493.8 341.2l7.4 2.4-6.5 4.3-7.4-1.9z" fill="#2d4096"/><path d="M488.9 344.9l7.5 1.9-6.6 3.5-7.5-1.5z" fill="#2c4095"/><path d="M484.1 347.8l7.5 1.6-6.7 3.2-7.5-1.3z" fill="#2c4094"/><path d="M479.2 350.4l7.5 1.3-6.6 3.6-7.5-1.3z" fill="#2d4295"/><path d="M474.4 353l7.5 1.3-6.6 4.3-7.5-1.5z" fill="#2d4396"/><path d="M469.5 356l7.5 1.4-6.5 5-7.5-1.7z" fill="#2d4397"/><path d="M464.6 359.5l7.5 1.6-6.4 5.2-7.5-1.8z" fill="#2d4297"/><path d="M459.8 363.3l7.5 1.7-6.5 5.1-7.5-1.8z" fill="#2d4296"/><path d="M454.9 367.1l7.5 1.8-6.5 4.7-7.5-1.8z" fill="#2d4196"/><path d="M450.1 370.6l7.5 1.8-6.6 4.6-7.5-1.9z" fill="#2d4196"/><path d="M445.2 373.9l7.5 1.9-6.5 4.7-7.5-2.1z" fill="#2d4196"/><path d="M440.4 377.3l7.4 2-6.4 5.1-7.5-2.2z" fill="#2d4096"/><path d="M435.5 381l7.5 2.1-6.5 5.5-7.4-2.1z" fill="#2c3f95"/><path d="M430.6 385.2l7.5 2.1-5.2 4.5-7.5-1.9z" fill="#2c3d93"/><path d="M576.6 280.6l7.4 3.2-6.1 5.3-7.3-3.3z" fill="#3159ab"/><path d="M572.1 284.5l7.4 3.3-6.4 5.6-7.4-3.2z" fill="#3155a8"/><path d="M567.3 288.8l7.3 3.2-6.4 5.3-7.4-3z" fill="#3152a6"/><path d="M562.4 293l7.4 3-6.5 4.8-7.4-2.7z" fill="#3050a4"/><path d="M557.6 296.8l7.4 2.8-6.6 4.5-7.4-2.6z" fill="#304fa3"/><path d="M552.7 300.3l7.4 2.6-6.5 4.4-7.5-2.6z" fill="#304fa3"/><path d="M547.9 303.6l7.4 2.6-6.6 4.3-7.4-2.7z" fill="#304fa3"/><path d="M543 306.7l7.4 2.7-6.5 4.5-7.5-2.9z" fill="#3050a4"/><path d="M538.1 309.9l7.4 2.8-6.5 4.7-7.4-3z" fill="#3050a4"/><path d="M533.3 313.2l7.4 3-6.5 4.9-7.4-3.1z" fill="#3050a4"/><path d="M528.4 316.7l7.4 3.1-6.5 5.3-7.3-3.2z" fill="#304ea3"/><path d="M523.5 320.6l7.4 3.2-6.4 5.7-7.3-3.2z" fill="#304ba1"/><path d="M518.7 324.9l7.4 3.2-6.4 6.1-7.4-3.2z" fill="#2f479d"/><path d="M513.8 329.6l7.4 3.2-6.3 6-7.4-3z" fill="#2e449b"/><path d="M509 334.4l7.4 3-6.4 5.7-7.4-2.7z" fill="#2d4198"/><path d="M504.1 339l7.5 2.7-6.5 4.8-7.4-2.2z" fill="#2d4096"/><path d="M499.3 343l7.5 2.3-6.6 3.9-7.5-1.8z" fill="#2c3f95"/><path d="M494.4 346.3l7.5 1.9-6.6 3.2-7.5-1.5z" fill="#2c3f94"/><path d="M489.6 349l7.5 1.5-6.7 3.1-7.5-1.3z" fill="#2c4095"/><path d="M484.7 351.3l7.5 1.4-6.6 3.7-7.5-1.5z" fill="#2d4296"/><path d="M479.9 353.9l7.5 1.5-6.6 4.5-7.5-1.7z" fill="#2d4397"/><path d="M475 357l7.5 1.7-6.5 5.1-7.5-1.9z" fill="#2d4398"/><path d="M470.1 360.7l7.5 1.8-6.4 5.4-7.5-2.1z" fill="#2d4297"/><path d="M465.3 364.6l7.4 2-6.4 5.1-7.5-2.1z" fill="#2d4197"/><path d="M460.4 368.4l7.5 2-6.5 4.8-7.5-2.1z" fill="#2d4196"/><path d="M455.6 371.9l7.4 2.1-6.5 4.6-7.5-2.2z" fill="#2d4196"/><path d="M450.7 375.3l7.5 2.1-6.5 4.7-7.5-2.2z" fill="#2d4096"/><path d="M445.8 378.7l7.5 2.2-6.5 5.2-7.4-2.3z" fill="#2d4096"/><path d="M441 382.5l7.4 2.3-6.4 5.4-7.4-2.1z" fill="#2c3e95"/><path d="M436.1 386.7l7.5 2.2-5.2 4.4-7.5-2z" fill="#2b3c93"/><path d="M582.1 283l7.4 3.6-6.1 5.3-7.3-3.6z" fill="#3154a8"/><path d="M577.6 286.9l7.3 3.7-6.4 5.4-7.3-3.5z" fill="#3151a5"/><path d="M572.8 291.2l7.3 3.5-6.4 5-7.4-3.2z" fill="#304ea3"/><path d="M567.9 295.2l7.4 3.2-6.5 4.7-7.4-3z" fill="#304da2"/><path d="M563.1 298.9l7.4 3-6.6 4.4-7.4-2.9z" fill="#304ca1"/><path d="M558.2 302.2l7.4 3-6.6 4.3-7.4-2.9z" fill="#304ca1"/><path d="M553.4 305.5l7.4 2.9-6.6 4.5-7.4-3.1z" fill="#304da2"/><path d="M548.5 308.7l7.4 3-6.6 4.6-7.4-3.2z" fill="#304da2"/><path d="M543.6 312l7.4 3.1-6.5 4.7-7.4-3.2z" fill="#304da2"/><path d="M538.8 315.4l7.3 3.2-6.4 5-7.4-3.3z" fill="#304ca1"/><path d="M533.9 319l7.4 3.3-6.5 5.3-7.3-3.3z" fill="#304aa0"/><path d="M529 323l7.4 3.3-6.4 5.7-7.3-3.3z" fill="#2f479e"/><path d="M524.2 327.3l7.3 3.3-6.3 6-7.4-3.2z" fill="#2e459b"/><path d="M519.3 332l7.4 3.2-6.3 5.8-7.4-2.9z" fill="#2e4299"/><path d="M514.5 336.7l7.4 2.9-6.4 5.3-7.4-2.5z" fill="#2d3f97"/><path d="M509.6 341l7.5 2.6-6.6 4.4-7.4-2.1z" fill="#2c3e95"/><path d="M504.8 344.7l7.5 2.2-6.7 3.4-7.4-1.6z" fill="#2c3e94"/><path d="M499.9 347.7l7.5 1.7-6.7 3-7.5-1.4z" fill="#2c3f94"/><path d="M495.1 350.1l7.5 1.4-6.7 3.2-7.5-1.5z" fill="#2c4195"/><path d="M490.2 352.3l7.5 1.5-6.6 3.9-7.5-1.7z" fill="#2d4297"/><path d="M485.3 355l7.5 1.6-6.5 4.8-7.5-2z" fill="#2d4398"/><path d="M480.5 358.2l7.4 2-6.4 5.3-7.5-2.2z" fill="#2e4398"/><path d="M475.6 362l7.5 2.2-6.5 5.4-7.4-2.3z" fill="#2d4298"/><path d="M470.8 366l7.4 2.3-6.4 5.1-7.5-2.3z" fill="#2d4197"/><path d="M465.9 369.9l7.5 2.2-6.5 4.8-7.5-2.3z" fill="#2d4096"/><path d="M461.1 373.4l7.4 2.3-6.5 4.6-7.5-2.3z" fill="#2d4096"/><path d="M456.2 376.8l7.5 2.3-6.5 4.8-7.5-2.3z" fill="#2d4096"/><path d="M451.3 380.3l7.5 2.3-6.5 5.2-7.4-2.3z" fill="#2c3f95"/><path d="M446.5 384.2l7.4 2.3-6.4 5.3-7.4-2.1z" fill="#2c3d94"/><path d="M441.6 388.3l7.5 2.2-5.2 4.1-7.5-1.9z" fill="#2b3c92"/><path d="M587.6 285.6l7.3 4-6 5.2-7.3-3.8z" fill="#304fa4"/><path d="M583.1 289.6l7.3 3.9-6.4 5.2-7.3-3.6z" fill="#304ca2"/><path d="M578.3 293.8l7.3 3.6-6.5 4.8-7.3-3.3z" fill="#304aa0"/><path d="M573.4 297.6l7.4 3.4-6.6 4.4-7.3-3.1z" fill="#30499f"/><path d="M568.6 301.1l7.3 3.2-6.5 4.3-7.4-3.1z" fill="#2f499f"/><path d="M563.7 304.4l7.4 3.1-6.6 4.4-7.4-3.1z" fill="#2f499f"/><path d="M558.8 307.6l7.4 3.2-6.5 4.5-7.4-3.2z" fill="#30499f"/><path d="M554 310.9l7.4 3.2-6.6 4.7-7.3-3.3z" fill="#30499f"/><path d="M549.1 314.3l7.4 3.3-6.5 4.7-7.4-3.3z" fill="#30499f"/><path d="M544.3 317.8l7.3 3.3-6.5 4.9-7.3-3.3z" fill="#2f489e"/><path d="M539.4 321.5l7.4 3.3-6.5 5.3-7.3-3.3z" fill="#2f469d"/><path d="M534.5 325.5l7.4 3.3-6.4 5.6-7.3-3.2z" fill="#2e449b"/><path d="M529.7 329.8l7.3 3.2-6.3 5.8-7.4-3z" fill="#2e4299"/><path d="M524.8 334.4l7.4 3.1-6.4 5.5-7.4-2.7z" fill="#2d4097"/><path d="M520 338.9l7.4 2.8-6.5 4.9-7.4-2.3z" fill="#2c3e95"/><path d="M515.1 343l7.5 2.4-6.6 3.9-7.4-1.9z" fill="#2c3d94"/><path d="M510.3 346.3l7.5 2-6.7 3.1-7.5-1.5z" fill="#2c3d93"/><path d="M505.4 348.9l7.5 1.7-6.7 2.9-7.5-1.5z" fill="#2c3f93"/><path d="M500.6 351.1l7.5 1.5-6.7 3.4-7.5-1.7z" fill="#2d4195"/><path d="M495.7 353.4l7.5 1.6-6.6 4.2-7.5-1.9z" fill="#2d4397"/><path d="M490.8 356.2l7.5 1.9-6.5 5-7.5-2.2z" fill="#2e4398"/><path d="M486 359.6l7.4 2.2-6.4 5.5-7.5-2.4z" fill="#2d4398"/><path d="M481.1 363.6l7.5 2.4-6.5 5.4-7.4-2.4z" fill="#2d4197"/><path d="M476.3 367.7l7.4 2.4-6.5 5.1-7.4-2.4z" fill="#2d4097"/><path d="M471.4 371.5l7.5 2.4-6.6 4.7-7.4-2.3z" fill="#2d3f96"/><path d="M466.6 375.1l7.4 2.3-6.5 4.6-7.5-2.3z" fill="#2c3f96"/><path d="M461.7 378.5l7.5 2.3-6.6 4.8-7.4-2.3z" fill="#2c3f95"/><path d="M456.8 382l7.5 2.4-6.5 5.1-7.4-2.3z" fill="#2c3e95"/><path d="M452 385.9l7.4 2.3-6.4 5.2-7.5-2.1z" fill="#2c3d93"/><path d="M447.1 390l7.5 2.1-5.2 3.9-7.5-1.9z" fill="#2b3b92"/><path d="M593.1 288.6l7.3 4-6.1 5.1-7.2-3.8z" fill="#30499f"/><path d="M588.6 292.5l7.3 3.9-6.4 4.9-7.3-3.5z" fill="#2f479e"/><path d="M583.8 296.5l7.3 3.6-6.5 4.5-7.3-3.3z" fill="#2f469d"/><path d="M578.9 300.1l7.4 3.3-6.6 4.3-7.3-3.1z" fill="#2f469d"/><path d="M574.1 303.5l7.3 3.1-6.5 4.4-7.4-3.2z" fill="#2f469c"/><path d="M569.2 306.7l7.4 3.1-6.6 4.5-7.4-3.2z" fill="#2f469d"/><path d="M564.3 310l7.4 3.2-6.5 4.6-7.4-3.3z" fill="#2f469d"/><path d="M559.5 313.3l7.4 3.3-6.6 4.6-7.3-3.3z" fill="#2f469d"/><path d="M554.6 316.7l7.4 3.3-6.5 4.8-7.4-3.3z" fill="#2f459c"/><path d="M549.8 320.3l7.3 3.3-6.5 4.9-7.3-3.3z" fill="#2f459c"/><path d="M544.9 324l7.4 3.2-6.5 5.2-7.3-3.2z" fill="#2e439b"/><path d="M540 327.9l7.4 3.2-6.4 5.6-7.4-3.1z" fill="#2e4299"/><path d="M535.2 332.2l7.4 3.1-6.4 5.6-7.4-2.8z" fill="#2d4097"/><path d="M530.3 336.7l7.4 2.9-6.4 5.3-7.4-2.6z" fill="#2c3e95"/><path d="M525.5 341l7.4 2.6-6.5 4.5-7.4-2.1z" fill="#2c3c94"/><path d="M520.6 344.8l7.5 2.1-6.6 3.6-7.5-1.7z" fill="#2b3c92"/><path d="M515.8 347.8l7.5 1.8-6.7 2.9-7.5-1.5z" fill="#2b3d92"/><path d="M510.9 350.1l7.5 1.6-6.7 2.9-7.5-1.5z" fill="#2c3f93"/><path d="M506.1 352.2l7.5 1.6-6.7 3.6-7.5-1.9z" fill="#2d4196"/><path d="M501.2 354.6l7.5 1.8-6.6 4.5-7.5-2.2z" fill="#2d4398"/><path d="M496.3 357.6l7.5 2.1-6.5 5.3-7.5-2.5z" fill="#2e4398"/><path d="M491.5 361.2l7.4 2.5-6.4 5.6-7.5-2.6z" fill="#2d4298"/><path d="M486.6 365.4l7.4 2.5-6.4 5.4-7.4-2.5z" fill="#2d4097"/><path d="M481.8 369.5l7.4 2.5-6.5 5-7.4-2.5z" fill="#2c3f96"/><path d="M476.9 373.3l7.5 2.5-6.6 4.6-7.4-2.4z" fill="#2c3e95"/><path d="M472.1 376.8l7.4 2.4-6.5 4.5-7.5-2.3z" fill="#2c3e95"/><path d="M467.2 380.2l7.4 2.4-6.5 4.7-7.4-2.3z" fill="#2c3e94"/><path d="M462.3 383.8l7.5 2.3-6.5 5-7.4-2.2z" fill="#2c3d94"/><path d="M457.5 387.6l7.4 2.2-6.4 5-7.5-2z" fill="#2b3c92"/><path d="M452.6 391.5l7.5 2.1-5.2 3.7-7.5-1.8z" fill="#2b3b91"/><path d="M598.6 291.6l7.3 4-6.1 4.9-7.3-3.8z" fill="#2f449c"/><path d="M594.1 295.4l7.3 3.8-6.5 4.6-7.3-3.4z" fill="#2e439b"/><path d="M589.3 299.2l7.3 3.4-6.5 4.3-7.4-3.1z" fill="#2e439a"/><path d="M584.4 302.6l7.4 3.2-6.6 4.2-7.4-3.1z" fill="#2e439a"/><path d="M579.5 305.8l7.4 3.1-6.5 4.4-7.4-3.1z" fill="#2e439a"/><path d="M574.7 309l7.4 3.1-6.6 4.6-7.4-3.2z" fill="#2e439b"/><path d="M569.8 312.3l7.4 3.2-6.5 4.7-7.4-3.3z" fill="#2e439a"/><path d="M565 315.8l7.3 3.2-6.5 4.6-7.4-3.2z" fill="#2e439a"/><path d="M560.1 319.2l7.4 3.2-6.5 4.7-7.4-3.2z" fill="#2e439a"/><path d="M555.3 322.7l7.3 3.2-6.5 4.8-7.3-3.1z" fill="#2e4299"/><path d="M550.4 326.4l7.4 3.1-6.5 5.1-7.4-3z" fill="#2d4198"/><path d="M545.5 330.3l7.4 3-6.4 5.5-7.4-2.9z" fill="#2d3f97"/><path d="M540.7 334.5l7.4 2.9-6.4 5.4-7.4-2.6z" fill="#2c3d95"/><path d="M535.8 338.9l7.4 2.6-6.4 5-7.4-2.3z" fill="#2c3c93"/><path d="M531 342.9l7.4 2.4-6.5 4.1-7.5-1.9z" fill="#2b3b92"/><path d="M526.1 346.4l7.5 2-6.7 3.3-7.4-1.6z" fill="#2b3b91"/><path d="M521.3 349.1l7.5 1.7-6.7 2.8-7.5-1.5z" fill="#2b3d92"/><path d="M516.4 351.3l7.5 1.5-6.7 3.1-7.5-1.7z" fill="#2c3f94"/><path d="M511.6 353.4l7.4 1.6-6.6 3.9-7.5-2z" fill="#2d4196"/><path d="M506.7 355.9l7.5 2-6.6 4.8-7.5-2.4z" fill="#2d4298"/><path d="M501.8 359.1l7.5 2.4-6.5 5.5-7.4-2.7z" fill="#2d4298"/><path d="M497 363l7.4 2.6-6.4 5.7-7.4-2.7z" fill="#2d4097"/><path d="M492.1 367.3l7.4 2.6-6.4 5.4-7.4-2.6z" fill="#2c3f96"/><path d="M487.3 371.4l7.4 2.6-6.5 4.8-7.4-2.4z" fill="#2c3d95"/><path d="M482.4 375.1l7.5 2.5-6.6 4.5-7.4-2.3z" fill="#2c3d94"/><path d="M477.6 378.6l7.4 2.4-6.5 4.5-7.5-2.4z" fill="#2c3d94"/><path d="M472.7 381.9l7.4 2.4-6.5 4.7-7.4-2.3z" fill="#2c3c93"/><path d="M467.8 385.5l7.5 2.3-6.5 4.9-7.5-2.2z" fill="#2b3c93"/><path d="M463 389.3l7.4 2.1-6.5 4.8-7.4-1.9z" fill="#2b3b91"/><path d="M458.1 393l7.5 2-5.2 3.5-7.5-1.7z" fill="#2b3a90"/><path d="M604.1 294.6l7.3 3.9-6.1 4.5-7.3-3.5z" fill="#2e4199"/><path d="M599.6 298.3l7.4 3.5-6.6 4.3-7.3-3.2z" fill="#2d4098"/><path d="M594.8 301.8l7.3 3.1-6.5 4.1-7.4-2.9z" fill="#2d4098"/><path d="M589.9 305l7.4 2.9-6.6 4.2-7.4-2.9z" fill="#2d4198"/><path d="M585 308.1l7.4 2.9-6.5 4.5-7.4-3z" fill="#2d4198"/><path d="M580.2 311.3l7.4 3-6.6 4.7-7.4-3.1z" fill="#2d4198"/><path d="M575.3 314.7l7.4 3.1-6.5 4.6-7.4-3.1z" fill="#2d4198"/><path d="M570.5 318.2l7.4 3-6.6 4.6-7.4-3z" fill="#2d4098"/><path d="M565.6 321.6l7.4 3-6.5 4.6-7.4-2.9z" fill="#2d4098"/><path d="M560.7 325.1l7.4 2.9-6.5 4.8-7.4-2.9z" fill="#2d4097"/><path d="M555.9 328.7l7.4 2.9-6.5 5-7.4-2.7z" fill="#2d3f96"/><path d="M551 332.6l7.4 2.8-6.4 5.3-7.4-2.7z" fill="#2c3d95"/><path d="M546.2 336.7l7.4 2.7-6.4 5.2-7.5-2.4z" fill="#2c3c93"/><path d="M541.3 340.9l7.5 2.4-6.5 4.7-7.5-2.1z" fill="#2b3b92"/><path d="M536.5 344.7l7.4 2.1-6.6 3.8-7.4-1.7z" fill="#2b3a91"/><path d="M531.6 347.8l7.5 1.8-6.7 3.2-7.5-1.6z" fill="#2b3b91"/><path d="M526.8 350.3l7.5 1.6-6.8 2.9-7.5-1.6z" fill="#2b3c92"/><path d="M521.9 352.4l7.5 1.6-6.7 3.4-7.5-1.9z" fill="#2c3f94"/><path d="M517.1 354.6l7.4 1.8-6.6 4.3-7.5-2.3z" fill="#2d4196"/><path d="M512.2 357.3l7.4 2.2-6.5 5.2-7.4-2.6z" fill="#2d4198"/><path d="M507.3 360.8l7.4 2.6-6.4 5.6-7.4-2.7z" fill="#2d4097"/><path d="M502.4 365l7.5 2.7-6.4 5.6-7.4-2.7z" fill="#2c3f96"/><path d="M497.6 369.2l7.4 2.8-6.4 5.2-7.4-2.6z" fill="#2c3d95"/><path d="M492.8 373.3l7.4 2.6-6.5 4.7-7.4-2.4z" fill="#2c3c94"/><path d="M487.9 377l7.5 2.4-6.6 4.4-7.4-2.3z" fill="#2c3c93"/><path d="M483 380.3l7.5 2.4-6.5 4.4-7.5-2.3z" fill="#2b3c93"/><path d="M478.2 383.7l7.4 2.2-6.5 4.7-7.4-2.2z" fill="#2b3b92"/><path d="M473.3 387.2l7.5 2.2-6.5 4.7-7.5-2z" fill="#2b3b92"/><path d="M468.5 390.9l7.4 2-6.5 4.6-7.4-1.8z" fill="#2b3a91"/><path d="M463.6 394.5l7.5 1.8-5.2 3.4-7.5-1.7z" fill="#2b3a90"/><path d="M609.6 297.5l7.3 3.6-6.1 4.2-7.4-3.2z" fill="#2d3e97"/><path d="M605.1 300.9l7.4 3.2-6.6 4-7.4-2.8z" fill="#2c3e96"/><path d="M600.3 304.2l7.4 2.9-6.6 3.9-7.4-2.7z" fill="#2c3e96"/><path d="M595.4 307.2l7.4 2.8-6.6 4.2-7.4-2.8z" fill="#2d3e96"/><path d="M590.5 310.3l7.4 2.8-6.5 4.5-7.4-2.9z" fill="#2d3f96"/><path d="M585.7 313.6l7.4 2.8-6.6 4.7-7.4-2.9z" fill="#2d3f97"/><path d="M580.8 317l7.4 2.9-6.5 4.7-7.4-2.9z" fill="#2d3e96"/><path d="M576 320.5l7.4 2.9-6.6 4.5-7.4-2.8z" fill="#2d3e96"/><path d="M571.1 323.9l7.4 2.8-6.5 4.5-7.4-2.7z" fill="#2c3e96"/><path d="M566.2 327.3l7.5 2.7-6.6 4.7-7.4-2.6z" fill="#2c3e95"/><path d="M561.4 330.8l7.4 2.7-6.5 5-7.4-2.6z" fill="#2c3d94"/><path d="M556.5 334.7l7.4 2.5-6.4 5.2-7.4-2.4z" fill="#2c3c93"/><path d="M551.7 338.7l7.4 2.4-6.5 5-7.4-2.2z" fill="#2b3b92"/><path d="M546.8 342.7l7.5 2.2-6.6 4.4-7.4-1.9z" fill="#2b3a90"/><path d="M542 346.2l7.5 2-6.7 3.7-7.5-1.7z" fill="#2b3a90"/><path d="M537.1 349.2l7.5 1.7-6.7 3.1-7.5-1.6z" fill="#2b3b90"/><path d="M532.3 351.5l7.5 1.6-6.8 3.1-7.5-1.8z" fill="#2b3d92"/><path d="M527.4 353.6l7.5 1.7-6.7 3.7-7.5-2.1z" fill="#2c3f94"/><path d="M522.5 355.9l7.5 2.1-6.6 4.6-7.4-2.5z" fill="#2d4096"/><path d="M517.7 358.9l7.4 2.5-6.5 5.3-7.4-2.7z" fill="#2d4097"/><path d="M512.8 362.7l7.4 2.7-6.4 5.7-7.4-2.8z" fill="#2d3f96"/><path d="M507.9 367l7.5 2.8-6.4 5.5-7.5-2.7z" fill="#2c3d95"/><path d="M503.1 371.3l7.4 2.7-6.4 5-7.5-2.5z" fill="#2c3c93"/><path d="M498.3 375.2l7.4 2.5-6.5 4.6-7.5-2.3z" fill="#2b3b92"/><path d="M493.4 378.8l7.5 2.3-6.6 4.3-7.5-2.2z" fill="#2b3b92"/><path d="M488.5 382.1l7.5 2.2-6.6 4.3-7.4-2.1z" fill="#2b3b92"/><path d="M483.7 385.3l7.4 2.2-6.5 4.5-7.4-2z" fill="#2b3b91"/><path d="M478.8 388.8l7.5 2.1-6.5 4.6-7.5-1.9z" fill="#2b3a91"/><path d="M474 392.4l7.4 1.9-6.5 4.4-7.5-1.7z" fill="#2b3a90"/><path d="M469.1 395.8l7.5 1.8-5.2 3.2-7.5-1.6z" fill="#2a3a8f"/><path d="M615.1 300.2l7.3 3.4-6.1 3.7-7.4-2.8z" fill="#2c3c94"/><path d="M610.6 303.3l7.4 3-6.6 3.7-7.4-2.6z" fill="#2c3c94"/><path d="M605.7 306.3l7.5 2.7-6.6 3.9-7.5-2.6z" fill="#2c3c94"/><path d="M600.9 309.2l7.4 2.7-6.6 4.3-7.4-2.7z" fill="#2c3d95"/><path d="M596 312.4l7.4 2.7-6.5 4.6-7.4-2.8z" fill="#2c3d95"/><path d="M591.2 315.7l7.4 2.8-6.6 4.8-7.4-2.9z" fill="#2c3d95"/><path d="M586.3 319.2l7.4 2.9-6.5 4.5-7.4-2.8z" fill="#2c3c95"/><path d="M581.5 322.6l7.4 2.9-6.6 4.3-7.4-2.6z" fill="#2c3c94"/><path d="M576.6 326l7.4 2.7-6.5 4.4-7.5-2.6z" fill="#2c3c94"/><path d="M571.7 329.3l7.5 2.6-6.6 4.6-7.4-2.5z" fill="#2c3c94"/><path d="M566.9 332.8l7.4 2.5-6.5 5-7.4-2.5z" fill="#2c3c93"/><path d="M562 336.6l7.4 2.4-6.4 5.1-7.5-2.3z" fill="#2b3b92"/><path d="M557.1 340.5l7.5 2.3-6.5 4.9-7.4-2.1z" fill="#2b3a91"/><path d="M552.3 344.3l7.5 2.2-6.6 4.2-7.4-1.9z" fill="#2b3990"/><path d="M547.5 347.7l7.5 1.9-6.7 3.5-7.5-1.7z" fill="#2b3a8f"/><path d="M542.6 350.4l7.5 1.8-6.7 3.1-7.5-1.8z" fill="#2b3b90"/><path d="M537.8 352.7l7.5 1.7-6.8 3.3-7.4-2z" fill="#2b3d92"/><path d="M532.9 354.8l7.5 2-6.7 4-7.4-2.4z" fill="#2c3e95"/><path d="M528 357.4l7.5 2.3-6.6 4.9-7.4-2.7z" fill="#2d3f96"/><path d="M523.2 360.7l7.4 2.7-6.5 5.5-7.4-2.9z" fill="#2d3f96"/><path d="M518.3 364.7l7.4 2.8-6.4 5.7-7.4-2.8z" fill="#2c3d95"/><path d="M513.4 369l7.5 2.8-6.5 5.4-7.4-2.6z" fill="#2c3c93"/><path d="M508.6 373.3l7.4 2.6-6.5 4.8-7.4-2.4z" fill="#2b3b92"/><path d="M503.7 377.1l7.5 2.4-6.6 4.4-7.4-2.2z" fill="#2b3a91"/><path d="M498.9 380.5l7.5 2.2-6.6 4.2-7.5-2.1z" fill="#2b3a91"/><path d="M494 383.7l7.5 2.1-6.6 4.3-7.4-2z" fill="#2b3a91"/><path d="M489.2 386.9l7.4 2.1-6.5 4.5-7.5-2z" fill="#2b3a90"/><path d="M484.3 390.3l7.5 2-6.5 4.5-7.5-1.8z" fill="#2b3a90"/><path d="M479.5 393.8l7.4 1.8-6.5 4.3-7.5-1.6z" fill="#2b3a8f"/><path d="M474.6 397.1l7.5 1.7-5.2 3.2-7.5-1.6z" fill="#2a3a8f"/><path d="M620.6 302.7l7.4 3.1-6.3 3.5-7.3-2.7z" fill="#2b3a92"/><path d="M616.1 305.5l7.4 2.8-6.6 3.6-7.4-2.5z" fill="#2b3a92"/><path d="M611.2 308.3l7.5 2.6-6.7 4-7.4-2.6z" fill="#2b3b93"/><path d="M606.4 311.2l7.4 2.6-6.6 4.5-7.4-2.8z" fill="#2c3b93"/><path d="M601.5 314.4l7.4 2.7-6.5 4.8-7.4-2.9z" fill="#2c3c93"/><path d="M596.7 317.8l7.4 2.9-6.6 4.7-7.4-2.9z" fill="#2c3b93"/><path d="M591.8 321.3l7.4 2.9-6.5 4.5-7.4-2.8z" fill="#2c3b93"/><path d="M586.9 324.7l7.5 2.8-6.6 4.3-7.4-2.6z" fill="#2b3b93"/><path d="M582.1 328l7.4 2.7-6.5 4.2-7.5-2.5z" fill="#2b3b93"/><path d="M577.2 331.3l7.5 2.5-6.6 4.6-7.4-2.5z" fill="#2b3b92"/><path d="M572.4 334.7l7.4 2.5-6.5 4.9-7.4-2.5z" fill="#2b3b92"/><path d="M567.5 338.4l7.4 2.4-6.4 5-7.5-2.3z" fill="#2b3a91"/><path d="M562.6 342.2l7.5 2.4-6.5 4.7-7.5-2.2z" fill="#2b3990"/><path d="M557.8 345.9l7.5 2.2-6.6 4.1-7.5-2z" fill="#2b398f"/><path d="M553 349.1l7.4 2-6.6 3.5-7.5-2z" fill="#2b398f"/><path d="M548.1 351.7l7.5 1.9-6.7 3.2-7.5-2z" fill="#2b3b91"/><path d="M543.3 353.9l7.4 2-6.7 3.6-7.4-2.3z" fill="#2c3c93"/><path d="M538.4 356.3l7.4 2.2-6.6 4.3-7.4-2.6z" fill="#2c3e95"/><path d="M533.5 359.1l7.4 2.6-6.4 5.1-7.5-2.9z" fill="#2c3e96"/><path d="M528.6 362.7l7.5 2.8-6.5 5.5-7.4-2.9z" fill="#2c3d95"/><path d="M523.8 366.8l7.4 2.9-6.4 5.5-7.4-2.7z" fill="#2c3c93"/><path d="M518.9 371.1l7.5 2.8-6.5 5.1-7.4-2.5z" fill="#2b3a92"/><path d="M514.1 375.2l7.4 2.6-6.5 4.6-7.4-2.3z" fill="#2b3a90"/><path d="M509.2 378.9l7.5 2.3-6.6 4.2-7.4-2.1z" fill="#2b3990"/><path d="M504.4 382.1l7.5 2.2-6.6 4.1-7.5-2z" fill="#2b3990"/><path d="M499.5 385.3l7.5 2-6.6 4.3-7.4-2z" fill="#2b3990"/><path d="M494.7 388.5l7.4 2-6.5 4.4-7.5-1.9z" fill="#2b3a90"/><path d="M489.8 391.8l7.5 1.9-6.6 4.4-7.4-1.8z" fill="#2b398f"/><path d="M485 395.2l7.4 1.8-6.5 4.1-7.5-1.6z" fill="#2a398f"/><path d="M480.1 398.4l7.5 1.6-5.2 3.2-7.5-1.6z" fill="#2a3a8f"/><path d="M626.1 305l7.4 3-6.3 3.3-7.4-2.7z" fill="#2b3890"/><path d="M621.6 307.6l7.4 2.7-6.6 3.6-7.5-2.7z" fill="#2b3990"/><path d="M616.7 310.2l7.5 2.7-6.7 4.1-7.4-2.8z" fill="#2b3a91"/><path d="M611.9 313.1l7.4 2.8-6.6 4.6-7.4-3z" fill="#2b3a92"/><path d="M607 316.4l7.4 2.9-6.5 4.8-7.4-3z" fill="#2b3a92"/><path d="M602.1 319.9l7.4 3-6.5 4.7-7.4-3z" fill="#2b3a92"/><path d="M597.3 323.4l7.4 3-6.6 4.4-7.3-2.9z" fill="#2b3a91"/><path d="M592.4 326.8l7.5 2.8-6.6 4.2-7.4-2.7z" fill="#2b3a91"/><path d="M587.6 330l7.4 2.7-6.6 4.2-7.4-2.6z" fill="#2b3a91"/><path d="M582.7 333.1l7.4 2.7-6.5 4.5-7.4-2.6z" fill="#2b3a91"/><path d="M577.9 336.5l7.4 2.6-6.5 4.9-7.4-2.6z" fill="#2b3a91"/><path d="M573 340.2l7.4 2.6-6.5 4.9-7.4-2.5z" fill="#2b3990"/><path d="M568.1 344l7.5 2.5-6.5 4.5-7.5-2.3z" fill="#2b398f"/><path d="M563.3 347.5l7.5 2.4-6.6 3.9-7.5-2.2z" fill="#2b388f"/><path d="M558.5 350.6l7.4 2.2-6.7 3.4-7.4-2.2z" fill="#2b398f"/><path d="M553.6 353.1l7.5 2.2-6.7 3.3-7.5-2.3z" fill="#2b3a91"/><path d="M548.8 355.4l7.4 2.3-6.7 3.8-7.4-2.6z" fill="#2c3c93"/><path d="M543.9 357.9l7.4 2.6-6.6 4.5-7.4-2.9z" fill="#2c3d95"/><path d="M539 361l7.4 2.8-6.5 5.2-7.4-3z" fill="#2c3d95"/><path d="M534.1 364.7l7.4 3-6.4 5.5-7.4-2.9z" fill="#2c3c93"/><path d="M529.3 368.9l7.4 3-6.4 5.3-7.4-2.7z" fill="#2b3a92"/><path d="M524.4 373.2l7.5 2.7-6.5 4.9-7.4-2.4z" fill="#2b3990"/><path d="M519.6 377.1l7.4 2.5-6.5 4.4-7.4-2.2z" fill="#2b398f"/><path d="M514.7 380.6l7.5 2.3-6.6 4.1-7.4-2.2z" fill="#2a398f"/><path d="M509.9 383.7l7.5 2.2-6.6 4.1-7.5-2.1z" fill="#2a398f"/><path d="M505 386.8l7.5 2.1-6.6 4.2-7.4-2z" fill="#2b398f"/><path d="M500.2 390l7.4 2-6.5 4.3-7.5-1.9z" fill="#2b398f"/><path d="M495.3 393.2l7.5 2-6.6 4.2-7.5-1.8z" fill="#2a398f"/><path d="M490.5 396.5l7.4 1.8-6.5 4.1-7.5-1.7z" fill="#2a398f"/><path d="M485.6 399.6l7.5 1.7-5.2 3.2-7.5-1.7z" fill="#2a3a8f"/><path d="M631.6 307.3l7.4 2.9-6.3 3.1-7.4-2.7z" fill="#2a378e"/><path d="M627.1 309.6l7.4 2.8-6.7 3.6-7.4-2.8z" fill="#2b388f"/><path d="M622.2 312.2l7.4 2.8-6.6 4.3-7.4-3z" fill="#2b3990"/><path d="M617.4 315.2l7.3 2.9-6.5 4.8-7.4-3.2z" fill="#2b3991"/><path d="M612.5 318.5l7.4 3.2-6.5 4.8-7.4-3.2z" fill="#2b3990"/><path d="M607.6 322.1l7.4 3.2-6.5 4.6-7.4-3.1z" fill="#2b3890"/><path d="M602.8 325.6l7.4 3.1-6.6 4.2-7.4-2.9z" fill="#2b3890"/><path d="M597.9 328.9l7.4 2.9-6.5 4-7.4-2.7z" fill="#2b3990"/><path d="M593.1 332l7.4 2.8-6.6 4.1-7.4-2.7z" fill="#2b3990"/><path d="M588.2 335.1l7.4 2.7-6.5 4.6-7.4-2.8z" fill="#2b3990"/><path d="M583.4 338.4l7.4 2.8-6.5 4.9-7.4-2.8z" fill="#2b3990"/><path d="M578.5 342.1l7.4 2.7-6.5 4.9-7.4-2.7z" fill="#2b388f"/><path d="M573.6 345.8l7.5 2.7-6.6 4.5-7.4-2.6z" fill="#2a388f"/><path d="M568.8 349.2l7.4 2.6-6.6 3.9-7.4-2.5z" fill="#2a388e"/><path d="M564 352.2l7.4 2.5-6.7 3.4-7.4-2.5z" fill="#2b398f"/><path d="M559.1 354.7l7.4 2.5-6.6 3.5-7.5-2.7z" fill="#2b3a91"/><path d="M554.2 357.1l7.5 2.6-6.7 4-7.4-2.9z" fill="#2b3b93"/><path d="M549.4 359.8l7.4 2.8-6.6 4.7-7.4-3.1z" fill="#2c3c94"/><path d="M544.5 363.1l7.4 3-6.5 5.2-7.4-3.1z" fill="#2c3b93"/><path d="M539.6 366.9l7.4 3.1-6.4 5.4-7.4-2.9z" fill="#2b3a92"/><path d="M534.8 371.1l7.4 3-6.5 5.1-7.4-2.7z" fill="#2b3990"/><path d="M529.9 375.2l7.5 2.7-6.5 4.7-7.5-2.4z" fill="#2b388f"/><path d="M525.1 379l7.4 2.4-6.5 4.2-7.5-2.2z" fill="#2a388e"/><path d="M520.2 382.3l7.5 2.2-6.6 4.1-7.5-2.2z" fill="#2a388e"/><path d="M515.4 385.3l7.4 2.2-6.6 4.1-7.4-2.2z" fill="#2a388e"/><path d="M510.5 388.3l7.5 2.2-6.6 4.2-7.5-2.1z" fill="#2a388f"/><path d="M505.7 391.5l7.4 2.1-6.5 4.2-7.5-2z" fill="#2a398f"/><path d="M500.8 394.7l7.5 2-6.6 4.1-7.5-1.9z" fill="#2a398f"/><path d="M496 397.8l7.4 2-6.6 4-7.4-1.8z" fill="#2a398f"/><path d="M491.1 400.9l7.5 1.8-5.3 3.3-7.4-2z" fill="#2b398f"/><path d="M637 309.5l7.5 2.8-6.3 3-7.4-2.7z" fill="#2a358c"/><path d="M632.6 311.6l7.4 2.8-6.7 3.8-7.4-2.9z" fill="#2a378d"/><path d="M627.7 314.3l7.4 2.9-6.6 4.5-7.4-3.2z" fill="#2b378f"/><path d="M622.9 317.4l7.3 3.1-6.5 4.9-7.4-3.3z" fill="#2b378f"/><path d="M618 320.9l7.4 3.2-6.5 4.9-7.4-3.3z" fill="#2a378e"/><path d="M613.1 324.5l7.4 3.3-6.5 4.4-7.4-3.1z" fill="#2a378e"/><path d="M608.3 327.9l7.4 3.2-6.6 4-7.4-2.9z" fill="#2a378e"/><path d="M603.4 331.1l7.4 2.9-6.6 4-7.4-2.9z" fill="#2a378e"/><path d="M598.6 334l7.4 2.9-6.6 4.2-7.4-2.9z" fill="#2a378f"/><path d="M593.7 337.1l7.4 2.9-6.5 4.6-7.4-2.9z" fill="#2b388f"/><path d="M588.8 340.5l7.5 2.9-6.5 4.9-7.4-2.9z" fill="#2a378e"/><path d="M584 344.1l7.4 2.9-6.5 4.8-7.4-2.8z" fill="#2a378e"/><path d="M579.1 347.8l7.5 2.8-6.6 4.4-7.4-2.7z" fill="#2a378d"/><path d="M574.3 351.1l7.4 2.8-6.6 3.8-7.4-2.7z" fill="#2a378d"/><path d="M569.5 354l7.4 2.7-6.7 3.5-7.4-2.7z" fill="#2a388e"/><path d="M564.6 356.5l7.4 2.7-6.6 3.6-7.5-2.8z" fill="#2b3990"/><path d="M559.7 359l7.4 2.8-6.6 4.1-7.4-3z" fill="#2b3a91"/><path d="M554.9 361.9l7.4 2.9-6.6 4.8-7.4-3.1z" fill="#2b3a92"/><path d="M550 365.3l7.4 3-6.5 5.2-7.4-3z" fill="#2b3a91"/><path d="M545.1 369.2l7.4 3-6.4 5.2-7.4-2.8z" fill="#2b3990"/><path d="M540.3 373.3l7.4 2.8-6.5 4.9-7.4-2.5z" fill="#2a388e"/><path d="M535.4 377.2l7.5 2.6-6.6 4.5-7.4-2.4z" fill="#2a378d"/><path d="M530.6 380.8l7.4 2.3-6.5 4.1-7.5-2.2z" fill="#2a378d"/><path d="M525.7 383.9l7.5 2.3-6.6 4-7.5-2.2z" fill="#2a378d"/><path d="M520.9 386.9l7.4 2.2-6.6 4.1-7.4-2.2z" fill="#2a388e"/><path d="M516 389.9l7.5 2.2-6.6 4.2-7.5-2.2z" fill="#2a388e"/><path d="M511.2 393l7.4 2.2-6.6 4.1-7.4-2z" fill="#2a388e"/><path d="M506.3 396.2l7.5 2-6.6 4.1-7.5-2z" fill="#2a388e"/><path d="M501.4 399.2l7.5 2-6.6 4-7.5-1.9z" fill="#2a398f"/><path d="M496.6 402.2l7.5 2-5.3 3.3-7.4-2.1z" fill="#2b398f"/><path d="M642.5 311.6l7.5 2.6-6.3 3.1-7.5-2.7z" fill="#29348a"/><path d="M638.1 313.7l7.4 2.6-6.6 4.1-7.5-2.9z" fill="#2a358c"/><path d="M633.2 316.4l7.4 2.9-6.5 4.7-7.4-3.1z" fill="#2a368d"/><path d="M628.3 319.7l7.4 3.1-6.5 4.9-7.4-3.2z" fill="#2a368d"/><path d="M623.5 323.3l7.4 3.2-6.5 4.8-7.4-3.2z" fill="#2a358c"/><path d="M618.6 326.9l7.4 3.2-6.5 4.3-7.4-3z" fill="#2a358c"/><path d="M613.8 330.3l7.4 3-6.6 3.8-7.4-2.7z" fill="#2a358c"/><path d="M608.9 333.3l7.4 2.8-6.6 3.9-7.4-2.8z" fill="#2a368c"/><path d="M604.1 336.2l7.4 2.7-6.6 4.2-7.4-2.8z" fill="#2a368d"/><path d="M599.2 339.2l7.4 2.8-6.5 4.7-7.4-2.9z" fill="#2a368d"/><path d="M594.3 342.6l7.4 2.9-6.4 4.9-7.5-2.9z" fill="#2a368d"/><path d="M589.5 346.3l7.4 2.8-6.5 4.8-7.4-2.8z" fill="#2a358c"/><path d="M584.6 349.9l7.5 2.8-6.6 4.3-7.4-2.7z" fill="#2a358c"/><path d="M579.8 353.2l7.4 2.7-6.6 3.7-7.4-2.6z" fill="#2a368c"/><path d="M575 356l7.4 2.6-6.7 3.5-7.4-2.6z" fill="#2a368d"/><path d="M570.1 358.5l7.4 2.7-6.6 3.6-7.5-2.7z" fill="#2a388e"/><path d="M565.2 361.1l7.4 2.7-6.6 4.2-7.4-2.8z" fill="#2b3890"/><path d="M560.4 364.1l7.4 2.8-6.6 4.8-7.4-2.9z" fill="#2b3990"/><path d="M555.5 367.6l7.4 2.8-6.5 5.1-7.4-2.8z" fill="#2b388f"/><path d="M550.6 371.5l7.4 2.7-6.4 5-7.4-2.5z" fill="#2a378e"/><path d="M545.8 375.4l7.4 2.6-6.5 4.7-7.4-2.3z" fill="#2a368c"/><path d="M540.9 379.1l7.5 2.4-6.6 4.3-7.4-2.1z" fill="#2a368c"/><path d="M536.1 382.5l7.4 2.2-6.6 4.1-7.4-2.1z" fill="#2a368c"/><path d="M531.2 385.6l7.5 2.1-6.6 4-7.5-2.1z" fill="#2a368c"/><path d="M526.4 388.5l7.4 2.2-6.6 4-7.4-2.1z" fill="#2a378d"/><path d="M521.5 391.5l7.5 2.2-6.6 4.1-7.5-2.1z" fill="#2a378d"/><path d="M516.7 394.6l7.4 2.1-6.6 4.1-7.4-2z" fill="#2a378d"/><path d="M511.8 397.7l7.5 2-6.6 4-7.5-1.9z" fill="#2a388e"/><path d="M506.9 400.7l7.5 1.9-6.6 4.1-7.5-2z" fill="#2a388e"/><path d="M502.1 403.6l7.5 2-5.3 3.4-7.5-2.1z" fill="#2a398f"/><path d="M648 313.5l7.5 2.2-6.3 3.3-7.5-2.4z" fill="#293388"/><path d="M643.6 315.7l7.4 2.3-6.6 4.3-7.5-2.7z" fill="#29348a"/><path d="M638.7 318.5l7.4 2.7-6.5 4.9-7.4-2.9z" fill="#29348a"/><path d="M633.8 322l7.4 2.8-6.5 5.1-7.4-3z" fill="#29348a"/><path d="M629 325.7l7.4 2.9-6.5 4.7-7.4-2.8z" fill="#29338a"/><path d="M624.1 329.3l7.4 2.8-6.5 4.1-7.4-2.6z" fill="#293389"/><path d="M619.3 332.5l7.4 2.6-6.6 3.8-7.4-2.5z" fill="#293489"/><path d="M614.4 335.4l7.5 2.5-6.7 3.8-7.4-2.4z" fill="#29348a"/><path d="M609.6 338.2l7.4 2.5-6.6 4.3-7.4-2.6z" fill="#2a358b"/><path d="M604.7 341.3l7.4 2.5-6.5 4.8-7.4-2.7z" fill="#2a358b"/><path d="M599.8 344.7l7.5 2.7-6.5 4.9-7.5-2.7z" fill="#29348b"/><path d="M595 348.4l7.4 2.7-6.5 4.7-7.4-2.6z" fill="#29348a"/><path d="M590.1 352l7.5 2.6-6.6 4.2-7.4-2.5z" fill="#29348a"/><path d="M585.3 355.2l7.4 2.5-6.6 3.7-7.4-2.4z" fill="#29348a"/><path d="M580.4 358l7.5 2.4-6.7 3.5-7.4-2.5z" fill="#2a358b"/><path d="M575.6 360.5l7.4 2.4-6.6 3.7-7.5-2.5z" fill="#2a368c"/><path d="M570.7 363.1l7.4 2.5-6.5 4.3-7.5-2.6z" fill="#2a378d"/><path d="M565.8 366.2l7.5 2.5-6.5 4.7-7.5-2.5z" fill="#2a378e"/><path d="M561 369.7l7.4 2.5-6.5 5-7.4-2.4z" fill="#2a368d"/><path d="M556.1 373.5l7.5 2.4-6.5 4.9-7.5-2.2z" fill="#2a368c"/><path d="M551.3 377.3l7.4 2.2-6.5 4.6-7.4-2z" fill="#29358b"/><path d="M546.4 380.9l7.5 2-6.6 4.3-7.4-2z" fill="#29358a"/><path d="M541.6 384.1l7.4 2-6.6 4.1-7.4-2z" fill="#29358a"/><path d="M536.7 387.1l7.5 2-6.6 4.1-7.5-2z" fill="#29368b"/><path d="M531.9 390.1l7.4 2-6.6 4.1-7.4-2z" fill="#2a368c"/><path d="M527 393.1l7.5 2-6.6 4.1-7.5-2z" fill="#2a378c"/><path d="M522.1 396.1l7.5 2-6.6 4-7.5-1.9z" fill="#2a378c"/><path d="M517.3 399.2l7.5 1.8-6.6 4-7.5-1.8z" fill="#2a378d"/><path d="M512.4 402.1l7.5 1.9-6.6 4.1-7.5-1.9z" fill="#2a388d"/><path d="M507.6 405.1l7.4 1.9-5.2 3.5-7.5-2.1z" fill="#2a388e"/><path d="M653.5 315.1l7.5 1.9-6.3 3.5-7.5-2.1z" fill="#283286"/><path d="M649 317.4l7.5 2.1-6.6 4.6-7.4-2.5z" fill="#293388"/><path d="M644.2 320.5l7.4 2.4-6.5 5.1-7.4-2.6z" fill="#293388"/><path d="M639.3 324.1l7.4 2.6-6.4 5-7.5-2.6z" fill="#293288"/><path d="M634.5 327.9l7.4 2.6-6.5 4.5-7.5-2.4z" fill="#283287"/><path d="M629.6 331.4l7.5 2.4-6.6 4-7.5-2.2z" fill="#283287"/><path d="M624.8 334.5l7.4 2.2-6.6 3.7-7.5-2.1z" fill="#293287"/><path d="M619.9 337.3l7.5 2.1-6.7 3.9-7.4-2.2z" fill="#293388"/><path d="M615 340.1l7.5 2.2-6.6 4.4-7.4-2.4z" fill="#293489"/><path d="M610.2 343.2l7.4 2.3-6.5 4.8-7.4-2.4z" fill="#293489"/><path d="M605.3 346.7l7.5 2.4-6.5 5-7.5-2.5z" fill="#293389"/><path d="M600.5 350.4l7.4 2.4-6.5 4.7-7.4-2.4z" fill="#293388"/><path d="M595.6 353.9l7.5 2.4-6.6 4-7.5-2.2z" fill="#293388"/><path d="M590.8 357.1l7.4 2.2-6.6 3.6-7.5-2.1z" fill="#293388"/><path d="M585.9 359.8l7.5 2.1-6.7 3.5-7.4-2.1z" fill="#293489"/><path d="M581.1 362.3l7.4 2.1-6.6 3.8-7.5-2.2z" fill="#29358b"/><path d="M576.2 365l7.5 2.2-6.6 4.2-7.5-2.2z" fill="#2a368b"/><path d="M571.3 368.1l7.5 2.2-6.5 4.6-7.5-2.1z" fill="#2a368b"/><path d="M566.5 371.6l7.4 2.1-6.5 4.9-7.4-2z" fill="#29358b"/><path d="M561.6 375.3l7.5 2-6.5 4.8-7.5-1.9z" fill="#29358a"/><path d="M556.8 379l7.4 1.9-6.5 4.5-7.5-1.8z" fill="#293489"/><path d="M551.9 382.4l7.5 1.8-6.6 4.3-7.5-1.8z" fill="#293489"/><path d="M547.1 385.6l7.4 1.8-6.5 4.2-7.5-1.9z" fill="#29358a"/><path d="M542.2 388.6l7.5 1.9-6.6 4.1-7.5-1.9z" fill="#29358a"/><path d="M537.4 391.6l7.4 1.9-6.6 4.1-7.4-1.9z" fill="#29368b"/><path d="M532.5 394.6l7.5 1.9-6.6 4-7.5-1.8z" fill="#29368b"/><path d="M527.6 397.6l7.5 1.9-6.6 3.9-7.5-1.8z" fill="#2a368c"/><path d="M522.8 400.6l7.5 1.7-6.6 4-7.5-1.8z" fill="#2a378c"/><path d="M517.9 403.5l7.5 1.7-6.6 4.3-7.5-1.9z" fill="#2a378d"/><path d="M513.1 406.5l7.4 1.8-5.2 3.7-7.5-2z" fill="#2a388e"/><path d="M659 316.5l7.5 1.6-6.2 3.9-7.5-2z" fill="#283185"/><path d="M654.5 318.9l7.5 2-6.5 4.9-7.5-2.3z" fill="#283287"/><path d="M649.7 322.3l7.4 2.3-6.5 5.1-7.4-2.4z" fill="#283286"/><path d="M644.8 326.1l7.4 2.4-6.4 4.9-7.5-2.3z" fill="#283185"/><path d="M640 329.8l7.4 2.3-6.5 4.3-7.5-2z" fill="#283184"/><path d="M635.1 333.2l7.5 2.1-6.6 3.8-7.5-1.9z" fill="#283184"/><path d="M630.3 336.2l7.4 1.9-6.6 3.7-7.5-1.9z" fill="#283185"/><path d="M625.4 338.9l7.5 1.9-6.6 3.9-7.5-2z" fill="#283287"/><path d="M620.5 341.7l7.5 2-6.5 4.5-7.5-2.1z" fill="#293388"/><path d="M615.7 344.9l7.4 2.1-6.5 5-7.4-2.3z" fill="#293388"/><path d="M610.8 348.5l7.5 2.2-6.5 4.9-7.5-2.2z" fill="#293287"/><path d="M606 352.2l7.4 2.2-6.5 4.5-7.5-2z" fill="#283286"/><path d="M601.1 355.7l7.5 2.1-6.6 3.9-7.5-1.9z" fill="#283286"/><path d="M596.3 358.7l7.5 2-6.7 3.5-7.5-1.9z" fill="#283287"/><path d="M591.4 361.4l7.5 1.8-6.7 3.5-7.5-1.9z" fill="#293388"/><path d="M586.6 363.9l7.4 1.8-6.6 3.8-7.5-1.9z" fill="#293489"/><path d="M581.7 366.6l7.5 1.8-6.6 4.3-7.5-1.9z" fill="#29358a"/><path d="M576.8 369.7l7.5 1.9-6.5 4.6-7.5-1.8z" fill="#29358a"/><path d="M572 373.2l7.4 1.8-6.5 4.7-7.4-1.7z" fill="#293589"/><path d="M567.1 376.8l7.5 1.7-6.5 4.7-7.5-1.6z" fill="#293489"/><path d="M562.3 380.4l7.4 1.6-6.5 4.6-7.5-1.7z" fill="#293488"/><path d="M557.4 383.7l7.5 1.7-6.6 4.4-7.5-1.8z" fill="#293489"/><path d="M552.6 386.9l7.4 1.8-6.5 4.3-7.5-1.9z" fill="#293489"/><path d="M547.7 390l7.5 1.8-6.6 4.2-7.5-1.9z" fill="#29358a"/><path d="M542.8 393l7.5 1.9-6.6 4-7.5-1.8z" fill="#29358a"/><path d="M538 396l7.5 1.9-6.6 3.8-7.5-1.7z" fill="#29368a"/><path d="M533.1 399l7.5 1.7-6.6 3.9-7.5-1.7z" fill="#29368b"/><path d="M528.3 401.9l7.5 1.6-6.6 4-7.5-1.7z" fill="#2a378c"/><path d="M523.4 404.8l7.5 1.7-6.6 4.3-7.5-1.8z" fill="#2a378c"/><path d="M518.6 407.8l7.4 1.9-5.2 3.8-7.5-2z" fill="#2a378d"/><path d="M664.5 317.7l1.1.2-6.2 3.9-1.1-.3z" fill="#283185"/><path d="M660 320.4l1.1.3-6.5 4.8-1.1-.3z" fill="#283286"/><path d="M655.1 324l1.2.3-6.5 5.1-1.1-.3z" fill="#283185"/><path d="M650.3 327.8l1.1.4-6.5 4.9-1.1-.3z" fill="#283184"/><path d="M645.5 331.5l1.1.4-6.6 4.3-1.1-.3z" fill="#273083"/><path d="M640.6 334.8l1.2.3-6.7 3.8-1.1-.3z" fill="#273083"/><path d="M635.8 337.6l1.1.3-6.7 3.6-1.1-.2z" fill="#283184"/><path d="M630.9 340.3l1.1.2-6.6 4-1.1-.3z" fill="#283286"/><path d="M626 343.1l1.2.3-6.6 4.6-1.1-.4z" fill="#283287"/><path d="M621.2 346.5l1.1.3-6.5 4.9-1.1-.3z" fill="#283287"/><path d="M616.3 350.1l1.1.4-6.5 4.9-1.1-.3z" fill="#283286"/><path d="M611.5 353.8l1.1.4-6.5 4.5-1.2-.3z" fill="#283185"/><path d="M606.6 357.2l1.2.3-6.7 4-1.1-.3z" fill="#283185"/><path d="M601.8 360.2l1.1.2-6.7 3.5-1.1-.2z" fill="#283286"/><path d="M596.9 362.7l1.2.3-6.7 3.4-1.2-.2z" fill="#283387"/><path d="M592 365.2l1.2.3-6.6 3.8-1.2-.3z" fill="#293488"/><path d="M587.2 368l1.1.2-6.6 4.3-1.1-.3z" fill="#293489"/><path d="M582.3 371.1l1.2.2-6.6 4.7-1.1-.3z" fill="#293489"/><path d="M577.5 374.5l1.1.3-6.5 4.7-1.2-.2z" fill="#293489"/><path d="M572.6 378.1l1.1.2-6.5 4.7-1.1-.2z" fill="#293488"/><path d="M567.7 381.6l1.2.2-6.6 4.6-1.1-.3z" fill="#293488"/><path d="M562.9 385l1.1.2-6.5 4.4-1.2-.3z" fill="#293488"/><path d="M558 388.2l1.2.3-6.6 4.2-1.1-.2z" fill="#293489"/><path d="M553.2 391.3l1.1.3-6.6 4.2-1.1-.3z" fill="#293589"/><path d="M548.3 394.4l1.2.3-6.6 4-1.2-.3z" fill="#29358a"/><path d="M543.5 397.4l1.1.3-6.6 3.8-1.1-.2z" fill="#29358a"/><path d="M538.6 400.3l1.2.2-6.7 3.9-1.1-.3z" fill="#29368b"/><path d="M533.8 403.1l1.1.2-6.6 4.1-1.1-.3z" fill="#29368b"/><path d="M528.9 406l1.1.3-6.5 4.3-1.2-.3z" fill="#2a378c"/><path d="M524 409.2l1.2.3-5.2 3.8-1.2-.3z" fill="#2a378d"/></g><defs><filter id="hb" x="-50%" y="-50%" width="200%" height="200%"><feGaussianBlur stdDeviation="0.9"/></filter></defs><g filter="url(#hb)" opacity="0.9"><ellipse cx="530.5" cy="294.5" rx="10.0" ry="4.2" transform="rotate(-52 530.5 294.5)" fill="#8fdcf5" opacity="0.57"/><ellipse cx="530.5" cy="294.5" rx="8.5" ry="2.1" transform="rotate(-52 530.5 294.5)" fill="#ffffff" opacity="0.95"/><ellipse cx="543.0" cy="289.0" rx="5.5" ry="3.0" transform="rotate(-60 543.0 289.0)" fill="#8fdcf5" opacity="0.48"/><ellipse cx="543.0" cy="289.0" rx="4.0" ry="1.3" transform="rotate(-60 543.0 289.0)" fill="#ffffff" opacity="0.80"/><ellipse cx="483.0" cy="305.0" rx="10.5" ry="3.2" transform="rotate(-55 483.0 305.0)" fill="#8fdcf5" opacity="0.42"/><ellipse cx="483.0" cy="305.0" rx="9.0" ry="1.4" transform="rotate(-55 483.0 305.0)" fill="#ffffff" opacity="0.70"/><ellipse cx="441.0" cy="343.0" rx="9.0" ry="3.0" transform="rotate(-58 441.0 343.0)" fill="#8fdcf5" opacity="0.48"/><ellipse cx="441.0" cy="343.0" rx="7.5" ry="1.3" transform="rotate(-58 441.0 343.0)" fill="#ffffff" opacity="0.80"/><ellipse cx="415.0" cy="354.0" rx="5.5" ry="2.5" transform="rotate(-40 415.0 354.0)" fill="#8fdcf5" opacity="0.42"/><ellipse cx="415.0" cy="354.0" rx="4.0" ry="0.9" transform="rotate(-40 415.0 354.0)" fill="#ffffff" opacity="0.70"/><ellipse cx="374.0" cy="275.5" rx="17.5" ry="2.9" transform="rotate(-40 374.0 275.5)" fill="#8fdcf5" opacity="0.45"/><ellipse cx="374.0" cy="275.5" rx="16.0" ry="1.2" transform="rotate(-40 374.0 275.5)" fill="#ffffff" opacity="0.75"/><ellipse cx="305.0" cy="325.5" rx="13.5" ry="2.7" transform="rotate(-48 305.0 325.5)" fill="#8fdcf5" opacity="0.45"/><ellipse cx="305.0" cy="325.5" rx="12.0" ry="1.0" transform="rotate(-48 305.0 325.5)" fill="#ffffff" opacity="0.75"/><ellipse cx="323.5" cy="309.2" rx="3.5" ry="2.5" transform="rotate(-40 323.5 309.2)" fill="#8fdcf5" opacity="0.48"/><ellipse cx="323.5" cy="309.2" rx="2.0" ry="0.9" transform="rotate(-40 323.5 309.2)" fill="#ffffff" opacity="0.80"/><ellipse cx="400.2" cy="220.3" rx="4.0" ry="2.7" transform="rotate(-30 400.2 220.3)" fill="#8fdcf5" opacity="0.51"/><ellipse cx="400.2" cy="220.3" rx="2.5" ry="1.0" transform="rotate(-30 400.2 220.3)" fill="#ffffff" opacity="0.85"/><ellipse cx="477.5" cy="306.8" rx="4.5" ry="2.2" transform="rotate(-40 477.5 306.8)" fill="#8fdcf5" opacity="0.36"/><ellipse cx="477.5" cy="306.8" rx="3.0" ry="0.7" transform="rotate(-40 477.5 306.8)" fill="#ffffff" opacity="0.60"/><ellipse cx="517" cy="310" rx="10" ry="2.2" transform="rotate(-22 517 310)" fill="#1c2a78" opacity="0.55"/><ellipse cx="325" cy="331" rx="7" ry="4.5" fill="#7fd6f0" opacity="0.55" transform="rotate(-35 325 331)"/></g><rect x="780.2" y="584.28" width="21.8" height="8.92" fill="#272e7f"/><rect x="780.2" y="575.96" width="21.8" height="8.92" fill="#283084"/><rect x="780.2" y="567.64" width="21.8" height="8.92" fill="#293389"/><rect x="780.2" y="559.32" width="21.8" height="8.92" fill="#2a358d"/><rect x="780.2" y="551.00" width="21.8" height="8.92" fill="#2b3790"/><rect x="780.2" y="542.68" width="21.8" height="8.92" fill="#2c3a93"/><rect x="780.2" y="534.36" width="21.8" height="8.92" fill="#2c3c96"/><rect x="780.2" y="526.04" width="21.8" height="8.92" fill="#2d3f99"/><rect x="780.2" y="517.72" width="21.8" height="8.92" fill="#2e429b"/><rect x="780.2" y="509.40" width="21.8" height="8.92" fill="#2f459e"/><rect x="780.2" y="501.08" width="21.8" height="8.92" fill="#3049a1"/><rect x="780.2" y="492.76" width="21.8" height="8.92" fill="#314ea5"/><rect x="780.2" y="484.44" width="21.8" height="8.92" fill="#3153a8"/><rect x="780.2" y="476.12" width="21.8" height="8.92" fill="#3259ac"/><rect x="780.2" y="467.80" width="21.8" height="8.92" fill="#3160b2"/><rect x="780.2" y="459.47" width="21.8" height="8.92" fill="#3168b7"/><rect x="780.2" y="451.15" width="21.8" height="8.92" fill="#3070bc"/><rect x="780.2" y="442.83" width="21.8" height="8.92" fill="#2e7dc4"/><rect x="780.2" y="434.51" width="21.8" height="8.92" fill="#2b89cd"/><rect x="780.2" y="426.19" width="21.8" height="8.92" fill="#2996d5"/><rect x="780.2" y="417.87" width="21.8" height="8.92" fill="#27a3dd"/><rect x="780.2" y="409.55" width="21.8" height="8.92" fill="#2aaee1"/><rect x="780.2" y="401.23" width="21.8" height="8.92" fill="#37b3e0"/><rect x="780.2" y="392.91" width="21.8" height="8.92" fill="#43b9de"/><rect x="780.2" y="384.59" width="21.8" height="8.92" fill="#4cbbd9"/><rect x="780.2" y="376.27" width="21.8" height="8.92" fill="#55bdd3"/><rect x="780.2" y="367.95" width="21.8" height="8.92" fill="#5dbfcd"/><rect x="780.2" y="359.63" width="21.8" height="8.92" fill="#66c1c6"/><rect x="780.2" y="351.31" width="21.8" height="8.92" fill="#6ec3bb"/><rect x="780.2" y="342.99" width="21.8" height="8.92" fill="#77c4ae"/><rect x="780.2" y="334.67" width="21.8" height="8.92" fill="#7fc6a0"/><rect x="780.2" y="326.35" width="21.8" height="8.92" fill="#88c793"/><rect x="780.2" y="318.03" width="21.8" height="8.92" fill="#93ca85"/><rect x="780.2" y="309.71" width="21.8" height="8.92" fill="#a0cd78"/><rect x="780.2" y="301.39" width="21.8" height="8.92" fill="#aed06a"/><rect x="780.2" y="293.07" width="21.8" height="8.92" fill="#bbd45d"/><rect x="780.2" y="284.75" width="21.8" height="8.92" fill="#c9d851"/><rect x="780.2" y="276.43" width="21.8" height="8.92" fill="#d5dc4a"/><rect x="780.2" y="268.11" width="21.8" height="8.92" fill="#e1e143"/><rect x="780.2" y="259.79" width="21.8" height="8.92" fill="#ede53c"/><rect x="780.2" y="251.47" width="21.8" height="8.92" fill="#f4e238"/><rect x="780.2" y="243.15" width="21.8" height="8.92" fill="#f5d636"/><rect x="780.2" y="234.83" width="21.8" height="8.92" fill="#f5c935"/><rect x="780.2" y="226.51" width="21.8" height="8.92" fill="#f6bd34"/><rect x="780.2" y="218.19" width="21.8" height="8.92" fill="#f5af33"/><rect x="780.2" y="209.87" width="21.8" height="8.92" fill="#f4a232"/><rect x="780.2" y="201.55" width="21.8" height="8.92" fill="#f29430"/><rect x="780.2" y="193.22" width="21.8" height="8.92" fill="#f1872f"/><rect x="780.2" y="184.90" width="21.8" height="8.92" fill="#ef792e"/><rect x="780.2" y="176.58" width="21.8" height="8.92" fill="#ed6c2d"/><rect x="780.2" y="168.26" width="21.8" height="8.92" fill="#eb5e2d"/><rect x="780.2" y="159.94" width="21.8" height="8.92" fill="#e9512c"/><rect x="780.2" y="151.62" width="21.8" height="8.92" fill="#e7452c"/><rect x="780.2" y="143.30" width="21.8" height="8.92" fill="#e43c2b"/><rect x="780.2" y="134.98" width="21.8" height="8.92" fill="#e1332a"/><rect x="780.2" y="126.66" width="21.8" height="8.92" fill="#dd2a28"/><rect x="780.2" y="118.34" width="21.8" height="8.92" fill="#d52527"/><rect x="780.2" y="110.02" width="21.8" height="8.92" fill="#c92326"/><rect x="780.2" y="101.70" width="21.8" height="8.92" fill="#bd2125"/><rect x="780.2" y="93.38" width="21.8" height="8.92" fill="#b11f24"/><rect x="780.2" y="85.06" width="21.8" height="8.92" fill="#a51d23"/><rect x="780.2" y="76.74" width="21.8" height="8.92" fill="#991b21"/><rect x="780.2" y="68.42" width="21.8" height="8.92" fill="#8d191f"/><rect x="780.2" y="60.10" width="21.8" height="8.92" fill="#82171d"/><path d="M780.2 592.9h4M802.0 592.9h-4M780.2 507.0h4M802.0 507.0h-4M780.2 421.1h4M802.0 421.1h-4M780.2 335.2h4M802.0 335.2h-4M780.2 249.4h4M802.0 249.4h-4M780.2 163.5h4M802.0 163.5h-4M780.2 77.6h4M802.0 77.6h-4" stroke="#222" stroke-width="0.8"/><rect x="780.2" y="60.4" width="21.8" height="532.5" fill="none" stroke="#333" stroke-width="0.6"/><text transform="translate(1.0 63.5) scale(0.920 1)" font-size="29.0" font-weight="bold" text-anchor="start">a</text><text transform="translate(80.0 205.3) scale(0.960 1)" font-size="33.0" text-anchor="start">x 10</text><text transform="translate(139.0 182.6) scale(1.070 1)" font-size="20.0" text-anchor="start">19</text><text transform="translate(48.0 244.8) scale(1.000 1)" font-size="33.5" text-anchor="start">6</text><text transform="translate(48.0 278.6) scale(1.000 1)" font-size="33.5" text-anchor="start">4</text><text transform="translate(48.0 312.0) scale(1.000 1)" font-size="33.5" text-anchor="start">2</text><text transform="translate(48.0 342.0) scale(1.000 1)" font-size="33.5" text-anchor="start">0</text><text transform="translate(29.9 333.6) rotate(-90) scale(1.000 1)" font-size="28.5" font-weight="bold" text-anchor="start">N</text><text transform="translate(36.8 314.8) rotate(-90) scale(1.000 1)" font-size="19.5" font-weight="bold" text-anchor="start">e</text><text transform="translate(29.9 297.6) rotate(-90) scale(1.000 1)" font-size="28.5" font-weight="bold" text-anchor="start">(cm</text><text transform="translate(22.4 247.4) rotate(-90) scale(1.000 1)" font-size="18.5" font-weight="bold" text-anchor="start">-3</text><text transform="translate(29.9 232.6) rotate(-90) scale(1.000 1)" font-size="28.5" font-weight="bold" text-anchor="start">)</text><text transform="translate(5.6 547.9) scale(0.955 1)" font-size="33.5" text-anchor="start">-200</text><text transform="translate(114.2 570.3) scale(0.945 1)" font-size="33.5" text-anchor="start">-100</text><text transform="translate(270.8 593.4) scale(0.940 1)" font-size="33.5" text-anchor="start">0</text><text transform="translate(345.8 616.6) scale(0.940 1)" font-size="33.5" text-anchor="start">100</text><text transform="translate(454.5 639.8) scale(0.940 1)" font-size="33.5" text-anchor="start">200</text><text transform="translate(533.6 634.8) scale(0.940 1)" font-size="33.5" text-anchor="start">300</text><text transform="translate(679.6 534.3) scale(0.940 1)" font-size="33.5" text-anchor="start">0</text><text transform="translate(211.0 643.8) scale(1.000 1)" font-size="28.0" font-weight="bold" text-anchor="start">r (µm)</text><text transform="translate(638.6 588.6) scale(1.030 1)" font-size="27.0" font-weight="bold" text-anchor="start">z (µm)</text><text transform="translate(804.2 91.0) scale(1.000 1)" font-size="33.5" text-anchor="start">6</text><text transform="translate(804.2 176.7) scale(1.000 1)" font-size="33.5" text-anchor="start">5</text><text transform="translate(804.2 262.0) scale(1.000 1)" font-size="33.5" text-anchor="start">4</text><text transform="translate(804.2 348.5) scale(1.000 1)" font-size="33.5" text-anchor="start">3</text><text transform="translate(804.2 436.0) scale(1.000 1)" font-size="33.5" text-anchor="start">2</text><text transform="translate(804.2 523.0) scale(1.000 1)" font-size="33.5" text-anchor="start">1</text><text transform="translate(805.5 600.2) scale(0.940 1)" font-size="27.5" text-anchor="start">0</text><text transform="translate(801.0 56.0) scale(0.960 1)" font-size="33.0" text-anchor="start">x 10</text><text transform="translate(855.0 33.8) scale(1.070 1)" font-size="20.0" text-anchor="start">19</text></svg></body></html>
